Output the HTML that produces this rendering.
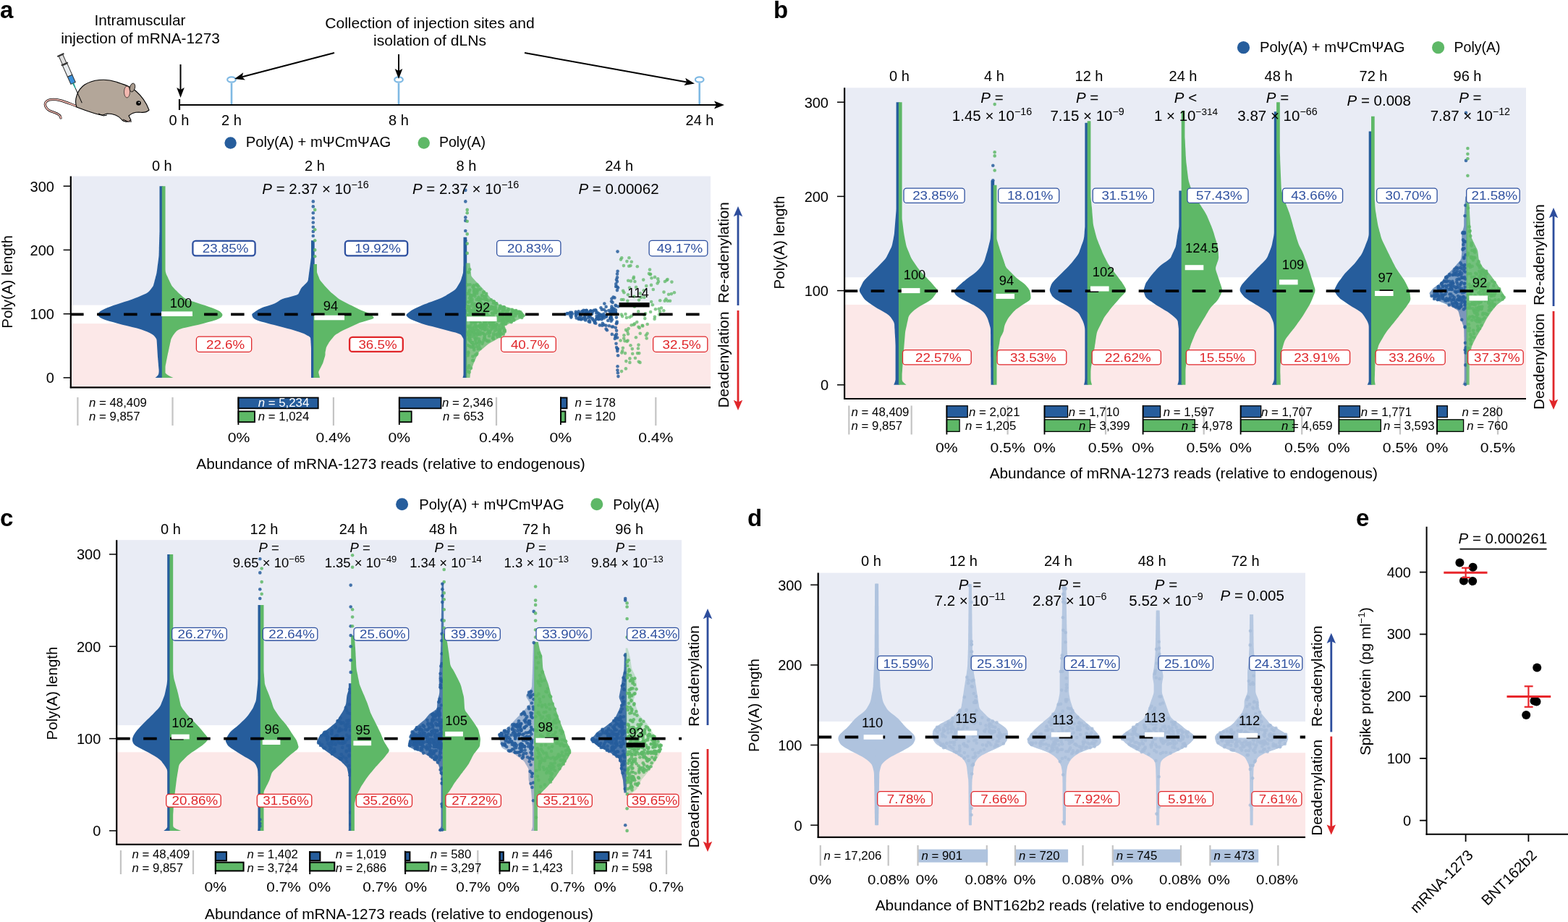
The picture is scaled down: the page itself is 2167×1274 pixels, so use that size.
<!DOCTYPE html>
<html><head><meta charset="utf-8"><title>Figure</title>
<style>html,body{margin:0;padding:0;background:#fff;}svg{display:block;}text{font-family:'Liberation Sans', Arial, Helvetica, sans-serif;}</style>
</head><body>
<svg width="2167" height="1274" viewBox="0 0 2167 1274">
<rect width="2167" height="1274" fill="#fff"/>
<text x="0" y="25" font-size="33" font-weight="bold">a</text>
<text x="193.5" y="35.2" font-size="20.8" text-anchor="middle" fill="#000" >Intramuscular</text>
<text x="194" y="60.3" font-size="20.8" text-anchor="middle" fill="#000" >injection of mRNA-1273</text>
<text x="594" y="38.9" font-size="21.1" text-anchor="middle" fill="#000" >Collection of injection sites and</text>
<text x="594" y="63.3" font-size="21.1" text-anchor="middle" fill="#000" >isolation of dLNs</text>
<line x1="248" y1="145" x2="990" y2="145" stroke="#000" stroke-width="2.2" />
<path d="M1001,145 L987,150.5 L990,145 L987,139.5 Z" fill="#000"/>
<line x1="248" y1="137" x2="248" y2="152" stroke="#000" stroke-width="2.2" />
<line x1="249.5" y1="89" x2="249.5" y2="124" stroke="#000" stroke-width="2" />
<path d="M249.5,135 L244.2,121 L249.5,124 L254.8,121 Z" fill="#000"/>
<line x1="320" y1="115" x2="320" y2="144" stroke="#7fb9e3" stroke-width="2.6" />
<ellipse cx="320" cy="110" rx="5.8" ry="3.6" fill="#fff" stroke="#7fb9e3" stroke-width="2.2"/>
<line x1="551" y1="115" x2="551" y2="144" stroke="#7fb9e3" stroke-width="2.6" />
<ellipse cx="551" cy="110" rx="5.8" ry="3.6" fill="#fff" stroke="#7fb9e3" stroke-width="2.2"/>
<line x1="966.7" y1="115" x2="966.7" y2="144" stroke="#7fb9e3" stroke-width="2.6" />
<ellipse cx="966.7" cy="110" rx="5.8" ry="3.6" fill="#fff" stroke="#7fb9e3" stroke-width="2.2"/>
<line x1="462" y1="73" x2="334.6" y2="106.2" stroke="#000" stroke-width="2" />
<path d="M324,109 L336.2,100.3 L334.6,106.2 L338.9,110.6 Z" fill="#000"/>
<line x1="551" y1="75" x2="551" y2="98" stroke="#000" stroke-width="2" />
<path d="M551,109 L545.7,95 L551,98 L556.3,95 Z" fill="#000"/>
<line x1="725" y1="73" x2="949.2" y2="113.4" stroke="#000" stroke-width="2" />
<path d="M960,115.4 L945.3,118.1 L949.2,113.4 L947.2,107.7 Z" fill="#000"/>
<text x="247.5" y="172.5" font-size="20" text-anchor="middle" fill="#000" >0 h</text>
<text x="320" y="172.5" font-size="20" text-anchor="middle" fill="#000" >2 h</text>
<text x="551" y="172.5" font-size="20" text-anchor="middle" fill="#000" >8 h</text>
<text x="967" y="172.5" font-size="20" text-anchor="middle" fill="#000" >24 h</text>
<circle cx="318.6" cy="197.5" r="8.2" fill="#265d9c"/>
<text x="339.7" y="203" font-size="20.2" text-anchor="start" fill="#000"  textLength="200.5" lengthAdjust="spacingAndGlyphs">Poly(A) + m&#936;Cm&#936;AG</text>
<circle cx="585.8" cy="197.5" r="8.2" fill="#5eb867"/>
<text x="607" y="203" font-size="19.6" text-anchor="start" fill="#000"  textLength="64" lengthAdjust="spacingAndGlyphs">Poly(A)</text>
<path d="M107,147 C95,143 80,135 68,138 C58,141 62,152 74,155 C80,157 84,160 84,163" fill="none" stroke="#000" stroke-width="3.2" stroke-linecap="round"/>
<path d="M107,147 C95,143 80,135 68,138 C58,141 62,152 74,155 C80,157 84,160 84,163" fill="none" stroke="#f2b8b0" stroke-width="1.8" stroke-linecap="round"/>
<path d="M106,148 C102,138 107,124 117,117 C128,110 146,108 160,113 C172,117 182,120 188,126 C196,133 203,144 206,152 C203,155 198,156 192,155 C186,155 181,157 178,160 L181,166 C177,169 171,169 168,165 C163,159 156,157 148,157 L142,159 C134,159 122,154 106,148 Z" fill="#b3a699" stroke="#000" stroke-width="1.1"/>
<ellipse cx="183" cy="121" rx="3.5" ry="6" fill="#a89a8d" stroke="#000" stroke-width="0.8" transform="rotate(15 183 121)"/>
<ellipse cx="175.5" cy="127" rx="4" ry="8" fill="#f2b8b0" stroke="#000" stroke-width="0.6"/>
<circle cx="191.5" cy="142.5" r="3.3" fill="#000"/><circle cx="192.3" cy="141.7" r="0.9" fill="#fff"/>
<path d="M170,165 L177,168 L182,168" fill="#f2b8b0" stroke="#000" stroke-width="1"/>
<path d="M136,157 L143,160 L148,159" fill="none" stroke="#000" stroke-width="1"/>
<g transform="translate(84,76.5) rotate(-24)"><rect x="-3" y="0" width="6" height="13" fill="#ddd" stroke="#333" stroke-width="1"/><rect x="-5" y="-1.5" width="10" height="2" fill="#333"/><rect x="-5" y="12" width="10" height="2" fill="#333"/><rect x="-3.5" y="14" width="7" height="17" fill="#e8ecef" stroke="#333" stroke-width="1"/><rect x="-3.5" y="31" width="7" height="11" fill="#3a8fd8" stroke="#333" stroke-width="1"/><path d="M-1.2,42 L1.2,42 L0.6,50 L-0.6,50 Z" fill="#1a9a8a"/><line x1="0" y1="50" x2="0" y2="72" stroke="#000" stroke-width="0.9"/></g>
<rect x="97.8" y="243.5" width="884.2" height="178.1" fill="#e9ecf5" stroke="none" stroke-width="0" />
<rect x="97.8" y="447.1" width="884.2" height="88.2" fill="#fce8e8" stroke="none" stroke-width="0" />
<path d="M225.2,521.9 L214.5,521.9 L216.7,520.2 L218.3,518.6 L219.1,516.9 L219.4,515.2 L219.6,513.6 L219.6,511.9 L219.5,510.2 L219.3,508.6 L219.2,506.9 L219,505.3 L218.9,503.6 L218.8,501.9 L218.6,500.3 L218.5,498.6 L218.3,496.9 L218.2,495.3 L218,493.6 L217.9,491.9 L217.8,490.3 L217.7,488.6 L217.6,486.9 L217.5,485.3 L217.4,483.6 L217.3,481.9 L217.2,480.3 L217.1,478.6 L217,477 L216.9,475.3 L216.8,473.6 L216.7,472 L216.6,470.3 L216.2,468.6 L215.3,467 L214,465.3 L212.5,463.6 L210.4,462 L207.4,460.3 L203.7,458.6 L199.7,457 L195,455.3 L189.3,453.6 L182.7,452 L175.9,450.3 L169.2,448.7 L162.8,447 L156.8,445.3 L150.9,443.7 L145.3,442 L141.1,440.3 L138.3,438.7 L136.5,437 L135.6,435.3 L135.6,433.7 L136.7,432 L138.3,430.3 L140.8,428.7 L144.2,427 L148.1,425.3 L152.2,423.7 L156.7,422 L161.7,420.4 L166.9,418.7 L172.1,417 L177.3,415.4 L182.2,413.7 L186.6,412 L190.7,410.4 L194.6,408.7 L198.6,407 L202.1,405.4 L204.7,403.7 L206.5,402 L207.8,400.4 L209.1,398.7 L210.4,397 L211.5,395.4 L212.2,393.7 L212.6,392.1 L213.1,390.4 L213.5,388.7 L213.9,387.1 L214.4,385.4 L214.8,383.7 L215.2,382.1 L215.7,380.4 L216.1,378.7 L216.5,377.1 L216.7,375.4 L217,373.7 L217.2,372.1 L217.4,370.4 L217.6,368.7 L217.8,367.1 L218,365.4 L218.3,363.8 L218.5,362.1 L218.7,360.4 L218.9,358.8 L219.1,357.1 L219.3,355.4 L219.5,353.8 L219.6,352.1 L219.6,350.4 L219.7,348.8 L219.7,347.1 L219.8,345.4 L219.8,343.8 L219.8,342.1 L219.9,340.4 L219.9,338.8 L220,337.1 L220,335.5 L220.1,333.8 L220.1,332.1 L220.2,330.5 L220.2,328.8 L220.3,327.1 L220.3,325.5 L220.4,323.8 L220.4,322.1 L220.5,320.5 L220.5,318.8 L220.5,317.1 L220.5,315.5 L220.5,313.8 L220.5,312.1 L220.5,310.5 L220.5,308.8 L220.5,307.2 L220.5,305.5 L220.5,303.8 L220.5,302.2 L220.5,300.5 L220.5,298.8 L220.5,297.2 L220.5,295.5 L220.5,293.8 L220.5,292.2 L220.5,290.5 L220.5,288.8 L220.5,287.2 L220.5,285.5 L220.5,283.8 L220.5,282.2 L220.5,280.5 L220.5,278.9 L220.5,277.2 L220.5,275.5 L220.5,273.9 L220.5,272.2 L220.5,270.5 L220.5,268.9 L220.5,267.2 L220.5,265.5 L220.5,263.9 L220.5,262.2 L220.5,260.5 L220.5,258.9 L220.5,257.2 L225.2,257.2 Z" fill="#265d9c" />
<path d="M223.8,521.9 L239.5,521.9 L235.5,520.2 L232.3,518.6 L230.1,516.9 L228.5,515.2 L228.5,513.6 L228.5,511.9 L228.5,510.2 L228.5,508.6 L228.5,506.9 L228.7,505.3 L229,503.6 L229.4,501.9 L229.7,500.3 L230,498.6 L230.3,496.9 L230.7,495.3 L231,493.6 L231.3,491.9 L231.7,490.3 L232,488.6 L232.4,486.9 L232.8,485.3 L233.1,483.6 L233.5,481.9 L233.8,480.3 L234.2,478.6 L234.6,477 L234.9,475.3 L235.3,473.6 L235.7,472 L236,470.3 L236.5,468.6 L237.2,467 L238.2,465.3 L239.2,463.6 L240.3,462 L241.6,460.3 L243.1,458.6 L244.6,457 L247.5,455.3 L252.5,453.6 L259.5,452 L267,450.3 L274.3,448.7 L281,447 L287.2,445.3 L293.1,443.7 L298.7,442 L302.7,440.3 L305.4,438.7 L306.9,437 L307.5,435.3 L307.1,433.7 L305.7,432 L303.8,430.3 L301,428.7 L297.1,427 L292.7,425.3 L288.2,423.7 L283.4,422 L278.3,420.4 L273.1,418.7 L267.9,417 L262.7,415.4 L258.4,413.7 L255.2,412 L253.1,410.4 L251.2,408.7 L249.3,407 L247.5,405.4 L245.7,403.7 L244.1,402 L242.4,400.4 L240.8,398.7 L239.2,397 L237.9,395.4 L236.8,393.7 L236,392.1 L235.2,390.4 L234.4,388.7 L233.6,387.1 L232.8,385.4 L232.1,383.7 L231.3,382.1 L230.5,380.4 L229.7,378.7 L229.2,377.1 L228.8,375.4 L228.6,373.7 L228.5,372.1 L228.5,370.4 L228.5,368.7 L228.5,367.1 L228.5,365.4 L228.5,363.8 L228.5,362.1 L228.5,360.4 L228.5,358.8 L228.5,357.1 L228.5,355.4 L228.5,353.8 L228.5,352.1 L228.5,350.4 L228.5,348.8 L228.5,347.1 L228.5,345.4 L228.5,343.8 L228.5,342.1 L228.5,340.4 L228.5,338.8 L228.5,337.1 L228.5,335.5 L228.5,333.8 L228.5,332.1 L228.5,330.5 L228.5,328.8 L228.5,327.1 L228.5,325.5 L228.5,323.8 L228.5,322.1 L228.5,320.5 L228.5,318.8 L228.5,317.1 L228.5,315.5 L228.5,313.8 L228.5,312.1 L228.5,310.5 L228.5,308.8 L228.5,307.2 L228.5,305.5 L228.5,303.8 L228.5,302.2 L228.5,300.5 L228.5,298.8 L228.5,297.2 L228.5,295.5 L228.5,293.8 L228.5,292.2 L228.5,290.5 L228.5,288.8 L228.5,287.2 L228.5,285.5 L228.5,283.8 L228.5,282.2 L228.5,280.5 L228.5,278.9 L228.5,277.2 L228.5,275.5 L228.5,273.9 L228.5,272.2 L228.5,270.5 L228.5,268.9 L228.5,267.2 L228.5,265.5 L228.5,263.9 L228.5,262.2 L228.5,260.5 L228.5,258.9 L228.5,257.2 L223.8,257.2 Z" fill="#5eb867" />
<path d="M434.7,521.9 L430,521.9 L430,520.7 L430,519.5 L430,518.3 L430,517.1 L430,515.9 L430,514.7 L430,513.5 L430,512.4 L430,511.2 L430,510 L430,508.8 L430,507.6 L430,506.4 L430,505.2 L430,504 L430,502.8 L430,501.6 L430,500.4 L430,499.2 L430,498 L430,496.8 L430,495.7 L430,494.5 L430,493.3 L430,492.1 L430,490.9 L430,489.7 L430,488.5 L430,487.3 L430,486.1 L430,484.9 L430,483.7 L430,482.5 L430,481.3 L429.9,480.1 L429.9,479 L429.8,477.8 L429.7,476.6 L429.7,475.4 L429.6,474.2 L429.5,473 L429.5,471.8 L429.4,470.6 L429.3,469.4 L429.2,468.2 L429.1,467 L428.2,465.8 L426.7,464.6 L424.5,463.4 L422.4,462.2 L420,461.1 L417.1,459.9 L413.7,458.7 L409.7,457.5 L405.8,456.3 L401.8,455.1 L397.5,453.9 L392.9,452.7 L388.2,451.5 L383.5,450.3 L378.9,449.1 L374.3,447.9 L369.9,446.7 L365.5,445.5 L361.2,444.4 L357.2,443.2 L354.1,442 L351.8,440.8 L350.3,439.6 L349.4,438.4 L348.9,437.2 L348.4,436 L348.2,434.8 L348.7,433.6 L350,432.4 L351.8,431.2 L353.5,430 L355.4,428.8 L357.4,427.6 L359.5,426.5 L362,425.3 L365.2,424.1 L368.9,422.9 L372.9,421.7 L376.7,420.5 L379.8,419.3 L382.1,418.1 L383.8,416.9 L385.6,415.7 L387.4,414.5 L390,413.3 L393.6,412.1 L398.1,410.9 L402.5,409.8 L406.9,408.6 L410.3,407.4 L412.3,406.2 L413,405 L413.5,403.8 L414.1,402.6 L414.6,401.4 L415.2,400.2 L415.8,399 L416.7,397.8 L417.7,396.6 L418.9,395.4 L420.1,394.2 L421.3,393.1 L422.4,391.9 L423.6,390.7 L424.7,389.5 L425.4,388.3 L425.8,387.1 L426,385.9 L426.1,384.7 L426.3,383.5 L426.5,382.3 L426.6,381.1 L426.8,379.9 L426.9,378.7 L427.1,377.5 L427.2,376.3 L427.4,375.2 L427.6,374 L427.7,372.8 L427.9,371.6 L428,370.4 L428.2,369.2 L428.4,368 L428.5,366.8 L428.7,365.6 L428.8,364.4 L429,363.2 L429.2,362 L429.3,360.8 L429.5,359.6 L429.6,358.5 L429.8,357.3 L430,356.1 L430,354.9 L430,353.7 L430,352.5 L430,351.3 L430,350.1 L430,348.9 L430,347.7 L430,346.5 L430,345.3 L430,344.1 L430,342.9 L430,341.7 L430,340.6 L430,339.4 L430,338.2 L430,337 L430,335.8 L430,334.6 L430,333.4 L430,332.2 L434.7,332.2 Z" fill="#265d9c" />
<path d="M433.3,521.9 L442,521.9 L441.8,520.9 L441.5,519.9 L441.3,518.9 L441,517.9 L440.8,517 L440.5,516 L440.3,515 L440.3,514 L440.5,513 L441,512 L441.5,511 L442,510 L442.6,509.1 L443.1,508.1 L443.6,507.1 L444.1,506.1 L444.6,505.1 L445.1,504.1 L445.6,503.1 L446.1,502.1 L446.4,501.2 L446.7,500.2 L447,499.2 L447.3,498.2 L447.6,497.2 L447.9,496.2 L448.2,495.2 L448.5,494.2 L448.8,493.3 L449.1,492.3 L449.3,491.3 L449.5,490.3 L449.5,489.3 L449.5,488.3 L449.5,487.3 L449.6,486.3 L449.8,485.4 L450,484.4 L450.2,483.4 L450.4,482.4 L450.6,481.4 L450.8,480.4 L451.2,479.4 L451.7,478.4 L452.2,477.5 L452.8,476.5 L453.4,475.5 L454,474.5 L454.5,473.5 L455.2,472.5 L455.9,471.5 L456.7,470.5 L457.5,469.6 L458.3,468.6 L459.2,467.6 L460,466.6 L460.8,465.6 L461.6,464.6 L462.6,463.6 L463.8,462.6 L465.2,461.6 L466.8,460.7 L468.3,459.7 L469.8,458.7 L471.6,457.7 L473.5,456.7 L475.6,455.7 L477.8,454.7 L480,453.7 L482.2,452.8 L484.4,451.8 L486.6,450.8 L488.7,449.8 L490.9,448.8 L493.1,447.8 L495.2,446.8 L497.7,445.8 L500.6,444.9 L503.8,443.9 L507.2,442.9 L510.5,441.9 L513.9,440.9 L516,439.9 L516.7,438.9 L516,437.9 L515.3,437 L514.5,436 L513.7,435 L512.3,434 L510.3,433 L507.7,432 L505,431 L502.4,430 L499.9,429.1 L497.5,428.1 L495.4,427.1 L493.5,426.1 L491.5,425.1 L489.5,424.1 L487.6,423.1 L485.6,422.1 L483.7,421.2 L481.7,420.2 L479.8,419.2 L477.9,418.2 L476,417.2 L474.1,416.2 L472.2,415.2 L470.4,414.2 L468.7,413.2 L467.3,412.3 L466.1,411.3 L465,410.3 L463.8,409.3 L462.6,408.3 L461.4,407.3 L460.2,406.3 L459,405.3 L457.9,404.4 L456.9,403.4 L455.9,402.4 L455,401.4 L454,400.4 L453.1,399.4 L452.1,398.4 L451.2,397.4 L450.2,396.5 L449.3,395.5 L448.4,394.5 L447.6,393.5 L446.8,392.5 L445.9,391.5 L445.1,390.5 L444.2,389.5 L443.4,388.6 L442.6,387.6 L442,386.6 L441.5,385.6 L441.1,384.6 L440.8,383.6 L440.4,382.6 L440,381.6 L439.6,380.7 L439.3,379.7 L438.9,378.7 L438.5,377.7 L438.2,376.7 L438,375.7 L438,374.7 L438,373.7 L438,372.8 L438,371.8 L438,370.8 L438,369.8 L438,368.8 L438,367.8 L438,366.8 L438,365.8 L438,364.9 L433.3,364.9 Z" fill="#5eb867" />
<g fill="#265d9c" fill-opacity="0.85"><circle cx="432.8" cy="278.4" r="2.3"/><circle cx="432.8" cy="285.4" r="2.3"/><circle cx="432.8" cy="294.3" r="2.3"/><circle cx="432.8" cy="301.3" r="2.3"/><circle cx="432.8" cy="307.5" r="2.3"/><circle cx="432.8" cy="313.7" r="2.3"/><circle cx="432.8" cy="319.9" r="2.3"/><circle cx="432.8" cy="326" r="2.3"/></g>
<g fill="#5eb867" fill-opacity="0.85"><circle cx="435.2" cy="289.9" r="2.3"/><circle cx="435.2" cy="317.2" r="2.3"/><circle cx="435.2" cy="332.2" r="2.3"/><circle cx="435.2" cy="345.4" r="2.3"/><circle cx="435.2" cy="354.3" r="2.3"/></g>
<path d="M645.2,521.9 L639.5,521.9 L639.8,520.7 L640.2,519.5 L640.4,518.2 L640.5,517 L640.5,515.8 L640.5,514.6 L640.5,513.4 L640.5,512.1 L640.5,510.9 L640.5,509.7 L640.5,508.5 L640.5,507.3 L640.5,506 L640.5,504.8 L640.5,503.6 L640.5,502.4 L640.5,501.1 L640.5,499.9 L640.5,498.7 L640.5,497.5 L640.5,496.3 L640.5,495 L640.5,493.8 L640.5,492.6 L640.5,491.4 L640.5,490.2 L640.5,488.9 L640.5,487.7 L640.5,486.5 L640.5,485.3 L640.5,484.1 L640.5,482.8 L640.5,481.6 L640.5,480.4 L640.5,479.2 L640.5,478 L640.5,476.7 L640.5,475.5 L640.5,474.3 L640.5,473.1 L640.5,471.8 L640.5,470.6 L640.5,469.4 L640.4,468.2 L639.8,467 L639.1,465.7 L638.3,464.5 L637.6,463.3 L636.2,462.1 L633.6,460.9 L629.6,459.6 L625,458.4 L620.4,457.2 L615.8,456 L611.1,454.8 L606.5,453.5 L601.8,452.3 L597.2,451.1 L592.5,449.9 L588,448.7 L583.9,447.4 L580.4,446.2 L577.2,445 L574,443.8 L570.8,442.5 L567.9,441.3 L565.7,440.1 L564.2,438.9 L563,437.7 L561.8,436.4 L561.4,435.2 L562.1,434 L563.6,432.8 L565.2,431.6 L566.8,430.3 L568.4,429.1 L570.2,427.9 L572.5,426.7 L575.1,425.5 L577.9,424.2 L580.7,423 L583.4,421.8 L586.4,420.6 L589.5,419.4 L592.8,418.1 L596.1,416.9 L599.4,415.7 L602.8,414.5 L606.1,413.2 L609.2,412 L611.9,410.8 L614.2,409.6 L616.2,408.4 L618.2,407.1 L620.1,405.9 L622.1,404.7 L624.1,403.5 L626.1,402.3 L627.9,401 L629.4,399.8 L630.4,398.6 L631.2,397.4 L631.9,396.2 L632.7,394.9 L633.4,393.7 L634.2,392.5 L634.9,391.3 L635.7,390.1 L636.3,388.8 L636.8,387.6 L637.2,386.4 L637.6,385.2 L637.9,384 L638.3,382.7 L638.7,381.5 L639.1,380.3 L639.4,379.1 L639.8,377.8 L640,376.6 L640.1,375.4 L640.1,374.2 L640.2,373 L640.2,371.7 L640.3,370.5 L640.3,369.3 L640.4,368.1 L640.5,366.9 L640.5,365.6 L640.5,364.4 L640.5,363.2 L640.5,362 L640.5,360.8 L640.5,359.5 L640.5,358.3 L640.5,357.1 L640.5,355.9 L640.5,354.7 L640.5,353.4 L640.5,352.2 L640.5,351 L640.5,349.8 L640.5,348.5 L640.5,347.3 L640.5,346.1 L640.5,344.9 L640.5,343.7 L640.5,342.4 L640.5,341.2 L640.5,340 L640.5,338.8 L640.5,337.6 L640.5,336.3 L640.5,335.1 L640.5,333.9 L640.5,332.7 L640.5,331.5 L640.5,330.2 L640.5,329 L640.5,327.8 L645.2,327.8 Z" fill="#265d9c" />
<path d="M643.8,521.9 L649.5,521.9 L649.6,520.9 L649.7,519.9 L649.8,518.9 L649.9,517.9 L649.9,516.9 L650,515.9 L650.1,514.9 L650.3,513.9 L650.6,512.9 L651,511.9 L651.3,510.9 L651.7,509.9 L652.1,508.9 L652.5,507.9 L652.8,507 L653.2,506 L653.6,505 L653.9,504 L654.3,503 L654.7,502 L655.2,501 L655.6,500 L656,499 L656.5,498 L656.9,497 L657.4,496 L657.8,495 L658.2,494 L658.7,493 L659.1,492 L659.6,491 L660,490 L660.4,489 L660.9,488 L661.5,487 L662.3,486 L663.4,485 L664.6,484 L665.8,483 L667,482 L668.2,481 L669.3,480 L670.5,479 L671.7,478 L672.9,477.1 L674.1,476.1 L675.5,475.1 L677.1,474.1 L678.9,473.1 L680.7,472.1 L682.5,471.1 L684.3,470.1 L686.1,469.1 L687.9,468.1 L689.7,467.1 L691.3,466.1 L692.7,465.1 L694.1,464.1 L695.4,463.1 L696.7,462.1 L698,461.1 L699.3,460.1 L700,459.1 L700.1,458.1 L699.8,457.1 L699.5,456.1 L699.2,455.1 L698.8,454.1 L698.5,453.1 L698.2,452.1 L697.9,451.1 L698.3,450.1 L699.5,449.1 L701.7,448.2 L703.9,447.2 L706.2,446.2 L708.5,445.2 L710.7,444.2 L713,443.2 L715.2,442.2 L717.4,441.2 L719.6,440.2 L721.7,439.2 L723.7,438.2 L725.6,437.2 L726.4,436.2 L726,435.2 L724.7,434.2 L723.4,433.2 L722.1,432.2 L720.8,431.2 L719.4,430.2 L717.2,429.2 L714.4,428.2 L711.1,427.2 L707.8,426.2 L704.5,425.2 L701.2,424.2 L697.8,423.2 L694.5,422.2 L691.3,421.2 L688.8,420.2 L687.1,419.2 L685.9,418.3 L684.7,417.3 L683.5,416.3 L682.3,415.3 L681.1,414.3 L679.9,413.3 L678.7,412.3 L677.6,411.3 L676.7,410.3 L675.9,409.3 L675.1,408.3 L674.3,407.3 L673.5,406.3 L672.7,405.3 L671.9,404.3 L671.1,403.3 L670.3,402.3 L669.4,401.3 L668.6,400.3 L667.7,399.3 L666.8,398.3 L665.8,397.3 L664.9,396.3 L664,395.3 L663,394.3 L662.1,393.3 L661.1,392.3 L660.2,391.3 L659.3,390.3 L658.3,389.4 L657.4,388.4 L656.5,387.4 L655.6,386.4 L654.7,385.4 L653.8,384.4 L652.9,383.4 L652.1,382.4 L651.5,381.4 L651.2,380.4 L651.1,379.4 L651,378.4 L650.9,377.4 L650.8,376.4 L650.7,375.4 L650.6,374.4 L650.5,373.4 L650.4,372.4 L650.3,371.4 L650.2,370.4 L650.1,369.4 L650,368.4 L649.9,367.4 L649.8,366.4 L649.7,365.4 L649.6,364.4 L649.5,363.4 L643.8,363.4 Z" fill="#5eb867" fill-opacity="0.75"/>
<g fill="#5eb867" fill-opacity="0.85"><circle cx="674.7" cy="457.2" r="2.3"/><circle cx="681.4" cy="446.4" r="2.3"/><circle cx="650.9" cy="433.7" r="2.3"/><circle cx="654" cy="498.1" r="2.3"/><circle cx="658.2" cy="455.6" r="2.3"/><circle cx="647.8" cy="376.5" r="2.3"/><circle cx="667.9" cy="421.8" r="2.3"/><circle cx="657.4" cy="433.3" r="2.3"/><circle cx="712.5" cy="433.3" r="2.3"/><circle cx="703" cy="438.1" r="2.3"/><circle cx="650.7" cy="431.7" r="2.3"/><circle cx="684.2" cy="427.4" r="2.3"/><circle cx="647.5" cy="452" r="2.3"/><circle cx="664.4" cy="418.2" r="2.3"/><circle cx="708.5" cy="429.4" r="2.3"/><circle cx="712.3" cy="429.8" r="2.3"/><circle cx="695.8" cy="444.9" r="2.3"/><circle cx="710.1" cy="442.1" r="2.3"/><circle cx="649.5" cy="416.7" r="2.3"/><circle cx="655.6" cy="465.9" r="2.3"/><circle cx="654.9" cy="399.2" r="2.3"/><circle cx="669.2" cy="433.7" r="2.3"/><circle cx="675" cy="438.9" r="2.3"/><circle cx="678.1" cy="448" r="2.3"/><circle cx="718.1" cy="435.7" r="2.3"/><circle cx="714.8" cy="431.4" r="2.3"/><circle cx="686" cy="419.4" r="2.3"/><circle cx="658.1" cy="431.7" r="2.3"/><circle cx="684.5" cy="419" r="2.3"/><circle cx="664.3" cy="412.7" r="2.3"/><circle cx="661.1" cy="429.8" r="2.3"/><circle cx="673.2" cy="422.2" r="2.3"/><circle cx="649.2" cy="453.2" r="2.3"/><circle cx="686.4" cy="419.8" r="2.3"/><circle cx="673.9" cy="471.5" r="2.3"/><circle cx="655.6" cy="444.1" r="2.3"/><circle cx="685.5" cy="452.4" r="2.3"/><circle cx="647.6" cy="417.5" r="2.3"/><circle cx="649.4" cy="434.5" r="2.3"/><circle cx="669.5" cy="429.4" r="2.3"/><circle cx="681.9" cy="416.3" r="2.3"/><circle cx="721.2" cy="438.9" r="2.3"/><circle cx="649.8" cy="451.2" r="2.3"/><circle cx="648.4" cy="434.9" r="2.3"/><circle cx="667.2" cy="460.3" r="2.3"/><circle cx="658.1" cy="434.5" r="2.3"/><circle cx="663.6" cy="481.8" r="2.3"/><circle cx="694.7" cy="450.8" r="2.3"/><circle cx="658.7" cy="413.9" r="2.3"/><circle cx="682.5" cy="441.3" r="2.3"/><circle cx="691.3" cy="432.9" r="2.3"/><circle cx="695.2" cy="436.9" r="2.3"/><circle cx="659.1" cy="405.5" r="2.3"/><circle cx="694" cy="442.9" r="2.3"/><circle cx="661.8" cy="457.2" r="2.3"/><circle cx="654.4" cy="394.4" r="2.3"/><circle cx="646.8" cy="437.3" r="2.3"/><circle cx="683.6" cy="443.7" r="2.3"/><circle cx="653.3" cy="492.5" r="2.3"/><circle cx="650.5" cy="433.7" r="2.3"/><circle cx="681.9" cy="433.7" r="2.3"/><circle cx="672" cy="431.4" r="2.3"/><circle cx="699.5" cy="430.2" r="2.3"/><circle cx="646.6" cy="491.3" r="2.3"/><circle cx="717.9" cy="431.7" r="2.3"/><circle cx="669.9" cy="456" r="2.3"/><circle cx="671.3" cy="435.3" r="2.3"/><circle cx="664" cy="446.8" r="2.3"/><circle cx="680.9" cy="446.4" r="2.3"/><circle cx="665.2" cy="452" r="2.3"/><circle cx="647.6" cy="426.6" r="2.3"/><circle cx="704.9" cy="436.1" r="2.3"/><circle cx="657.3" cy="451.2" r="2.3"/><circle cx="659.1" cy="424.6" r="2.3"/><circle cx="668.2" cy="461.1" r="2.3"/><circle cx="653.3" cy="430.6" r="2.3"/><circle cx="662.8" cy="450.4" r="2.3"/><circle cx="666.2" cy="421.8" r="2.3"/><circle cx="652.7" cy="419.4" r="2.3"/><circle cx="680.6" cy="448.8" r="2.3"/><circle cx="662.2" cy="415.9" r="2.3"/><circle cx="652.3" cy="458" r="2.3"/><circle cx="660.6" cy="438.1" r="2.3"/><circle cx="691.4" cy="424.2" r="2.3"/><circle cx="660" cy="461.5" r="2.3"/><circle cx="680.7" cy="424.2" r="2.3"/><circle cx="664.6" cy="424.2" r="2.3"/><circle cx="658.6" cy="466.7" r="2.3"/><circle cx="661.3" cy="425" r="2.3"/><circle cx="668.5" cy="448.4" r="2.3"/><circle cx="672.5" cy="443.7" r="2.3"/><circle cx="650.5" cy="409.9" r="2.3"/><circle cx="650.9" cy="508.8" r="2.3"/><circle cx="682.6" cy="416.7" r="2.3"/><circle cx="710.3" cy="442.5" r="2.3"/><circle cx="652.2" cy="408.7" r="2.3"/><circle cx="702.4" cy="428.2" r="2.3"/><circle cx="684.9" cy="432.1" r="2.3"/><circle cx="663.5" cy="452.8" r="2.3"/><circle cx="649.5" cy="458" r="2.3"/><circle cx="668.7" cy="435.3" r="2.3"/><circle cx="648.3" cy="423.8" r="2.3"/><circle cx="668.7" cy="413.1" r="2.3"/><circle cx="671.8" cy="409.1" r="2.3"/><circle cx="665.1" cy="413.5" r="2.3"/><circle cx="653.1" cy="498.1" r="2.3"/><circle cx="660.8" cy="462.3" r="2.3"/><circle cx="685.4" cy="432.1" r="2.3"/><circle cx="707" cy="443.7" r="2.3"/><circle cx="672.6" cy="434.5" r="2.3"/><circle cx="691.2" cy="456" r="2.3"/><circle cx="702.4" cy="440.5" r="2.3"/><circle cx="656.8" cy="448" r="2.3"/><circle cx="709.5" cy="437.7" r="2.3"/><circle cx="685.2" cy="462.3" r="2.3"/><circle cx="669.5" cy="409.5" r="2.3"/><circle cx="646.3" cy="423" r="2.3"/><circle cx="712.6" cy="433.7" r="2.3"/><circle cx="652.2" cy="479.4" r="2.3"/><circle cx="673.4" cy="454.8" r="2.3"/><circle cx="677.1" cy="443.3" r="2.3"/><circle cx="646" cy="426.2" r="2.3"/><circle cx="649" cy="478.2" r="2.3"/><circle cx="648.8" cy="467.1" r="2.3"/><circle cx="660.8" cy="395.6" r="2.3"/><circle cx="663.1" cy="471.9" r="2.3"/><circle cx="661.9" cy="450.8" r="2.3"/><circle cx="681.6" cy="448" r="2.3"/><circle cx="674.7" cy="435.7" r="2.3"/><circle cx="662.9" cy="460.7" r="2.3"/><circle cx="669.7" cy="467.1" r="2.3"/><circle cx="673.3" cy="429.8" r="2.3"/><circle cx="651.6" cy="473.1" r="2.3"/><circle cx="681.4" cy="446.4" r="2.3"/><circle cx="668.5" cy="425.8" r="2.3"/><circle cx="680.5" cy="424.6" r="2.3"/><circle cx="670.8" cy="442.9" r="2.3"/><circle cx="697.8" cy="439.7" r="2.3"/><circle cx="691.7" cy="443.3" r="2.3"/><circle cx="663.1" cy="441.3" r="2.3"/><circle cx="700" cy="437.7" r="2.3"/><circle cx="658.3" cy="474.6" r="2.3"/><circle cx="703.9" cy="443.3" r="2.3"/><circle cx="656" cy="406.7" r="2.3"/><circle cx="672.6" cy="413.9" r="2.3"/><circle cx="670.2" cy="455.2" r="2.3"/><circle cx="680.8" cy="467.1" r="2.3"/><circle cx="712.6" cy="432.1" r="2.3"/><circle cx="684.8" cy="425.4" r="2.3"/><circle cx="685.4" cy="429" r="2.3"/><circle cx="668.6" cy="469.5" r="2.3"/><circle cx="646.7" cy="508.4" r="2.3"/><circle cx="648.6" cy="426.6" r="2.3"/><circle cx="649.4" cy="471.1" r="2.3"/><circle cx="652.5" cy="416.3" r="2.3"/><circle cx="656.8" cy="490.5" r="2.3"/><circle cx="681.5" cy="467.5" r="2.3"/><circle cx="708.4" cy="431.7" r="2.3"/><circle cx="659.7" cy="402.8" r="2.3"/><circle cx="647.9" cy="425" r="2.3"/><circle cx="678.4" cy="427" r="2.3"/><circle cx="653.6" cy="429.8" r="2.3"/><circle cx="707.7" cy="427.8" r="2.3"/><circle cx="654.5" cy="476.6" r="2.3"/><circle cx="712.2" cy="436.5" r="2.3"/><circle cx="655.4" cy="456.8" r="2.3"/><circle cx="678.3" cy="456" r="2.3"/><circle cx="671.9" cy="427.8" r="2.3"/><circle cx="668.8" cy="446.8" r="2.3"/><circle cx="668.9" cy="448" r="2.3"/><circle cx="662.7" cy="472.3" r="2.3"/><circle cx="653.4" cy="396.4" r="2.3"/><circle cx="656.7" cy="428.2" r="2.3"/><circle cx="701.6" cy="431" r="2.3"/><circle cx="684.5" cy="431.7" r="2.3"/><circle cx="692.8" cy="440.1" r="2.3"/><circle cx="650.9" cy="413.9" r="2.3"/><circle cx="673.2" cy="470.7" r="2.3"/><circle cx="661.5" cy="410.7" r="2.3"/><circle cx="695.2" cy="442.1" r="2.3"/><circle cx="659.6" cy="461.1" r="2.3"/><circle cx="676.5" cy="460.3" r="2.3"/><circle cx="657.7" cy="450.8" r="2.3"/><circle cx="716.1" cy="431" r="2.3"/><circle cx="682.2" cy="452.4" r="2.3"/><circle cx="701.4" cy="443.7" r="2.3"/><circle cx="667.2" cy="435.7" r="2.3"/><circle cx="647.1" cy="458.8" r="2.3"/><circle cx="673.5" cy="440.5" r="2.3"/><circle cx="663.8" cy="462.3" r="2.3"/><circle cx="685.2" cy="450.4" r="2.3"/><circle cx="691.4" cy="465.1" r="2.3"/><circle cx="689.1" cy="440.5" r="2.3"/><circle cx="705.4" cy="440.9" r="2.3"/><circle cx="673.9" cy="423" r="2.3"/><circle cx="698.5" cy="440.1" r="2.3"/><circle cx="662.1" cy="419.4" r="2.3"/><circle cx="713.2" cy="429" r="2.3"/><circle cx="662.3" cy="440.9" r="2.3"/><circle cx="683.9" cy="457.2" r="2.3"/><circle cx="717.5" cy="431.7" r="2.3"/><circle cx="655.8" cy="419.8" r="2.3"/><circle cx="659.3" cy="460.7" r="2.3"/><circle cx="682" cy="461.1" r="2.3"/><circle cx="681.9" cy="419" r="2.3"/><circle cx="691.3" cy="455.6" r="2.3"/><circle cx="667.5" cy="450.8" r="2.3"/><circle cx="651.9" cy="429" r="2.3"/><circle cx="675.7" cy="471.1" r="2.3"/><circle cx="664.3" cy="452.8" r="2.3"/><circle cx="699.9" cy="435.7" r="2.3"/><circle cx="648.1" cy="505.2" r="2.3"/><circle cx="678.8" cy="442.5" r="2.3"/><circle cx="677.2" cy="459.2" r="2.3"/><circle cx="654.9" cy="402" r="2.3"/><circle cx="655.3" cy="437.3" r="2.3"/><circle cx="680.5" cy="454" r="2.3"/><circle cx="682" cy="468.3" r="2.3"/><circle cx="648.9" cy="411.9" r="2.3"/><circle cx="655.6" cy="405.5" r="2.3"/><circle cx="693" cy="426.6" r="2.3"/><circle cx="680.7" cy="452.4" r="2.3"/><circle cx="706.9" cy="432.5" r="2.3"/><circle cx="685.3" cy="454.8" r="2.3"/><circle cx="660.6" cy="400.4" r="2.3"/><circle cx="654.7" cy="437.7" r="2.3"/><circle cx="671.9" cy="439.7" r="2.3"/><circle cx="694.8" cy="429.8" r="2.3"/><circle cx="660.5" cy="436.5" r="2.3"/><circle cx="694" cy="432.9" r="2.3"/><circle cx="690.5" cy="461.9" r="2.3"/><circle cx="655.2" cy="432.5" r="2.3"/><circle cx="649.8" cy="407.5" r="2.3"/><circle cx="683" cy="449.6" r="2.3"/><circle cx="689.7" cy="434.9" r="2.3"/><circle cx="680.8" cy="432.9" r="2.3"/><circle cx="654.9" cy="451.2" r="2.3"/><circle cx="666.4" cy="475" r="2.3"/><circle cx="681.8" cy="427.8" r="2.3"/><circle cx="670.6" cy="428.6" r="2.3"/><circle cx="665.9" cy="454.8" r="2.3"/><circle cx="647.5" cy="417.5" r="2.3"/><circle cx="664.3" cy="439.3" r="2.3"/><circle cx="668.4" cy="427" r="2.3"/><circle cx="667" cy="449.2" r="2.3"/><circle cx="706.6" cy="437.3" r="2.3"/><circle cx="693.3" cy="447.6" r="2.3"/><circle cx="656.9" cy="468.3" r="2.3"/><circle cx="650.1" cy="469.9" r="2.3"/><circle cx="690.2" cy="426.2" r="2.3"/><circle cx="655.5" cy="461.5" r="2.3"/><circle cx="694.2" cy="443.7" r="2.3"/><circle cx="684.5" cy="423.4" r="2.3"/><circle cx="657.5" cy="435.3" r="2.3"/><circle cx="658" cy="444.9" r="2.3"/><circle cx="689.7" cy="438.1" r="2.3"/><circle cx="659.1" cy="459.9" r="2.3"/><circle cx="647.7" cy="426.2" r="2.3"/><circle cx="695.4" cy="424.6" r="2.3"/><circle cx="655.3" cy="403.6" r="2.3"/><circle cx="692.2" cy="436.9" r="2.3"/><circle cx="720.9" cy="433.3" r="2.3"/><circle cx="667.9" cy="431" r="2.3"/><circle cx="665.3" cy="419" r="2.3"/><circle cx="703.2" cy="434.9" r="2.3"/><circle cx="648.5" cy="514.4" r="2.3"/><circle cx="682.9" cy="432.1" r="2.3"/><circle cx="681.4" cy="438.1" r="2.3"/><circle cx="673.3" cy="460.7" r="2.3"/><circle cx="655.2" cy="483.4" r="2.3"/><circle cx="679.8" cy="432.9" r="2.3"/><circle cx="722.7" cy="436.5" r="2.3"/><circle cx="650.6" cy="414.7" r="2.3"/><circle cx="682.2" cy="425.4" r="2.3"/><circle cx="654.3" cy="479.4" r="2.3"/><circle cx="650" cy="457.6" r="2.3"/><circle cx="718.3" cy="437.7" r="2.3"/><circle cx="690.3" cy="450" r="2.3"/><circle cx="655.7" cy="430.6" r="2.3"/><circle cx="670.2" cy="419.4" r="2.3"/><circle cx="666.4" cy="408.7" r="2.3"/><circle cx="669.5" cy="428.6" r="2.3"/><circle cx="696.4" cy="424.2" r="2.3"/><circle cx="663.4" cy="419" r="2.3"/><circle cx="677.3" cy="427.4" r="2.3"/><circle cx="647.6" cy="468.7" r="2.3"/><circle cx="652.2" cy="473.4" r="2.3"/><circle cx="669.8" cy="463.5" r="2.3"/><circle cx="685.2" cy="430.6" r="2.3"/><circle cx="688.7" cy="443.3" r="2.3"/><circle cx="669.7" cy="451.6" r="2.3"/><circle cx="671.9" cy="427.4" r="2.3"/><circle cx="691.5" cy="461.5" r="2.3"/><circle cx="672" cy="429.4" r="2.3"/><circle cx="677" cy="446.4" r="2.3"/><circle cx="663.7" cy="435.3" r="2.3"/><circle cx="646.7" cy="513.2" r="2.3"/><circle cx="654.4" cy="425.8" r="2.3"/><circle cx="659.6" cy="441.3" r="2.3"/><circle cx="655" cy="459.5" r="2.3"/><circle cx="656.5" cy="444.5" r="2.3"/><circle cx="647.4" cy="488.1" r="2.3"/><circle cx="669.9" cy="462.7" r="2.3"/><circle cx="646.5" cy="477" r="2.3"/><circle cx="673.9" cy="442.1" r="2.3"/><circle cx="649.6" cy="430.2" r="2.3"/><circle cx="671" cy="444.5" r="2.3"/><circle cx="659.3" cy="488.5" r="2.3"/><circle cx="650.9" cy="458.8" r="2.3"/><circle cx="657.8" cy="440.5" r="2.3"/><circle cx="672.8" cy="434.1" r="2.3"/><circle cx="648.1" cy="467.1" r="2.3"/><circle cx="665.2" cy="429" r="2.3"/><circle cx="673" cy="425.4" r="2.3"/><circle cx="654.2" cy="407.5" r="2.3"/><circle cx="659.9" cy="456" r="2.3"/><circle cx="679.2" cy="423.8" r="2.3"/><circle cx="651" cy="448.4" r="2.3"/><circle cx="717.8" cy="431.4" r="2.3"/><circle cx="646.2" cy="435.3" r="2.3"/><circle cx="647.2" cy="486.6" r="2.3"/><circle cx="647.7" cy="462.7" r="2.3"/><circle cx="662.1" cy="478.2" r="2.3"/><circle cx="652.6" cy="413.5" r="2.3"/><circle cx="654.4" cy="396" r="2.3"/><circle cx="696.9" cy="424.6" r="2.3"/><circle cx="646.8" cy="405.9" r="2.3"/><circle cx="677" cy="451.6" r="2.3"/><circle cx="648.1" cy="404.3" r="2.3"/><circle cx="689.7" cy="452.8" r="2.3"/><circle cx="661.8" cy="468.3" r="2.3"/><circle cx="681.5" cy="449.2" r="2.3"/><circle cx="650.8" cy="408.3" r="2.3"/><circle cx="696.4" cy="428.6" r="2.3"/><circle cx="671.5" cy="421.8" r="2.3"/><circle cx="656.5" cy="409.5" r="2.3"/><circle cx="660.8" cy="443.7" r="2.3"/><circle cx="675.1" cy="426.2" r="2.3"/><circle cx="654.7" cy="454.4" r="2.3"/><circle cx="689" cy="429.4" r="2.3"/><circle cx="673.8" cy="429.8" r="2.3"/><circle cx="657.1" cy="440.1" r="2.3"/><circle cx="647.5" cy="429.8" r="2.3"/><circle cx="700" cy="440.9" r="2.3"/><circle cx="653.1" cy="431.4" r="2.3"/><circle cx="690.6" cy="457.2" r="2.3"/><circle cx="713.4" cy="433.3" r="2.3"/><circle cx="663" cy="417.5" r="2.3"/><circle cx="670.7" cy="413.9" r="2.3"/><circle cx="665.3" cy="449.2" r="2.3"/><circle cx="657.9" cy="474.2" r="2.3"/><circle cx="648.3" cy="402" r="2.3"/><circle cx="654.7" cy="436.1" r="2.3"/><circle cx="667.2" cy="472.7" r="2.3"/><circle cx="648.5" cy="456.8" r="2.3"/><circle cx="676.2" cy="464.3" r="2.3"/><circle cx="646.8" cy="435.7" r="2.3"/><circle cx="697.3" cy="457.6" r="2.3"/><circle cx="675.9" cy="458.4" r="2.3"/><circle cx="696.7" cy="443.7" r="2.3"/><circle cx="708.1" cy="434.9" r="2.3"/><circle cx="660.5" cy="437.7" r="2.3"/><circle cx="649.8" cy="461.9" r="2.3"/><circle cx="651.4" cy="422.6" r="2.3"/><circle cx="658.6" cy="490.1" r="2.3"/><circle cx="692.6" cy="460.3" r="2.3"/><circle cx="661.8" cy="471.9" r="2.3"/><circle cx="690.2" cy="458.4" r="2.3"/><circle cx="696.2" cy="434.5" r="2.3"/><circle cx="702.4" cy="427.4" r="2.3"/><circle cx="678.6" cy="448.4" r="2.3"/><circle cx="653.5" cy="442.1" r="2.3"/><circle cx="673.4" cy="421.8" r="2.3"/><circle cx="656.5" cy="423.4" r="2.3"/><circle cx="682" cy="437.7" r="2.3"/><circle cx="651.3" cy="429" r="2.3"/><circle cx="672.2" cy="448.4" r="2.3"/><circle cx="662.1" cy="474.6" r="2.3"/><circle cx="675" cy="428.6" r="2.3"/><circle cx="692.1" cy="432.9" r="2.3"/><circle cx="664.6" cy="459.2" r="2.3"/><circle cx="647.2" cy="376.1" r="2.3"/><circle cx="651.5" cy="442.9" r="2.3"/><circle cx="654.7" cy="458.8" r="2.3"/><circle cx="666.2" cy="407.9" r="2.3"/><circle cx="683" cy="417.1" r="2.3"/><circle cx="718.9" cy="434.5" r="2.3"/><circle cx="678.5" cy="437.7" r="2.3"/><circle cx="668.3" cy="403.9" r="2.3"/><circle cx="657.7" cy="403.6" r="2.3"/><circle cx="671.2" cy="426.6" r="2.3"/><circle cx="649.2" cy="372.2" r="2.3"/><circle cx="694.1" cy="452.8" r="2.3"/><circle cx="650.7" cy="461.5" r="2.3"/><circle cx="666.8" cy="429.4" r="2.3"/><circle cx="694.6" cy="438.5" r="2.3"/><circle cx="660.8" cy="482.2" r="2.3"/><circle cx="668.4" cy="454" r="2.3"/><circle cx="686.1" cy="448.4" r="2.3"/><circle cx="665.3" cy="428.2" r="2.3"/><circle cx="657.4" cy="469.5" r="2.3"/><circle cx="650.9" cy="444.1" r="2.3"/><circle cx="681.7" cy="464.3" r="2.3"/><circle cx="717.3" cy="430.6" r="2.3"/><circle cx="659.5" cy="393.6" r="2.3"/><circle cx="655.4" cy="446.4" r="2.3"/><circle cx="669.5" cy="451.2" r="2.3"/><circle cx="687.7" cy="438.1" r="2.3"/><circle cx="694.4" cy="447.2" r="2.3"/><circle cx="669.8" cy="453.2" r="2.3"/><circle cx="674.7" cy="415.5" r="2.3"/><circle cx="658.4" cy="452.4" r="2.3"/><circle cx="646.4" cy="424.2" r="2.3"/><circle cx="669.4" cy="466.3" r="2.3"/><circle cx="658.8" cy="437.7" r="2.3"/><circle cx="650.6" cy="479.4" r="2.3"/><circle cx="674.8" cy="426.6" r="2.3"/><circle cx="658.1" cy="393.6" r="2.3"/><circle cx="646.4" cy="393.6" r="2.3"/><circle cx="646.6" cy="461.1" r="2.3"/><circle cx="668.5" cy="442.9" r="2.3"/><circle cx="658.9" cy="479" r="2.3"/><circle cx="657.2" cy="470.7" r="2.3"/><circle cx="688.2" cy="456.4" r="2.3"/><circle cx="662.8" cy="443.7" r="2.3"/><circle cx="655.1" cy="481" r="2.3"/><circle cx="698.1" cy="433.7" r="2.3"/><circle cx="670.9" cy="411.5" r="2.3"/><circle cx="653" cy="456.4" r="2.3"/><circle cx="697.1" cy="427.4" r="2.3"/><circle cx="708.6" cy="438.9" r="2.3"/><circle cx="668.1" cy="436.9" r="2.3"/><circle cx="646.7" cy="462.7" r="2.3"/><circle cx="714.3" cy="432.9" r="2.3"/><circle cx="661" cy="412.7" r="2.3"/><circle cx="715.8" cy="432.1" r="2.3"/><circle cx="677.8" cy="423.8" r="2.3"/><circle cx="679.6" cy="443.7" r="2.3"/><circle cx="654.9" cy="462.7" r="2.3"/><circle cx="719.5" cy="431.4" r="2.3"/><circle cx="678" cy="437.3" r="2.3"/><circle cx="671" cy="448" r="2.3"/><circle cx="671" cy="424.6" r="2.3"/><circle cx="649.3" cy="400.8" r="2.3"/><circle cx="672.5" cy="450.8" r="2.3"/><circle cx="700.5" cy="444.1" r="2.3"/><circle cx="691.5" cy="422.6" r="2.3"/><circle cx="648.3" cy="434.5" r="2.3"/><circle cx="690" cy="436.1" r="2.3"/><circle cx="666.3" cy="440.1" r="2.3"/><circle cx="712.1" cy="430.2" r="2.3"/><circle cx="671.2" cy="469.9" r="2.3"/><circle cx="676.1" cy="446.4" r="2.3"/><circle cx="678.8" cy="414.3" r="2.3"/><circle cx="660.8" cy="432.9" r="2.3"/><circle cx="651.2" cy="409.9" r="2.3"/><circle cx="696" cy="445.6" r="2.3"/><circle cx="659.7" cy="450.8" r="2.3"/><circle cx="669" cy="403.6" r="2.3"/><circle cx="665.9" cy="450.8" r="2.3"/><circle cx="652.7" cy="453.6" r="2.3"/><circle cx="697.5" cy="456" r="2.3"/><circle cx="653.3" cy="473.1" r="2.3"/><circle cx="650.1" cy="459.9" r="2.3"/><circle cx="703.1" cy="438.1" r="2.3"/><circle cx="674.3" cy="421.4" r="2.3"/><circle cx="646.2" cy="423.4" r="2.3"/><circle cx="695.7" cy="453.6" r="2.3"/><circle cx="653.5" cy="475" r="2.3"/><circle cx="665.4" cy="440.1" r="2.3"/><circle cx="649.6" cy="437.3" r="2.3"/><circle cx="696.7" cy="457.2" r="2.3"/><circle cx="687.4" cy="465.1" r="2.3"/><circle cx="695.7" cy="461.9" r="2.3"/><circle cx="694.2" cy="431.7" r="2.3"/><circle cx="648.4" cy="465.1" r="2.3"/><circle cx="657.3" cy="427.4" r="2.3"/><circle cx="688" cy="461.1" r="2.3"/><circle cx="647.7" cy="417.1" r="2.3"/><circle cx="657.6" cy="400.4" r="2.3"/><circle cx="652.4" cy="445.6" r="2.3"/><circle cx="706.6" cy="445.3" r="2.3"/><circle cx="652.7" cy="453.6" r="2.3"/><circle cx="651.7" cy="465.1" r="2.3"/><circle cx="697.2" cy="447.6" r="2.3"/><circle cx="651.9" cy="473.4" r="2.3"/><circle cx="672.2" cy="405.9" r="2.3"/><circle cx="649.6" cy="393.2" r="2.3"/><circle cx="699.2" cy="447.6" r="2.3"/><circle cx="697.2" cy="440.1" r="2.3"/><circle cx="647" cy="450.8" r="2.3"/><circle cx="686.5" cy="448.4" r="2.3"/><circle cx="679.8" cy="425.8" r="2.3"/><circle cx="683.8" cy="441.3" r="2.3"/><circle cx="682.6" cy="442.1" r="2.3"/><circle cx="655.2" cy="421.8" r="2.3"/><circle cx="719.9" cy="435.3" r="2.3"/><circle cx="653.3" cy="420.2" r="2.3"/><circle cx="663.7" cy="399.6" r="2.3"/><circle cx="658.9" cy="462.7" r="2.3"/></g>
<g fill="#265d9c" fill-opacity="0.85"><circle cx="643.3" cy="262.9" r="2.3"/><circle cx="643.3" cy="278.4" r="2.3"/><circle cx="643.3" cy="300.4" r="2.3"/><circle cx="643.3" cy="304.9" r="2.3"/><circle cx="643.3" cy="319" r="2.3"/><circle cx="643.3" cy="332.2" r="2.3"/></g>
<g fill="#5eb867" fill-opacity="0.85"><circle cx="645.7" cy="289.9" r="2.3"/><circle cx="645.7" cy="294.3" r="2.3"/><circle cx="645.7" cy="305.7" r="2.3"/><circle cx="645.7" cy="323.4" r="2.3"/><circle cx="645.7" cy="336.6" r="2.3"/><circle cx="645.7" cy="349.9" r="2.3"/></g>
<g fill="#265d9c" fill-opacity="0.85"><circle cx="798" cy="433.4" r="2.3"/><circle cx="806.4" cy="428.7" r="2.3"/><circle cx="799.7" cy="430.4" r="2.3"/><circle cx="850.9" cy="465.7" r="2.3"/><circle cx="845" cy="416.6" r="2.3"/><circle cx="851.1" cy="422.6" r="2.3"/><circle cx="836.6" cy="436.4" r="2.3"/><circle cx="811" cy="434.7" r="2.3"/><circle cx="853.7" cy="482.1" r="2.3"/><circle cx="803.6" cy="441.2" r="2.3"/><circle cx="845.5" cy="429.5" r="2.3"/><circle cx="847.2" cy="428.7" r="2.3"/><circle cx="844.6" cy="433.4" r="2.3"/><circle cx="853.4" cy="511.5" r="2.3"/><circle cx="844.6" cy="443.8" r="2.3"/><circle cx="852" cy="386.4" r="2.3"/><circle cx="799.5" cy="440.7" r="2.3"/><circle cx="803.1" cy="434.7" r="2.3"/><circle cx="813.6" cy="444.2" r="2.3"/><circle cx="790" cy="431.7" r="2.3"/><circle cx="845.4" cy="423.5" r="2.3"/><circle cx="843.6" cy="439" r="2.3"/><circle cx="851.9" cy="447.2" r="2.3"/><circle cx="818.8" cy="440.3" r="2.3"/><circle cx="853.5" cy="506.3" r="2.3"/><circle cx="834.9" cy="439.4" r="2.3"/><circle cx="831.8" cy="427.8" r="2.3"/><circle cx="825.1" cy="439.9" r="2.3"/><circle cx="850.6" cy="431.2" r="2.3"/><circle cx="854.1" cy="397.6" r="2.3"/><circle cx="804.2" cy="430.4" r="2.3"/><circle cx="851.5" cy="474.8" r="2.3"/><circle cx="816.2" cy="438.6" r="2.3"/><circle cx="854.1" cy="491.2" r="2.3"/><circle cx="815.2" cy="445" r="2.3"/><circle cx="821.6" cy="444.2" r="2.3"/><circle cx="835.3" cy="419.6" r="2.3"/><circle cx="832.2" cy="439.4" r="2.3"/><circle cx="796.5" cy="435.1" r="2.3"/><circle cx="832.2" cy="449.8" r="2.3"/><circle cx="810.6" cy="428.7" r="2.3"/><circle cx="845.8" cy="461.9" r="2.3"/><circle cx="845.6" cy="451.5" r="2.3"/><circle cx="784.7" cy="433.4" r="2.3"/><circle cx="796.7" cy="439.4" r="2.3"/><circle cx="830.7" cy="434.7" r="2.3"/><circle cx="843.5" cy="439.9" r="2.3"/><circle cx="850.8" cy="452.8" r="2.3"/><circle cx="788" cy="431.7" r="2.3"/><circle cx="852.4" cy="446.3" r="2.3"/><circle cx="853" cy="378.6" r="2.3"/><circle cx="838" cy="437.7" r="2.3"/><circle cx="790.9" cy="433.8" r="2.3"/><circle cx="824.5" cy="436.9" r="2.3"/><circle cx="838.9" cy="456.3" r="2.3"/><circle cx="850.2" cy="463.6" r="2.3"/><circle cx="848.7" cy="426.9" r="2.3"/><circle cx="795.8" cy="430.8" r="2.3"/><circle cx="796.1" cy="433" r="2.3"/><circle cx="841.9" cy="450.2" r="2.3"/><circle cx="823.3" cy="446.8" r="2.3"/><circle cx="828.4" cy="440.7" r="2.3"/><circle cx="853.5" cy="347.6" r="2.3"/><circle cx="852.8" cy="396.3" r="2.3"/><circle cx="801.4" cy="436" r="2.3"/><circle cx="833.1" cy="436" r="2.3"/><circle cx="844.2" cy="437.7" r="2.3"/><circle cx="789.3" cy="438.6" r="2.3"/><circle cx="849.4" cy="411.4" r="2.3"/><circle cx="829.4" cy="435.6" r="2.3"/><circle cx="847.3" cy="451.5" r="2.3"/><circle cx="808.5" cy="429.1" r="2.3"/><circle cx="804" cy="439" r="2.3"/><circle cx="816.2" cy="429.5" r="2.3"/><circle cx="800.1" cy="432.5" r="2.3"/><circle cx="807.9" cy="438.6" r="2.3"/><circle cx="827.4" cy="441.2" r="2.3"/><circle cx="816.4" cy="429.5" r="2.3"/><circle cx="800.4" cy="440.7" r="2.3"/><circle cx="812.8" cy="432.5" r="2.3"/><circle cx="853.2" cy="485.1" r="2.3"/><circle cx="819.5" cy="442" r="2.3"/><circle cx="795.9" cy="436.4" r="2.3"/><circle cx="797.3" cy="432.5" r="2.3"/><circle cx="813" cy="439" r="2.3"/><circle cx="805.2" cy="430.4" r="2.3"/><circle cx="800.3" cy="439" r="2.3"/><circle cx="830.5" cy="425.2" r="2.3"/><circle cx="851.2" cy="395.9" r="2.3"/><circle cx="814.8" cy="435.1" r="2.3"/><circle cx="821.8" cy="445.9" r="2.3"/><circle cx="846.6" cy="417.9" r="2.3"/><circle cx="806.4" cy="431.7" r="2.3"/><circle cx="843.6" cy="430.8" r="2.3"/><circle cx="823.6" cy="429.1" r="2.3"/><circle cx="824.2" cy="432.5" r="2.3"/><circle cx="795.5" cy="433.4" r="2.3"/><circle cx="801.1" cy="433" r="2.3"/><circle cx="853.1" cy="466.6" r="2.3"/><circle cx="808.4" cy="436.9" r="2.3"/><circle cx="822.3" cy="443.3" r="2.3"/><circle cx="851.1" cy="433" r="2.3"/><circle cx="838.1" cy="436.4" r="2.3"/><circle cx="852.1" cy="456.7" r="2.3"/><circle cx="843.2" cy="439.9" r="2.3"/><circle cx="852.7" cy="444.6" r="2.3"/><circle cx="827" cy="436.4" r="2.3"/><circle cx="809.5" cy="433.4" r="2.3"/><circle cx="809.1" cy="442.5" r="2.3"/><circle cx="853.9" cy="515.3" r="2.3"/><circle cx="831.6" cy="441.2" r="2.3"/><circle cx="828.9" cy="449.4" r="2.3"/><circle cx="851.9" cy="438.6" r="2.3"/><circle cx="847" cy="433.4" r="2.3"/><circle cx="828.6" cy="434.7" r="2.3"/><circle cx="781.1" cy="434.3" r="2.3"/><circle cx="834.7" cy="427.8" r="2.3"/><circle cx="823" cy="428.2" r="2.3"/><circle cx="844.9" cy="438.6" r="2.3"/><circle cx="811" cy="433.8" r="2.3"/><circle cx="845.4" cy="412.7" r="2.3"/><circle cx="827.6" cy="433.4" r="2.3"/><circle cx="854.2" cy="423.5" r="2.3"/><circle cx="837.6" cy="449.8" r="2.3"/><circle cx="843.6" cy="433.4" r="2.3"/><circle cx="788.5" cy="433" r="2.3"/><circle cx="825.9" cy="438.6" r="2.3"/><circle cx="840.2" cy="442.9" r="2.3"/><circle cx="852.9" cy="401.1" r="2.3"/><circle cx="847.6" cy="410.6" r="2.3"/><circle cx="834.3" cy="433.8" r="2.3"/><circle cx="852.9" cy="389" r="2.3"/><circle cx="832.4" cy="437.7" r="2.3"/><circle cx="853" cy="383.4" r="2.3"/><circle cx="827.1" cy="440.7" r="2.3"/><circle cx="834.7" cy="448.9" r="2.3"/><circle cx="833.6" cy="436.9" r="2.3"/><circle cx="810.6" cy="429.1" r="2.3"/><circle cx="853" cy="482.1" r="2.3"/><circle cx="802.6" cy="441.2" r="2.3"/><circle cx="841.3" cy="429.1" r="2.3"/><circle cx="845.9" cy="441.6" r="2.3"/><circle cx="853.6" cy="374.8" r="2.3"/><circle cx="818.3" cy="433.4" r="2.3"/><circle cx="809.7" cy="433" r="2.3"/><circle cx="847.2" cy="430.4" r="2.3"/><circle cx="837.1" cy="430" r="2.3"/><circle cx="829.2" cy="435.1" r="2.3"/><circle cx="824" cy="440.7" r="2.3"/><circle cx="828.4" cy="436.4" r="2.3"/><circle cx="819.3" cy="430.4" r="2.3"/><circle cx="852" cy="461.9" r="2.3"/><circle cx="789.6" cy="436.9" r="2.3"/><circle cx="837.6" cy="423.9" r="2.3"/><circle cx="852.1" cy="480" r="2.3"/><circle cx="814.2" cy="437.3" r="2.3"/><circle cx="813.8" cy="431.2" r="2.3"/><circle cx="788.2" cy="436" r="2.3"/><circle cx="827.9" cy="438.1" r="2.3"/><circle cx="846.7" cy="426.1" r="2.3"/><circle cx="806.9" cy="440.7" r="2.3"/><circle cx="837.6" cy="454.5" r="2.3"/><circle cx="825.5" cy="431.7" r="2.3"/><circle cx="809.8" cy="440.7" r="2.3"/><circle cx="850.6" cy="421.8" r="2.3"/><circle cx="814.4" cy="436" r="2.3"/><circle cx="829.9" cy="435.6" r="2.3"/><circle cx="832.8" cy="446.8" r="2.3"/><circle cx="850.9" cy="428.2" r="2.3"/><circle cx="814.7" cy="442.9" r="2.3"/><circle cx="820.6" cy="428.7" r="2.3"/><circle cx="849.8" cy="467.9" r="2.3"/><circle cx="851.3" cy="392.4" r="2.3"/><circle cx="851" cy="431.7" r="2.3"/><circle cx="844.9" cy="426.9" r="2.3"/><circle cx="784" cy="433" r="2.3"/><circle cx="845.6" cy="431.2" r="2.3"/><circle cx="801.9" cy="440.7" r="2.3"/></g>
<g fill="#5eb867" fill-opacity="0.75"><circle cx="865.9" cy="438.9" r="2.3"/><circle cx="862.4" cy="404.2" r="2.3"/><circle cx="883" cy="414.6" r="2.3"/><circle cx="874.2" cy="488.8" r="2.3"/><circle cx="870.4" cy="495.4" r="2.3"/><circle cx="860.2" cy="485.1" r="2.3"/><circle cx="910.6" cy="426.7" r="2.3"/><circle cx="866.5" cy="471.7" r="2.3"/><circle cx="927.9" cy="406.1" r="2.3"/><circle cx="885.9" cy="410.9" r="2.3"/><circle cx="858" cy="358.6" r="2.3"/><circle cx="875.4" cy="384.8" r="2.3"/><circle cx="862.2" cy="467.5" r="2.3"/><circle cx="904.6" cy="440.7" r="2.3"/><circle cx="884.7" cy="460.8" r="2.3"/><circle cx="884.9" cy="405.4" r="2.3"/><circle cx="861.5" cy="414" r="2.3"/><circle cx="864" cy="488.1" r="2.3"/><circle cx="889.8" cy="401.2" r="2.3"/><circle cx="891.3" cy="440.1" r="2.3"/><circle cx="876.9" cy="423.7" r="2.3"/><circle cx="908.6" cy="391.5" r="2.3"/><circle cx="887.7" cy="449.8" r="2.3"/><circle cx="918.7" cy="415.8" r="2.3"/><circle cx="879.1" cy="396.9" r="2.3"/><circle cx="859.2" cy="356.2" r="2.3"/><circle cx="905.9" cy="427.3" r="2.3"/><circle cx="878.9" cy="466.3" r="2.3"/><circle cx="877.9" cy="494.8" r="2.3"/><circle cx="900" cy="393.9" r="2.3"/><circle cx="875.9" cy="382.9" r="2.3"/><circle cx="902.8" cy="400" r="2.3"/><circle cx="890.3" cy="410.9" r="2.3"/><circle cx="921.5" cy="387.2" r="2.3"/><circle cx="901.9" cy="421.3" r="2.3"/><circle cx="881" cy="488.1" r="2.3"/><circle cx="931.9" cy="404.2" r="2.3"/><circle cx="877.4" cy="389" r="2.3"/><circle cx="899.1" cy="431" r="2.3"/><circle cx="870.4" cy="500.9" r="2.3"/><circle cx="862.4" cy="463.2" r="2.3"/><circle cx="883.3" cy="488.1" r="2.3"/><circle cx="867.6" cy="470.5" r="2.3"/><circle cx="912" cy="430.4" r="2.3"/><circle cx="873.8" cy="482.1" r="2.3"/><circle cx="920.4" cy="413.3" r="2.3"/><circle cx="918.9" cy="389" r="2.3"/><circle cx="880.3" cy="445" r="2.3"/><circle cx="911.1" cy="434.6" r="2.3"/><circle cx="861.9" cy="367.1" r="2.3"/><circle cx="868" cy="461.4" r="2.3"/><circle cx="882.4" cy="451.7" r="2.3"/><circle cx="876.3" cy="409.7" r="2.3"/><circle cx="864.9" cy="509.4" r="2.3"/><circle cx="892" cy="433.4" r="2.3"/><circle cx="880.8" cy="368.3" r="2.3"/><circle cx="900.1" cy="417" r="2.3"/><circle cx="861.1" cy="401.8" r="2.3"/><circle cx="898.6" cy="379.3" r="2.3"/><circle cx="905" cy="382.9" r="2.3"/><circle cx="882.2" cy="430.4" r="2.3"/><circle cx="882.5" cy="476.6" r="2.3"/><circle cx="859.3" cy="487.5" r="2.3"/><circle cx="865.1" cy="455.9" r="2.3"/><circle cx="860.1" cy="437.1" r="2.3"/><circle cx="859" cy="513.1" r="2.3"/><circle cx="871.5" cy="477.2" r="2.3"/><circle cx="882.7" cy="499.7" r="2.3"/><circle cx="868" cy="407.3" r="2.3"/><circle cx="875.8" cy="448.6" r="2.3"/><circle cx="864.5" cy="434" r="2.3"/><circle cx="922.5" cy="386" r="2.3"/><circle cx="889.5" cy="421.9" r="2.3"/><circle cx="860.9" cy="480.8" r="2.3"/><circle cx="873" cy="436.5" r="2.3"/><circle cx="868.2" cy="387.8" r="2.3"/><circle cx="884.5" cy="500.9" r="2.3"/><circle cx="867.3" cy="415.8" r="2.3"/><circle cx="858.9" cy="414" r="2.3"/><circle cx="926" cy="415.8" r="2.3"/><circle cx="900.5" cy="384.2" r="2.3"/><circle cx="877.1" cy="447.4" r="2.3"/><circle cx="892.8" cy="463.2" r="2.3"/><circle cx="912.2" cy="415.2" r="2.3"/><circle cx="870.3" cy="438.3" r="2.3"/><circle cx="928.4" cy="389.6" r="2.3"/><circle cx="909.2" cy="385.4" r="2.3"/><circle cx="910" cy="389" r="2.3"/><circle cx="883.8" cy="452.9" r="2.3"/><circle cx="858.8" cy="434.6" r="2.3"/><circle cx="865.3" cy="499.1" r="2.3"/><circle cx="894.7" cy="448" r="2.3"/><circle cx="871.5" cy="367.1" r="2.3"/><circle cx="898" cy="372.6" r="2.3"/><circle cx="869.2" cy="367.7" r="2.3"/><circle cx="868.6" cy="454.1" r="2.3"/><circle cx="867.1" cy="457.7" r="2.3"/><circle cx="924.1" cy="406.7" r="2.3"/><circle cx="889.2" cy="386.6" r="2.3"/><circle cx="917.5" cy="403.6" r="2.3"/><circle cx="881.9" cy="481.5" r="2.3"/><circle cx="896.9" cy="378.1" r="2.3"/><circle cx="893.2" cy="395.1" r="2.3"/><circle cx="894.6" cy="460.8" r="2.3"/><circle cx="904.9" cy="437.7" r="2.3"/><circle cx="866.4" cy="361.1" r="2.3"/><circle cx="917.3" cy="429.2" r="2.3"/><circle cx="870.1" cy="397.5" r="2.3"/><circle cx="863.4" cy="471.1" r="2.3"/><circle cx="899.1" cy="378.7" r="2.3"/><circle cx="893.7" cy="467.5" r="2.3"/><circle cx="869.4" cy="356.2" r="2.3"/><circle cx="890.4" cy="435.2" r="2.3"/><circle cx="857.6" cy="470.5" r="2.3"/><circle cx="872.8" cy="361.7" r="2.3"/><circle cx="922.8" cy="415.8" r="2.3"/><circle cx="914" cy="425.5" r="2.3"/><circle cx="871.9" cy="388.4" r="2.3"/><circle cx="872.7" cy="449.2" r="2.3"/><circle cx="888.2" cy="450.4" r="2.3"/></g>
<g fill="#265d9c" fill-opacity="0.85"><circle cx="854.4" cy="520.1" r="2.3"/></g>
<line x1="97.1" y1="434.3" x2="983" y2="434.3" stroke="#000" stroke-width="3.8" stroke-dasharray="18.5 18.5"/>
<rect x="223" y="430.4" width="43" height="6.6" fill="#fff" stroke="none" stroke-width="0" />
<rect x="434.4" y="435.7" width="41.6" height="6.6" fill="#fff" stroke="none" stroke-width="0" />
<rect x="645" y="437.4" width="41.5" height="6.6" fill="#fff" stroke="none" stroke-width="0" />
<rect x="855.6" y="418.1" width="42" height="6.4" fill="#000" stroke="none" stroke-width="0" />
<text x="250" y="424.5" font-size="18.4" text-anchor="middle" fill="#000" >100</text>
<text x="457" y="429" font-size="18.4" text-anchor="middle" fill="#000" >94</text>
<text x="667" y="431" font-size="18.4" text-anchor="middle" fill="#000" >92</text>
<text x="882" y="411" font-size="18.4" text-anchor="middle" fill="#000" >114</text>
<line x1="97.8" y1="243.5" x2="97.8" y2="536.3" stroke="#000" stroke-width="2.2" />
<line x1="96.8" y1="535.3" x2="982" y2="535.3" stroke="#000" stroke-width="2.2" />
<line x1="87.6" y1="521.9" x2="97.8" y2="521.9" stroke="#000" stroke-width="1.5" />
<text x="74.9" y="529.2" font-size="20" text-anchor="end" fill="#000" >0</text>
<line x1="87.6" y1="433.7" x2="97.8" y2="433.7" stroke="#000" stroke-width="1.5" />
<text x="74.9" y="441" font-size="20" text-anchor="end" fill="#000" >100</text>
<line x1="87.6" y1="345.4" x2="97.8" y2="345.4" stroke="#000" stroke-width="1.5" />
<text x="74.9" y="352.7" font-size="20" text-anchor="end" fill="#000" >200</text>
<line x1="87.6" y1="257.2" x2="97.8" y2="257.2" stroke="#000" stroke-width="1.5" />
<text x="74.9" y="264.5" font-size="20" text-anchor="end" fill="#000" >300</text>
<text x="0" y="0" font-size="20.5" text-anchor="middle" fill="#000" transform="translate(17,389.4) rotate(-90)">Poly(A) length</text>
<text x="223.8" y="236" font-size="20" text-anchor="middle" fill="#000" >0 h</text>
<text x="435" y="236" font-size="20" text-anchor="middle" fill="#000" >2 h</text>
<text x="644.5" y="236" font-size="20" text-anchor="middle" fill="#000" >8 h</text>
<text x="855.7" y="236" font-size="20" text-anchor="middle" fill="#000" >24 h</text>
<text x="436" y="267.5" font-size="20.5" text-anchor="middle"><tspan font-style="italic">P</tspan> = 2.37 &#215; 10<tspan dy="-8" font-size="14.3">&#8722;16</tspan></text>
<text x="643.6" y="267.5" font-size="20.5" text-anchor="middle"><tspan font-style="italic">P</tspan> = 2.37 &#215; 10<tspan dy="-8" font-size="14.3">&#8722;16</tspan></text>
<text x="855" y="267.5" font-size="20.5" text-anchor="middle"><tspan font-style="italic">P</tspan> = 0.00062</text>
<rect x="266.4" y="332.9" width="86.2" height="20.4" fill="#fff" stroke="#2f51a0" stroke-width="2.3" rx="4"/>
<text x="311.6" y="349.3" font-size="17.2" text-anchor="middle" fill="#2f51a0"  textLength="63.6" lengthAdjust="spacingAndGlyphs">23.85%</text>
<rect x="476.9" y="332.9" width="86.3" height="20.4" fill="#fff" stroke="#2f51a0" stroke-width="2.3" rx="4"/>
<text x="522.1" y="349.3" font-size="17.2" text-anchor="middle" fill="#2f51a0"  textLength="63.6" lengthAdjust="spacingAndGlyphs">19.92%</text>
<rect x="686.6" y="332.4" width="88.3" height="21.4" fill="#fff" stroke="#2f51a0" stroke-width="1.3" rx="4"/>
<text x="732.8" y="349.3" font-size="17.2" text-anchor="middle" fill="#2f51a0"  textLength="63.6" lengthAdjust="spacingAndGlyphs">20.83%</text>
<rect x="897.1" y="332.4" width="80.7" height="21.4" fill="#fff" stroke="#2f51a0" stroke-width="1.3" rx="4"/>
<text x="939.5" y="349.3" font-size="17.2" text-anchor="middle" fill="#2f51a0"  textLength="63.6" lengthAdjust="spacingAndGlyphs">49.17%</text>
<rect x="271.4" y="465.2" width="76.3" height="21.1" fill="#fff" stroke="#e0262a" stroke-width="1.3" rx="4"/>
<text x="311.6" y="481.9" font-size="17.2" text-anchor="middle" fill="#e0262a"  textLength="53.2" lengthAdjust="spacingAndGlyphs">22.6%</text>
<rect x="483.1" y="465.8" width="73.7" height="20.1" fill="#fff" stroke="#e0262a" stroke-width="2.3" rx="4"/>
<text x="522" y="481.9" font-size="17.2" text-anchor="middle" fill="#e0262a"  textLength="53.2" lengthAdjust="spacingAndGlyphs">36.5%</text>
<rect x="692.6" y="465.2" width="75.7" height="21.1" fill="#fff" stroke="#e0262a" stroke-width="1.3" rx="4"/>
<text x="732.5" y="481.9" font-size="17.2" text-anchor="middle" fill="#e0262a"  textLength="53.2" lengthAdjust="spacingAndGlyphs">40.7%</text>
<rect x="902.6" y="465.2" width="75.2" height="21.1" fill="#fff" stroke="#e0262a" stroke-width="1.3" rx="4"/>
<text x="942.2" y="481.9" font-size="17.2" text-anchor="middle" fill="#e0262a"  textLength="53.2" lengthAdjust="spacingAndGlyphs">32.5%</text>
<text font-size="20.8" text-anchor="middle" transform="translate(1007,349) rotate(-90)">Re-adenylation</text>
<text font-size="20.8" text-anchor="middle" transform="translate(1007,497) rotate(-90)">Deadenylation</text>
<line x1="1020" y1="295" x2="1020" y2="422" stroke="#2d4d9c" stroke-width="2.8" />
<path d="M1020,285 L1013.8,299.2 L1020,296.3 L1026.2,299.2 Z" fill="#2d4d9c"/>
<line x1="1020" y1="429" x2="1020" y2="557" stroke="#e0262a" stroke-width="2.8" />
<path d="M1020,567 L1013.8,552.8 L1020,555.7 L1026.2,552.8 Z" fill="#e0262a"/>
<line x1="107.4" y1="549" x2="107.4" y2="588" stroke="#c4c4c4" stroke-width="2.2" />
<line x1="238.5" y1="549" x2="238.5" y2="588" stroke="#c4c4c4" stroke-width="2.2" />
<line x1="460.9" y1="549" x2="460.9" y2="588" stroke="#c4c4c4" stroke-width="2.2" />
<line x1="686" y1="549" x2="686" y2="588" stroke="#c4c4c4" stroke-width="2.2" />
<line x1="906.3" y1="549" x2="906.3" y2="588" stroke="#c4c4c4" stroke-width="2.2" />
<text x="123" y="562" font-size="16.8" fill="#000" text-anchor="start"><tspan font-style="italic">n</tspan> = 48,409</text>
<text x="123" y="581.4" font-size="16.8" fill="#000" text-anchor="start"><tspan font-style="italic">n</tspan> = 9,857</text>
<rect x="329.4" y="549.5" width="110.3" height="14.8" fill="#265d9c" stroke="#000" stroke-width="1.8" />
<rect x="329.4" y="568.4" width="22.6" height="14.8" fill="#5eb867" stroke="#000" stroke-width="1.8" />
<line x1="329.4" y1="548.6" x2="329.4" y2="587" stroke="#000" stroke-width="1.8" />
<text x="356.8" y="562" font-size="16.8" fill="#fff" text-anchor="start"><tspan font-style="italic">n</tspan> = 5,234</text>
<text x="356.8" y="581.4" font-size="16.8" fill="#000" text-anchor="start"><tspan font-style="italic">n</tspan> = 1,024</text>
<rect x="551.8" y="549.5" width="57.7" height="14.8" fill="#265d9c" stroke="#000" stroke-width="1.8" />
<rect x="551.8" y="568.4" width="16.9" height="14.8" fill="#5eb867" stroke="#000" stroke-width="1.8" />
<line x1="551.8" y1="548.6" x2="551.8" y2="587" stroke="#000" stroke-width="1.8" />
<text x="611" y="562" font-size="16.8" fill="#000" text-anchor="start"><tspan font-style="italic">n</tspan> = 2,346</text>
<text x="612" y="581.4" font-size="16.8" fill="#000" text-anchor="start"><tspan font-style="italic">n</tspan> = 653</text>
<rect x="774.9" y="549.5" width="8.6" height="14.8" fill="#265d9c" stroke="#000" stroke-width="1.8" />
<rect x="774.9" y="568.4" width="6.5" height="14.8" fill="#5eb867" stroke="#000" stroke-width="1.8" />
<line x1="774.9" y1="548.6" x2="774.9" y2="587" stroke="#000" stroke-width="1.8" />
<text x="794.4" y="562" font-size="16.8" fill="#000" text-anchor="start"><tspan font-style="italic">n</tspan> = 178</text>
<text x="794.4" y="581.4" font-size="16.8" fill="#000" text-anchor="start"><tspan font-style="italic">n</tspan> = 120</text>
<text x="330" y="610.7" font-size="19" text-anchor="middle" fill="#000"  textLength="30.6" lengthAdjust="spacingAndGlyphs">0%</text>
<text x="460.5" y="610.7" font-size="19" text-anchor="middle" fill="#000"  textLength="48.2" lengthAdjust="spacingAndGlyphs">0.4%</text>
<text x="551.8" y="610.7" font-size="19" text-anchor="middle" fill="#000"  textLength="30.6" lengthAdjust="spacingAndGlyphs">0%</text>
<text x="686" y="610.7" font-size="19" text-anchor="middle" fill="#000"  textLength="48.2" lengthAdjust="spacingAndGlyphs">0.4%</text>
<text x="774.9" y="610.7" font-size="19" text-anchor="middle" fill="#000"  textLength="30.6" lengthAdjust="spacingAndGlyphs">0%</text>
<text x="906.3" y="610.7" font-size="19" text-anchor="middle" fill="#000"  textLength="48.2" lengthAdjust="spacingAndGlyphs">0.4%</text>
<text x="540" y="647.6" font-size="20.8" text-anchor="middle" fill="#000"  textLength="537.5" lengthAdjust="spacingAndGlyphs">Abundance of mRNA-1273 reads (relative to endogenous)</text>
<rect x="1167.1" y="121.3" width="941.9" height="261.9" fill="#e9ecf5" stroke="none" stroke-width="0" />
<rect x="1167.1" y="421" width="941.9" height="130" fill="#fce8e8" stroke="none" stroke-width="0" />
<path d="M1243.3,531.8 L1235.2,531.8 L1236.3,529.3 L1237.1,526.9 L1237.6,524.4 L1237.6,522 L1237.6,519.5 L1237.6,517.1 L1237.6,514.6 L1237.6,512.1 L1237.6,509.7 L1237.6,507.2 L1237.6,504.8 L1237.6,502.3 L1237.6,499.9 L1237.6,497.4 L1237.6,495 L1237.6,492.5 L1237.6,490 L1237.6,487.6 L1237.6,485.1 L1237.6,482.7 L1237.6,480.2 L1237.6,477.8 L1237.5,475.3 L1237.4,472.8 L1237.3,470.4 L1237.2,467.9 L1237,465.5 L1236.9,463 L1236.7,460.6 L1236.6,458.1 L1236.5,455.6 L1236.3,453.2 L1236.2,450.7 L1236.1,448.3 L1235.5,445.8 L1234.4,443.4 L1232.8,440.9 L1231.1,438.4 L1228.8,436 L1225.5,433.5 L1221.3,431.1 L1217,428.6 L1212.7,426.2 L1208.8,423.7 L1205,421.3 L1201.4,418.8 L1198,416.3 L1195.3,413.9 L1193.3,411.4 L1191.7,409 L1190.1,406.5 L1188.5,404.1 L1187.8,401.6 L1188.1,399.1 L1189.3,396.7 L1190.5,394.2 L1191.7,391.8 L1193,389.3 L1194.8,386.9 L1197.1,384.4 L1199.7,381.9 L1202.2,379.5 L1204.7,377 L1207.2,374.6 L1209.7,372.1 L1212.1,369.7 L1214.5,367.2 L1216.9,364.8 L1219.3,362.3 L1221.7,359.8 L1223.7,357.4 L1225.3,354.9 L1226.5,352.5 L1227.8,350 L1229,347.6 L1230.2,345.1 L1231.5,342.6 L1232.4,340.2 L1233.1,337.7 L1233.6,335.3 L1234.1,332.8 L1234.6,330.4 L1235,327.9 L1235.5,325.4 L1235.9,323 L1236.1,320.5 L1236.3,318.1 L1236.5,315.6 L1236.7,313.2 L1236.9,310.7 L1237.1,308.2 L1237.3,305.8 L1237.5,303.3 L1237.7,300.9 L1237.9,298.4 L1238.1,296 L1238.3,293.5 L1238.5,291.1 L1238.6,288.6 L1238.6,286.1 L1238.6,283.7 L1238.6,281.2 L1238.6,278.8 L1238.6,276.3 L1238.6,273.9 L1238.6,271.4 L1238.6,268.9 L1238.6,266.5 L1238.6,264 L1238.6,261.6 L1238.6,259.1 L1238.6,256.7 L1238.6,254.2 L1238.6,251.7 L1238.6,249.3 L1238.6,246.8 L1238.6,244.4 L1238.6,241.9 L1238.6,239.5 L1238.6,237 L1238.6,234.6 L1238.6,232.1 L1238.6,229.6 L1238.6,227.2 L1238.6,224.7 L1238.6,222.3 L1238.6,219.8 L1238.6,217.4 L1238.6,214.9 L1238.6,212.4 L1238.6,210 L1238.6,207.5 L1238.6,205.1 L1238.6,202.6 L1238.6,200.2 L1238.6,197.7 L1238.6,195.2 L1238.6,192.8 L1238.6,190.3 L1238.6,187.9 L1238.6,185.4 L1238.6,183 L1238.6,180.5 L1238.6,178 L1238.6,175.6 L1238.6,173.1 L1238.6,170.7 L1238.6,168.2 L1238.6,165.8 L1238.6,163.3 L1238.6,160.9 L1238.6,158.4 L1238.6,155.9 L1238.6,153.5 L1238.6,151 L1238.6,148.6 L1238.6,146.1 L1238.6,143.7 L1238.6,141.2 L1243.3,141.2 Z" fill="#265d9c" />
<path d="M1241.9,531.8 L1252.6,531.8 L1249.5,529.3 L1247.3,526.9 L1246.6,524.4 L1246.6,522 L1246.6,519.5 L1246.6,517.1 L1246.8,514.6 L1247,512.1 L1247.1,509.7 L1247.3,507.2 L1247.5,504.8 L1247.6,502.3 L1247.8,499.9 L1248,497.4 L1248.2,495 L1248.3,492.5 L1248.5,490 L1248.7,487.6 L1248.9,485.1 L1249.1,482.7 L1249.3,480.2 L1249.5,477.8 L1249.7,475.3 L1249.9,472.8 L1250.1,470.4 L1250.3,467.9 L1250.5,465.5 L1250.7,463 L1250.9,460.6 L1251.2,458.1 L1251.7,455.6 L1252.2,453.2 L1252.8,450.7 L1253.3,448.3 L1253.8,445.8 L1254.4,443.4 L1254.9,440.9 L1255.4,438.4 L1256.5,436 L1258.4,433.5 L1260.9,431.1 L1263.6,428.6 L1266.7,426.2 L1270.4,423.7 L1274.7,421.3 L1279.3,418.8 L1283.5,416.3 L1286.8,413.9 L1289.2,411.4 L1291.1,409 L1292.9,406.5 L1294.8,404.1 L1295.3,401.6 L1294.5,399.1 L1292.3,396.7 L1290.2,394.2 L1288.1,391.8 L1285.9,389.3 L1283.6,386.9 L1281.3,384.4 L1278.9,381.9 L1276.4,379.5 L1274,377 L1271.8,374.6 L1269.9,372.1 L1268.1,369.7 L1266.4,367.2 L1264.7,364.8 L1263,362.3 L1261.3,359.8 L1259.9,357.4 L1258.6,354.9 L1257.6,352.5 L1256.6,350 L1255.6,347.6 L1254.5,345.1 L1253.5,342.6 L1252.7,340.2 L1252.1,337.7 L1251.6,335.3 L1251.1,332.8 L1250.6,330.4 L1250.2,327.9 L1249.7,325.4 L1249.3,323 L1248.9,320.5 L1248.6,318.1 L1248.3,315.6 L1248,313.2 L1247.7,310.7 L1247.4,308.2 L1247.1,305.8 L1246.7,303.3 L1246.6,300.9 L1246.6,298.4 L1246.6,296 L1246.6,293.5 L1246.6,291.1 L1246.6,288.6 L1246.6,286.1 L1246.6,283.7 L1246.6,281.2 L1246.6,278.8 L1246.6,276.3 L1246.6,273.9 L1246.6,271.4 L1246.6,268.9 L1246.6,266.5 L1246.6,264 L1246.6,261.6 L1246.6,259.1 L1246.6,256.7 L1246.6,254.2 L1246.6,251.7 L1246.6,249.3 L1246.6,246.8 L1246.6,244.4 L1246.6,241.9 L1246.6,239.5 L1246.6,237 L1246.6,234.6 L1246.6,232.1 L1246.6,229.6 L1246.6,227.2 L1246.6,224.7 L1246.6,222.3 L1246.6,219.8 L1246.6,217.4 L1246.6,214.9 L1246.6,212.4 L1246.6,210 L1246.6,207.5 L1246.6,205.1 L1246.6,202.6 L1246.6,200.2 L1246.6,197.7 L1246.6,195.2 L1246.6,192.8 L1246.6,190.3 L1246.6,187.9 L1246.6,185.4 L1246.6,183 L1246.6,180.5 L1246.6,178 L1246.6,175.6 L1246.6,173.1 L1246.6,170.7 L1246.6,168.2 L1246.6,165.8 L1246.6,163.3 L1246.6,160.9 L1246.6,158.4 L1246.6,155.9 L1246.6,153.5 L1246.6,151 L1246.6,148.6 L1246.6,146.1 L1246.6,143.7 L1246.6,141.2 L1241.9,141.2 Z" fill="#5eb867" />
<path d="M1374.2,531.8 L1369.5,531.8 L1369.5,530 L1369.5,528.2 L1369.5,526.5 L1369.5,524.7 L1369.4,522.9 L1369.4,521.1 L1369.4,519.4 L1369.4,517.6 L1369.4,515.8 L1369.4,514 L1369.4,512.3 L1369.4,510.5 L1369.4,508.7 L1369.3,506.9 L1369.3,505.1 L1369.3,503.4 L1369.3,501.6 L1369.3,499.8 L1369.3,498 L1369.3,496.3 L1369.3,494.5 L1369.2,492.7 L1369.2,490.9 L1369.2,489.2 L1369.2,487.4 L1369.2,485.6 L1369.2,483.8 L1369.2,482 L1369.2,480.3 L1369.2,478.5 L1369.1,476.7 L1369.1,474.9 L1369.1,473.2 L1369.1,471.4 L1369.1,469.6 L1369.1,467.8 L1369.1,466.1 L1369.1,464.3 L1369.1,462.5 L1369,460.7 L1369,458.9 L1369,457.2 L1369,455.4 L1368.8,453.6 L1368.4,451.8 L1367.9,450.1 L1367.4,448.3 L1366.9,446.5 L1366.3,444.7 L1365.8,443 L1365.2,441.2 L1364.5,439.4 L1363.5,437.6 L1362.5,435.8 L1361.4,434.1 L1360,432.3 L1358.3,430.5 L1356.2,428.7 L1354,427 L1351.6,425.2 L1348.8,423.4 L1345.6,421.6 L1342.1,419.9 L1338.6,418.1 L1335,416.3 L1331.4,414.5 L1328,412.7 L1325.2,411 L1322.8,409.2 L1320.8,407.4 L1319.5,405.6 L1318.9,403.9 L1319.1,402.1 L1320,400.3 L1321.4,398.5 L1323.1,396.8 L1324.9,395 L1326.8,393.2 L1328.8,391.4 L1330.9,389.6 L1333.1,387.9 L1335.3,386.1 L1337.6,384.3 L1340,382.5 L1342.5,380.8 L1345,379 L1347.2,377.2 L1349.3,375.4 L1351.1,373.7 L1352.8,371.9 L1354.5,370.1 L1355.9,368.3 L1357.1,366.5 L1358.2,364.8 L1359.2,363 L1360.1,361.2 L1360.8,359.4 L1361.3,357.7 L1361.8,355.9 L1362.4,354.1 L1362.9,352.3 L1363.4,350.6 L1364,348.8 L1364.5,347 L1365,345.2 L1365.4,343.4 L1365.9,341.7 L1366.3,339.9 L1366.8,338.1 L1367.2,336.3 L1367.7,334.6 L1368.1,332.8 L1368.5,331 L1368.8,329.2 L1368.9,327.5 L1369,325.7 L1369.1,323.9 L1369.2,322.1 L1369.3,320.3 L1369.4,318.6 L1369.5,316.8 L1369.5,315 L1369.5,313.2 L1369.5,311.5 L1369.5,309.7 L1369.5,307.9 L1369.5,306.1 L1369.5,304.4 L1369.5,302.6 L1369.5,300.8 L1369.5,299 L1369.5,297.2 L1369.5,295.5 L1369.5,293.7 L1369.5,291.9 L1369.5,290.1 L1369.5,288.4 L1369.5,286.6 L1369.5,284.8 L1369.5,283 L1369.5,281.3 L1369.5,279.5 L1369.5,277.7 L1369.5,275.9 L1369.5,274.1 L1369.5,272.4 L1369.5,270.6 L1369.5,268.8 L1369.5,267 L1369.5,265.3 L1369.5,263.5 L1369.5,261.7 L1369.5,259.9 L1369.5,258.2 L1369.5,256.4 L1369.5,254.6 L1369.5,252.8 L1369.5,251 L1369.5,249.3 L1374.2,249.3 Z" fill="#265d9c" />
<path d="M1372.8,531.8 L1377.5,531.8 L1377.5,530.1 L1377.5,528.3 L1377.5,526.6 L1377.5,524.9 L1377.5,523.1 L1377.5,521.4 L1377.5,519.6 L1377.5,517.9 L1377.5,516.2 L1377.5,514.4 L1377.5,512.7 L1377.5,511 L1377.5,509.2 L1377.5,507.5 L1377.5,505.8 L1377.5,504 L1377.5,502.3 L1377.5,500.6 L1377.5,498.8 L1377.5,497.1 L1377.5,495.3 L1377.5,493.6 L1377.7,491.9 L1378,490.1 L1378.4,488.4 L1378.7,486.7 L1379.1,484.9 L1379.4,483.2 L1379.8,481.5 L1380.1,479.7 L1380.5,478 L1380.8,476.2 L1381.2,474.5 L1381.4,472.8 L1381.7,471 L1381.9,469.3 L1382.3,467.6 L1383,465.8 L1383.9,464.1 L1384.8,462.4 L1385.7,460.6 L1386.4,458.9 L1387,457.2 L1387.3,455.4 L1387.6,453.7 L1387.9,451.9 L1388.3,450.2 L1388.9,448.5 L1389.6,446.7 L1390.5,445 L1391.4,443.3 L1392.3,441.5 L1393.4,439.8 L1394.6,438.1 L1396.1,436.3 L1397.5,434.6 L1399,432.8 L1400.5,431.1 L1402.1,429.4 L1404.1,427.6 L1406.4,425.9 L1408.9,424.2 L1411.3,422.4 L1413.9,420.7 L1416.7,419 L1419.5,417.2 L1422.2,415.5 L1423.8,413.8 L1424.5,412 L1424.5,410.3 L1424.4,408.5 L1424.2,406.8 L1423.9,405.1 L1423.6,403.3 L1423.1,401.6 L1422.2,399.9 L1421,398.1 L1419.6,396.4 L1418.2,394.7 L1416.5,392.9 L1414.5,391.2 L1412.1,389.4 L1409.6,387.7 L1407.3,386 L1405.1,384.2 L1403.2,382.5 L1401.5,380.8 L1399.7,379 L1398,377.3 L1396.3,375.6 L1394.6,373.8 L1392.9,372.1 L1391.3,370.4 L1390.1,368.6 L1389.3,366.9 L1388.8,365.1 L1388.2,363.4 L1387.7,361.7 L1387.1,359.9 L1386.5,358.2 L1385.9,356.5 L1385.3,354.7 L1384.7,353 L1384.1,351.3 L1383.5,349.5 L1382.9,347.8 L1382.3,346 L1381.7,344.3 L1381.2,342.6 L1380.7,340.8 L1380.1,339.1 L1379.6,337.4 L1379.1,335.6 L1378.6,333.9 L1378.1,332.2 L1377.6,330.4 L1377.5,328.7 L1377.5,327 L1377.5,325.2 L1377.5,323.5 L1377.5,321.7 L1377.5,320 L1377.5,318.3 L1377.5,316.5 L1377.5,314.8 L1377.5,313.1 L1377.5,311.3 L1377.5,309.6 L1377.5,307.9 L1377.5,306.1 L1377.5,304.4 L1377.5,302.6 L1377.5,300.9 L1377.5,299.2 L1377.5,297.4 L1377.5,295.7 L1377.5,294 L1377.5,292.2 L1377.5,290.5 L1377.5,288.8 L1377.5,287 L1377.5,285.3 L1377.5,283.6 L1377.5,281.8 L1377.5,280.1 L1377.5,278.3 L1377.5,276.6 L1377.5,274.9 L1377.5,273.1 L1377.5,271.4 L1377.5,269.7 L1377.5,267.9 L1377.5,266.2 L1377.5,264.5 L1377.5,262.7 L1377.5,261 L1377.5,259.2 L1377.5,257.5 L1377.5,255.8 L1372.8,255.8 Z" fill="#5eb867" />
<path d="M1504.1,531.8 L1498,531.8 L1498.6,529.5 L1499.1,527.2 L1499.3,525 L1499.4,522.7 L1499.4,520.4 L1499.4,518.1 L1499.4,515.9 L1499.4,513.6 L1499.4,511.3 L1499.4,509 L1499.4,506.8 L1499.4,504.5 L1499.4,502.2 L1499.4,499.9 L1499.4,497.7 L1499.4,495.4 L1499.4,493.1 L1499.4,490.8 L1499.4,488.5 L1499.4,486.3 L1499.4,484 L1499.4,481.7 L1499.4,479.4 L1499.4,477.2 L1499.4,474.9 L1499.4,472.6 L1499.4,470.3 L1499.4,468.1 L1499.4,465.8 L1499.4,463.5 L1499.4,461.2 L1499.4,459 L1499.4,456.7 L1499.3,454.4 L1499,452.1 L1498.5,449.8 L1497.9,447.6 L1497.1,445.3 L1496.2,443 L1495,440.7 L1493.9,438.5 L1492.7,436.2 L1491.5,433.9 L1489.3,431.6 L1486.3,429.4 L1482.5,427.1 L1478.7,424.8 L1474.9,422.5 L1471,420.3 L1466.9,418 L1462.9,415.7 L1459,413.4 L1456,411.1 L1454,408.9 L1452.8,406.6 L1451.6,404.3 L1450.9,402 L1450.8,399.8 L1451.4,397.5 L1452.1,395.2 L1453,392.9 L1454.3,390.7 L1456.2,388.4 L1458.5,386.1 L1460.8,383.8 L1463.1,381.6 L1465.4,379.3 L1467.7,377 L1469.9,374.7 L1472.2,372.4 L1474.5,370.2 L1476.7,367.9 L1478.9,365.6 L1481,363.3 L1482.8,361.1 L1484.5,358.8 L1486.3,356.5 L1488,354.2 L1489.6,352 L1490.9,349.7 L1491.8,347.4 L1492.6,345.1 L1493.4,342.9 L1494.2,340.6 L1495,338.3 L1495.9,336 L1496.7,333.7 L1497.4,331.5 L1497.9,329.2 L1498.3,326.9 L1498.5,324.6 L1498.7,322.4 L1498.8,320.1 L1499,317.8 L1499.2,315.5 L1499.4,313.3 L1499.4,311 L1499.4,308.7 L1499.4,306.4 L1499.4,304.2 L1499.4,301.9 L1499.4,299.6 L1499.4,297.3 L1499.4,295 L1499.4,292.8 L1499.4,290.5 L1499.4,288.2 L1499.4,285.9 L1499.4,283.7 L1499.4,281.4 L1499.4,279.1 L1499.4,276.8 L1499.4,274.6 L1499.4,272.3 L1499.4,270 L1499.4,267.7 L1499.4,265.5 L1499.4,263.2 L1499.4,260.9 L1499.4,258.6 L1499.4,256.3 L1499.4,254.1 L1499.4,251.8 L1499.4,249.5 L1499.4,247.2 L1499.4,245 L1499.4,242.7 L1499.4,240.4 L1499.4,238.1 L1499.4,235.9 L1499.4,233.6 L1499.4,231.3 L1499.4,229 L1499.4,226.8 L1499.4,224.5 L1499.4,222.2 L1499.4,219.9 L1499.4,217.6 L1499.4,215.4 L1499.4,213.1 L1499.4,210.8 L1499.4,208.5 L1499.4,206.3 L1499.4,204 L1499.4,201.7 L1499.4,199.4 L1499.4,197.2 L1499.4,194.9 L1499.4,192.6 L1499.4,190.3 L1499.4,188.1 L1499.4,185.8 L1499.4,183.5 L1499.4,181.2 L1499.4,178.9 L1499.4,176.7 L1499.4,174.4 L1499.4,172.1 L1499.4,169.8 L1504.1,169.8 Z" fill="#265d9c" />
<path d="M1502.7,531.8 L1509.1,531.8 L1508.4,529.5 L1507.8,527.2 L1507.5,524.9 L1507.4,522.6 L1507.4,520.3 L1507.4,518 L1507.4,515.8 L1507.4,513.5 L1507.5,511.2 L1507.7,508.9 L1508,506.6 L1508.5,504.3 L1508.9,502 L1509.4,499.7 L1509.9,497.4 L1510.3,495.1 L1510.7,492.8 L1511.1,490.5 L1511.5,488.2 L1511.8,485.9 L1512.2,483.7 L1512.5,481.4 L1512.9,479.1 L1513.2,476.8 L1513.6,474.5 L1513.9,472.2 L1514.2,469.9 L1514.6,467.6 L1514.9,465.3 L1515.3,463 L1515.7,460.7 L1516.3,458.4 L1517.3,456.1 L1518.4,453.8 L1519.5,451.6 L1520.7,449.3 L1521.8,447 L1522.9,444.7 L1524.1,442.4 L1525.2,440.1 L1526.6,437.8 L1528.2,435.5 L1529.9,433.2 L1531.7,430.9 L1533.4,428.6 L1535.2,426.3 L1537,424 L1539,421.7 L1541,419.5 L1543,417.2 L1545,414.9 L1547,412.6 L1549.1,410.3 L1551.3,408 L1553.5,405.7 L1555.4,403.4 L1556.2,401.1 L1555.8,398.8 L1554.5,396.5 L1553.2,394.2 L1551.7,391.9 L1550.2,389.6 L1548.5,387.4 L1546.7,385.1 L1545,382.8 L1543.3,380.5 L1541.5,378.2 L1539.8,375.9 L1538.1,373.6 L1536.4,371.3 L1534.7,369 L1533,366.7 L1531.4,364.4 L1530.1,362.1 L1528.9,359.8 L1527.8,357.5 L1526.6,355.3 L1525.5,353 L1524.4,350.7 L1523.4,348.4 L1522.5,346.1 L1521.5,343.8 L1520.6,341.5 L1519.7,339.2 L1518.7,336.9 L1517.8,334.6 L1516.9,332.3 L1516,330 L1515.3,327.7 L1514.7,325.4 L1514.1,323.2 L1513.5,320.9 L1512.9,318.6 L1512.3,316.3 L1511.7,314 L1511.2,311.7 L1510.8,309.4 L1510.5,307.1 L1510.4,304.8 L1510.2,302.5 L1510,300.2 L1509.8,297.9 L1509.6,295.6 L1509.4,293.3 L1509.3,291.1 L1509.1,288.8 L1508.9,286.5 L1508.6,284.2 L1508.4,281.9 L1508.2,279.6 L1507.9,277.3 L1507.7,275 L1507.5,272.7 L1507.4,270.4 L1507.4,268.1 L1507.4,265.8 L1507.4,263.5 L1507.4,261.2 L1507.4,259 L1507.4,256.7 L1507.4,254.4 L1507.4,252.1 L1507.4,249.8 L1507.4,247.5 L1507.4,245.2 L1507.4,242.9 L1507.4,240.6 L1507.4,238.3 L1507.4,236 L1507.4,233.7 L1507.4,231.4 L1507.4,229.1 L1507.4,226.9 L1507.4,224.6 L1507.4,222.3 L1507.4,220 L1507.4,217.7 L1507.4,215.4 L1507.4,213.1 L1507.4,210.8 L1507.4,208.5 L1507.4,206.2 L1507.4,203.9 L1507.4,201.6 L1507.4,199.3 L1507.4,197 L1507.4,194.8 L1507.4,192.5 L1507.4,190.2 L1507.4,187.9 L1507.4,185.6 L1507.4,183.3 L1507.4,181 L1507.4,178.7 L1507.4,176.4 L1507.4,174.1 L1507.4,171.8 L1507.4,169.5 L1507.4,167.2 L1502.7,167.2 Z" fill="#5eb867" />
<path d="M1634.1,531.8 L1627.4,531.8 L1627.9,530.1 L1628.4,528.4 L1628.7,526.7 L1628.9,525.1 L1628.9,523.4 L1628.9,521.7 L1628.9,520 L1628.9,518.3 L1628.9,516.6 L1628.9,514.9 L1628.9,513.2 L1628.9,511.6 L1628.9,509.9 L1628.9,508.2 L1628.9,506.5 L1628.9,504.8 L1628.9,503.1 L1628.9,501.4 L1628.9,499.7 L1628.9,498.1 L1628.9,496.4 L1628.9,494.7 L1628.9,493 L1628.9,491.3 L1628.9,489.6 L1628.9,487.9 L1628.9,486.3 L1628.9,484.6 L1628.9,482.9 L1628.9,481.2 L1628.9,479.5 L1628.9,477.8 L1628.9,476.1 L1628.9,474.4 L1628.9,472.8 L1628.9,471.1 L1628.9,469.4 L1628.9,467.7 L1628.9,466 L1628.9,464.3 L1628.9,462.6 L1628.9,461 L1628.9,459.3 L1628.9,457.6 L1628.9,455.9 L1628.9,454.2 L1628.7,452.5 L1628.5,450.8 L1628.3,449.1 L1628.1,447.5 L1627.9,445.8 L1627.7,444.1 L1627,442.4 L1625.7,440.7 L1623.9,439 L1621.9,437.3 L1619.8,435.6 L1617.8,434 L1615.6,432.3 L1613.1,430.6 L1610.3,428.9 L1607.5,427.2 L1604.7,425.5 L1601.8,423.8 L1599.1,422.2 L1596.5,420.5 L1594,418.8 L1591.6,417.1 L1589.1,415.4 L1586.6,413.7 L1584.6,412 L1583.2,410.3 L1582.5,408.7 L1581.9,407 L1581.3,405.3 L1580.8,403.6 L1580.5,401.9 L1580.6,400.2 L1581.1,398.5 L1581.6,396.9 L1582.1,395.2 L1582.7,393.5 L1583.3,391.8 L1584.2,390.1 L1585.4,388.4 L1586.6,386.7 L1587.7,385 L1588.9,383.4 L1590.2,381.7 L1591.6,380 L1593.1,378.3 L1594.5,376.6 L1596,374.9 L1597.5,373.2 L1599,371.5 L1600.5,369.9 L1602.3,368.2 L1604.3,366.5 L1606.6,364.8 L1609.1,363.1 L1611.5,361.4 L1613.9,359.7 L1616,358.1 L1617.6,356.4 L1618.6,354.7 L1619.3,353 L1620.1,351.3 L1620.9,349.6 L1621.6,347.9 L1622.4,346.2 L1623.1,344.6 L1623.9,342.9 L1624.6,341.2 L1625,339.5 L1625.4,337.8 L1625.6,336.1 L1625.8,334.4 L1626.1,332.7 L1626.3,331.1 L1626.6,329.4 L1626.8,327.7 L1627,326 L1627.3,324.3 L1627.6,322.6 L1627.9,320.9 L1628.2,319.3 L1628.6,317.6 L1628.9,315.9 L1629.2,314.2 L1629.4,312.5 L1629.4,310.8 L1629.4,309.1 L1629.4,307.4 L1629.4,305.8 L1629.4,304.1 L1629.4,302.4 L1629.4,300.7 L1629.4,299 L1629.4,297.3 L1629.4,295.6 L1629.4,294 L1629.4,292.3 L1629.4,290.6 L1629.4,288.9 L1629.4,287.2 L1629.4,285.5 L1629.4,283.8 L1629.4,282.1 L1629.4,280.5 L1629.4,278.8 L1629.4,277.1 L1629.4,275.4 L1629.4,273.7 L1629.4,272 L1629.4,270.3 L1629.4,268.6 L1629.4,267 L1629.4,265.3 L1629.4,263.6 L1634.1,263.6 Z" fill="#265d9c" />
<path d="M1632.7,531.8 L1638.4,531.8 L1638.4,529.4 L1638.4,527 L1638.4,524.7 L1638.4,522.3 L1638.4,519.9 L1638.4,517.5 L1638.4,515.1 L1638.4,512.7 L1638.5,510.4 L1638.7,508 L1639,505.6 L1639.3,503.2 L1639.7,500.8 L1640,498.4 L1640.3,496.1 L1640.7,493.7 L1641.3,491.3 L1642,488.9 L1642.7,486.5 L1643.4,484.1 L1644.1,481.8 L1644.8,479.4 L1645.6,477 L1646.4,474.6 L1647.4,472.2 L1648.3,469.8 L1649.3,467.5 L1650.3,465.1 L1651.2,462.7 L1652.3,460.3 L1653.5,457.9 L1654.8,455.5 L1656.2,453.2 L1657.6,450.8 L1659,448.4 L1660.4,446 L1661.8,443.6 L1663.2,441.2 L1664.6,438.9 L1666.1,436.5 L1667.5,434.1 L1668.9,431.7 L1670.3,429.3 L1671.8,427 L1673.6,424.6 L1675.7,422.2 L1678.1,419.8 L1680.5,417.4 L1682.5,415 L1684.1,412.7 L1685.4,410.3 L1686.6,407.9 L1687.8,405.5 L1688.8,403.1 L1689.1,400.7 L1688.7,398.4 L1687.9,396 L1687.1,393.6 L1686.3,391.2 L1685.5,388.8 L1684.7,386.4 L1683.9,384.1 L1683.1,381.7 L1682.3,379.3 L1681.5,376.9 L1680.7,374.5 L1680.1,372.1 L1680.1,369.8 L1680.7,367.4 L1681.6,365 L1682.4,362.6 L1683.3,360.2 L1683.9,357.8 L1684.2,355.5 L1684,353.1 L1683.9,350.7 L1683.7,348.3 L1683.5,345.9 L1683.3,343.6 L1682.9,341.2 L1682.5,338.8 L1681.8,336.4 L1681.1,334 L1680.3,331.6 L1679.6,329.3 L1678.9,326.9 L1678.2,324.5 L1677.5,322.1 L1676.7,319.7 L1675.9,317.3 L1675,315 L1674.1,312.6 L1673.1,310.2 L1672.1,307.8 L1671.1,305.4 L1670.1,303 L1669.1,300.7 L1668.1,298.3 L1666.9,295.9 L1665.5,293.5 L1664,291.1 L1662.5,288.7 L1661,286.4 L1659.5,284 L1657.8,281.6 L1656.1,279.2 L1654.4,276.8 L1652.6,274.4 L1650.8,272.1 L1649.4,269.7 L1648.2,267.3 L1647.4,264.9 L1646.7,262.5 L1645.9,260.1 L1645.1,257.8 L1644.4,255.4 L1643.6,253 L1642.9,250.6 L1642.4,248.2 L1642,245.9 L1641.7,243.5 L1641.4,241.1 L1641.1,238.7 L1640.8,236.3 L1640.5,233.9 L1640.3,231.6 L1640,229.2 L1639.7,226.8 L1639.4,224.4 L1639.2,222 L1639,219.6 L1638.9,217.3 L1638.7,214.9 L1638.6,212.5 L1638.5,210.1 L1638.4,207.7 L1638.3,205.3 L1638.1,203 L1638,200.6 L1637.9,198.2 L1637.8,195.8 L1637.7,193.4 L1637.5,191 L1637.4,188.7 L1637.4,186.3 L1637.4,183.9 L1637.4,181.5 L1637.4,179.1 L1637.4,176.7 L1637.4,174.4 L1637.4,172 L1637.4,169.6 L1637.4,167.2 L1637.4,164.8 L1637.4,162.4 L1637.4,160.1 L1637.4,157.7 L1637.4,155.3 L1637.4,152.9 L1632.7,152.9 Z" fill="#5eb867" />
<path d="M1765.5,531.8 L1757.8,531.8 L1759.2,529.4 L1760.2,527.1 L1760.7,524.7 L1760.8,522.3 L1760.8,519.9 L1760.8,517.6 L1760.8,515.2 L1760.8,512.8 L1760.8,510.4 L1760.8,508.1 L1760.8,505.7 L1760.8,503.3 L1760.8,500.9 L1760.8,498.6 L1760.8,496.2 L1760.8,493.8 L1760.8,491.4 L1760.8,489.1 L1760.8,486.7 L1760.8,484.3 L1760.8,481.9 L1760.8,479.6 L1760.8,477.2 L1760.8,474.8 L1760.8,472.4 L1760.8,470.1 L1760.8,467.7 L1760.8,465.3 L1760.8,462.9 L1760.8,460.6 L1760.8,458.2 L1760.8,455.8 L1760.7,453.4 L1760.6,451.1 L1760.4,448.7 L1760,446.3 L1759.3,443.9 L1758.3,441.6 L1757.3,439.2 L1756.2,436.8 L1755.1,434.4 L1753.1,432.1 L1750.2,429.7 L1746.3,427.3 L1742.4,424.9 L1738.4,422.6 L1734.5,420.2 L1730.6,417.8 L1726.7,415.4 L1723.1,413.1 L1720.1,410.7 L1717.9,408.3 L1716.1,405.9 L1714.4,403.6 L1713.6,401.2 L1713.7,398.8 L1714.5,396.4 L1715.8,394.1 L1717.5,391.7 L1719.7,389.3 L1721.8,386.9 L1724,384.6 L1726.2,382.2 L1728.5,379.8 L1730.8,377.4 L1733.1,375.1 L1735.4,372.7 L1737.7,370.3 L1740.1,367.9 L1742.5,365.6 L1744.9,363.2 L1747.3,360.8 L1749.4,358.4 L1751.1,356.1 L1752.2,353.7 L1753.1,351.3 L1754.1,348.9 L1755,346.6 L1755.9,344.2 L1756.8,341.8 L1757.5,339.4 L1758.1,337.1 L1758.5,334.7 L1759,332.3 L1759.5,329.9 L1760,327.6 L1760.4,325.2 L1760.7,322.8 L1760.8,320.5 L1760.8,318.1 L1760.8,315.7 L1760.8,313.3 L1760.8,311 L1760.8,308.6 L1760.8,306.2 L1760.8,303.8 L1760.8,301.5 L1760.8,299.1 L1760.8,296.7 L1760.8,294.3 L1760.8,292 L1760.8,289.6 L1760.8,287.2 L1760.8,284.8 L1760.8,282.5 L1760.8,280.1 L1760.8,277.7 L1760.8,275.3 L1760.8,273 L1760.8,270.6 L1760.8,268.2 L1760.8,265.8 L1760.8,263.5 L1760.8,261.1 L1760.8,258.7 L1760.8,256.3 L1760.8,254 L1760.8,251.6 L1760.8,249.2 L1760.8,246.8 L1760.8,244.5 L1760.8,242.1 L1760.8,239.7 L1760.8,237.3 L1760.8,235 L1760.8,232.6 L1760.8,230.2 L1760.8,227.8 L1760.8,225.5 L1760.8,223.1 L1760.8,220.7 L1760.8,218.3 L1760.8,216 L1760.8,213.6 L1760.8,211.2 L1760.8,208.8 L1760.8,206.5 L1760.8,204.1 L1760.8,201.7 L1760.8,199.3 L1760.8,197 L1760.8,194.6 L1760.8,192.2 L1760.8,189.8 L1760.8,187.5 L1760.8,185.1 L1760.8,182.7 L1760.8,180.3 L1760.8,178 L1760.8,175.6 L1760.8,173.2 L1760.8,170.8 L1760.8,168.5 L1760.8,166.1 L1760.8,163.7 L1760.8,161.3 L1760.8,159 L1760.8,156.6 L1760.8,154.2 L1765.5,154.2 Z" fill="#265d9c" />
<path d="M1764.1,531.8 L1769.8,531.8 L1769.7,529.3 L1769.7,526.9 L1769.6,524.4 L1769.5,522 L1769.5,519.5 L1769.4,517.1 L1769.3,514.6 L1769.3,512.1 L1769.3,509.7 L1769.4,507.2 L1769.5,504.8 L1769.7,502.3 L1769.9,499.9 L1770,497.4 L1770.2,495 L1770.4,492.5 L1770.5,490 L1770.8,487.6 L1771.2,485.1 L1771.9,482.7 L1772.6,480.2 L1773.3,477.8 L1774,475.3 L1774.8,472.8 L1775.7,470.4 L1777.1,467.9 L1778.9,465.5 L1780.9,463 L1782.8,460.6 L1784.8,458.1 L1786.8,455.6 L1788.7,453.2 L1790.5,450.7 L1792.3,448.3 L1794,445.8 L1795.7,443.4 L1797.5,440.9 L1799.2,438.4 L1800.9,436 L1802.4,433.5 L1803.9,431.1 L1805.4,428.6 L1806.8,426.2 L1808.3,423.7 L1809.8,421.3 L1811.1,418.8 L1812.2,416.3 L1813.2,413.9 L1814.2,411.4 L1815.2,409 L1816.2,406.5 L1817.1,404.1 L1817.5,401.6 L1817.3,399.1 L1816.6,396.7 L1815.8,394.2 L1815,391.8 L1814.3,389.3 L1813.5,386.9 L1812.7,384.4 L1811.9,381.9 L1811.2,379.5 L1810.4,377 L1809.6,374.6 L1808.8,372.1 L1808,369.7 L1807.2,367.2 L1806.4,364.8 L1805.6,362.3 L1804.7,359.8 L1803.7,357.4 L1802.8,354.9 L1801.9,352.5 L1800.8,350 L1799.7,347.6 L1798.5,345.1 L1797.2,342.6 L1796,340.2 L1794.9,337.7 L1794,335.3 L1793.2,332.8 L1792.4,330.4 L1791.7,327.9 L1791,325.4 L1790.2,323 L1789.5,320.5 L1788.7,318.1 L1788,315.6 L1787.3,313.2 L1786.7,310.7 L1786,308.2 L1785.3,305.8 L1784.6,303.3 L1783.9,300.9 L1783.2,298.4 L1782.4,296 L1781.6,293.5 L1780.6,291.1 L1779.7,288.6 L1778.7,286.1 L1777.8,283.7 L1777,281.2 L1776.1,278.8 L1775.3,276.3 L1774.5,273.9 L1773.7,271.4 L1772.9,268.9 L1772,266.5 L1771.3,264 L1770.9,261.6 L1770.7,259.1 L1770.6,256.7 L1770.5,254.2 L1770.4,251.7 L1770.3,249.3 L1770.2,246.8 L1770.1,244.4 L1770,241.9 L1769.9,239.5 L1769.8,237 L1769.7,234.6 L1769.6,232.1 L1769.5,229.6 L1769.4,227.2 L1769.3,224.7 L1769.2,222.3 L1769.1,219.8 L1769.1,217.4 L1769,214.9 L1768.9,212.4 L1768.8,210 L1768.8,207.5 L1768.8,205.1 L1768.8,202.6 L1768.8,200.2 L1768.8,197.7 L1768.8,195.2 L1768.8,192.8 L1768.8,190.3 L1768.8,187.9 L1768.8,185.4 L1768.8,183 L1768.8,180.5 L1768.8,178 L1768.8,175.6 L1768.8,173.1 L1768.8,170.7 L1768.8,168.2 L1768.8,165.8 L1768.8,163.3 L1768.8,160.9 L1768.8,158.4 L1768.8,155.9 L1768.8,153.5 L1768.8,151 L1768.8,148.6 L1768.8,146.1 L1768.8,143.7 L1768.8,141.2 L1764.1,141.2 Z" fill="#5eb867" />
<path d="M1896.4,531.8 L1889.7,531.8 L1890.8,529.6 L1891.6,527.4 L1891.7,525.2 L1891.7,523 L1891.7,520.8 L1891.7,518.6 L1891.7,516.4 L1891.7,514.2 L1891.7,512 L1891.7,509.8 L1891.7,507.6 L1891.7,505.4 L1891.7,503.2 L1891.7,501 L1891.7,498.8 L1891.7,496.6 L1891.7,494.4 L1891.7,492.2 L1891.7,489.9 L1891.7,487.7 L1891.7,485.5 L1891.7,483.3 L1891.7,481.1 L1891.7,478.9 L1891.7,476.7 L1891.7,474.5 L1891.7,472.3 L1891.7,470.1 L1891.7,467.9 L1891.7,465.7 L1891.7,463.5 L1891.7,461.3 L1891.7,459.1 L1891.7,456.9 L1891.7,454.7 L1891.7,452.5 L1891.6,450.3 L1891.2,448.1 L1890.5,445.9 L1889.5,443.7 L1888.2,441.5 L1886.8,439.3 L1885.4,437.1 L1884,434.9 L1882.2,432.7 L1879.5,430.5 L1876.1,428.3 L1872.4,426.1 L1868.8,423.9 L1865.3,421.7 L1861.9,419.5 L1858.7,417.3 L1855.4,415.1 L1852.4,412.9 L1850,410.6 L1848.1,408.4 L1846.6,406.2 L1845.1,404 L1844.3,401.8 L1844.5,399.6 L1845.5,397.4 L1846.6,395.2 L1847.8,393 L1849.1,390.8 L1850.6,388.6 L1852.3,386.4 L1853.9,384.2 L1855.5,382 L1857.2,379.8 L1859,377.6 L1861,375.4 L1863.2,373.2 L1865.4,371 L1867.6,368.8 L1869.8,366.6 L1871.8,364.4 L1873.6,362.2 L1875.3,360 L1877,357.8 L1878.6,355.6 L1880.3,353.4 L1881.7,351.2 L1882.9,349 L1883.9,346.8 L1884.8,344.6 L1885.7,342.4 L1886.6,340.2 L1887.4,338 L1888.3,335.8 L1889.2,333.6 L1890.1,331.3 L1890.7,329.1 L1891.2,326.9 L1891.6,324.7 L1891.7,322.5 L1891.7,320.3 L1891.7,318.1 L1891.7,315.9 L1891.7,313.7 L1891.7,311.5 L1891.7,309.3 L1891.7,307.1 L1891.7,304.9 L1891.7,302.7 L1891.7,300.5 L1891.7,298.3 L1891.7,296.1 L1891.7,293.9 L1891.7,291.7 L1891.7,289.5 L1891.7,287.3 L1891.7,285.1 L1891.7,282.9 L1891.7,280.7 L1891.7,278.5 L1891.7,276.3 L1891.7,274.1 L1891.7,271.9 L1891.7,269.7 L1891.7,267.5 L1891.7,265.3 L1891.7,263.1 L1891.7,260.9 L1891.7,258.7 L1891.7,256.5 L1891.7,254.3 L1891.7,252.1 L1891.7,249.8 L1891.7,247.6 L1891.7,245.4 L1891.7,243.2 L1891.7,241 L1891.7,238.8 L1891.7,236.6 L1891.7,234.4 L1891.7,232.2 L1891.7,230 L1891.7,227.8 L1891.7,225.6 L1891.7,223.4 L1891.7,221.2 L1891.7,219 L1891.7,216.8 L1891.7,214.6 L1891.7,212.4 L1891.7,210.2 L1891.7,208 L1891.7,205.8 L1891.7,203.6 L1891.7,201.4 L1891.7,199.2 L1891.7,197 L1891.7,194.8 L1891.7,192.6 L1891.7,190.4 L1891.7,188.2 L1891.7,186 L1891.7,183.8 L1891.7,181.6 L1896.4,181.6 Z" fill="#265d9c" />
<path d="M1895,531.8 L1900.7,531.8 L1900.3,529.5 L1899.9,527.1 L1899.8,524.8 L1899.8,522.5 L1899.9,520.1 L1900,517.8 L1900,515.5 L1900.1,513.1 L1900.2,510.8 L1900.2,508.5 L1900.3,506.1 L1900.4,503.8 L1900.4,501.5 L1900.5,499.1 L1900.6,496.8 L1900.7,494.5 L1901,492.1 L1901.6,489.8 L1902.3,487.5 L1902.9,485.1 L1903.6,482.8 L1904.3,480.5 L1905,478.1 L1905.9,475.8 L1907.1,473.5 L1908.5,471.1 L1909.9,468.8 L1911.2,466.5 L1912.6,464.1 L1914,461.8 L1915.5,459.5 L1917.2,457.1 L1919,454.8 L1920.9,452.5 L1922.8,450.1 L1924.7,447.8 L1926.6,445.5 L1928.5,443.1 L1930.3,440.8 L1932.2,438.4 L1934,436.1 L1935.8,433.8 L1937.7,431.4 L1939.5,429.1 L1941.3,426.8 L1943.1,424.4 L1944.7,422.1 L1946.3,419.8 L1947.9,417.4 L1949,415.1 L1949.4,412.8 L1949.1,410.4 L1948.8,408.1 L1948.5,405.8 L1948.2,403.4 L1947.5,401.1 L1946.6,398.8 L1945.5,396.4 L1944.3,394.1 L1943.2,391.8 L1942,389.4 L1940.6,387.1 L1939.1,384.8 L1937.5,382.4 L1935.8,380.1 L1934.2,377.8 L1932.6,375.4 L1931,373.1 L1929.5,370.8 L1928.2,368.4 L1927,366.1 L1925.8,363.8 L1924.6,361.4 L1923.5,359.1 L1922.3,356.8 L1921.1,354.4 L1920,352.1 L1918.8,349.8 L1917.7,347.4 L1916.5,345.1 L1915.4,342.8 L1914.3,340.4 L1913.1,338.1 L1912,335.8 L1910.9,333.4 L1909.8,331.1 L1909,328.8 L1908.3,326.4 L1907.7,324.1 L1907.1,321.8 L1906.4,319.4 L1905.8,317.1 L1905.2,314.8 L1904.6,312.4 L1904.1,310.1 L1903.7,307.8 L1903.3,305.4 L1902.9,303.1 L1902.5,300.8 L1902.1,298.4 L1901.8,296.1 L1901.4,293.8 L1901,291.4 L1900.7,289.1 L1900.5,286.8 L1900.3,284.4 L1900.2,282.1 L1900,279.8 L1899.9,277.4 L1899.7,275.1 L1899.7,272.8 L1899.7,270.4 L1899.7,268.1 L1899.7,265.7 L1899.7,263.4 L1899.7,261.1 L1899.7,258.7 L1899.7,256.4 L1899.7,254.1 L1899.7,251.7 L1899.7,249.4 L1899.7,247.1 L1899.7,244.7 L1899.7,242.4 L1899.7,240.1 L1899.7,237.7 L1899.7,235.4 L1899.7,233.1 L1899.7,230.7 L1899.7,228.4 L1899.7,226.1 L1899.7,223.7 L1899.7,221.4 L1899.7,219.1 L1899.7,216.7 L1899.7,214.4 L1899.7,212.1 L1899.7,209.7 L1899.7,207.4 L1899.7,205.1 L1899.7,202.7 L1899.7,200.4 L1899.7,198.1 L1899.7,195.7 L1899.7,193.4 L1899.7,191.1 L1899.7,188.7 L1899.7,186.4 L1899.7,184.1 L1899.7,181.7 L1899.7,179.4 L1899.7,177.1 L1899.7,174.7 L1899.7,172.4 L1899.7,170.1 L1899.7,167.7 L1899.7,165.4 L1899.7,163.1 L1899.7,160.7 L1895,160.7 Z" fill="#5eb867" />
<path d="M2027.9,531.8 L2021.2,531.8 L2022,530.2 L2022.8,528.5 L2023.3,526.9 L2023.7,525.2 L2023.7,523.6 L2023.7,522 L2023.7,520.3 L2023.7,518.7 L2023.7,517.1 L2023.7,515.4 L2023.7,513.8 L2023.7,512.1 L2023.7,510.5 L2023.7,508.9 L2023.7,507.2 L2023.7,505.6 L2023.7,504 L2023.7,502.3 L2023.7,500.7 L2023.7,499 L2023.7,497.4 L2023.7,495.8 L2023.7,494.1 L2023.7,492.5 L2023.7,490.9 L2023.7,489.2 L2023.7,487.6 L2023.7,485.9 L2023.7,484.3 L2023.7,482.7 L2023.7,481 L2023.7,479.4 L2023.7,477.8 L2023.7,476.1 L2023.6,474.5 L2023.6,472.8 L2023.6,471.2 L2023.5,469.6 L2023.5,467.9 L2023.5,466.3 L2023.4,464.7 L2023.4,463 L2023.4,461.4 L2023.3,459.7 L2023.3,458.1 L2023.3,456.5 L2023.2,454.8 L2023.1,453.2 L2022.7,451.6 L2022.2,449.9 L2021.5,448.3 L2020.9,446.6 L2020.3,445 L2019.6,443.4 L2019,441.7 L2018.4,440.1 L2017.8,438.4 L2017.2,436.8 L2016.8,435.2 L2016.4,433.5 L2016,431.9 L2015.4,430.3 L2014,428.6 L2011.6,427 L2008.6,425.3 L2005.7,423.7 L2002.5,422.1 L1998.9,420.4 L1995,418.8 L1990.9,417.2 L1986.7,415.5 L1983.2,413.9 L1980.6,412.2 L1978.9,410.6 L1977.5,409 L1976.1,407.3 L1975.5,405.7 L1975.9,404.1 L1977.3,402.4 L1978.6,400.8 L1980,399.1 L1981.7,397.5 L1983.8,395.9 L1986.1,394.2 L1988.4,392.6 L1990.5,391 L1992.2,389.3 L1993.4,387.7 L1994.4,386 L1995.3,384.4 L1996.4,382.8 L1997.8,381.1 L1999.4,379.5 L2001.2,377.9 L2003,376.2 L2004.8,374.6 L2006.4,372.9 L2007.8,371.3 L2009.3,369.7 L2010.8,368 L2012.3,366.4 L2013.7,364.8 L2015.2,363.1 L2016.7,361.5 L2018,359.8 L2018.9,358.2 L2019.4,356.6 L2019.6,354.9 L2019.8,353.3 L2020,351.6 L2020.1,350 L2020.2,348.4 L2020.2,346.7 L2020.2,345.1 L2020.2,343.5 L2020.2,341.8 L2020.2,340.2 L2020.2,338.5 L2020.2,336.9 L2020.2,335.3 L2020.2,333.6 L2020.2,332 L2020.2,330.4 L2020.2,328.7 L2020.2,327.1 L2020.2,325.4 L2020.2,323.8 L2020.4,322.2 L2020.7,320.5 L2021.3,318.9 L2021.8,317.3 L2022.4,315.6 L2022.8,314 L2023.1,312.3 L2023.2,310.7 L2023.2,309.1 L2023.2,307.4 L2023.2,305.8 L2023.2,304.2 L2023.3,302.5 L2023.4,300.9 L2023.5,299.2 L2023.6,297.6 L2023.7,296 L2023.8,294.3 L2023.9,292.7 L2024,291.1 L2024.1,289.4 L2024.2,287.8 L2024.3,286.1 L2024.4,284.5 L2024.5,282.9 L2024.6,281.2 L2024.7,279.6 L2024.8,278 L2024.9,276.3 L2025,274.7 L2025.1,273 L2025.2,271.4 L2027.9,271.4 Z" fill="#265d9c" fill-opacity="0.6"/>
<g fill="#265d9c" fill-opacity="0.85"><circle cx="1998.8" cy="403.2" r="2.3"/><circle cx="2020.1" cy="366" r="2.3"/><circle cx="1998.4" cy="401.3" r="2.3"/><circle cx="2005.6" cy="415" r="2.3"/><circle cx="1993.7" cy="395.4" r="2.3"/><circle cx="2019.1" cy="422.2" r="2.3"/><circle cx="2008.9" cy="422.8" r="2.3"/><circle cx="2024.4" cy="391.5" r="2.3"/><circle cx="2021.7" cy="321" r="2.3"/><circle cx="2002" cy="394.1" r="2.3"/><circle cx="2025.3" cy="416.9" r="2.3"/><circle cx="2023.1" cy="400.6" r="2.3"/><circle cx="2016.3" cy="415" r="2.3"/><circle cx="2024.8" cy="451.5" r="2.3"/><circle cx="1984.7" cy="403.9" r="2.3"/><circle cx="1996.3" cy="400.6" r="2.3"/><circle cx="1994.9" cy="401.3" r="2.3"/><circle cx="2012.4" cy="403.2" r="2.3"/><circle cx="2025.3" cy="283.8" r="2.3"/><circle cx="2007.6" cy="379.7" r="2.3"/><circle cx="2015" cy="409.1" r="2.3"/><circle cx="2022.6" cy="410.4" r="2.3"/><circle cx="2013.5" cy="386.3" r="2.3"/><circle cx="2016.2" cy="379.1" r="2.3"/><circle cx="2021.8" cy="343.8" r="2.3"/><circle cx="2025.1" cy="531.1" r="2.3"/><circle cx="2018.4" cy="369.9" r="2.3"/><circle cx="2024" cy="322.3" r="2.3"/><circle cx="2016.4" cy="426.1" r="2.3"/><circle cx="2017.6" cy="385.6" r="2.3"/><circle cx="2019.3" cy="423.5" r="2.3"/><circle cx="2022.3" cy="338" r="2.3"/><circle cx="2018.9" cy="419.5" r="2.3"/><circle cx="2024.4" cy="421.5" r="2.3"/><circle cx="2020.6" cy="383.7" r="2.3"/><circle cx="2005.9" cy="398.7" r="2.3"/><circle cx="1996.9" cy="415" r="2.3"/><circle cx="2006.7" cy="418.9" r="2.3"/><circle cx="2014.7" cy="420.2" r="2.3"/><circle cx="2014.3" cy="413.7" r="2.3"/><circle cx="2022" cy="331.4" r="2.3"/><circle cx="1984.4" cy="409.8" r="2.3"/><circle cx="2009" cy="413.7" r="2.3"/><circle cx="2010.2" cy="378.4" r="2.3"/><circle cx="2002.7" cy="421.5" r="2.3"/><circle cx="2014.8" cy="413.7" r="2.3"/><circle cx="2015.9" cy="385.6" r="2.3"/><circle cx="2022.4" cy="409.8" r="2.3"/><circle cx="2013.7" cy="422.8" r="2.3"/><circle cx="1999.1" cy="412.4" r="2.3"/><circle cx="2003.4" cy="406.5" r="2.3"/><circle cx="2023.5" cy="343.2" r="2.3"/><circle cx="1987.8" cy="398" r="2.3"/><circle cx="2019.7" cy="415" r="2.3"/><circle cx="2012.9" cy="369.9" r="2.3"/><circle cx="2017.3" cy="411.7" r="2.3"/><circle cx="1995.9" cy="388.2" r="2.3"/><circle cx="1986.7" cy="414.3" r="2.3"/><circle cx="2013.7" cy="374.5" r="2.3"/><circle cx="2020.7" cy="404.5" r="2.3"/><circle cx="2020.2" cy="441.7" r="2.3"/><circle cx="1994.5" cy="412.4" r="2.3"/><circle cx="1988.7" cy="411.7" r="2.3"/><circle cx="2013.2" cy="397.4" r="2.3"/><circle cx="1998.5" cy="415.6" r="2.3"/><circle cx="2022.9" cy="427.4" r="2.3"/><circle cx="1987.9" cy="398.7" r="2.3"/><circle cx="2014.2" cy="396.1" r="2.3"/><circle cx="2022.9" cy="368" r="2.3"/><circle cx="2025.5" cy="487.4" r="2.3"/><circle cx="2022.9" cy="403.9" r="2.3"/><circle cx="2011.9" cy="415.6" r="2.3"/><circle cx="2020" cy="398.7" r="2.3"/><circle cx="1982.2" cy="407.1" r="2.3"/><circle cx="2022.8" cy="322.3" r="2.3"/><circle cx="2004.9" cy="392.1" r="2.3"/><circle cx="2024.7" cy="417.6" r="2.3"/><circle cx="2024.7" cy="483.5" r="2.3"/><circle cx="1992.2" cy="391.5" r="2.3"/><circle cx="2025" cy="473.7" r="2.3"/><circle cx="1990.9" cy="402.6" r="2.3"/><circle cx="1978.5" cy="409.1" r="2.3"/><circle cx="2017" cy="425.4" r="2.3"/><circle cx="1996.9" cy="388.9" r="2.3"/><circle cx="2003.2" cy="388.9" r="2.3"/><circle cx="1998.8" cy="384.3" r="2.3"/><circle cx="1992.6" cy="407.8" r="2.3"/><circle cx="2010.5" cy="371.9" r="2.3"/><circle cx="1986.4" cy="405.2" r="2.3"/><circle cx="2012.7" cy="377.1" r="2.3"/><circle cx="2010" cy="396.1" r="2.3"/><circle cx="1999.1" cy="398" r="2.3"/><circle cx="2014.7" cy="424.8" r="2.3"/><circle cx="2024.6" cy="298.2" r="2.3"/><circle cx="2013.2" cy="389.5" r="2.3"/><circle cx="2007.2" cy="388.9" r="2.3"/><circle cx="1984.9" cy="403.9" r="2.3"/><circle cx="2011.9" cy="424.1" r="2.3"/><circle cx="2024.7" cy="452.2" r="2.3"/><circle cx="2014.8" cy="402.6" r="2.3"/><circle cx="2008.4" cy="391.5" r="2.3"/><circle cx="1987.7" cy="396.1" r="2.3"/><circle cx="2025.3" cy="411.7" r="2.3"/><circle cx="1994.1" cy="409.8" r="2.3"/><circle cx="2018.8" cy="414.3" r="2.3"/><circle cx="2015" cy="370.6" r="2.3"/><circle cx="1982.3" cy="403.9" r="2.3"/><circle cx="1993.9" cy="408.5" r="2.3"/><circle cx="2008.1" cy="414.3" r="2.3"/><circle cx="1999.5" cy="383" r="2.3"/><circle cx="2017.9" cy="375.2" r="2.3"/><circle cx="2011.9" cy="398" r="2.3"/><circle cx="2010.3" cy="418.2" r="2.3"/><circle cx="2003.4" cy="380.4" r="2.3"/><circle cx="1993.5" cy="390.8" r="2.3"/><circle cx="2018" cy="410.4" r="2.3"/><circle cx="2012.4" cy="403.9" r="2.3"/><circle cx="2008.2" cy="413.7" r="2.3"/><circle cx="2005.4" cy="396.1" r="2.3"/><circle cx="1986.1" cy="409.1" r="2.3"/><circle cx="2023.9" cy="321" r="2.3"/><circle cx="2025.3" cy="425.4" r="2.3"/><circle cx="2024.9" cy="375.8" r="2.3"/><circle cx="2006.4" cy="390.8" r="2.3"/><circle cx="1988.4" cy="409.1" r="2.3"/><circle cx="2025.7" cy="480.2" r="2.3"/><circle cx="2024.6" cy="403.2" r="2.3"/><circle cx="2019.4" cy="381" r="2.3"/><circle cx="2024.3" cy="417.6" r="2.3"/><circle cx="2007.8" cy="395.4" r="2.3"/><circle cx="1999.3" cy="395.4" r="2.3"/><circle cx="1998.2" cy="383" r="2.3"/><circle cx="2018.7" cy="392.1" r="2.3"/><circle cx="2017.3" cy="402.6" r="2.3"/><circle cx="2025.3" cy="504.4" r="2.3"/><circle cx="2019.9" cy="390.2" r="2.3"/><circle cx="2010" cy="411.1" r="2.3"/><circle cx="2007.6" cy="391.5" r="2.3"/><circle cx="1994.5" cy="396.1" r="2.3"/><circle cx="1986.3" cy="405.8" r="2.3"/><circle cx="2024.4" cy="370.6" r="2.3"/><circle cx="2018.6" cy="363.4" r="2.3"/><circle cx="2012.4" cy="418.9" r="2.3"/><circle cx="1988.2" cy="396.1" r="2.3"/><circle cx="1997.6" cy="406.5" r="2.3"/><circle cx="2009.3" cy="375.2" r="2.3"/><circle cx="2023.3" cy="356.9" r="2.3"/><circle cx="2017.9" cy="394.1" r="2.3"/><circle cx="1999.2" cy="389.5" r="2.3"/><circle cx="1997.4" cy="394.7" r="2.3"/><circle cx="1987.4" cy="413.7" r="2.3"/><circle cx="2021.3" cy="322.3" r="2.3"/><circle cx="1989.8" cy="400" r="2.3"/><circle cx="1982.8" cy="409.1" r="2.3"/><circle cx="2017.4" cy="378.4" r="2.3"/><circle cx="2017.7" cy="424.1" r="2.3"/><circle cx="1991.2" cy="399.3" r="2.3"/><circle cx="2024.5" cy="401.9" r="2.3"/><circle cx="2024" cy="383" r="2.3"/><circle cx="2020.8" cy="383.7" r="2.3"/><circle cx="1988.1" cy="408.5" r="2.3"/><circle cx="2020.9" cy="417.6" r="2.3"/><circle cx="1992.4" cy="400.6" r="2.3"/><circle cx="2008.1" cy="379.7" r="2.3"/><circle cx="2023.2" cy="355.6" r="2.3"/><circle cx="2025.4" cy="352.3" r="2.3"/><circle cx="2002.8" cy="413" r="2.3"/><circle cx="1991.7" cy="409.8" r="2.3"/><circle cx="2005.1" cy="394.7" r="2.3"/><circle cx="2011.4" cy="379.7" r="2.3"/><circle cx="2007.8" cy="409.1" r="2.3"/><circle cx="2003.3" cy="379.1" r="2.3"/><circle cx="1989.5" cy="413.7" r="2.3"/><circle cx="2023.4" cy="334.1" r="2.3"/><circle cx="2017" cy="398" r="2.3"/><circle cx="2002.9" cy="400" r="2.3"/><circle cx="2024.6" cy="396.7" r="2.3"/><circle cx="2023.4" cy="333.4" r="2.3"/><circle cx="1985.9" cy="405.8" r="2.3"/><circle cx="2004" cy="398.7" r="2.3"/><circle cx="2023.5" cy="392.1" r="2.3"/><circle cx="2007" cy="400" r="2.3"/><circle cx="2021.5" cy="345.1" r="2.3"/><circle cx="2004.2" cy="411.1" r="2.3"/><circle cx="2013" cy="418.9" r="2.3"/><circle cx="2000.3" cy="382.3" r="2.3"/><circle cx="2010.7" cy="402.6" r="2.3"/><circle cx="2001.4" cy="415" r="2.3"/><circle cx="2024.2" cy="366" r="2.3"/><circle cx="2025.1" cy="385.6" r="2.3"/><circle cx="2016.5" cy="414.3" r="2.3"/><circle cx="2014.3" cy="392.1" r="2.3"/><circle cx="1995.5" cy="407.1" r="2.3"/><circle cx="2007.7" cy="420.9" r="2.3"/><circle cx="2011.5" cy="419.5" r="2.3"/><circle cx="2016.9" cy="411.7" r="2.3"/><circle cx="2005.9" cy="400" r="2.3"/><circle cx="2005.3" cy="406.5" r="2.3"/><circle cx="2018.5" cy="400.6" r="2.3"/><circle cx="1999.8" cy="414.3" r="2.3"/><circle cx="2004.9" cy="394.7" r="2.3"/><circle cx="2011" cy="378.4" r="2.3"/><circle cx="2020.3" cy="377.8" r="2.3"/><circle cx="2000.1" cy="388.2" r="2.3"/><circle cx="2020.4" cy="371.3" r="2.3"/><circle cx="1982.2" cy="409.1" r="2.3"/><circle cx="1982.1" cy="413" r="2.3"/><circle cx="2023.2" cy="373.9" r="2.3"/><circle cx="1993.5" cy="412.4" r="2.3"/><circle cx="2021.4" cy="411.7" r="2.3"/><circle cx="2014.7" cy="380.4" r="2.3"/><circle cx="2022.1" cy="384.3" r="2.3"/><circle cx="1991.7" cy="405.2" r="2.3"/><circle cx="2025.6" cy="484.2" r="2.3"/><circle cx="1992.3" cy="392.8" r="2.3"/><circle cx="2025.3" cy="334.1" r="2.3"/><circle cx="1990.4" cy="401.3" r="2.3"/><circle cx="1993.8" cy="401.3" r="2.3"/><circle cx="2023" cy="415" r="2.3"/><circle cx="2024.9" cy="420.9" r="2.3"/></g>
<path d="M2026.5,531.8 L2030.7,531.8 L2030.7,530.2 L2030.7,528.6 L2030.7,527 L2030.7,525.3 L2030.7,523.7 L2030.7,522.1 L2030.7,520.5 L2030.7,518.9 L2030.7,517.3 L2030.7,515.7 L2030.7,514.1 L2030.7,512.4 L2030.7,510.8 L2030.7,509.2 L2030.7,507.6 L2030.7,506 L2030.7,504.4 L2030.7,502.8 L2030.7,501.1 L2030.7,499.5 L2030.7,497.9 L2030.7,496.3 L2030.7,494.7 L2030.8,493.1 L2031,491.5 L2031.4,489.9 L2031.8,488.2 L2032.1,486.6 L2032.5,485 L2032.9,483.4 L2033.3,481.8 L2033.6,480.2 L2034.1,478.6 L2034.7,477 L2035.4,475.3 L2036.2,473.7 L2037,472.1 L2037.8,470.5 L2038.6,468.9 L2039.4,467.3 L2040.3,465.7 L2041.2,464 L2042.2,462.4 L2043.2,460.8 L2044.2,459.2 L2045.1,457.6 L2046.1,456 L2047.1,454.4 L2048.1,452.8 L2049,451.1 L2049.8,449.5 L2050.7,447.9 L2051.5,446.3 L2052.3,444.7 L2053.2,443.1 L2054,441.5 L2055,439.8 L2056,438.2 L2057.1,436.6 L2058.1,435 L2059.2,433.4 L2060.3,431.8 L2061.5,430.2 L2062.8,428.6 L2064.1,426.9 L2065.4,425.3 L2066.7,423.7 L2068.2,422.1 L2069.9,420.5 L2071.9,418.9 L2074.1,417.3 L2076.3,415.7 L2078.5,414 L2079.9,412.4 L2080.2,410.8 L2079.5,409.2 L2078.5,407.6 L2077.6,406 L2076.6,404.4 L2075.6,402.7 L2074.6,401.1 L2073.6,399.5 L2072.6,397.9 L2071.5,396.3 L2070.4,394.7 L2069.3,393.1 L2068.3,391.5 L2067.1,389.8 L2066,388.2 L2064.8,386.6 L2063.6,385 L2062.4,383.4 L2061.2,381.8 L2060,380.2 L2058.7,378.5 L2057.3,376.9 L2055.8,375.3 L2054.1,373.7 L2052.4,372.1 L2050.8,370.5 L2049.2,368.9 L2048,367.3 L2047.1,365.6 L2046.3,364 L2045.5,362.4 L2044.7,360.8 L2044.1,359.2 L2043.6,357.6 L2043.4,356 L2043.2,354.4 L2043,352.7 L2042.8,351.1 L2042.6,349.5 L2042.4,347.9 L2042.1,346.3 L2041.5,344.7 L2040.7,343.1 L2039.9,341.4 L2039.1,339.8 L2038.3,338.2 L2037.5,336.6 L2036.8,335 L2036,333.4 L2035.3,331.8 L2034.5,330.2 L2033.8,328.5 L2033.3,326.9 L2033.1,325.3 L2033,323.7 L2032.9,322.1 L2032.8,320.5 L2032.7,318.9 L2032.6,317.2 L2032.4,315.6 L2032.3,314 L2032.2,312.4 L2032.1,310.8 L2032,309.2 L2031.9,307.6 L2031.8,306 L2031.7,304.3 L2031.6,302.7 L2031.5,301.1 L2031.4,299.5 L2031.3,297.9 L2031.2,296.3 L2031.1,294.7 L2031.1,293.1 L2031,291.4 L2030.9,289.8 L2030.8,288.2 L2030.7,286.6 L2030.7,285 L2030.6,283.4 L2030.5,281.8 L2030.4,280.1 L2030.4,278.5 L2030.3,276.9 L2030.2,275.3 L2026.5,275.3 Z" fill="#5eb867" fill-opacity="0.85"/>
<g fill="#5eb867" fill-opacity="0.85"><circle cx="2061.4" cy="409" r="2.3"/><circle cx="2034.5" cy="395.5" r="2.3"/><circle cx="2029.7" cy="485.5" r="2.3"/><circle cx="2059.5" cy="422.5" r="2.3"/><circle cx="2052.8" cy="393.6" r="2.3"/><circle cx="2059.5" cy="403.9" r="2.3"/><circle cx="2040.5" cy="437.3" r="2.3"/><circle cx="2054.7" cy="434.7" r="2.3"/><circle cx="2042.9" cy="454.7" r="2.3"/><circle cx="2042.1" cy="450.8" r="2.3"/><circle cx="2046.6" cy="417.4" r="2.3"/><circle cx="2029.1" cy="378.2" r="2.3"/><circle cx="2044.9" cy="454" r="2.3"/><circle cx="2033" cy="406.4" r="2.3"/><circle cx="2031.6" cy="319" r="2.3"/><circle cx="2038.7" cy="442.4" r="2.3"/><circle cx="2036.8" cy="438.6" r="2.3"/><circle cx="2035.8" cy="399.4" r="2.3"/><circle cx="2030.6" cy="392.9" r="2.3"/><circle cx="2052.8" cy="433.4" r="2.3"/><circle cx="2049.4" cy="413.5" r="2.3"/><circle cx="2050" cy="400.7" r="2.3"/><circle cx="2030.1" cy="414.2" r="2.3"/><circle cx="2065.4" cy="390.4" r="2.3"/><circle cx="2033.6" cy="335.7" r="2.3"/><circle cx="2045.4" cy="416.1" r="2.3"/><circle cx="2055.7" cy="393.6" r="2.3"/><circle cx="2034.2" cy="442.4" r="2.3"/><circle cx="2052.6" cy="415.4" r="2.3"/><circle cx="2044.5" cy="382" r="2.3"/><circle cx="2037.2" cy="466.2" r="2.3"/><circle cx="2055.2" cy="411.6" r="2.3"/><circle cx="2043.1" cy="427.7" r="2.3"/><circle cx="2066.3" cy="414.2" r="2.3"/><circle cx="2041.2" cy="444.4" r="2.3"/><circle cx="2049.5" cy="432.8" r="2.3"/><circle cx="2032.1" cy="462.4" r="2.3"/><circle cx="2057.4" cy="416.7" r="2.3"/><circle cx="2036.1" cy="456.6" r="2.3"/><circle cx="2037.9" cy="428.9" r="2.3"/><circle cx="2076.4" cy="409" r="2.3"/><circle cx="2075.9" cy="408.4" r="2.3"/><circle cx="2055.6" cy="434.1" r="2.3"/><circle cx="2037.5" cy="415.4" r="2.3"/><circle cx="2062" cy="388.4" r="2.3"/><circle cx="2028.9" cy="501.6" r="2.3"/><circle cx="2040.6" cy="386.5" r="2.3"/><circle cx="2028.9" cy="425.7" r="2.3"/><circle cx="2036.9" cy="461.1" r="2.3"/><circle cx="2032.2" cy="326.1" r="2.3"/><circle cx="2029.7" cy="407.1" r="2.3"/><circle cx="2062.2" cy="418.7" r="2.3"/><circle cx="2047.7" cy="379.4" r="2.3"/><circle cx="2046.8" cy="427" r="2.3"/><circle cx="2059.9" cy="409" r="2.3"/><circle cx="2063.7" cy="423.8" r="2.3"/><circle cx="2031.8" cy="369.2" r="2.3"/><circle cx="2062.9" cy="421.2" r="2.3"/><circle cx="2065.1" cy="421.9" r="2.3"/><circle cx="2062.2" cy="406.4" r="2.3"/><circle cx="2037" cy="392.3" r="2.3"/><circle cx="2038.6" cy="421.2" r="2.3"/><circle cx="2056.8" cy="394.2" r="2.3"/><circle cx="2051.5" cy="439.2" r="2.3"/><circle cx="2040.9" cy="412.2" r="2.3"/><circle cx="2078.6" cy="410.9" r="2.3"/><circle cx="2057.6" cy="403.2" r="2.3"/><circle cx="2043.5" cy="361.4" r="2.3"/><circle cx="2043.5" cy="387.2" r="2.3"/><circle cx="2069.3" cy="401.3" r="2.3"/><circle cx="2048.2" cy="384.6" r="2.3"/><circle cx="2045.3" cy="416.7" r="2.3"/><circle cx="2049.7" cy="389.7" r="2.3"/><circle cx="2032.8" cy="475.2" r="2.3"/><circle cx="2043" cy="366.6" r="2.3"/><circle cx="2045.6" cy="367.9" r="2.3"/><circle cx="2066.1" cy="405.2" r="2.3"/><circle cx="2033.3" cy="414.8" r="2.3"/><circle cx="2043" cy="416.1" r="2.3"/><circle cx="2038.2" cy="356.3" r="2.3"/><circle cx="2057.9" cy="404.5" r="2.3"/><circle cx="2041.9" cy="440.5" r="2.3"/><circle cx="2044.3" cy="392.9" r="2.3"/><circle cx="2043.3" cy="425.1" r="2.3"/><circle cx="2057.9" cy="418.7" r="2.3"/><circle cx="2031" cy="437.9" r="2.3"/><circle cx="2057.7" cy="419.3" r="2.3"/><circle cx="2052.4" cy="387.8" r="2.3"/><circle cx="2033.7" cy="356.3" r="2.3"/><circle cx="2033.8" cy="465.6" r="2.3"/><circle cx="2037.7" cy="410.9" r="2.3"/><circle cx="2042.7" cy="395.5" r="2.3"/><circle cx="2040.2" cy="425.7" r="2.3"/><circle cx="2028.7" cy="352.4" r="2.3"/><circle cx="2041.7" cy="415.4" r="2.3"/><circle cx="2042.6" cy="429.6" r="2.3"/><circle cx="2059.8" cy="427.7" r="2.3"/><circle cx="2062.6" cy="407.1" r="2.3"/><circle cx="2042" cy="434.7" r="2.3"/><circle cx="2066.1" cy="400" r="2.3"/><circle cx="2045.4" cy="424.4" r="2.3"/><circle cx="2051.2" cy="376.2" r="2.3"/><circle cx="2047.2" cy="427" r="2.3"/><circle cx="2042.7" cy="387.2" r="2.3"/><circle cx="2055.8" cy="394.9" r="2.3"/><circle cx="2033.5" cy="338.3" r="2.3"/><circle cx="2043" cy="394.9" r="2.3"/><circle cx="2040.8" cy="390.4" r="2.3"/><circle cx="2046.2" cy="407.1" r="2.3"/><circle cx="2034.3" cy="419.3" r="2.3"/><circle cx="2047.4" cy="427" r="2.3"/><circle cx="2030.3" cy="424.4" r="2.3"/><circle cx="2037.8" cy="382.7" r="2.3"/><circle cx="2036.9" cy="355.7" r="2.3"/><circle cx="2071.2" cy="414.2" r="2.3"/><circle cx="2034.6" cy="367.9" r="2.3"/><circle cx="2044.6" cy="440.5" r="2.3"/><circle cx="2046.2" cy="378.2" r="2.3"/><circle cx="2042.7" cy="385.2" r="2.3"/><circle cx="2040.2" cy="399.4" r="2.3"/><circle cx="2047.8" cy="412.9" r="2.3"/><circle cx="2048.1" cy="414.2" r="2.3"/><circle cx="2034.1" cy="382.7" r="2.3"/><circle cx="2036.8" cy="429.6" r="2.3"/><circle cx="2033.5" cy="339.6" r="2.3"/><circle cx="2042.2" cy="456.6" r="2.3"/><circle cx="2048.2" cy="373" r="2.3"/><circle cx="2062.5" cy="416.1" r="2.3"/><circle cx="2034.2" cy="419.9" r="2.3"/><circle cx="2049.6" cy="374.3" r="2.3"/><circle cx="2057.6" cy="428.9" r="2.3"/><circle cx="2031.4" cy="468.8" r="2.3"/><circle cx="2029.3" cy="481" r="2.3"/><circle cx="2049.2" cy="434.7" r="2.3"/><circle cx="2036.2" cy="420.6" r="2.3"/><circle cx="2038.1" cy="432.2" r="2.3"/><circle cx="2044.3" cy="374.9" r="2.3"/><circle cx="2044.3" cy="444.4" r="2.3"/><circle cx="2049.9" cy="405.2" r="2.3"/><circle cx="2059.8" cy="405.8" r="2.3"/><circle cx="2045.2" cy="383.3" r="2.3"/><circle cx="2048.8" cy="398.1" r="2.3"/><circle cx="2045.4" cy="398.1" r="2.3"/><circle cx="2055" cy="412.2" r="2.3"/><circle cx="2039.4" cy="391.7" r="2.3"/><circle cx="2035.8" cy="359.5" r="2.3"/><circle cx="2047.4" cy="376.2" r="2.3"/><circle cx="2037.4" cy="347.3" r="2.3"/><circle cx="2049.4" cy="411.6" r="2.3"/><circle cx="2062.1" cy="400" r="2.3"/><circle cx="2032.3" cy="378.2" r="2.3"/><circle cx="2030.6" cy="453.4" r="2.3"/><circle cx="2029.8" cy="448.2" r="2.3"/><circle cx="2028.9" cy="493.9" r="2.3"/><circle cx="2045" cy="442.4" r="2.3"/><circle cx="2071.1" cy="399.4" r="2.3"/><circle cx="2037.8" cy="345.4" r="2.3"/><circle cx="2028.9" cy="349.9" r="2.3"/><circle cx="2060.6" cy="427" r="2.3"/><circle cx="2038.9" cy="409" r="2.3"/><circle cx="2043.9" cy="387.8" r="2.3"/><circle cx="2043.5" cy="404.5" r="2.3"/><circle cx="2031.7" cy="425.7" r="2.3"/><circle cx="2070.9" cy="400" r="2.3"/><circle cx="2031" cy="319.7" r="2.3"/><circle cx="2033.6" cy="356.3" r="2.3"/><circle cx="2065.6" cy="420.6" r="2.3"/><circle cx="2058.6" cy="400.7" r="2.3"/><circle cx="2029.4" cy="482.3" r="2.3"/><circle cx="2064.8" cy="408.4" r="2.3"/><circle cx="2051.6" cy="380.1" r="2.3"/><circle cx="2045.5" cy="417.4" r="2.3"/><circle cx="2054.2" cy="374.9" r="2.3"/><circle cx="2038.2" cy="408.4" r="2.3"/><circle cx="2052" cy="398.7" r="2.3"/><circle cx="2039.4" cy="415.4" r="2.3"/><circle cx="2058.5" cy="414.2" r="2.3"/><circle cx="2042.3" cy="439.9" r="2.3"/><circle cx="2038.3" cy="348.6" r="2.3"/><circle cx="2043.9" cy="424.4" r="2.3"/><circle cx="2045.5" cy="444.4" r="2.3"/><circle cx="2036" cy="398.1" r="2.3"/><circle cx="2056.7" cy="404.5" r="2.3"/><circle cx="2046" cy="402.6" r="2.3"/><circle cx="2043.4" cy="419.3" r="2.3"/><circle cx="2029" cy="287.5" r="2.3"/><circle cx="2051" cy="407.1" r="2.3"/><circle cx="2040.5" cy="433.4" r="2.3"/><circle cx="2039" cy="429.6" r="2.3"/><circle cx="2045" cy="415.4" r="2.3"/><circle cx="2032.7" cy="355" r="2.3"/><circle cx="2057.2" cy="418" r="2.3"/><circle cx="2054.2" cy="413.5" r="2.3"/><circle cx="2031.7" cy="397.4" r="2.3"/><circle cx="2032.8" cy="395.5" r="2.3"/><circle cx="2058.2" cy="424.4" r="2.3"/><circle cx="2030.5" cy="313.2" r="2.3"/><circle cx="2041.6" cy="433.4" r="2.3"/><circle cx="2061.1" cy="421.9" r="2.3"/><circle cx="2035.5" cy="426.4" r="2.3"/><circle cx="2056.1" cy="398.1" r="2.3"/><circle cx="2050.2" cy="401.3" r="2.3"/><circle cx="2034.4" cy="346" r="2.3"/><circle cx="2034" cy="355" r="2.3"/><circle cx="2046.7" cy="409.7" r="2.3"/><circle cx="2057.8" cy="391.7" r="2.3"/><circle cx="2047.3" cy="425.7" r="2.3"/><circle cx="2047.7" cy="390.4" r="2.3"/><circle cx="2054.4" cy="396.2" r="2.3"/><circle cx="2042.4" cy="391.7" r="2.3"/><circle cx="2029.6" cy="419.9" r="2.3"/><circle cx="2044.8" cy="369.8" r="2.3"/><circle cx="2076.6" cy="413.5" r="2.3"/><circle cx="2031.3" cy="366.6" r="2.3"/><circle cx="2041" cy="378.8" r="2.3"/><circle cx="2039.4" cy="419.3" r="2.3"/><circle cx="2031.2" cy="412.2" r="2.3"/><circle cx="2030.4" cy="457.2" r="2.3"/><circle cx="2035.2" cy="419.3" r="2.3"/><circle cx="2049.1" cy="441.2" r="2.3"/><circle cx="2052.1" cy="414.8" r="2.3"/><circle cx="2070.4" cy="400.7" r="2.3"/><circle cx="2034.8" cy="437.3" r="2.3"/><circle cx="2052.8" cy="375.6" r="2.3"/><circle cx="2036" cy="356.9" r="2.3"/><circle cx="2037.5" cy="415.4" r="2.3"/><circle cx="2041.7" cy="364.7" r="2.3"/><circle cx="2065.6" cy="403.9" r="2.3"/><circle cx="2048.4" cy="423.8" r="2.3"/><circle cx="2030.5" cy="365.3" r="2.3"/><circle cx="2036.7" cy="399.4" r="2.3"/><circle cx="2053.3" cy="378.8" r="2.3"/><circle cx="2047.2" cy="397.4" r="2.3"/><circle cx="2032.6" cy="470.7" r="2.3"/><circle cx="2047.1" cy="416.1" r="2.3"/><circle cx="2047.3" cy="449.5" r="2.3"/><circle cx="2055.5" cy="405.8" r="2.3"/><circle cx="2054.6" cy="378.2" r="2.3"/><circle cx="2054" cy="403.9" r="2.3"/><circle cx="2039.2" cy="377.5" r="2.3"/><circle cx="2029" cy="367.2" r="2.3"/><circle cx="2046.1" cy="383.9" r="2.3"/><circle cx="2072.2" cy="399.4" r="2.3"/><circle cx="2042.4" cy="427.7" r="2.3"/><circle cx="2053.1" cy="383.3" r="2.3"/><circle cx="2065.8" cy="405.8" r="2.3"/><circle cx="2064.3" cy="394.9" r="2.3"/><circle cx="2044" cy="396.8" r="2.3"/><circle cx="2031.8" cy="421.2" r="2.3"/><circle cx="2029.6" cy="440.5" r="2.3"/></g>
<g fill="#265d9c" fill-opacity="0.85"><circle cx="2026" cy="155.9" r="2.3"/><circle cx="2026" cy="221.9" r="2.3"/></g>
<g fill="#5eb867" fill-opacity="0.85"><circle cx="2028.4" cy="205" r="2.3"/><circle cx="2028.4" cy="212.8" r="2.3"/><circle cx="2028.4" cy="219.3" r="2.3"/><circle cx="2028.4" cy="242.8" r="2.3"/></g>
<g fill="#265d9c" fill-opacity="0.85"><circle cx="1372.3" cy="228.8" r="2.3"/><circle cx="1372.3" cy="249.3" r="2.3"/></g>
<g fill="#5eb867" fill-opacity="0.85"><circle cx="1374.7" cy="144.1" r="2.3"/><circle cx="1374.7" cy="210.2" r="2.3"/><circle cx="1374.7" cy="215.4" r="2.3"/><circle cx="1374.7" cy="235.5" r="2.3"/></g>
<line x1="1166.7" y1="402.1" x2="2109" y2="402.1" stroke="#000" stroke-width="3.8" stroke-dasharray="18.5 18.5"/>
<rect x="1245.8" y="398.1" width="25.6" height="7" fill="#fff" stroke="none" stroke-width="0" />
<text x="1264" y="385.6" font-size="18.4" text-anchor="middle" fill="#000" >100</text>
<rect x="1376.4" y="405.9" width="25.6" height="7" fill="#fff" stroke="none" stroke-width="0" />
<text x="1391" y="394" font-size="18.4" text-anchor="middle" fill="#000" >94</text>
<rect x="1507" y="395.5" width="25.6" height="7" fill="#fff" stroke="none" stroke-width="0" />
<text x="1525" y="381.5" font-size="18.4" text-anchor="middle" fill="#000" >102</text>
<rect x="1637.7" y="366.2" width="25.6" height="7" fill="#fff" stroke="none" stroke-width="0" />
<text x="1661" y="348.9" font-size="18.4" text-anchor="middle" fill="#000" >124.5</text>
<rect x="1768" y="386.4" width="25.6" height="7" fill="#fff" stroke="none" stroke-width="0" />
<text x="1787" y="371.5" font-size="18.4" text-anchor="middle" fill="#000" >109</text>
<rect x="1900" y="402" width="25.6" height="7" fill="#fff" stroke="none" stroke-width="0" />
<text x="1914.7" y="390" font-size="18.4" text-anchor="middle" fill="#000" >97</text>
<rect x="2030.4" y="408.5" width="25.6" height="7" fill="#fff" stroke="none" stroke-width="0" />
<text x="2045" y="396.6" font-size="18.4" text-anchor="middle" fill="#000" >92</text>
<line x1="1167.1" y1="121.3" x2="1167.1" y2="552" stroke="#000" stroke-width="2.2" />
<line x1="1166.1" y1="551" x2="2109" y2="551" stroke="#000" stroke-width="2.2" />
<line x1="1157" y1="531.8" x2="1167.1" y2="531.8" stroke="#000" stroke-width="1.5" />
<text x="1145" y="539.1" font-size="20" text-anchor="end" fill="#000" >0</text>
<line x1="1157" y1="401.6" x2="1167.1" y2="401.6" stroke="#000" stroke-width="1.5" />
<text x="1145" y="408.9" font-size="20" text-anchor="end" fill="#000" >100</text>
<line x1="1157" y1="271.4" x2="1167.1" y2="271.4" stroke="#000" stroke-width="1.5" />
<text x="1145" y="278.7" font-size="20" text-anchor="end" fill="#000" >200</text>
<line x1="1157" y1="141.2" x2="1167.1" y2="141.2" stroke="#000" stroke-width="1.5" />
<text x="1145" y="148.5" font-size="20" text-anchor="end" fill="#000" >300</text>
<text x="0" y="0" font-size="20.5" text-anchor="middle" fill="#000" transform="translate(1083.5,335) rotate(-90)">Poly(A) length</text>
<text x="1243" y="111.8" font-size="20" text-anchor="middle" fill="#000" >0 h</text>
<text x="1374" y="111.8" font-size="20" text-anchor="middle" fill="#000" >4 h</text>
<text x="1505" y="111.8" font-size="20" text-anchor="middle" fill="#000" >12 h</text>
<text x="1635" y="111.8" font-size="20" text-anchor="middle" fill="#000" >24 h</text>
<text x="1767" y="111.8" font-size="20" text-anchor="middle" fill="#000" >48 h</text>
<text x="1898" y="111.8" font-size="20" text-anchor="middle" fill="#000" >72 h</text>
<text x="2028" y="111.8" font-size="20" text-anchor="middle" fill="#000" >96 h</text>
<text x="1371" y="142" font-size="20.5" text-anchor="middle"><tspan font-style="italic">P</tspan> =</text>
<text x="1371" y="167.4" font-size="20.5" text-anchor="middle">1.45 &#215; 10<tspan dy="-8" font-size="14.3">&#8722;16</tspan></text>
<text x="1502.6" y="142" font-size="20.5" text-anchor="middle"><tspan font-style="italic">P</tspan> =</text>
<text x="1502.6" y="167.4" font-size="20.5" text-anchor="middle">7.15 &#215; 10<tspan dy="-8" font-size="14.3">&#8722;9</tspan></text>
<text x="1638.5" y="142" font-size="20.5" text-anchor="middle"><tspan font-style="italic">P</tspan> &lt;</text>
<text x="1639" y="167.4" font-size="20.5" text-anchor="middle">1 &#215; 10<tspan dy="-8" font-size="13.6">&#8722;314</tspan></text>
<text x="1765.5" y="142" font-size="20.5" text-anchor="middle"><tspan font-style="italic">P</tspan> =</text>
<text x="1765.5" y="167.4" font-size="20.5" text-anchor="middle">3.87 &#215; 10<tspan dy="-8" font-size="14.3">&#8722;66</tspan></text>
<text x="1905.7" y="146" font-size="20.5" text-anchor="middle"><tspan font-style="italic">P</tspan> = 0.008</text>
<text x="2031.9" y="142" font-size="20.5" text-anchor="middle"><tspan font-style="italic">P</tspan> =</text>
<text x="2031.9" y="167.4" font-size="20.5" text-anchor="middle">7.87 &#215; 10<tspan dy="-8" font-size="14.3">&#8722;12</tspan></text>
<rect x="1249" y="260.1" width="84.1" height="20.3" fill="#fff" stroke="#2f51a0" stroke-width="1.3" rx="4"/>
<text x="1293" y="276.4" font-size="17.2" text-anchor="middle" fill="#2f51a0"  textLength="63.6" lengthAdjust="spacingAndGlyphs">23.85%</text>
<rect x="1379.7" y="260.1" width="84" height="20.3" fill="#fff" stroke="#2f51a0" stroke-width="1.3" rx="4"/>
<text x="1423.7" y="276.4" font-size="17.2" text-anchor="middle" fill="#2f51a0"  textLength="63.6" lengthAdjust="spacingAndGlyphs">18.01%</text>
<rect x="1510.2" y="260.1" width="84.2" height="20.3" fill="#fff" stroke="#2f51a0" stroke-width="1.3" rx="4"/>
<text x="1554.2" y="276.4" font-size="17.2" text-anchor="middle" fill="#2f51a0"  textLength="63.6" lengthAdjust="spacingAndGlyphs">31.51%</text>
<rect x="1640.9" y="260.1" width="84.1" height="20.3" fill="#fff" stroke="#2f51a0" stroke-width="1.3" rx="4"/>
<text x="1684.9" y="276.4" font-size="17.2" text-anchor="middle" fill="#2f51a0"  textLength="63.6" lengthAdjust="spacingAndGlyphs">57.43%</text>
<rect x="1772.5" y="260.1" width="83.1" height="20.3" fill="#fff" stroke="#2f51a0" stroke-width="1.3" rx="4"/>
<text x="1816" y="276.4" font-size="17.2" text-anchor="middle" fill="#2f51a0"  textLength="63.6" lengthAdjust="spacingAndGlyphs">43.66%</text>
<rect x="1902.6" y="260.1" width="83.5" height="20.3" fill="#fff" stroke="#2f51a0" stroke-width="1.3" rx="4"/>
<text x="1946.3" y="276.4" font-size="17.2" text-anchor="middle" fill="#2f51a0"  textLength="63.6" lengthAdjust="spacingAndGlyphs">30.70%</text>
<rect x="2026.7" y="260.1" width="73.5" height="20.3" fill="#fff" stroke="#2f51a0" stroke-width="1.3" rx="4"/>
<text x="2065.4" y="276.4" font-size="17.2" text-anchor="middle" fill="#2f51a0"  textLength="63.6" lengthAdjust="spacingAndGlyphs">21.58%</text>
<rect x="1247.5" y="483.6" width="94.7" height="20.3" fill="#fff" stroke="#e0262a" stroke-width="1.3" rx="4"/>
<text x="1296.8" y="499.9" font-size="17.2" text-anchor="middle" fill="#e0262a"  textLength="63.6" lengthAdjust="spacingAndGlyphs">22.57%</text>
<rect x="1378.1" y="483.6" width="95.7" height="20.3" fill="#fff" stroke="#e0262a" stroke-width="1.3" rx="4"/>
<text x="1427.9" y="499.9" font-size="17.2" text-anchor="middle" fill="#e0262a"  textLength="63.6" lengthAdjust="spacingAndGlyphs">33.53%</text>
<rect x="1509.2" y="483.6" width="95.2" height="20.3" fill="#fff" stroke="#e0262a" stroke-width="1.3" rx="4"/>
<text x="1558.8" y="499.9" font-size="17.2" text-anchor="middle" fill="#e0262a"  textLength="63.6" lengthAdjust="spacingAndGlyphs">22.62%</text>
<rect x="1639.4" y="483.6" width="95.6" height="20.3" fill="#fff" stroke="#e0262a" stroke-width="1.3" rx="4"/>
<text x="1689.2" y="499.9" font-size="17.2" text-anchor="middle" fill="#e0262a"  textLength="63.6" lengthAdjust="spacingAndGlyphs">15.55%</text>
<rect x="1770.5" y="483.6" width="95.1" height="20.3" fill="#fff" stroke="#e0262a" stroke-width="1.3" rx="4"/>
<text x="1820" y="499.9" font-size="17.2" text-anchor="middle" fill="#e0262a"  textLength="63.6" lengthAdjust="spacingAndGlyphs">23.91%</text>
<rect x="1901.1" y="483.6" width="96.1" height="20.3" fill="#fff" stroke="#e0262a" stroke-width="1.3" rx="4"/>
<text x="1951.1" y="499.9" font-size="17.2" text-anchor="middle" fill="#e0262a"  textLength="63.6" lengthAdjust="spacingAndGlyphs">33.26%</text>
<rect x="2028.7" y="483.6" width="76.5" height="20.3" fill="#fff" stroke="#e0262a" stroke-width="1.3" rx="4"/>
<text x="2068.9" y="499.9" font-size="17.2" text-anchor="middle" fill="#e0262a"  textLength="63.6" lengthAdjust="spacingAndGlyphs">37.37%</text>
<text font-size="20.8" text-anchor="middle" transform="translate(2134,352) rotate(-90)">Re-adenylation</text>
<text font-size="20.8" text-anchor="middle" transform="translate(2134,499.6) rotate(-90)">Deadenylation</text>
<line x1="2147" y1="297" x2="2147" y2="423" stroke="#2d4d9c" stroke-width="2.8" />
<path d="M2147,287 L2140.8,301.2 L2147,298.3 L2153.2,301.2 Z" fill="#2d4d9c"/>
<line x1="2147" y1="430" x2="2147" y2="556" stroke="#e0262a" stroke-width="2.8" />
<path d="M2147,566 L2140.8,551.8 L2147,554.7 L2153.2,551.8 Z" fill="#e0262a"/>
<circle cx="1718.5" cy="65.7" r="8.6" fill="#265d9c"/>
<text x="1741" y="72.4" font-size="20.2" text-anchor="start" fill="#000"  textLength="200.5" lengthAdjust="spacingAndGlyphs">Poly(A) + m&#936;Cm&#936;AG</text>
<circle cx="1987.6" cy="65.7" r="8.6" fill="#5eb867"/>
<text x="2009.6" y="72.4" font-size="19.6" text-anchor="start" fill="#000"  textLength="64" lengthAdjust="spacingAndGlyphs">Poly(A)</text>
<text x="1069" y="25" font-size="33" font-weight="bold">b</text>
<line x1="1173.3" y1="560.5" x2="1173.3" y2="600.4" stroke="#c4c4c4" stroke-width="2.2" />
<line x1="1259.7" y1="560.5" x2="1259.7" y2="600.4" stroke="#c4c4c4" stroke-width="2.2" />
<line x1="1392.6" y1="560.5" x2="1392.6" y2="600.4" stroke="#c4c4c4" stroke-width="2.2" />
<line x1="1528" y1="560.5" x2="1528" y2="600.4" stroke="#c4c4c4" stroke-width="2.2" />
<line x1="1663.7" y1="560.5" x2="1663.7" y2="600.4" stroke="#c4c4c4" stroke-width="2.2" />
<line x1="1799.2" y1="560.5" x2="1799.2" y2="600.4" stroke="#c4c4c4" stroke-width="2.2" />
<line x1="1935" y1="560.5" x2="1935" y2="600.4" stroke="#c4c4c4" stroke-width="2.2" />
<line x1="2070" y1="560.5" x2="2070" y2="600.4" stroke="#c4c4c4" stroke-width="2.2" />
<text x="1176.6" y="574.5" font-size="16.8" fill="#000" text-anchor="start"><tspan font-style="italic">n</tspan> = 48,409</text>
<text x="1176.6" y="594.2" font-size="16.8" fill="#000" text-anchor="start"><tspan font-style="italic">n</tspan> = 9,857</text>
<rect x="1308.4" y="560.8" width="28.8" height="15.8" fill="#265d9c" stroke="#000" stroke-width="1.3" />
<rect x="1308.4" y="579.8" width="17.7" height="16.5" fill="#5eb867" stroke="#000" stroke-width="1.3" />
<line x1="1308.4" y1="560" x2="1308.4" y2="600.4" stroke="#000" stroke-width="1.8" />
<text x="1339" y="574.5" font-size="16.8" fill="#000" text-anchor="start"><tspan font-style="italic">n</tspan> = 2,021</text>
<text x="1333.9" y="594.2" font-size="16.8" fill="#000" text-anchor="start"><tspan font-style="italic">n</tspan> = 1,205</text>
<rect x="1443.5" y="560.8" width="32.1" height="15.8" fill="#265d9c" stroke="#000" stroke-width="1.3" />
<rect x="1443.5" y="579.8" width="63.1" height="16.5" fill="#5eb867" stroke="#000" stroke-width="1.3" />
<line x1="1443.5" y1="560" x2="1443.5" y2="600.4" stroke="#000" stroke-width="1.8" />
<text x="1476.7" y="574.5" font-size="16.8" fill="#000" text-anchor="start"><tspan font-style="italic">n</tspan> = 1,710</text>
<text x="1491.1" y="594.2" font-size="16.8" fill="#000" text-anchor="start"><tspan font-style="italic">n</tspan> = 3,399</text>
<rect x="1579.6" y="560.8" width="24" height="15.8" fill="#265d9c" stroke="#000" stroke-width="1.3" />
<rect x="1579.6" y="579.8" width="71.7" height="16.5" fill="#5eb867" stroke="#000" stroke-width="1.3" />
<line x1="1579.6" y1="560" x2="1579.6" y2="600.4" stroke="#000" stroke-width="1.8" />
<text x="1607.7" y="574.5" font-size="16.8" fill="#000" text-anchor="start"><tspan font-style="italic">n</tspan> = 1,597</text>
<text x="1632.8" y="594.2" font-size="16.8" fill="#000" text-anchor="start"><tspan font-style="italic">n</tspan> = 4,978</text>
<rect x="1714.6" y="560.8" width="28.1" height="15.8" fill="#265d9c" stroke="#000" stroke-width="1.3" />
<rect x="1714.6" y="579.8" width="73.9" height="16.5" fill="#5eb867" stroke="#000" stroke-width="1.3" />
<line x1="1714.6" y1="560" x2="1714.6" y2="600.4" stroke="#000" stroke-width="1.8" />
<text x="1743" y="574.5" font-size="16.8" fill="#000" text-anchor="start"><tspan font-style="italic">n</tspan> = 1,707</text>
<text x="1771" y="594.2" font-size="16.8" fill="#000" text-anchor="start"><tspan font-style="italic">n</tspan> = 4,659</text>
<rect x="1850.4" y="560.8" width="29" height="15.8" fill="#265d9c" stroke="#000" stroke-width="1.3" />
<rect x="1850.4" y="579.8" width="57.9" height="16.5" fill="#5eb867" stroke="#000" stroke-width="1.3" />
<line x1="1850.4" y1="560" x2="1850.4" y2="600.4" stroke="#000" stroke-width="1.8" />
<text x="1880.7" y="574.5" font-size="16.8" fill="#000" text-anchor="start"><tspan font-style="italic">n</tspan> = 1,771</text>
<text x="1912.1" y="594.2" font-size="16.8" fill="#000" text-anchor="start"><tspan font-style="italic">n</tspan> = 3,593</text>
<rect x="1986" y="560.8" width="14.3" height="15.8" fill="#265d9c" stroke="#000" stroke-width="1.3" />
<rect x="1986" y="579.8" width="36.6" height="16.5" fill="#5eb867" stroke="#000" stroke-width="1.3" />
<line x1="1986" y1="560" x2="1986" y2="600.4" stroke="#000" stroke-width="1.8" />
<text x="2020.4" y="574.5" font-size="16.8" fill="#000" text-anchor="start"><tspan font-style="italic">n</tspan> = 280</text>
<text x="2027.3" y="594.2" font-size="16.8" fill="#000" text-anchor="start"><tspan font-style="italic">n</tspan> = 760</text>
<text x="1308.4" y="624.5" font-size="19" text-anchor="middle" fill="#000"  textLength="30.6" lengthAdjust="spacingAndGlyphs">0%</text>
<text x="1443.5" y="624.5" font-size="19" text-anchor="middle" fill="#000"  textLength="30.6" lengthAdjust="spacingAndGlyphs">0%</text>
<text x="1579.6" y="624.5" font-size="19" text-anchor="middle" fill="#000"  textLength="30.6" lengthAdjust="spacingAndGlyphs">0%</text>
<text x="1714.6" y="624.5" font-size="19" text-anchor="middle" fill="#000"  textLength="30.6" lengthAdjust="spacingAndGlyphs">0%</text>
<text x="1850.4" y="624.5" font-size="19" text-anchor="middle" fill="#000"  textLength="30.6" lengthAdjust="spacingAndGlyphs">0%</text>
<text x="1986" y="624.5" font-size="19" text-anchor="middle" fill="#000"  textLength="30.6" lengthAdjust="spacingAndGlyphs">0%</text>
<text x="1392.6" y="624.5" font-size="19" text-anchor="middle" fill="#000"  textLength="48.3" lengthAdjust="spacingAndGlyphs">0.5%</text>
<text x="1528" y="624.5" font-size="19" text-anchor="middle" fill="#000"  textLength="48.3" lengthAdjust="spacingAndGlyphs">0.5%</text>
<text x="1663.7" y="624.5" font-size="19" text-anchor="middle" fill="#000"  textLength="48.3" lengthAdjust="spacingAndGlyphs">0.5%</text>
<text x="1799.2" y="624.5" font-size="19" text-anchor="middle" fill="#000"  textLength="48.3" lengthAdjust="spacingAndGlyphs">0.5%</text>
<text x="1935" y="624.5" font-size="19" text-anchor="middle" fill="#000"  textLength="48.3" lengthAdjust="spacingAndGlyphs">0.5%</text>
<text x="2070" y="624.5" font-size="19" text-anchor="middle" fill="#000"  textLength="48.3" lengthAdjust="spacingAndGlyphs">0.5%</text>
<text x="1635.8" y="661" font-size="20.8" text-anchor="middle" fill="#000"  textLength="536.2" lengthAdjust="spacingAndGlyphs">Abundance of mRNA-1273 reads (relative to endogenous)</text>
<rect x="161.2" y="746.2" width="780.8" height="255.9" fill="#e9ecf5" stroke="none" stroke-width="0" />
<rect x="161.2" y="1039.3" width="780.8" height="127.5" fill="#fce8e8" stroke="none" stroke-width="0" />
<path d="M235.9,1147.9 L226.2,1147.9 L229.5,1145.5 L231.2,1143.1 L231.2,1140.7 L231.2,1138.3 L231.2,1135.9 L231.2,1133.5 L231.2,1131.1 L231.2,1128.7 L231.2,1126.3 L231.2,1123.9 L231.2,1121.5 L231.2,1119.1 L231.2,1116.7 L231.2,1114.3 L231.2,1111.9 L231.2,1109.5 L231.2,1107.1 L231.2,1104.7 L231.2,1102.3 L231.2,1099.9 L231.2,1097.4 L231.2,1095 L231.2,1092.6 L231.2,1090.2 L231.2,1087.8 L231.2,1085.4 L231.2,1083 L231.2,1080.6 L231.2,1078.2 L231.2,1075.8 L231.2,1073.4 L231.2,1071 L231.2,1068.6 L231.2,1066.2 L230.9,1063.8 L229.8,1061.4 L228.3,1059 L226.6,1056.6 L224.8,1054.2 L223.1,1051.8 L220.6,1049.4 L217.4,1047 L213.4,1044.6 L209.4,1042.2 L205.1,1039.8 L200.6,1037.4 L195.8,1035 L191,1032.6 L187.1,1030.2 L184.6,1027.8 L183.5,1025.4 L182.9,1023 L183,1020.6 L183.7,1018.2 L184.8,1015.8 L186.2,1013.4 L187.9,1011 L189.9,1008.6 L192,1006.2 L194.2,1003.8 L196.5,1001.4 L198.9,998.9 L201.4,996.5 L203.9,994.1 L206.4,991.7 L208.8,989.3 L211.2,986.9 L213.5,984.5 L215.9,982.1 L218.2,979.7 L220.2,977.3 L221.7,974.9 L222.8,972.5 L223.7,970.1 L224.7,967.7 L225.6,965.3 L226.5,962.9 L227.4,960.5 L228,958.1 L228.5,955.7 L229,953.3 L229.5,950.9 L230,948.5 L230.5,946.1 L230.8,943.7 L231,941.3 L231.2,938.9 L231.2,936.5 L231.2,934.1 L231.2,931.7 L231.2,929.3 L231.2,926.9 L231.2,924.5 L231.2,922.1 L231.2,919.7 L231.2,917.3 L231.2,914.9 L231.2,912.5 L231.2,910.1 L231.2,907.7 L231.2,905.3 L231.2,902.8 L231.2,900.4 L231.2,898 L231.2,895.6 L231.2,893.2 L231.2,890.8 L231.2,888.4 L231.2,886 L231.2,883.6 L231.2,881.2 L231.2,878.8 L231.2,876.4 L231.2,874 L231.2,871.6 L231.2,869.2 L231.2,866.8 L231.2,864.4 L231.2,862 L231.2,859.6 L231.2,857.2 L231.2,854.8 L231.2,852.4 L231.2,850 L231.2,847.6 L231.2,845.2 L231.2,842.8 L231.2,840.4 L231.2,838 L231.2,835.6 L231.2,833.2 L231.2,830.8 L231.2,828.4 L231.2,826 L231.2,823.6 L231.2,821.2 L231.2,818.8 L231.2,816.4 L231.2,814 L231.2,811.6 L231.2,809.2 L231.2,806.8 L231.2,804.3 L231.2,801.9 L231.2,799.5 L231.2,797.1 L231.2,794.7 L231.2,792.3 L231.2,789.9 L231.2,787.5 L231.2,785.1 L231.2,782.7 L231.2,780.3 L231.2,777.9 L231.2,775.5 L231.2,773.1 L231.2,770.7 L231.2,768.3 L231.2,765.9 L235.9,765.9 Z" fill="#265d9c" />
<path d="M234.5,1147.9 L250.2,1147.9 L243.7,1145.5 L239.8,1143.1 L239.2,1140.7 L239.2,1138.3 L239.2,1135.9 L239.2,1133.5 L239.2,1131.1 L239.2,1128.7 L239.2,1126.3 L239.3,1123.9 L239.5,1121.5 L239.6,1119.1 L239.7,1116.7 L239.9,1114.3 L240,1111.9 L240.2,1109.5 L240.4,1107.1 L240.7,1104.7 L241,1102.3 L241.3,1099.9 L241.5,1097.4 L241.8,1095 L242.1,1092.6 L242.4,1090.2 L242.7,1087.8 L243,1085.4 L243.3,1083 L243.6,1080.6 L243.9,1078.2 L244.2,1075.8 L244.6,1073.4 L245,1071 L245.4,1068.6 L245.8,1066.2 L246.2,1063.8 L246.6,1061.4 L247,1059 L247.8,1056.6 L249.3,1054.2 L251.5,1051.8 L253.9,1049.4 L256.3,1047 L258.8,1044.6 L261.7,1042.2 L264.9,1039.8 L268.6,1037.4 L272.2,1035 L275.8,1032.6 L279.2,1030.2 L282.1,1027.8 L284.6,1025.4 L286.6,1023 L287.2,1020.6 L286.4,1018.2 L284.5,1015.8 L282.5,1013.4 L280.5,1011 L278.5,1008.6 L276.5,1006.2 L274.4,1003.8 L272.2,1001.4 L269.8,998.9 L267.3,996.5 L264.9,994.1 L262.5,991.7 L260.3,989.3 L258.3,986.9 L256.4,984.5 L254.5,982.1 L252.6,979.7 L251.1,977.3 L249.9,974.9 L249.3,972.5 L248.7,970.1 L248.2,967.7 L247.7,965.3 L247.1,962.9 L246.6,960.5 L246,958.1 L245.4,955.7 L244.8,953.3 L244.1,950.9 L243.4,948.5 L242.7,946.1 L242.1,943.7 L241.4,941.3 L240.7,938.9 L240.2,936.5 L239.9,934.1 L239.6,931.7 L239.4,929.3 L239.2,926.9 L239.2,924.5 L239.2,922.1 L239.2,919.7 L239.2,917.3 L239.2,914.9 L239.2,912.5 L239.2,910.1 L239.2,907.7 L239.2,905.3 L239.2,902.8 L239.2,900.4 L239.2,898 L239.2,895.6 L239.2,893.2 L239.2,890.8 L239.2,888.4 L239.2,886 L239.2,883.6 L239.2,881.2 L239.2,878.8 L239.2,876.4 L239.2,874 L239.2,871.6 L239.2,869.2 L239.2,866.8 L239.2,864.4 L239.2,862 L239.2,859.6 L239.2,857.2 L239.2,854.8 L239.2,852.4 L239.2,850 L239.2,847.6 L239.2,845.2 L239.2,842.8 L239.2,840.4 L239.2,838 L239.2,835.6 L239.2,833.2 L239.2,830.8 L239.2,828.4 L239.2,826 L239.2,823.6 L239.2,821.2 L239.2,818.8 L239.2,816.4 L239.2,814 L239.2,811.6 L239.2,809.2 L239.2,806.8 L239.2,804.3 L239.2,801.9 L239.2,799.5 L239.2,797.1 L239.2,794.7 L239.2,792.3 L239.2,789.9 L239.2,787.5 L239.2,785.1 L239.2,782.7 L239.2,780.3 L239.2,777.9 L239.2,775.5 L239.2,773.1 L239.2,770.7 L239.2,768.3 L239.2,765.9 L234.5,765.9 Z" fill="#5eb867" />
<path d="M361.2,1147.9 L356.1,1147.9 L356.4,1145.9 L356.5,1144 L356.5,1142 L356.5,1140.1 L356.5,1138.1 L356.5,1136.1 L356.5,1134.2 L356.5,1132.2 L356.5,1130.2 L356.5,1128.3 L356.5,1126.3 L356.5,1124.4 L356.5,1122.4 L356.5,1120.4 L356.5,1118.5 L356.5,1116.5 L356.5,1114.5 L356.5,1112.6 L356.5,1110.6 L356.5,1108.7 L356.5,1106.7 L356.5,1104.7 L356.5,1102.8 L356.5,1100.8 L356.5,1098.8 L356.5,1096.9 L356.5,1094.9 L356.5,1093 L356.5,1091 L356.5,1089 L356.5,1087.1 L356.5,1085.1 L356.5,1083.2 L356.5,1081.2 L356.5,1079.2 L356.5,1077.3 L356.5,1075.3 L356.5,1073.3 L356.4,1071.4 L356.4,1069.4 L356.3,1067.5 L356.2,1065.5 L356,1063.5 L355.5,1061.6 L354.7,1059.6 L353.8,1057.6 L352.8,1055.7 L351.1,1053.7 L348.6,1051.8 L345.4,1049.8 L342.1,1047.8 L338.7,1045.9 L335.5,1043.9 L332.2,1042 L329,1040 L325.9,1038 L322.8,1036.1 L319.6,1034.1 L317,1032.1 L315,1030.2 L313.8,1028.2 L312.8,1026.3 L311.9,1024.3 L311.8,1022.3 L312.5,1020.4 L313.7,1018.4 L314.8,1016.4 L316,1014.5 L317.4,1012.5 L319.2,1010.6 L321.4,1008.6 L323.8,1006.6 L326.2,1004.7 L328.5,1002.7 L330.8,1000.7 L332.9,998.8 L334.9,996.8 L336.9,994.9 L338.9,992.9 L340.7,990.9 L342.4,989 L343.9,987 L345.2,985.1 L346.6,983.1 L347.9,981.1 L349.1,979.2 L350.1,977.2 L350.9,975.2 L351.7,973.3 L352.5,971.3 L353.3,969.4 L353.8,967.4 L354.1,965.4 L354.3,963.5 L354.5,961.5 L354.7,959.5 L354.9,957.6 L355.1,955.6 L355.3,953.7 L355.5,951.7 L355.7,949.7 L355.9,947.8 L356.1,945.8 L356.2,943.9 L356.3,941.9 L356.4,939.9 L356.5,938 L356.5,936 L356.5,934 L356.5,932.1 L356.5,930.1 L356.5,928.2 L356.5,926.2 L356.5,924.2 L356.5,922.3 L356.5,920.3 L356.5,918.3 L356.5,916.4 L356.5,914.4 L356.5,912.5 L356.5,910.5 L356.5,908.5 L356.5,906.6 L356.5,904.6 L356.5,902.6 L356.5,900.7 L356.5,898.7 L356.5,896.8 L356.5,894.8 L356.5,892.8 L356.5,890.9 L356.5,888.9 L356.5,887 L356.5,885 L356.5,883 L356.5,881.1 L356.5,879.1 L356.5,877.1 L356.5,875.2 L356.5,873.2 L356.5,871.3 L356.5,869.3 L356.5,867.3 L356.5,865.4 L356.5,863.4 L356.5,861.4 L356.5,859.5 L356.5,857.5 L356.5,855.6 L356.5,853.6 L356.5,851.6 L356.5,849.7 L356.5,847.7 L356.5,845.8 L356.5,843.8 L356.5,841.8 L356.5,839.9 L356.5,837.9 L356.5,835.9 L361.2,835.9 Z" fill="#265d9c" />
<path d="M359.8,1147.9 L364.5,1147.9 L364.5,1145.9 L364.5,1144 L364.5,1142 L364.5,1140.1 L364.5,1138.1 L364.5,1136.1 L364.5,1134.2 L364.5,1132.2 L364.5,1130.2 L364.5,1128.3 L364.5,1126.3 L364.5,1124.4 L364.5,1122.4 L364.5,1120.4 L364.5,1118.5 L364.5,1116.5 L364.5,1114.5 L364.5,1112.6 L364.5,1110.6 L364.5,1108.7 L364.5,1106.7 L364.5,1104.7 L364.5,1102.8 L364.5,1100.8 L364.5,1098.8 L364.5,1096.9 L364.5,1094.9 L365,1093 L365.9,1091 L366.9,1089 L367.9,1087.1 L368.9,1085.1 L369.9,1083.2 L370.8,1081.2 L371.8,1079.2 L372.6,1077.3 L373.3,1075.3 L373.9,1073.3 L374.5,1071.4 L375.1,1069.4 L376,1067.5 L377.5,1065.5 L379.5,1063.5 L381.7,1061.6 L383.8,1059.6 L386,1057.6 L388.1,1055.7 L390.1,1053.7 L392,1051.8 L394,1049.8 L395.9,1047.8 L398,1045.9 L400.2,1043.9 L402.6,1042 L405.2,1040 L407.7,1038 L410.3,1036.1 L411.9,1034.1 L412.6,1032.1 L412.1,1030.2 L411.6,1028.2 L411,1026.3 L410.3,1024.3 L409.4,1022.3 L408.3,1020.4 L406.9,1018.4 L405.5,1016.4 L404.2,1014.5 L402.8,1012.5 L401.6,1010.6 L400.3,1008.6 L399.1,1006.6 L397.8,1004.7 L396.4,1002.7 L394.9,1000.7 L393.2,998.8 L391.6,996.8 L389.9,994.9 L388.2,992.9 L386.6,990.9 L385.1,989 L383.7,987 L382.4,985.1 L381,983.1 L379.7,981.1 L378.6,979.2 L377.7,977.2 L377,975.2 L376.4,973.3 L375.8,971.3 L375.2,969.4 L374.6,967.4 L373.8,965.4 L373,963.5 L372.3,961.5 L371.5,959.5 L370.7,957.6 L369.9,955.6 L369.1,953.7 L368.3,951.7 L367.6,949.7 L366.8,947.8 L366.2,945.8 L365.8,943.9 L365.7,941.9 L365.5,939.9 L365.4,938 L365.2,936 L365,934 L364.9,932.1 L364.7,930.1 L364.6,928.2 L364.5,926.2 L364.5,924.2 L364.5,922.3 L364.5,920.3 L364.5,918.3 L364.5,916.4 L364.5,914.4 L364.5,912.5 L364.5,910.5 L364.5,908.5 L364.5,906.6 L364.5,904.6 L364.5,902.6 L364.5,900.7 L364.5,898.7 L364.5,896.8 L364.5,894.8 L364.5,892.8 L364.5,890.9 L364.5,888.9 L364.5,887 L364.5,885 L364.5,883 L364.5,881.1 L364.5,879.1 L364.5,877.1 L364.5,875.2 L364.5,873.2 L364.5,871.3 L364.5,869.3 L364.5,867.3 L364.5,865.4 L364.5,863.4 L364.5,861.4 L364.5,859.5 L364.5,857.5 L364.5,855.6 L364.5,853.6 L364.5,851.6 L364.5,849.7 L364.5,847.7 L364.5,845.8 L364.5,843.8 L364.5,841.8 L364.5,839.9 L364.5,837.9 L364.5,835.9 L359.8,835.9 Z" fill="#5eb867" />
<g fill="#265d9c" fill-opacity="0.85"><circle cx="359.3" cy="1141.5" r="2.3"/><circle cx="359.3" cy="1137.7" r="2.3"/><circle cx="359.3" cy="1132.6" r="2.3"/><circle cx="359.3" cy="772.3" r="2.3"/><circle cx="359.3" cy="791.4" r="2.3"/><circle cx="359.3" cy="814.3" r="2.3"/><circle cx="359.3" cy="827" r="2.3"/></g>
<g fill="#5eb867" fill-opacity="0.85"><circle cx="361.7" cy="785.5" r="2.3"/><circle cx="361.7" cy="804.1" r="2.3"/><circle cx="361.7" cy="820.7" r="2.3"/></g>
<path d="M486.6,1147.9 L481.5,1147.9 L481.9,1146.6 L481.9,1145.3 L481.9,1144.1 L481.9,1142.8 L481.9,1141.5 L481.9,1140.2 L481.9,1138.9 L481.9,1137.6 L481.9,1136.4 L481.9,1135.1 L481.9,1133.8 L481.9,1132.5 L481.9,1131.2 L481.9,1130 L481.9,1128.7 L481.9,1127.4 L481.9,1126.1 L481.9,1124.8 L481.9,1123.6 L481.9,1122.3 L481.9,1121 L481.9,1119.7 L481.9,1118.4 L481.9,1117.1 L481.9,1115.9 L481.9,1114.6 L481.9,1113.3 L481.9,1112 L481.9,1110.7 L481.9,1109.5 L481.9,1108.2 L481.9,1106.9 L481.9,1105.6 L481.9,1104.3 L481.9,1103.1 L481.9,1101.8 L481.9,1100.5 L481.9,1099.2 L481.9,1097.9 L481.9,1096.6 L481.9,1095.4 L481.9,1094.1 L481.9,1092.8 L481.9,1091.5 L481.9,1090.2 L481.9,1089 L481.9,1087.7 L481.9,1086.4 L481.9,1085.1 L481.9,1083.8 L481.9,1082.6 L481.9,1081.3 L481.9,1080 L481.9,1078.7 L481.9,1077.4 L481.9,1076.1 L481.9,1074.9 L481.9,1073.6 L481.9,1072.3 L481.8,1071 L481.6,1069.7 L481.4,1068.5 L481.1,1067.2 L480.7,1065.9 L480.4,1064.6 L480.1,1063.3 L479.8,1062.1 L479.3,1060.8 L478.5,1059.5 L477.3,1058.2 L476.1,1056.9 L474.8,1055.6 L473.5,1054.4 L472.2,1053.1 L470.8,1051.8 L469.1,1050.5 L467.3,1049.2 L465.4,1048 L463.4,1046.7 L461.5,1045.4 L459.6,1044.1 L457.7,1042.8 L455.9,1041.6 L454.1,1040.3 L452.3,1039 L450.6,1037.7 L448.8,1036.4 L447,1035.1 L445.5,1033.9 L444.1,1032.6 L443,1031.3 L441.9,1030 L440.8,1028.7 L439.6,1027.5 L438.6,1026.2 L438.1,1024.9 L438.2,1023.6 L438.8,1022.3 L439.5,1021.1 L440.1,1019.8 L440.8,1018.5 L441.5,1017.2 L442.5,1015.9 L443.9,1014.6 L445.5,1013.4 L447.1,1012.1 L448.7,1010.8 L450.3,1009.5 L451.9,1008.2 L453.5,1007 L455.1,1005.7 L456.7,1004.4 L458.3,1003.1 L459.9,1001.8 L461.5,1000.5 L463,999.3 L464.2,998 L465.1,996.7 L465.9,995.4 L466.7,994.1 L467.5,992.9 L468.3,991.6 L469.1,990.3 L469.9,989 L470.7,987.7 L471.5,986.5 L472.3,985.2 L473.2,983.9 L474,982.6 L474.7,981.3 L475.3,980 L475.8,978.8 L476.3,977.5 L476.7,976.2 L477.2,974.9 L477.7,973.6 L478.1,972.4 L478.3,971.1 L478.5,969.8 L478.6,968.5 L478.7,967.2 L478.8,966 L479,964.7 L479.1,963.4 L479.3,962.1 L479.5,960.8 L479.8,959.5 L480.2,958.3 L480.6,957 L481,955.7 L481.4,954.4 L481.7,953.1 L481.9,951.9 L481.9,950.6 L481.9,949.3 L481.9,948 L481.9,946.7 L481.9,945.5 L481.9,944.2 L486.6,944.2 Z" fill="#265d9c" fill-opacity="0.95"/>
<g fill="#265d9c" fill-opacity="0.85"><circle cx="462.6" cy="1038.6" r="2.3"/><circle cx="464.4" cy="1016.7" r="2.3"/><circle cx="456" cy="1035.6" r="2.3"/><circle cx="469.4" cy="1006.5" r="2.3"/><circle cx="474" cy="1022.3" r="2.3"/><circle cx="484.3" cy="1139.2" r="2.3"/><circle cx="481.5" cy="1018.7" r="2.3"/><circle cx="477.4" cy="1007.5" r="2.3"/><circle cx="482.9" cy="1034.5" r="2.3"/><circle cx="483.3" cy="952.3" r="2.3"/><circle cx="471.5" cy="999.8" r="2.3"/><circle cx="482.4" cy="1058" r="2.3"/><circle cx="479.3" cy="1022.3" r="2.3"/><circle cx="480.4" cy="985" r="2.3"/><circle cx="459.1" cy="1039.1" r="2.3"/><circle cx="459" cy="1041.7" r="2.3"/><circle cx="459.3" cy="1024.3" r="2.3"/><circle cx="463.8" cy="1028.9" r="2.3"/><circle cx="483.3" cy="1037.1" r="2.3"/><circle cx="479.3" cy="1000.8" r="2.3"/><circle cx="477.8" cy="1008.5" r="2.3"/><circle cx="477.8" cy="977.9" r="2.3"/><circle cx="458.6" cy="1010" r="2.3"/><circle cx="453.2" cy="1018.7" r="2.3"/><circle cx="471.7" cy="1042.2" r="2.3"/><circle cx="479" cy="1004.9" r="2.3"/><circle cx="470.6" cy="992.2" r="2.3"/><circle cx="468.1" cy="1026.4" r="2.3"/><circle cx="466.9" cy="1024.3" r="2.3"/><circle cx="483.4" cy="956.9" r="2.3"/><circle cx="484.2" cy="1065.7" r="2.3"/><circle cx="448.3" cy="1012.1" r="2.3"/><circle cx="462.4" cy="1022.8" r="2.3"/><circle cx="451.8" cy="1020.3" r="2.3"/><circle cx="462.2" cy="1035.1" r="2.3"/><circle cx="457.3" cy="1020.3" r="2.3"/><circle cx="478.9" cy="1037.6" r="2.3"/><circle cx="445" cy="1028.9" r="2.3"/><circle cx="459" cy="1028.9" r="2.3"/><circle cx="480.3" cy="1030.5" r="2.3"/><circle cx="470.8" cy="1048.8" r="2.3"/><circle cx="472.5" cy="1008.5" r="2.3"/><circle cx="458.1" cy="1014.1" r="2.3"/><circle cx="467.1" cy="996.3" r="2.3"/><circle cx="440.1" cy="1026.4" r="2.3"/><circle cx="479.2" cy="981.4" r="2.3"/><circle cx="474.7" cy="998.8" r="2.3"/><circle cx="473.6" cy="1027.4" r="2.3"/><circle cx="481.2" cy="999.3" r="2.3"/><circle cx="470.3" cy="1048.3" r="2.3"/><circle cx="468.7" cy="1009" r="2.3"/><circle cx="483.1" cy="1003.9" r="2.3"/><circle cx="473.2" cy="1033" r="2.3"/><circle cx="476.8" cy="1025.9" r="2.3"/><circle cx="478.3" cy="1047.8" r="2.3"/><circle cx="466.6" cy="996.3" r="2.3"/><circle cx="468" cy="1010.5" r="2.3"/><circle cx="447.5" cy="1033.5" r="2.3"/><circle cx="452.3" cy="1021.3" r="2.3"/><circle cx="483.8" cy="1063.7" r="2.3"/><circle cx="463.6" cy="1003.9" r="2.3"/><circle cx="472.5" cy="998.8" r="2.3"/><circle cx="457.9" cy="1025.4" r="2.3"/><circle cx="477" cy="1002.4" r="2.3"/><circle cx="472.4" cy="1020.8" r="2.3"/><circle cx="484.2" cy="1009" r="2.3"/><circle cx="447.3" cy="1014.1" r="2.3"/><circle cx="483.5" cy="1071.3" r="2.3"/><circle cx="449.2" cy="1016.2" r="2.3"/><circle cx="473.5" cy="1018.7" r="2.3"/><circle cx="441.5" cy="1026.4" r="2.3"/><circle cx="482.2" cy="995.2" r="2.3"/><circle cx="482.4" cy="1044.8" r="2.3"/><circle cx="483.4" cy="1067.7" r="2.3"/><circle cx="459.4" cy="1040.7" r="2.3"/><circle cx="479.3" cy="1015.7" r="2.3"/><circle cx="470.3" cy="1020.8" r="2.3"/><circle cx="474.6" cy="1022.8" r="2.3"/><circle cx="478.7" cy="1038.6" r="2.3"/><circle cx="453.3" cy="1027.4" r="2.3"/><circle cx="482.5" cy="1020.3" r="2.3"/><circle cx="452.1" cy="1012.6" r="2.3"/><circle cx="458.7" cy="1009" r="2.3"/><circle cx="484.2" cy="1122.9" r="2.3"/><circle cx="471.6" cy="1048.8" r="2.3"/><circle cx="461.4" cy="1038.1" r="2.3"/><circle cx="457.6" cy="1033.5" r="2.3"/><circle cx="482.8" cy="1030.5" r="2.3"/><circle cx="470.8" cy="1026.9" r="2.3"/><circle cx="479.2" cy="995.7" r="2.3"/><circle cx="459.9" cy="1022.3" r="2.3"/><circle cx="483.4" cy="986" r="2.3"/><circle cx="462.8" cy="1018.2" r="2.3"/><circle cx="449.8" cy="1011.6" r="2.3"/><circle cx="455.6" cy="1030.5" r="2.3"/><circle cx="459.7" cy="1021.3" r="2.3"/><circle cx="470.7" cy="1048.8" r="2.3"/><circle cx="482.5" cy="973.3" r="2.3"/><circle cx="443" cy="1030" r="2.3"/><circle cx="482.6" cy="1043.2" r="2.3"/><circle cx="468.9" cy="1047.3" r="2.3"/><circle cx="469.6" cy="1009.5" r="2.3"/><circle cx="483.7" cy="1017.2" r="2.3"/><circle cx="466.2" cy="1016.2" r="2.3"/><circle cx="467.2" cy="1021.8" r="2.3"/><circle cx="474.4" cy="1026.4" r="2.3"/><circle cx="479.3" cy="1052.4" r="2.3"/><circle cx="457.3" cy="1033.5" r="2.3"/><circle cx="464.1" cy="1005.4" r="2.3"/><circle cx="473.7" cy="1024.3" r="2.3"/><circle cx="463.1" cy="1027.4" r="2.3"/><circle cx="444.2" cy="1016.7" r="2.3"/><circle cx="474.2" cy="1045.8" r="2.3"/><circle cx="452.3" cy="1022.8" r="2.3"/><circle cx="469.8" cy="997.3" r="2.3"/><circle cx="452.7" cy="1016.7" r="2.3"/><circle cx="449.9" cy="1015.1" r="2.3"/><circle cx="458.7" cy="1013.1" r="2.3"/><circle cx="449.1" cy="1033.5" r="2.3"/><circle cx="457.2" cy="1026.9" r="2.3"/></g>
<path d="M485.2,1147.9 L489.9,1147.9 L489.9,1146.2 L489.9,1144.5 L489.9,1142.8 L489.9,1141.1 L489.9,1139.4 L489.9,1137.7 L489.9,1136 L489.9,1134.3 L489.9,1132.6 L489.9,1130.9 L489.9,1129.2 L489.9,1127.5 L489.9,1125.8 L489.9,1124.1 L489.9,1122.4 L489.9,1120.7 L489.9,1119 L489.9,1117.3 L489.9,1115.6 L489.9,1113.9 L489.9,1112.2 L489.9,1110.5 L490.2,1108.9 L490.7,1107.2 L491.1,1105.5 L491.5,1103.8 L491.9,1102.1 L492.4,1100.4 L493.1,1098.7 L493.9,1097 L494.8,1095.3 L495.6,1093.6 L496.5,1091.9 L497.3,1090.2 L498.2,1088.5 L499.1,1086.8 L500.2,1085.1 L501.3,1083.4 L502.4,1081.7 L503.5,1080 L504.7,1078.3 L505.8,1076.6 L506.9,1074.9 L508.2,1073.2 L509.5,1071.5 L510.9,1069.8 L512.3,1068.1 L513.7,1066.4 L515.1,1064.7 L516.5,1063 L518,1061.3 L519.4,1059.6 L521,1057.9 L522.5,1056.2 L524.1,1054.5 L525.6,1052.8 L527.2,1051.1 L528.7,1049.4 L530.2,1047.7 L531.7,1046 L533,1044.3 L534.3,1042.6 L535.6,1040.9 L537,1039.2 L537.7,1037.5 L537.6,1035.8 L536.7,1034.2 L535.6,1032.5 L534.5,1030.8 L533.5,1029.1 L532.4,1027.4 L531.4,1025.7 L530.5,1024 L529.8,1022.3 L529.1,1020.6 L528.4,1018.9 L527.7,1017.2 L527,1015.5 L526.3,1013.8 L525.5,1012.1 L524.7,1010.4 L523.9,1008.7 L523,1007 L522.2,1005.3 L521.4,1003.6 L520.5,1001.9 L519.7,1000.2 L518.8,998.5 L518,996.8 L517.1,995.1 L516.3,993.4 L515.4,991.7 L514.5,990 L513.7,988.3 L512.9,986.6 L512.1,984.9 L511.5,983.2 L511,981.5 L510.4,979.8 L509.8,978.1 L509.3,976.4 L508.7,974.7 L508.1,973 L507.5,971.3 L506.8,969.6 L506.1,967.9 L505.4,966.2 L504.7,964.5 L504,962.8 L503.3,961.1 L502.6,959.5 L501.8,957.8 L501.1,956.1 L500.4,954.4 L499.7,952.7 L499,951 L498.3,949.3 L497.6,947.6 L497,945.9 L496.5,944.2 L496.2,942.5 L495.9,940.8 L495.5,939.1 L495.2,937.4 L494.8,935.7 L494.5,934 L494.2,932.3 L493.8,930.6 L493.5,928.9 L493.1,927.2 L492.8,925.5 L492.6,923.8 L492.4,922.1 L492.3,920.4 L492.2,918.7 L492.1,917 L492.1,915.3 L492,913.6 L491.9,911.9 L491.8,910.2 L491.7,908.5 L491.6,906.8 L491.5,905.1 L491.5,903.4 L491.4,901.7 L491.3,900 L491.2,898.3 L491.1,896.6 L491,894.9 L490.8,893.2 L490.7,891.5 L490.6,889.8 L490.5,888.1 L490.4,886.4 L490.3,884.8 L490.2,883.1 L490.1,881.4 L490,879.7 L489.9,878 L485.2,878 Z" fill="#5eb867" />
<g fill="#265d9c" fill-opacity="0.85"><circle cx="484.7" cy="808.6" r="2.3"/><circle cx="484.7" cy="838.5" r="2.3"/><circle cx="484.7" cy="865.2" r="2.3"/><circle cx="484.7" cy="878" r="2.3"/><circle cx="484.7" cy="893.2" r="2.3"/><circle cx="484.7" cy="912.3" r="2.3"/><circle cx="484.7" cy="928.9" r="2.3"/></g>
<g fill="#5eb867" fill-opacity="0.85"><circle cx="487.1" cy="767.2" r="2.3"/><circle cx="487.1" cy="783.7" r="2.3"/><circle cx="487.1" cy="842.3" r="2.3"/><circle cx="487.1" cy="852.5" r="2.3"/><circle cx="487.1" cy="865.2" r="2.3"/></g>
<path d="M613.2,1147.9 L605.5,1147.9 L607.6,1145.7 L608.9,1143.6 L609.5,1141.4 L609.5,1139.3 L609.5,1137.1 L609.5,1135 L609.5,1132.8 L609.5,1130.7 L609.5,1128.5 L609.5,1126.4 L609.5,1124.2 L609.5,1122 L609.5,1119.9 L609.5,1117.7 L609.5,1115.6 L609.5,1113.4 L609.5,1111.3 L609.5,1109.1 L609.5,1107 L609.5,1104.8 L609.5,1102.7 L609.5,1100.5 L609.5,1098.4 L609.5,1096.2 L609.5,1094 L609.5,1091.9 L609.5,1089.7 L609.5,1087.6 L609.5,1085.4 L609.5,1083.3 L609.5,1081.1 L609.5,1079 L609.5,1076.8 L609.5,1074.7 L609.4,1072.5 L609.2,1070.3 L608.7,1068.2 L608.2,1066 L607.7,1063.9 L607.3,1061.7 L606.8,1059.6 L606.1,1057.4 L604.9,1055.3 L603.2,1053.1 L601,1051 L598.7,1048.8 L595.7,1046.7 L592,1044.5 L587.7,1042.3 L583.3,1040.2 L578.6,1038 L573.6,1035.9 L568.3,1033.7 L565,1031.6 L563.7,1029.4 L564.3,1027.3 L565,1025.1 L565.6,1023 L566.2,1020.8 L566.6,1018.6 L566.9,1016.5 L567.2,1014.3 L568,1012.2 L569.4,1010 L571.5,1007.9 L573.6,1005.7 L575.9,1003.6 L578.4,1001.4 L581,999.3 L583.7,997.1 L586.2,995 L588.3,992.8 L590.1,990.6 L591.8,988.5 L593.7,986.3 L596.9,984.2 L600.3,982 L603,979.9 L603.9,977.7 L604.1,975.6 L604.2,973.4 L604.4,971.3 L604.7,969.1 L605.1,966.9 L605.6,964.8 L606.1,962.6 L606.7,960.5 L607.1,958.3 L607.3,956.2 L607.3,954 L607.2,951.9 L607.1,949.7 L607,947.6 L606.9,945.4 L606.8,943.3 L606.7,941.1 L606.6,938.9 L606.6,936.8 L606.7,934.6 L606.9,932.5 L607.1,930.3 L607.3,928.2 L607.4,926 L607.6,923.9 L607.8,921.7 L607.9,919.6 L608.1,917.4 L608.3,915.2 L608.4,913.1 L608.5,910.9 L608.6,908.8 L608.7,906.6 L608.7,904.5 L608.8,902.3 L608.9,900.2 L609,898 L609,895.9 L609.1,893.7 L609.2,891.6 L609.2,889.4 L609.3,887.2 L609.4,885.1 L609.4,882.9 L609.5,880.8 L609.5,878.6 L609.6,876.5 L609.6,874.3 L609.6,872.2 L609.6,870 L609.7,867.9 L609.7,865.7 L609.7,863.5 L609.8,861.4 L609.8,859.2 L609.8,857.1 L609.8,854.9 L609.9,852.8 L609.9,850.6 L609.9,848.5 L610,846.3 L610,844.2 L610,842 L610,839.8 L610.1,837.7 L610.1,835.5 L610.1,833.4 L610.2,831.2 L610.2,829.1 L610.2,826.9 L610.2,824.8 L610.3,822.6 L610.3,820.5 L610.3,818.3 L610.4,816.2 L610.4,814 L610.4,811.8 L610.4,809.7 L610.5,807.5 L610.5,805.4 L613.2,805.4 Z" fill="#265d9c" fill-opacity="0.8"/>
<g fill="#265d9c" fill-opacity="0.85"><circle cx="610.6" cy="941.9" r="2.3"/><circle cx="608.6" cy="1063.8" r="2.3"/><circle cx="606.1" cy="1033.7" r="2.3"/><circle cx="596.8" cy="1010.5" r="2.3"/><circle cx="606.7" cy="989.1" r="2.3"/><circle cx="610" cy="940.2" r="2.3"/><circle cx="571.2" cy="1013.1" r="2.3"/><circle cx="575.3" cy="1008" r="2.3"/><circle cx="609.3" cy="1007.1" r="2.3"/><circle cx="599.2" cy="990.8" r="2.3"/><circle cx="602.4" cy="1027.7" r="2.3"/><circle cx="597.2" cy="995.1" r="2.3"/><circle cx="606.8" cy="969.3" r="2.3"/><circle cx="609.1" cy="937.6" r="2.3"/><circle cx="587.4" cy="1008" r="2.3"/><circle cx="566.4" cy="1030.3" r="2.3"/><circle cx="575.2" cy="1027.7" r="2.3"/><circle cx="609" cy="947" r="2.3"/><circle cx="581.7" cy="1036.3" r="2.3"/><circle cx="603.6" cy="1009.7" r="2.3"/><circle cx="603.6" cy="1046.6" r="2.3"/><circle cx="604.9" cy="1053.5" r="2.3"/><circle cx="588.6" cy="1018.3" r="2.3"/><circle cx="581.7" cy="1022.6" r="2.3"/><circle cx="606.9" cy="983.9" r="2.3"/><circle cx="584.9" cy="1024.3" r="2.3"/><circle cx="583.7" cy="1027.7" r="2.3"/><circle cx="592.4" cy="1015.7" r="2.3"/><circle cx="590.2" cy="1008.8" r="2.3"/><circle cx="585.2" cy="1040.6" r="2.3"/><circle cx="591.6" cy="1025.1" r="2.3"/><circle cx="569.6" cy="1023.4" r="2.3"/><circle cx="609.6" cy="950.5" r="2.3"/><circle cx="606.8" cy="1023.4" r="2.3"/><circle cx="608" cy="988.2" r="2.3"/><circle cx="596" cy="1015.7" r="2.3"/><circle cx="594.8" cy="1026.9" r="2.3"/><circle cx="609.5" cy="1032.9" r="2.3"/><circle cx="576.6" cy="1016.6" r="2.3"/><circle cx="602.8" cy="1010.5" r="2.3"/><circle cx="609.1" cy="1008" r="2.3"/><circle cx="574.3" cy="1022.6" r="2.3"/><circle cx="606.8" cy="982.2" r="2.3"/><circle cx="599.2" cy="995.1" r="2.3"/><circle cx="585.8" cy="1016.6" r="2.3"/><circle cx="610.7" cy="856.9" r="2.3"/><circle cx="579.3" cy="1020" r="2.3"/><circle cx="596.5" cy="1010.5" r="2.3"/><circle cx="584.4" cy="1002" r="2.3"/><circle cx="571" cy="1012.3" r="2.3"/><circle cx="610.8" cy="1081.8" r="2.3"/><circle cx="596.8" cy="1011.4" r="2.3"/><circle cx="582" cy="1033.7" r="2.3"/><circle cx="599.2" cy="1021.7" r="2.3"/><circle cx="600.5" cy="1049.2" r="2.3"/><circle cx="605.8" cy="1025.1" r="2.3"/><circle cx="599.4" cy="1032" r="2.3"/><circle cx="607.2" cy="992.5" r="2.3"/><circle cx="606.6" cy="1029.4" r="2.3"/><circle cx="602" cy="1020" r="2.3"/><circle cx="577.7" cy="1026" r="2.3"/><circle cx="605.8" cy="979.6" r="2.3"/><circle cx="607.3" cy="1050" r="2.3"/><circle cx="610.3" cy="995.1" r="2.3"/><circle cx="589.5" cy="1032.9" r="2.3"/><circle cx="577.4" cy="1024.3" r="2.3"/><circle cx="593.9" cy="1006.3" r="2.3"/><circle cx="600.3" cy="1030.3" r="2.3"/><circle cx="608.1" cy="1029.4" r="2.3"/><circle cx="604.7" cy="1009.7" r="2.3"/><circle cx="598.9" cy="989.1" r="2.3"/><circle cx="602.4" cy="1044.9" r="2.3"/><circle cx="609.3" cy="1013.1" r="2.3"/><circle cx="609.8" cy="1019.1" r="2.3"/><circle cx="611" cy="1002.8" r="2.3"/><circle cx="569.6" cy="1011.4" r="2.3"/><circle cx="605.5" cy="995.1" r="2.3"/><circle cx="605.1" cy="1016.6" r="2.3"/><circle cx="571.8" cy="1026" r="2.3"/><circle cx="610.9" cy="998.5" r="2.3"/><circle cx="582.3" cy="1024.3" r="2.3"/><circle cx="577.4" cy="1033.7" r="2.3"/><circle cx="601.1" cy="988.2" r="2.3"/><circle cx="572.7" cy="1025.1" r="2.3"/><circle cx="602.9" cy="1017.4" r="2.3"/><circle cx="603.7" cy="1029.4" r="2.3"/><circle cx="597.8" cy="996.8" r="2.3"/><circle cx="579.4" cy="1008" r="2.3"/><circle cx="610.7" cy="917" r="2.3"/><circle cx="572.2" cy="1022.6" r="2.3"/><circle cx="597.8" cy="1003.7" r="2.3"/><circle cx="603.2" cy="1009.7" r="2.3"/><circle cx="609.1" cy="1034.6" r="2.3"/><circle cx="600.5" cy="1024.3" r="2.3"/><circle cx="569" cy="1017.4" r="2.3"/><circle cx="590.1" cy="1035.4" r="2.3"/><circle cx="597.8" cy="993.4" r="2.3"/><circle cx="577.8" cy="1016.6" r="2.3"/><circle cx="609.7" cy="1068.1" r="2.3"/><circle cx="579.8" cy="1008" r="2.3"/><circle cx="608.4" cy="997.7" r="2.3"/><circle cx="607.4" cy="1043.2" r="2.3"/><circle cx="570.2" cy="1018.3" r="2.3"/><circle cx="604.5" cy="985.7" r="2.3"/><circle cx="579.6" cy="1012.3" r="2.3"/><circle cx="566.7" cy="1026.9" r="2.3"/><circle cx="607.6" cy="965.9" r="2.3"/><circle cx="597.1" cy="987.4" r="2.3"/><circle cx="597.8" cy="1010.5" r="2.3"/><circle cx="600.1" cy="1028.6" r="2.3"/><circle cx="595" cy="1044.9" r="2.3"/><circle cx="610" cy="1027.7" r="2.3"/><circle cx="606.4" cy="1026.9" r="2.3"/><circle cx="596.5" cy="1020.9" r="2.3"/><circle cx="591.1" cy="1033.7" r="2.3"/><circle cx="595.4" cy="1022.6" r="2.3"/><circle cx="602.1" cy="999.4" r="2.3"/><circle cx="573.2" cy="1015.7" r="2.3"/><circle cx="609.8" cy="940.2" r="2.3"/><circle cx="600.7" cy="1049.2" r="2.3"/><circle cx="601.7" cy="1017.4" r="2.3"/><circle cx="603.1" cy="1037.2" r="2.3"/><circle cx="604.7" cy="1027.7" r="2.3"/><circle cx="597.1" cy="1046.6" r="2.3"/><circle cx="607.9" cy="998.5" r="2.3"/><circle cx="576.1" cy="1019.1" r="2.3"/><circle cx="608.1" cy="1018.3" r="2.3"/><circle cx="593.8" cy="1026" r="2.3"/><circle cx="603.2" cy="983.9" r="2.3"/><circle cx="583.5" cy="1020" r="2.3"/><circle cx="601.4" cy="1046.6" r="2.3"/><circle cx="591.5" cy="999.4" r="2.3"/><circle cx="598.2" cy="1025.1" r="2.3"/><circle cx="611.1" cy="1114.4" r="2.3"/><circle cx="594" cy="1035.4" r="2.3"/><circle cx="604.1" cy="1002" r="2.3"/><circle cx="583.3" cy="1020" r="2.3"/><circle cx="610.3" cy="1011.4" r="2.3"/><circle cx="605.6" cy="982.2" r="2.3"/><circle cx="600.1" cy="1027.7" r="2.3"/><circle cx="574.9" cy="1008" r="2.3"/><circle cx="593" cy="1026" r="2.3"/><circle cx="603.6" cy="1015.7" r="2.3"/><circle cx="570.3" cy="1022.6" r="2.3"/><circle cx="575.6" cy="1015.7" r="2.3"/><circle cx="570.7" cy="1029.4" r="2.3"/><circle cx="603.8" cy="1002" r="2.3"/><circle cx="581.6" cy="1016.6" r="2.3"/><circle cx="585.2" cy="1014.8" r="2.3"/><circle cx="585.2" cy="1031.2" r="2.3"/><circle cx="575" cy="1025.1" r="2.3"/><circle cx="567.1" cy="1024.3" r="2.3"/><circle cx="601.3" cy="1014" r="2.3"/><circle cx="605.4" cy="1022.6" r="2.3"/><circle cx="609.5" cy="1005.4" r="2.3"/><circle cx="597.9" cy="1013.1" r="2.3"/><circle cx="607" cy="1002" r="2.3"/><circle cx="582.8" cy="1008.8" r="2.3"/><circle cx="605" cy="1031.2" r="2.3"/><circle cx="581.9" cy="1024.3" r="2.3"/><circle cx="610.7" cy="1029.4" r="2.3"/><circle cx="575.5" cy="1020.9" r="2.3"/><circle cx="573.6" cy="1034.6" r="2.3"/><circle cx="604.1" cy="1017.4" r="2.3"/><circle cx="600.2" cy="1038.9" r="2.3"/><circle cx="603.4" cy="1019.1" r="2.3"/><circle cx="598.1" cy="1040.6" r="2.3"/><circle cx="590.3" cy="1030.3" r="2.3"/><circle cx="580.4" cy="1020.9" r="2.3"/><circle cx="601.3" cy="1014" r="2.3"/><circle cx="575" cy="1033.7" r="2.3"/><circle cx="609.4" cy="1046.6" r="2.3"/><circle cx="592.4" cy="1042.3" r="2.3"/><circle cx="571.2" cy="1015.7" r="2.3"/><circle cx="597" cy="1011.4" r="2.3"/><circle cx="578.7" cy="1021.7" r="2.3"/><circle cx="573.6" cy="1031.2" r="2.3"/><circle cx="609.2" cy="1022.6" r="2.3"/><circle cx="585.6" cy="1026" r="2.3"/><circle cx="577" cy="1035.4" r="2.3"/><circle cx="607.9" cy="978.8" r="2.3"/><circle cx="599.5" cy="986.5" r="2.3"/><circle cx="604.3" cy="1016.6" r="2.3"/><circle cx="608.3" cy="949.6" r="2.3"/><circle cx="594.2" cy="1020.9" r="2.3"/><circle cx="597.1" cy="1042.3" r="2.3"/><circle cx="602.2" cy="994.2" r="2.3"/><circle cx="582.8" cy="1028.6" r="2.3"/><circle cx="605.8" cy="1001.1" r="2.3"/><circle cx="581.4" cy="1028.6" r="2.3"/><circle cx="602.2" cy="1049.2" r="2.3"/><circle cx="573" cy="1026.9" r="2.3"/><circle cx="603.8" cy="1020.9" r="2.3"/><circle cx="611" cy="1076.6" r="2.3"/><circle cx="575.9" cy="1029.4" r="2.3"/><circle cx="591.3" cy="1001.1" r="2.3"/><circle cx="580.6" cy="1027.7" r="2.3"/><circle cx="597.8" cy="1005.4" r="2.3"/><circle cx="599.7" cy="1041.5" r="2.3"/><circle cx="602.5" cy="1032" r="2.3"/><circle cx="607.8" cy="1023.4" r="2.3"/><circle cx="606.2" cy="987.4" r="2.3"/><circle cx="598.2" cy="987.4" r="2.3"/><circle cx="610.5" cy="1111" r="2.3"/><circle cx="595.7" cy="999.4" r="2.3"/><circle cx="601.8" cy="989.9" r="2.3"/><circle cx="610.7" cy="1061.2" r="2.3"/><circle cx="571.6" cy="1027.7" r="2.3"/><circle cx="607.9" cy="997.7" r="2.3"/><circle cx="606" cy="1026" r="2.3"/><circle cx="594.7" cy="1031.2" r="2.3"/><circle cx="604.5" cy="1022.6" r="2.3"/><circle cx="601.3" cy="1009.7" r="2.3"/><circle cx="602" cy="989.1" r="2.3"/><circle cx="577.3" cy="1021.7" r="2.3"/><circle cx="599.4" cy="1026" r="2.3"/><circle cx="601.3" cy="1037.2" r="2.3"/><circle cx="576.8" cy="1031.2" r="2.3"/><circle cx="579.1" cy="1025.1" r="2.3"/><circle cx="607.9" cy="1029.4" r="2.3"/><circle cx="593.1" cy="1027.7" r="2.3"/><circle cx="607.9" cy="985.7" r="2.3"/><circle cx="604" cy="1032" r="2.3"/><circle cx="566.2" cy="1030.3" r="2.3"/><circle cx="609.7" cy="974.5" r="2.3"/><circle cx="604.2" cy="1046.6" r="2.3"/><circle cx="606.3" cy="1014" r="2.3"/><circle cx="576.9" cy="1022.6" r="2.3"/><circle cx="608.4" cy="1147" r="2.3"/><circle cx="580.6" cy="1008" r="2.3"/><circle cx="590.9" cy="1019.1" r="2.3"/><circle cx="605.2" cy="1017.4" r="2.3"/><circle cx="600.7" cy="1017.4" r="2.3"/><circle cx="609.1" cy="1026.9" r="2.3"/><circle cx="608.9" cy="1034.6" r="2.3"/><circle cx="600.9" cy="1015.7" r="2.3"/><circle cx="589.4" cy="1015.7" r="2.3"/><circle cx="605.2" cy="1031.2" r="2.3"/><circle cx="582.1" cy="1013.1" r="2.3"/><circle cx="591.4" cy="1008" r="2.3"/><circle cx="610.1" cy="1014" r="2.3"/><circle cx="574.3" cy="1027.7" r="2.3"/><circle cx="606.4" cy="1024.3" r="2.3"/><circle cx="574" cy="1022.6" r="2.3"/><circle cx="608" cy="1039.7" r="2.3"/><circle cx="573.1" cy="1018.3" r="2.3"/><circle cx="600" cy="1023.4" r="2.3"/><circle cx="608" cy="1002.8" r="2.3"/><circle cx="583.4" cy="1028.6" r="2.3"/><circle cx="590.5" cy="995.1" r="2.3"/><circle cx="598.9" cy="1026.9" r="2.3"/><circle cx="605.6" cy="1025.1" r="2.3"/><circle cx="575.4" cy="1029.4" r="2.3"/><circle cx="610.7" cy="903.2" r="2.3"/><circle cx="594.4" cy="1042.3" r="2.3"/><circle cx="608.6" cy="930.7" r="2.3"/><circle cx="578" cy="1022.6" r="2.3"/><circle cx="585.4" cy="1003.7" r="2.3"/><circle cx="567.6" cy="1018.3" r="2.3"/><circle cx="603.5" cy="1002" r="2.3"/><circle cx="607.2" cy="1021.7" r="2.3"/><circle cx="574.4" cy="1024.3" r="2.3"/><circle cx="588.2" cy="1019.1" r="2.3"/><circle cx="608.3" cy="1002" r="2.3"/><circle cx="589.3" cy="1025.1" r="2.3"/><circle cx="581.3" cy="1018.3" r="2.3"/><circle cx="606.5" cy="970.2" r="2.3"/><circle cx="581.6" cy="1015.7" r="2.3"/><circle cx="568.4" cy="1016.6" r="2.3"/><circle cx="585.7" cy="1013.1" r="2.3"/><circle cx="592.4" cy="1023.4" r="2.3"/><circle cx="598.6" cy="1002.8" r="2.3"/><circle cx="598.9" cy="986.5" r="2.3"/><circle cx="608.8" cy="946.2" r="2.3"/><circle cx="595.3" cy="1014.8" r="2.3"/><circle cx="610.7" cy="1082.7" r="2.3"/><circle cx="586.2" cy="1003.7" r="2.3"/><circle cx="609.9" cy="1003.7" r="2.3"/><circle cx="600" cy="1008.8" r="2.3"/><circle cx="572.3" cy="1023.4" r="2.3"/><circle cx="590.4" cy="1022.6" r="2.3"/><circle cx="608.6" cy="1046.6" r="2.3"/><circle cx="601.3" cy="1032" r="2.3"/><circle cx="609.1" cy="1017.4" r="2.3"/><circle cx="608.9" cy="1040.6" r="2.3"/><circle cx="575.9" cy="1005.4" r="2.3"/><circle cx="592.9" cy="1004.5" r="2.3"/><circle cx="583.2" cy="1036.3" r="2.3"/><circle cx="608.6" cy="1037.2" r="2.3"/><circle cx="573.6" cy="1017.4" r="2.3"/><circle cx="571.4" cy="1027.7" r="2.3"/><circle cx="566.9" cy="1026.9" r="2.3"/><circle cx="580.5" cy="1004.5" r="2.3"/><circle cx="610.4" cy="885.2" r="2.3"/><circle cx="588.3" cy="1032.9" r="2.3"/><circle cx="579.9" cy="1015.7" r="2.3"/><circle cx="584.2" cy="1031.2" r="2.3"/><circle cx="602.6" cy="1028.6" r="2.3"/><circle cx="575.8" cy="1020.9" r="2.3"/><circle cx="595.8" cy="1015.7" r="2.3"/><circle cx="594.4" cy="1031.2" r="2.3"/><circle cx="599" cy="1023.4" r="2.3"/><circle cx="600.7" cy="1027.7" r="2.3"/><circle cx="580" cy="1028.6" r="2.3"/><circle cx="584.7" cy="1011.4" r="2.3"/><circle cx="606.7" cy="980.5" r="2.3"/><circle cx="597.6" cy="1037.2" r="2.3"/><circle cx="578.8" cy="1016.6" r="2.3"/><circle cx="607.1" cy="1016.6" r="2.3"/><circle cx="582.5" cy="1019.1" r="2.3"/><circle cx="597.1" cy="1001.1" r="2.3"/><circle cx="609.6" cy="1032" r="2.3"/><circle cx="578.4" cy="1018.3" r="2.3"/><circle cx="594.7" cy="1038" r="2.3"/><circle cx="587.1" cy="1013.1" r="2.3"/><circle cx="606.8" cy="1031.2" r="2.3"/><circle cx="610.7" cy="1068.9" r="2.3"/><circle cx="603.5" cy="988.2" r="2.3"/><circle cx="610.6" cy="875.8" r="2.3"/><circle cx="592.2" cy="1014" r="2.3"/><circle cx="574.9" cy="1014.8" r="2.3"/><circle cx="604" cy="1026" r="2.3"/><circle cx="600.1" cy="987.4" r="2.3"/><circle cx="593.1" cy="1024.3" r="2.3"/><circle cx="594.4" cy="1038.9" r="2.3"/><circle cx="595.4" cy="1001.1" r="2.3"/><circle cx="582.5" cy="1008" r="2.3"/><circle cx="581.9" cy="1026.9" r="2.3"/><circle cx="609.4" cy="920.4" r="2.3"/><circle cx="583.3" cy="1033.7" r="2.3"/></g>
<path d="M611.8,1147.9 L616.5,1147.9 L616.5,1146.2 L616.5,1144.5 L616.5,1142.8 L616.5,1141 L616.5,1139.3 L616.5,1137.6 L616.5,1135.9 L616.5,1134.2 L616.5,1132.5 L616.5,1130.8 L616.5,1129 L616.5,1127.3 L616.5,1125.6 L616.5,1123.9 L616.5,1122.2 L616.5,1120.5 L616.5,1118.8 L616.5,1117.1 L616.5,1115.3 L616.5,1113.6 L616.5,1111.9 L616.5,1110.2 L616.5,1108.5 L616.5,1106.8 L616.5,1105.1 L616.5,1103.3 L616.5,1101.6 L616.5,1099.9 L617.1,1098.2 L618.5,1096.5 L619.9,1094.8 L621.2,1093.1 L622.4,1091.3 L623.4,1089.6 L624.5,1087.9 L625.5,1086.2 L626.5,1084.5 L627.6,1082.8 L628.8,1081.1 L630,1079.4 L631.3,1077.6 L632.6,1075.9 L633.9,1074.2 L635.2,1072.5 L636.4,1070.8 L637.7,1069.1 L639,1067.4 L640.3,1065.6 L641.6,1063.9 L642.9,1062.2 L644.2,1060.5 L645.5,1058.8 L646.7,1057.1 L647.8,1055.4 L648.8,1053.6 L649.6,1051.9 L650.5,1050.2 L651.4,1048.5 L652.2,1046.8 L653.1,1045.1 L654,1043.4 L655.1,1041.6 L656.4,1039.9 L657.8,1038.2 L659.1,1036.5 L660.5,1034.8 L661.8,1033.1 L662.7,1031.4 L663.2,1029.7 L663.4,1027.9 L663.5,1026.2 L663.7,1024.5 L663.9,1022.8 L663.9,1021.1 L663.7,1019.4 L663.4,1017.7 L663,1015.9 L662.5,1014.2 L662.1,1012.5 L661.7,1010.8 L661.3,1009.1 L660.6,1007.4 L659.7,1005.7 L658.5,1003.9 L657.4,1002.2 L656.2,1000.5 L655.1,998.8 L653.9,997.1 L652.8,995.4 L651.6,993.7 L650.3,991.9 L649,990.2 L647.7,988.5 L646.5,986.8 L645.2,985.1 L643.9,983.4 L642.9,981.7 L642.3,980 L642,978.2 L641.9,976.5 L641.8,974.8 L641.7,973.1 L641.6,971.4 L641.5,969.7 L641.4,968 L641.3,966.2 L641.1,964.5 L640.9,962.8 L640.5,961.1 L640.1,959.4 L639.6,957.7 L639.2,956 L638.8,954.2 L638.3,952.5 L637.9,950.8 L637.5,949.1 L637,947.4 L636.4,945.7 L635.7,944 L634.8,942.3 L634,940.5 L633.1,938.8 L632.3,937.1 L631.4,935.4 L630.6,933.7 L629.7,932 L628.8,930.3 L627.9,928.5 L626.9,926.8 L625.9,925.1 L624.8,923.4 L623.7,921.7 L622.9,920 L622.3,918.3 L622,916.5 L621.8,914.8 L621.6,913.1 L621.4,911.4 L621.2,909.7 L620.9,908 L620.7,906.3 L620.5,904.5 L620.3,902.8 L620,901.1 L619.8,899.4 L619.5,897.7 L619.3,896 L619,894.3 L618.8,892.6 L618.5,890.8 L618.3,889.1 L618,887.4 L617.7,885.7 L617.5,884 L617.2,882.3 L616.9,880.6 L616.5,878.8 L616.5,877.1 L616.5,875.4 L611.8,875.4 Z" fill="#5eb867" />
<g fill="#5eb867" fill-opacity="0.85"><circle cx="613.7" cy="787" r="2.3"/><circle cx="613.7" cy="804.1" r="2.3"/><circle cx="613.7" cy="819.4" r="2.3"/><circle cx="613.7" cy="828.3" r="2.3"/><circle cx="613.7" cy="842.3" r="2.3"/><circle cx="613.7" cy="857.6" r="2.3"/><circle cx="613.7" cy="867.8" r="2.3"/></g>
<g fill="#265d9c" fill-opacity="0.85"><circle cx="611.3" cy="806.7" r="2.3"/><circle cx="611.3" cy="814.3" r="2.3"/><circle cx="611.3" cy="823.2" r="2.3"/><circle cx="611.3" cy="832.1" r="2.3"/><circle cx="611.3" cy="1146.6" r="2.3"/></g>
<path d="M739.6,1147.9 L733.9,1147.9 L734.8,1146.3 L735.4,1144.6 L735.8,1143 L735.9,1141.4 L735.9,1139.7 L735.9,1138.1 L735.9,1136.5 L735.9,1134.8 L735.9,1133.2 L735.9,1131.6 L735.9,1129.9 L735.9,1128.3 L735.9,1126.7 L735.9,1125 L735.9,1123.4 L735.9,1121.8 L735.9,1120.1 L735.9,1118.5 L735.9,1116.9 L735.9,1115.2 L735.8,1113.6 L735.6,1112 L735.5,1110.3 L735.4,1108.7 L735.2,1107.1 L735.1,1105.4 L735,1103.8 L734.8,1102.2 L734.7,1100.5 L734.6,1098.9 L734.4,1097.3 L734.3,1095.6 L734.1,1094 L734,1092.4 L733.8,1090.7 L733.4,1089.1 L733,1087.5 L732.6,1085.8 L732.1,1084.2 L731.7,1082.6 L731.3,1080.9 L730.9,1079.3 L730.6,1077.7 L730.5,1076 L730.5,1074.4 L730.5,1072.8 L730.5,1071.1 L730.5,1069.5 L730.5,1067.9 L730.5,1066.2 L730.5,1064.6 L730.3,1062.9 L729.8,1061.3 L728.9,1059.7 L727.9,1058 L726.9,1056.4 L725.9,1054.8 L725,1053.1 L723.6,1051.5 L721.8,1049.9 L719.5,1048.2 L717.2,1046.6 L715,1045 L712.7,1043.3 L710.3,1041.7 L707.4,1040.1 L704,1038.4 L700.2,1036.8 L696.6,1035.2 L694.1,1033.5 L692.8,1031.9 L692.5,1030.3 L692.1,1028.6 L691.8,1027 L691.4,1025.4 L691.1,1023.7 L690.7,1022.1 L690.4,1020.5 L690,1018.8 L689.6,1017.2 L689.3,1015.6 L689.9,1013.9 L691.4,1012.3 L693.7,1010.7 L695.9,1009 L698.2,1007.4 L700.5,1005.8 L702.7,1004.1 L704.6,1002.5 L706.2,1000.9 L707.6,999.2 L709,997.6 L710.5,996 L712,994.3 L713.5,992.7 L715.1,991.1 L716.8,989.4 L718.4,987.8 L720,986.2 L721.6,984.5 L723.2,982.9 L724.7,981.3 L726.2,979.6 L727.7,978 L729.2,976.4 L730.7,974.7 L731.8,973.1 L732,971.5 L731.4,969.8 L730.4,968.2 L729.4,966.6 L728.4,964.9 L727.4,963.3 L727,961.7 L727.4,960 L728.6,958.4 L729.9,956.8 L731.2,955.1 L732.5,953.5 L733.8,951.9 L734.6,950.2 L735,948.6 L735.1,947 L735.1,945.3 L735.2,943.7 L735.3,942.1 L735.3,940.4 L735.4,938.8 L735.5,937.2 L735.6,935.5 L735.6,933.9 L735.7,932.3 L735.8,930.6 L735.8,929 L735.9,927.4 L735.9,925.7 L736,924.1 L736,922.5 L736.1,920.8 L736.1,919.2 L736.2,917.6 L736.2,915.9 L736.2,914.3 L736.3,912.7 L736.3,911 L736.4,909.4 L736.4,907.8 L736.4,906.1 L736.5,904.5 L736.5,902.8 L736.6,901.2 L736.6,899.6 L736.7,897.9 L736.7,896.3 L736.7,894.7 L736.8,893 L736.8,891.4 L736.9,889.8 L736.9,888.1 L739.6,888.1 Z" fill="#265d9c" fill-opacity="0.4"/>
<g fill="#265d9c" fill-opacity="0.85"><circle cx="722.1" cy="985.8" r="2.3"/><circle cx="735.7" cy="991.7" r="2.3"/><circle cx="717.4" cy="1015.1" r="2.3"/><circle cx="731.4" cy="1018.3" r="2.3"/><circle cx="720.4" cy="1035.9" r="2.3"/><circle cx="718.1" cy="1034" r="2.3"/><circle cx="737.1" cy="1081.5" r="2.3"/><circle cx="720.7" cy="1008.6" r="2.3"/><circle cx="703.3" cy="1019" r="2.3"/><circle cx="734.9" cy="1026.8" r="2.3"/><circle cx="718.2" cy="1003.4" r="2.3"/><circle cx="709.8" cy="1011.8" r="2.3"/><circle cx="734" cy="962.4" r="2.3"/><circle cx="724.4" cy="1005.3" r="2.3"/><circle cx="706.3" cy="1015.7" r="2.3"/><circle cx="733.7" cy="1028.8" r="2.3"/><circle cx="704.4" cy="1021" r="2.3"/><circle cx="716.3" cy="1015.1" r="2.3"/><circle cx="729.2" cy="1012.5" r="2.3"/><circle cx="725.6" cy="1036.6" r="2.3"/><circle cx="731.6" cy="1000.8" r="2.3"/><circle cx="735.1" cy="1043.1" r="2.3"/><circle cx="735.8" cy="1069.1" r="2.3"/><circle cx="698.7" cy="1015.7" r="2.3"/><circle cx="721" cy="1028.1" r="2.3"/><circle cx="724.1" cy="1030.7" r="2.3"/><circle cx="719" cy="1004" r="2.3"/><circle cx="732.8" cy="1032" r="2.3"/><circle cx="714.3" cy="1003.4" r="2.3"/><circle cx="730.6" cy="999.5" r="2.3"/><circle cx="694.3" cy="1017" r="2.3"/><circle cx="692.6" cy="1015.1" r="2.3"/><circle cx="704.4" cy="1037.9" r="2.3"/><circle cx="733.6" cy="1056.8" r="2.3"/><circle cx="733.6" cy="1082.8" r="2.3"/><circle cx="696.8" cy="1009.9" r="2.3"/><circle cx="708.2" cy="1001.4" r="2.3"/><circle cx="691.2" cy="1017.7" r="2.3"/><circle cx="724.9" cy="1006" r="2.3"/><circle cx="733.9" cy="960.4" r="2.3"/><circle cx="734.6" cy="1035.9" r="2.3"/><circle cx="728.4" cy="1021" r="2.3"/><circle cx="723.9" cy="983.8" r="2.3"/><circle cx="733.2" cy="1034.6" r="2.3"/><circle cx="729.6" cy="1018.3" r="2.3"/><circle cx="699.4" cy="1017.7" r="2.3"/><circle cx="719.1" cy="1032" r="2.3"/><circle cx="728.3" cy="990.4" r="2.3"/><circle cx="697.6" cy="1027.5" r="2.3"/><circle cx="710.4" cy="1000.8" r="2.3"/><circle cx="720.3" cy="1009.9" r="2.3"/><circle cx="702.8" cy="1009.9" r="2.3"/><circle cx="726.7" cy="1012.5" r="2.3"/><circle cx="719.4" cy="1030.1" r="2.3"/><circle cx="718.3" cy="1004.7" r="2.3"/><circle cx="698.7" cy="1017" r="2.3"/><circle cx="722.8" cy="1043.7" r="2.3"/><circle cx="712.6" cy="1028.1" r="2.3"/><circle cx="730.4" cy="998.8" r="2.3"/><circle cx="736.9" cy="976.7" r="2.3"/><circle cx="712" cy="1016.4" r="2.3"/><circle cx="713.2" cy="1033.3" r="2.3"/><circle cx="716.8" cy="1021" r="2.3"/><circle cx="737.4" cy="1008.6" r="2.3"/><circle cx="702.1" cy="1025.5" r="2.3"/><circle cx="712" cy="1039.8" r="2.3"/><circle cx="710.3" cy="1035.3" r="2.3"/><circle cx="721.6" cy="1037.2" r="2.3"/><circle cx="733.8" cy="1023.6" r="2.3"/><circle cx="717.9" cy="1009.2" r="2.3"/><circle cx="715" cy="1009.9" r="2.3"/><circle cx="712.8" cy="1017" r="2.3"/><circle cx="697.8" cy="1030.1" r="2.3"/><circle cx="721.8" cy="1047.6" r="2.3"/><circle cx="724.7" cy="995.6" r="2.3"/><circle cx="714.9" cy="1004" r="2.3"/><circle cx="723.7" cy="1014.4" r="2.3"/><circle cx="722" cy="1028.8" r="2.3"/><circle cx="695" cy="1029.4" r="2.3"/><circle cx="720.2" cy="1027.5" r="2.3"/><circle cx="700.3" cy="1023.6" r="2.3"/><circle cx="712" cy="1021" r="2.3"/><circle cx="725.3" cy="1032" r="2.3"/><circle cx="733.4" cy="1047" r="2.3"/><circle cx="700.2" cy="1032" r="2.3"/><circle cx="732.4" cy="1019.7" r="2.3"/><circle cx="732" cy="1021.6" r="2.3"/><circle cx="716.7" cy="1016.4" r="2.3"/><circle cx="730.7" cy="996.2" r="2.3"/><circle cx="730.9" cy="996.9" r="2.3"/><circle cx="734.1" cy="955.2" r="2.3"/><circle cx="732.6" cy="1065.9" r="2.3"/><circle cx="721.6" cy="1031.4" r="2.3"/><circle cx="711.6" cy="1039.2" r="2.3"/><circle cx="722.9" cy="1046.3" r="2.3"/><circle cx="706.8" cy="1024.9" r="2.3"/><circle cx="734.1" cy="1030.1" r="2.3"/><circle cx="725.6" cy="987.8" r="2.3"/><circle cx="702.9" cy="1037.2" r="2.3"/><circle cx="734.1" cy="988.4" r="2.3"/><circle cx="735.4" cy="1088" r="2.3"/><circle cx="716" cy="1039.8" r="2.3"/><circle cx="704.8" cy="1021" r="2.3"/><circle cx="701.2" cy="1016.4" r="2.3"/><circle cx="719.6" cy="1000.1" r="2.3"/><circle cx="722" cy="1015.1" r="2.3"/><circle cx="734.9" cy="1040.5" r="2.3"/><circle cx="732.1" cy="996.2" r="2.3"/><circle cx="723" cy="1022.9" r="2.3"/><circle cx="712.4" cy="1013.8" r="2.3"/><circle cx="726" cy="996.2" r="2.3"/><circle cx="708.3" cy="1026.8" r="2.3"/><circle cx="703" cy="1006.6" r="2.3"/><circle cx="698.2" cy="1029.4" r="2.3"/><circle cx="731.1" cy="956.5" r="2.3"/><circle cx="727.2" cy="1041.1" r="2.3"/><circle cx="708.8" cy="1004.7" r="2.3"/><circle cx="735.1" cy="1068.5" r="2.3"/><circle cx="707.9" cy="1007.9" r="2.3"/><circle cx="727.7" cy="1017.7" r="2.3"/><circle cx="734.9" cy="1024.2" r="2.3"/><circle cx="718.5" cy="1028.8" r="2.3"/><circle cx="720" cy="1000.1" r="2.3"/><circle cx="726.3" cy="1023.6" r="2.3"/><circle cx="707.7" cy="1028.8" r="2.3"/><circle cx="729.6" cy="1022.3" r="2.3"/><circle cx="720.4" cy="1000.1" r="2.3"/><circle cx="732.7" cy="963.7" r="2.3"/><circle cx="717.4" cy="1013.8" r="2.3"/><circle cx="693.9" cy="1014.4" r="2.3"/><circle cx="733.2" cy="956.5" r="2.3"/><circle cx="734.7" cy="1022.9" r="2.3"/><circle cx="726.5" cy="998.2" r="2.3"/><circle cx="734.9" cy="1025.5" r="2.3"/><circle cx="735.1" cy="1073" r="2.3"/><circle cx="730.4" cy="960.4" r="2.3"/><circle cx="710.8" cy="1008.6" r="2.3"/><circle cx="730.1" cy="1031.4" r="2.3"/><circle cx="734.5" cy="1014.4" r="2.3"/><circle cx="713.1" cy="1015.1" r="2.3"/><circle cx="731.8" cy="1017.7" r="2.3"/><circle cx="731.7" cy="1052.2" r="2.3"/><circle cx="717.7" cy="1039.2" r="2.3"/><circle cx="710" cy="1029.4" r="2.3"/><circle cx="715.5" cy="1006" r="2.3"/><circle cx="728.3" cy="1017.7" r="2.3"/><circle cx="693.8" cy="1027.5" r="2.3"/><circle cx="725" cy="1031.4" r="2.3"/><circle cx="712.2" cy="1019.7" r="2.3"/><circle cx="728" cy="1002.7" r="2.3"/><circle cx="737.4" cy="966.3" r="2.3"/><circle cx="719.2" cy="1002.7" r="2.3"/><circle cx="734.3" cy="990.4" r="2.3"/><circle cx="697.9" cy="1009.9" r="2.3"/><circle cx="732.6" cy="1011.2" r="2.3"/><circle cx="720.5" cy="987.1" r="2.3"/><circle cx="718.2" cy="1043.7" r="2.3"/><circle cx="736.2" cy="1048.9" r="2.3"/><circle cx="714.4" cy="1002.7" r="2.3"/><circle cx="734.9" cy="971.5" r="2.3"/><circle cx="724.8" cy="1019" r="2.3"/><circle cx="690.6" cy="1015.7" r="2.3"/><circle cx="697.7" cy="1012.5" r="2.3"/><circle cx="708.1" cy="1035.3" r="2.3"/><circle cx="734.8" cy="1007.3" r="2.3"/><circle cx="732.3" cy="1000.1" r="2.3"/><circle cx="735" cy="1034.6" r="2.3"/><circle cx="731.2" cy="1011.8" r="2.3"/><circle cx="737.5" cy="959.8" r="2.3"/><circle cx="714.1" cy="1001.4" r="2.3"/><circle cx="710.5" cy="1016.4" r="2.3"/><circle cx="717.5" cy="1002.1" r="2.3"/><circle cx="714.1" cy="1039.8" r="2.3"/><circle cx="711.3" cy="1026.8" r="2.3"/><circle cx="695.4" cy="1019" r="2.3"/><circle cx="698.6" cy="1023.6" r="2.3"/><circle cx="732" cy="1048.3" r="2.3"/><circle cx="710.8" cy="1011.2" r="2.3"/><circle cx="731.6" cy="998.8" r="2.3"/><circle cx="712.5" cy="1002.1" r="2.3"/><circle cx="733.4" cy="1039.8" r="2.3"/><circle cx="691.4" cy="1015.7" r="2.3"/><circle cx="717.4" cy="1013.8" r="2.3"/><circle cx="699.8" cy="1019" r="2.3"/><circle cx="712.4" cy="1018.3" r="2.3"/><circle cx="693.3" cy="1015.1" r="2.3"/><circle cx="711.1" cy="1002.1" r="2.3"/><circle cx="711.2" cy="1031.4" r="2.3"/><circle cx="716.1" cy="1000.1" r="2.3"/><circle cx="730.5" cy="976.7" r="2.3"/><circle cx="723.8" cy="1041.1" r="2.3"/><circle cx="728.3" cy="1026.8" r="2.3"/><circle cx="691.9" cy="1019.7" r="2.3"/><circle cx="734.1" cy="1004.7" r="2.3"/><circle cx="721.4" cy="1032.7" r="2.3"/><circle cx="726.8" cy="993" r="2.3"/><circle cx="719.7" cy="1038.5" r="2.3"/><circle cx="735.8" cy="1032.7" r="2.3"/><circle cx="690.5" cy="1015.1" r="2.3"/><circle cx="712.7" cy="1004" r="2.3"/><circle cx="719.3" cy="1038.5" r="2.3"/><circle cx="702.3" cy="1013.1" r="2.3"/><circle cx="735.1" cy="1022.3" r="2.3"/><circle cx="733.4" cy="985.1" r="2.3"/><circle cx="719.8" cy="1007.3" r="2.3"/><circle cx="726.2" cy="1004" r="2.3"/><circle cx="729.1" cy="1046.3" r="2.3"/><circle cx="700.8" cy="1020.3" r="2.3"/><circle cx="707.3" cy="1024.2" r="2.3"/><circle cx="704.4" cy="1025.5" r="2.3"/><circle cx="706.3" cy="1037.2" r="2.3"/><circle cx="737.3" cy="979.9" r="2.3"/><circle cx="717" cy="996.2" r="2.3"/><circle cx="733.1" cy="1009.9" r="2.3"/><circle cx="708" cy="1007.3" r="2.3"/><circle cx="692.8" cy="1013.1" r="2.3"/><circle cx="731.1" cy="979.3" r="2.3"/><circle cx="735.2" cy="985.8" r="2.3"/><circle cx="714.1" cy="1030.1" r="2.3"/><circle cx="693" cy="1018.3" r="2.3"/><circle cx="708.7" cy="1013.1" r="2.3"/><circle cx="693" cy="1013.8" r="2.3"/><circle cx="704" cy="1024.9" r="2.3"/><circle cx="718.4" cy="1014.4" r="2.3"/><circle cx="730.6" cy="1027.5" r="2.3"/><circle cx="737" cy="1106.2" r="2.3"/><circle cx="733.9" cy="1030.1" r="2.3"/><circle cx="721.3" cy="1020.3" r="2.3"/><circle cx="724.9" cy="985.8" r="2.3"/><circle cx="700.5" cy="1011.2" r="2.3"/></g>
<path d="M738.2,1147.9 L742.9,1147.9 L742.9,1146.3 L742.9,1144.6 L742.9,1143 L742.9,1141.3 L742.9,1139.7 L742.9,1138 L742.9,1136.4 L742.9,1134.8 L742.9,1133.1 L742.9,1131.5 L742.9,1129.8 L742.9,1128.2 L742.9,1126.6 L742.9,1124.9 L742.9,1123.3 L742.9,1121.6 L742.9,1120 L742.9,1118.3 L742.9,1116.7 L742.9,1115.1 L742.9,1113.4 L742.9,1111.8 L742.9,1110.1 L742.9,1108.5 L742.9,1106.9 L742.9,1105.2 L742.9,1103.6 L742.9,1101.9 L743,1100.3 L744.2,1098.6 L746.1,1097 L748,1095.4 L749.8,1093.7 L751.5,1092.1 L753.1,1090.4 L754.8,1088.8 L756.3,1087.2 L757.8,1085.5 L759.2,1083.9 L760.6,1082.2 L761.9,1080.6 L763.3,1078.9 L764.7,1077.3 L766,1075.7 L767.3,1074 L768.5,1072.4 L769.7,1070.7 L770.8,1069.1 L771.9,1067.5 L772.9,1065.8 L774,1064.2 L775.1,1062.5 L776.2,1060.9 L777.3,1059.2 L778.4,1057.6 L779.5,1056 L780.6,1054.3 L781.7,1052.7 L782.8,1051 L783.9,1049.4 L785,1047.8 L785.9,1046.1 L786.8,1044.5 L787.6,1042.8 L788.4,1041.2 L789.1,1039.5 L789.3,1037.9 L789,1036.3 L788.1,1034.6 L787.3,1033 L786.5,1031.3 L785.7,1029.7 L784.8,1028.1 L784,1026.4 L783.4,1024.8 L782.8,1023.1 L782.4,1021.5 L782,1019.8 L781.6,1018.2 L781.2,1016.6 L780.8,1014.9 L780.3,1013.3 L779.8,1011.6 L779.2,1010 L778.5,1008.4 L777.8,1006.7 L777.2,1005.1 L776.5,1003.4 L775.8,1001.8 L775.1,1000.1 L774.5,998.5 L773.9,996.9 L773.3,995.2 L772.8,993.6 L772.2,991.9 L771.7,990.3 L771.1,988.7 L770.6,987 L770,985.4 L769.4,983.7 L768.8,982.1 L768.2,980.4 L767.6,978.8 L767,977.2 L766.4,975.5 L765.7,973.9 L765.1,972.2 L764.5,970.6 L763.9,969 L763.4,967.3 L763,965.7 L762.5,964 L762.1,962.4 L761.7,960.7 L761.3,959.1 L760.9,957.5 L760.5,955.8 L760.1,954.2 L759.7,952.5 L759.2,950.9 L758.8,949.3 L758.4,947.6 L757.9,946 L757.4,944.3 L756.8,942.7 L756.2,941 L755.5,939.4 L754.9,937.8 L754.4,936.1 L753.8,934.5 L753.2,932.8 L752.7,931.2 L752.1,929.6 L751.6,927.9 L751,926.3 L750.6,924.6 L750.3,923 L750.1,921.3 L750,919.7 L749.9,918.1 L749.8,916.4 L749.7,914.8 L749.6,913.1 L749.5,911.5 L749.4,909.9 L749.3,908.2 L749.1,906.6 L748.6,904.9 L748,903.3 L747.4,901.6 L746.8,900 L746.2,898.4 L745.8,896.7 L745.4,895.1 L745.1,893.4 L744.7,891.8 L744.4,890.2 L744,888.5 L743.7,886.9 L738.2,886.9 Z" fill="#5eb867" fill-opacity="0.9"/>
<g fill="#5eb867" fill-opacity="0.85"><circle cx="768.3" cy="998.7" r="2.3"/><circle cx="778.7" cy="1055.7" r="2.3"/><circle cx="766.7" cy="1054.3" r="2.3"/><circle cx="762.9" cy="1068.7" r="2.3"/><circle cx="765.6" cy="1059.6" r="2.3"/><circle cx="765.3" cy="996.8" r="2.3"/><circle cx="779.2" cy="1030.8" r="2.3"/><circle cx="741.2" cy="908.5" r="2.3"/><circle cx="780.1" cy="1022.9" r="2.3"/><circle cx="754.4" cy="994.2" r="2.3"/><circle cx="784.6" cy="1042.6" r="2.3"/><circle cx="762.3" cy="1070" r="2.3"/><circle cx="744.2" cy="974.5" r="2.3"/><circle cx="754.8" cy="1040.6" r="2.3"/><circle cx="755.3" cy="1020.3" r="2.3"/><circle cx="759.3" cy="960.8" r="2.3"/><circle cx="782.2" cy="1041.9" r="2.3"/><circle cx="742.9" cy="1072.7" r="2.3"/><circle cx="769.1" cy="1005.3" r="2.3"/><circle cx="766.8" cy="979.8" r="2.3"/><circle cx="746.4" cy="970" r="2.3"/><circle cx="769.5" cy="993.5" r="2.3"/><circle cx="755.2" cy="1068.1" r="2.3"/><circle cx="745.5" cy="1058.9" r="2.3"/><circle cx="769.1" cy="1026.9" r="2.3"/><circle cx="741.5" cy="922.9" r="2.3"/><circle cx="782.1" cy="1024.3" r="2.3"/><circle cx="756.4" cy="989.6" r="2.3"/><circle cx="767.6" cy="1048.5" r="2.3"/><circle cx="768.7" cy="1047.2" r="2.3"/><circle cx="754.7" cy="1007.2" r="2.3"/><circle cx="751.8" cy="984.3" r="2.3"/><circle cx="776.3" cy="1027.5" r="2.3"/><circle cx="748.4" cy="1047.8" r="2.3"/><circle cx="757.6" cy="1016.4" r="2.3"/><circle cx="745.7" cy="966" r="2.3"/><circle cx="743.1" cy="1036.7" r="2.3"/><circle cx="754.1" cy="1029.5" r="2.3"/><circle cx="774.4" cy="1030.1" r="2.3"/><circle cx="760.9" cy="1080.5" r="2.3"/><circle cx="767.3" cy="998.7" r="2.3"/><circle cx="763.9" cy="1020.3" r="2.3"/><circle cx="758.6" cy="1033.4" r="2.3"/><circle cx="752.9" cy="1051.1" r="2.3"/><circle cx="755.7" cy="1043.9" r="2.3"/><circle cx="755.8" cy="956.2" r="2.3"/><circle cx="740.9" cy="1008.6" r="2.3"/><circle cx="764.5" cy="1046.5" r="2.3"/><circle cx="754.7" cy="1001.4" r="2.3"/><circle cx="774.4" cy="1009.2" r="2.3"/><circle cx="757.3" cy="1046.5" r="2.3"/><circle cx="750.1" cy="990.9" r="2.3"/><circle cx="753.3" cy="996.8" r="2.3"/><circle cx="747.3" cy="1087.1" r="2.3"/><circle cx="761.3" cy="1073.3" r="2.3"/><circle cx="753.3" cy="973.9" r="2.3"/><circle cx="744.5" cy="958.8" r="2.3"/><circle cx="748.1" cy="1030.1" r="2.3"/><circle cx="759.7" cy="1077.2" r="2.3"/><circle cx="762.8" cy="1076.6" r="2.3"/><circle cx="768.6" cy="1018.4" r="2.3"/><circle cx="761.6" cy="1077.2" r="2.3"/><circle cx="743.3" cy="985" r="2.3"/><circle cx="745.7" cy="1055.7" r="2.3"/><circle cx="743.6" cy="1024.3" r="2.3"/><circle cx="754.3" cy="983.7" r="2.3"/><circle cx="748.8" cy="999.4" r="2.3"/><circle cx="756.9" cy="1006.6" r="2.3"/><circle cx="755.4" cy="1007.2" r="2.3"/><circle cx="747" cy="906.5" r="2.3"/><circle cx="749" cy="976.5" r="2.3"/><circle cx="746.3" cy="1054.3" r="2.3"/><circle cx="773.3" cy="1062.2" r="2.3"/><circle cx="779.6" cy="1045.2" r="2.3"/><circle cx="766.6" cy="1049.8" r="2.3"/><circle cx="753.7" cy="1047.8" r="2.3"/><circle cx="759.4" cy="992.9" r="2.3"/><circle cx="743.8" cy="941.2" r="2.3"/><circle cx="743.1" cy="1045.8" r="2.3"/><circle cx="780.6" cy="1051.7" r="2.3"/><circle cx="759.4" cy="1017.7" r="2.3"/><circle cx="776.8" cy="1039.3" r="2.3"/><circle cx="745.7" cy="1002" r="2.3"/><circle cx="744.3" cy="1077.9" r="2.3"/><circle cx="759.9" cy="979.8" r="2.3"/><circle cx="750.1" cy="1050.4" r="2.3"/><circle cx="771.9" cy="1042.6" r="2.3"/><circle cx="747.8" cy="992.9" r="2.3"/><circle cx="751.5" cy="1040.6" r="2.3"/><circle cx="748.6" cy="941.2" r="2.3"/><circle cx="744.2" cy="943.8" r="2.3"/><circle cx="761.7" cy="1009.2" r="2.3"/><circle cx="746.5" cy="947.1" r="2.3"/><circle cx="774.7" cy="1050.4" r="2.3"/><circle cx="747.3" cy="937.9" r="2.3"/><circle cx="744.4" cy="1040" r="2.3"/><circle cx="781.6" cy="1030.1" r="2.3"/><circle cx="762" cy="1038" r="2.3"/><circle cx="749.9" cy="1017.7" r="2.3"/><circle cx="756.9" cy="1065.5" r="2.3"/><circle cx="749.4" cy="928.1" r="2.3"/><circle cx="776.5" cy="1043.2" r="2.3"/><circle cx="755.3" cy="977.2" r="2.3"/><circle cx="749.8" cy="1038" r="2.3"/><circle cx="763.5" cy="1000.1" r="2.3"/><circle cx="746.1" cy="1051.7" r="2.3"/><circle cx="767.1" cy="1064.8" r="2.3"/><circle cx="751.1" cy="962.8" r="2.3"/><circle cx="767.7" cy="1011.8" r="2.3"/><circle cx="759.2" cy="1058.9" r="2.3"/><circle cx="779.1" cy="1030.1" r="2.3"/><circle cx="771.8" cy="1057.6" r="2.3"/><circle cx="761.7" cy="1060.9" r="2.3"/><circle cx="741.9" cy="961.5" r="2.3"/><circle cx="740.5" cy="1026.2" r="2.3"/><circle cx="760.6" cy="1023.6" r="2.3"/><circle cx="746.2" cy="933.3" r="2.3"/><circle cx="754.3" cy="955.6" r="2.3"/><circle cx="749" cy="974.5" r="2.3"/><circle cx="759.6" cy="1068.1" r="2.3"/><circle cx="760.6" cy="1064.8" r="2.3"/><circle cx="763.6" cy="1055.7" r="2.3"/><circle cx="769.4" cy="989.6" r="2.3"/><circle cx="747.3" cy="1053" r="2.3"/><circle cx="785.1" cy="1032.8" r="2.3"/><circle cx="761.1" cy="1047.8" r="2.3"/><circle cx="743.2" cy="1036" r="2.3"/><circle cx="752.8" cy="1020.3" r="2.3"/><circle cx="772.3" cy="1027.5" r="2.3"/><circle cx="749" cy="1004.6" r="2.3"/><circle cx="760.1" cy="1007.2" r="2.3"/><circle cx="740.4" cy="990.2" r="2.3"/><circle cx="770.7" cy="1045.2" r="2.3"/><circle cx="760.7" cy="1018.4" r="2.3"/><circle cx="765.8" cy="1021.6" r="2.3"/><circle cx="767" cy="994.8" r="2.3"/><circle cx="767.1" cy="987.6" r="2.3"/><circle cx="747.1" cy="1016.4" r="2.3"/><circle cx="781.9" cy="1037.3" r="2.3"/><circle cx="758.9" cy="988.9" r="2.3"/><circle cx="745.7" cy="1062.9" r="2.3"/><circle cx="755.7" cy="1006.6" r="2.3"/><circle cx="778.1" cy="1055" r="2.3"/><circle cx="779.6" cy="1049.8" r="2.3"/><circle cx="776.8" cy="1010.5" r="2.3"/><circle cx="746.3" cy="988.3" r="2.3"/><circle cx="776.6" cy="1050.4" r="2.3"/><circle cx="763.1" cy="1031.5" r="2.3"/><circle cx="759.2" cy="992.9" r="2.3"/><circle cx="757.4" cy="997.4" r="2.3"/><circle cx="772.7" cy="1045.8" r="2.3"/><circle cx="764.7" cy="1062.9" r="2.3"/><circle cx="744.3" cy="984.3" r="2.3"/><circle cx="740.9" cy="1129.6" r="2.3"/><circle cx="761.1" cy="1055" r="2.3"/><circle cx="746.6" cy="1043.9" r="2.3"/><circle cx="743.5" cy="1047.2" r="2.3"/><circle cx="759" cy="973.2" r="2.3"/><circle cx="744.6" cy="986.3" r="2.3"/><circle cx="744.9" cy="1041.3" r="2.3"/><circle cx="763.7" cy="972.6" r="2.3"/><circle cx="752.5" cy="939.9" r="2.3"/><circle cx="759.6" cy="1011.8" r="2.3"/><circle cx="741.3" cy="1064.8" r="2.3"/><circle cx="777.3" cy="1011.2" r="2.3"/><circle cx="743.9" cy="915.7" r="2.3"/><circle cx="776.8" cy="1022.3" r="2.3"/><circle cx="773.7" cy="1044.5" r="2.3"/><circle cx="757.2" cy="1013.1" r="2.3"/><circle cx="747.8" cy="1035.4" r="2.3"/><circle cx="750.8" cy="1060.2" r="2.3"/><circle cx="746.9" cy="907.8" r="2.3"/><circle cx="745.9" cy="1094.9" r="2.3"/><circle cx="760.5" cy="1060.9" r="2.3"/><circle cx="756.8" cy="951.6" r="2.3"/><circle cx="761.1" cy="962.8" r="2.3"/><circle cx="741.5" cy="1009.9" r="2.3"/><circle cx="769.6" cy="1047.8" r="2.3"/><circle cx="776.1" cy="1013.8" r="2.3"/><circle cx="773.7" cy="1057" r="2.3"/><circle cx="763.9" cy="1015.8" r="2.3"/><circle cx="752.1" cy="1063.5" r="2.3"/><circle cx="771.7" cy="1022.9" r="2.3"/><circle cx="762.9" cy="1003.3" r="2.3"/><circle cx="752" cy="998.7" r="2.3"/><circle cx="787" cy="1040" r="2.3"/><circle cx="760.3" cy="1004.6" r="2.3"/><circle cx="749.7" cy="929.4" r="2.3"/><circle cx="772.5" cy="997.4" r="2.3"/><circle cx="784.4" cy="1036" r="2.3"/><circle cx="757.2" cy="1015.8" r="2.3"/><circle cx="742.6" cy="1034.1" r="2.3"/><circle cx="760.7" cy="962.8" r="2.3"/><circle cx="785.7" cy="1036.7" r="2.3"/><circle cx="756" cy="1062.2" r="2.3"/><circle cx="744.4" cy="902.6" r="2.3"/><circle cx="763.3" cy="1058.9" r="2.3"/><circle cx="752.9" cy="1084.4" r="2.3"/><circle cx="765.8" cy="1015.1" r="2.3"/><circle cx="743.7" cy="1004" r="2.3"/></g>
<g fill="#265d9c" fill-opacity="0.85"><circle cx="737.7" cy="844.9" r="2.3"/><circle cx="737.7" cy="888.1" r="2.3"/></g>
<g fill="#5eb867" fill-opacity="0.85"><circle cx="740.1" cy="810.5" r="2.3"/><circle cx="740.1" cy="829.6" r="2.3"/><circle cx="740.1" cy="835.9" r="2.3"/><circle cx="740.1" cy="847.4" r="2.3"/><circle cx="740.1" cy="857.6" r="2.3"/><circle cx="740.1" cy="870.3" r="2.3"/><circle cx="740.1" cy="880.5" r="2.3"/></g>
<path d="M866.1,1095.4 L862.4,1095.4 L862.3,1094.2 L862.2,1093 L862.1,1091.8 L862,1090.6 L861.9,1089.4 L861.8,1088.1 L861.7,1086.9 L861.6,1085.7 L861.5,1084.5 L861.4,1083.3 L861.3,1082.1 L861.2,1080.9 L861.1,1079.6 L861,1078.4 L860.8,1077.2 L860.5,1076 L860.2,1074.8 L859.9,1073.6 L859.6,1072.3 L859.3,1071.1 L859,1069.9 L858.7,1068.7 L858.4,1067.5 L858.1,1066.3 L857.9,1065 L857.7,1063.8 L857.7,1062.6 L857.7,1061.4 L857.7,1060.2 L857.7,1059 L857.7,1057.8 L857.6,1056.5 L857.4,1055.3 L857,1054.1 L856.6,1052.9 L856.1,1051.7 L855.7,1050.5 L855.2,1049.2 L854.7,1048 L853.6,1046.8 L852.1,1045.6 L850.1,1044.4 L848.2,1043.2 L846.2,1042 L844.3,1040.7 L842.3,1039.5 L840.2,1038.3 L837.9,1037.1 L835.5,1035.9 L833,1034.7 L830.5,1033.4 L828.2,1032.2 L826.3,1031 L824.6,1029.8 L823.1,1028.6 L821.5,1027.4 L820,1026.1 L818.5,1024.9 L817.2,1023.7 L816.8,1022.5 L817.2,1021.3 L818.1,1020.1 L819.1,1018.9 L820.1,1017.6 L821.1,1016.4 L822.1,1015.2 L823,1014 L824.1,1012.8 L825.4,1011.6 L827.1,1010.3 L828.9,1009.1 L830.7,1007.9 L832.5,1006.7 L834.4,1005.5 L836.2,1004.3 L837.9,1003.1 L839.5,1001.8 L841,1000.6 L842.6,999.4 L844.1,998.2 L845.6,997 L847.1,995.8 L848.4,994.5 L849.3,993.3 L850,992.1 L850.6,990.9 L851.2,989.7 L851.8,988.5 L852.4,987.2 L853,986 L853.6,984.8 L854.2,983.6 L854.8,982.4 L855.3,981.2 L855.8,980 L856.3,978.7 L856.8,977.5 L857.3,976.3 L857.7,975.1 L858.2,973.9 L858.4,972.7 L858.4,971.4 L858,970.2 L857.5,969 L857.1,967.8 L856.6,966.6 L856.1,965.4 L855.8,964.2 L855.6,962.9 L855.7,961.7 L856,960.5 L856.2,959.3 L856.5,958.1 L856.7,956.9 L856.9,955.6 L857.2,954.4 L857.4,953.2 L857.6,952 L857.9,950.8 L858.1,949.6 L858.3,948.3 L858.6,947.1 L858.8,945.9 L859,944.7 L859.1,943.5 L859.3,942.3 L859.4,941.1 L859.6,939.8 L859.7,938.6 L859.9,937.4 L860.1,936.2 L860.4,935 L860.6,933.8 L860.9,932.5 L861.1,931.3 L861.4,930.1 L861.6,928.9 L861.9,927.7 L862.1,926.5 L862.3,925.3 L862.4,924 L862.4,922.8 L862.5,921.6 L862.5,920.4 L862.5,919.2 L862.6,918 L862.6,916.7 L862.6,915.5 L862.6,914.3 L862.7,913.1 L862.7,911.9 L862.7,910.7 L862.7,909.4 L862.8,908.2 L862.8,907 L862.8,905.8 L862.8,904.6 L862.9,903.4 L862.9,902.2 L866.1,902.2 Z" fill="#265d9c" fill-opacity="0.85"/>
<g fill="#265d9c" fill-opacity="0.85"><circle cx="821.3" cy="1023.7" r="2.3"/><circle cx="859.7" cy="999" r="2.3"/><circle cx="854.3" cy="995.2" r="2.3"/><circle cx="857.1" cy="1050.9" r="2.3"/><circle cx="851.8" cy="1028.6" r="2.3"/><circle cx="836.7" cy="1021.8" r="2.3"/><circle cx="845.7" cy="1036.3" r="2.3"/><circle cx="852.8" cy="1000.5" r="2.3"/><circle cx="847.1" cy="1004.4" r="2.3"/><circle cx="859.8" cy="1001.5" r="2.3"/><circle cx="842.7" cy="1024.2" r="2.3"/><circle cx="841.8" cy="1038.3" r="2.3"/><circle cx="860.1" cy="1013.6" r="2.3"/><circle cx="846.7" cy="1016" r="2.3"/><circle cx="858.3" cy="1032" r="2.3"/><circle cx="860.8" cy="1020.8" r="2.3"/><circle cx="842.4" cy="1016.5" r="2.3"/><circle cx="839.8" cy="1035.9" r="2.3"/><circle cx="862.8" cy="1051.8" r="2.3"/><circle cx="858.8" cy="1001.9" r="2.3"/><circle cx="838.1" cy="1021.8" r="2.3"/><circle cx="841.1" cy="1021.8" r="2.3"/><circle cx="842.8" cy="1018.9" r="2.3"/><circle cx="854.3" cy="1045.1" r="2.3"/><circle cx="862.1" cy="1027.6" r="2.3"/><circle cx="825.9" cy="1022.8" r="2.3"/><circle cx="845.9" cy="1013.6" r="2.3"/><circle cx="854.2" cy="1019.9" r="2.3"/><circle cx="850" cy="1014.1" r="2.3"/><circle cx="862.2" cy="1043.6" r="2.3"/><circle cx="849.5" cy="1039.2" r="2.3"/><circle cx="853.9" cy="992.7" r="2.3"/><circle cx="858.5" cy="1030.5" r="2.3"/><circle cx="861.2" cy="963.2" r="2.3"/><circle cx="845.4" cy="1033.4" r="2.3"/><circle cx="842.3" cy="1014.1" r="2.3"/><circle cx="850.2" cy="1020.8" r="2.3"/><circle cx="843.7" cy="1019.4" r="2.3"/><circle cx="847.3" cy="1011.1" r="2.3"/><circle cx="819.8" cy="1024.7" r="2.3"/><circle cx="845.4" cy="1037.3" r="2.3"/><circle cx="826.4" cy="1022.3" r="2.3"/><circle cx="844.2" cy="1009.7" r="2.3"/><circle cx="854.7" cy="1014.5" r="2.3"/><circle cx="860.7" cy="1068.3" r="2.3"/><circle cx="859.6" cy="1028.6" r="2.3"/><circle cx="849.6" cy="1002.4" r="2.3"/><circle cx="861.2" cy="1056.7" r="2.3"/><circle cx="835.8" cy="1033.4" r="2.3"/><circle cx="825.8" cy="1028.1" r="2.3"/><circle cx="860.8" cy="1014.5" r="2.3"/><circle cx="818.7" cy="1022.8" r="2.3"/><circle cx="858.5" cy="1010.2" r="2.3"/><circle cx="851.6" cy="1024.2" r="2.3"/><circle cx="851.4" cy="1039.2" r="2.3"/><circle cx="856.1" cy="1010.7" r="2.3"/><circle cx="827.5" cy="1017" r="2.3"/><circle cx="861.9" cy="990.3" r="2.3"/><circle cx="848.2" cy="1041.7" r="2.3"/><circle cx="856.8" cy="1025.7" r="2.3"/><circle cx="857.1" cy="1003.9" r="2.3"/><circle cx="840.3" cy="1009.2" r="2.3"/><circle cx="844.7" cy="1027.1" r="2.3"/><circle cx="830.3" cy="1027.1" r="2.3"/><circle cx="852.7" cy="1027.6" r="2.3"/><circle cx="859.1" cy="997.1" r="2.3"/><circle cx="840.1" cy="1021.8" r="2.3"/><circle cx="863.7" cy="1090.1" r="2.3"/><circle cx="832.5" cy="1007.8" r="2.3"/><circle cx="842.9" cy="1025.2" r="2.3"/><circle cx="858.2" cy="1045.1" r="2.3"/><circle cx="841.2" cy="1024.2" r="2.3"/><circle cx="850.7" cy="1026.7" r="2.3"/><circle cx="856.9" cy="984" r="2.3"/><circle cx="860.8" cy="1024.2" r="2.3"/><circle cx="863.1" cy="1046.5" r="2.3"/><circle cx="847.9" cy="1035.9" r="2.3"/><circle cx="858.4" cy="1018.4" r="2.3"/><circle cx="854.7" cy="993.7" r="2.3"/><circle cx="832.6" cy="1009.7" r="2.3"/><circle cx="825.1" cy="1026.2" r="2.3"/><circle cx="859.8" cy="947.7" r="2.3"/><circle cx="857.4" cy="1049.4" r="2.3"/><circle cx="863.6" cy="939.9" r="2.3"/><circle cx="850.6" cy="996.1" r="2.3"/><circle cx="860.2" cy="1056.7" r="2.3"/><circle cx="841" cy="1006.8" r="2.3"/><circle cx="852.5" cy="1045.1" r="2.3"/><circle cx="862.6" cy="1041.7" r="2.3"/><circle cx="860.5" cy="964.6" r="2.3"/><circle cx="850.4" cy="1032.5" r="2.3"/><circle cx="853.3" cy="1014.1" r="2.3"/><circle cx="858" cy="983.5" r="2.3"/><circle cx="846.9" cy="1023.3" r="2.3"/><circle cx="838.7" cy="1036.8" r="2.3"/><circle cx="824.3" cy="1026.7" r="2.3"/><circle cx="841" cy="1017.4" r="2.3"/><circle cx="846.7" cy="1032.5" r="2.3"/><circle cx="854.2" cy="1038.8" r="2.3"/><circle cx="826.5" cy="1014.5" r="2.3"/><circle cx="857.2" cy="1030.5" r="2.3"/><circle cx="860.3" cy="1004.9" r="2.3"/><circle cx="846.7" cy="1031.5" r="2.3"/><circle cx="818" cy="1021.8" r="2.3"/><circle cx="850.9" cy="1043.1" r="2.3"/><circle cx="857.7" cy="1020.8" r="2.3"/><circle cx="828.7" cy="1029.6" r="2.3"/><circle cx="849.4" cy="1032.5" r="2.3"/><circle cx="860.8" cy="1052.8" r="2.3"/><circle cx="837.7" cy="1010.2" r="2.3"/><circle cx="845.2" cy="1025.2" r="2.3"/><circle cx="843.7" cy="1001.5" r="2.3"/><circle cx="861.5" cy="1021.3" r="2.3"/><circle cx="862.2" cy="969.5" r="2.3"/><circle cx="861.9" cy="1020.4" r="2.3"/><circle cx="863.4" cy="1064" r="2.3"/><circle cx="852.8" cy="1017.4" r="2.3"/><circle cx="860.1" cy="1004.4" r="2.3"/><circle cx="863.2" cy="1012.6" r="2.3"/><circle cx="821.2" cy="1024.2" r="2.3"/><circle cx="851.5" cy="1028.6" r="2.3"/><circle cx="859.3" cy="1057.7" r="2.3"/><circle cx="852.9" cy="1019.4" r="2.3"/><circle cx="852.7" cy="1017" r="2.3"/><circle cx="858.6" cy="991.3" r="2.3"/><circle cx="860.8" cy="1043.1" r="2.3"/><circle cx="856.1" cy="1046" r="2.3"/><circle cx="853" cy="1038.3" r="2.3"/><circle cx="860.1" cy="1015.5" r="2.3"/><circle cx="839.3" cy="1013.1" r="2.3"/><circle cx="859.1" cy="974.8" r="2.3"/><circle cx="861.8" cy="945.8" r="2.3"/><circle cx="844.8" cy="1019.9" r="2.3"/><circle cx="847" cy="1035.4" r="2.3"/><circle cx="863.8" cy="905.5" r="2.3"/><circle cx="859" cy="998.1" r="2.3"/><circle cx="844.5" cy="1023.7" r="2.3"/><circle cx="862" cy="952" r="2.3"/><circle cx="859.5" cy="1006.8" r="2.3"/><circle cx="849.5" cy="1006.8" r="2.3"/><circle cx="864" cy="929.8" r="2.3"/><circle cx="828.5" cy="1028.6" r="2.3"/><circle cx="851.2" cy="1021.3" r="2.3"/><circle cx="857.5" cy="995.2" r="2.3"/><circle cx="856.6" cy="993.2" r="2.3"/><circle cx="862.8" cy="1044.6" r="2.3"/><circle cx="849.6" cy="995.6" r="2.3"/><circle cx="830.7" cy="1032.9" r="2.3"/><circle cx="852.6" cy="1000" r="2.3"/><circle cx="848.5" cy="1005.8" r="2.3"/><circle cx="862.4" cy="1055.7" r="2.3"/><circle cx="824.4" cy="1025.2" r="2.3"/><circle cx="835.3" cy="1027.6" r="2.3"/><circle cx="859.4" cy="1013.6" r="2.3"/><circle cx="839" cy="1020.8" r="2.3"/><circle cx="852.1" cy="1008.7" r="2.3"/><circle cx="861.5" cy="936.5" r="2.3"/><circle cx="859.3" cy="1062" r="2.3"/><circle cx="826" cy="1014.5" r="2.3"/><circle cx="834.5" cy="1030" r="2.3"/><circle cx="850.3" cy="1009.2" r="2.3"/><circle cx="837" cy="1024.7" r="2.3"/><circle cx="861.1" cy="945.8" r="2.3"/><circle cx="837" cy="1013.1" r="2.3"/><circle cx="851.8" cy="999.5" r="2.3"/><circle cx="862.7" cy="1009.7" r="2.3"/><circle cx="848.2" cy="996.1" r="2.3"/><circle cx="840.1" cy="1016" r="2.3"/><circle cx="861.5" cy="972.9" r="2.3"/><circle cx="857.3" cy="990.3" r="2.3"/><circle cx="825.4" cy="1016.5" r="2.3"/><circle cx="859.8" cy="979.7" r="2.3"/><circle cx="840.3" cy="1017.4" r="2.3"/><circle cx="847.3" cy="1020.4" r="2.3"/><circle cx="853" cy="1030" r="2.3"/><circle cx="828" cy="1030" r="2.3"/><circle cx="823" cy="1022.8" r="2.3"/><circle cx="819" cy="1020.4" r="2.3"/><circle cx="849.9" cy="1015.5" r="2.3"/><circle cx="851.6" cy="1021.8" r="2.3"/><circle cx="851.5" cy="1025.7" r="2.3"/><circle cx="848.1" cy="1027.6" r="2.3"/><circle cx="858.9" cy="1061.5" r="2.3"/><circle cx="855.5" cy="1002.9" r="2.3"/><circle cx="863" cy="1000" r="2.3"/><circle cx="840.1" cy="1014.5" r="2.3"/><circle cx="850.9" cy="992.7" r="2.3"/><circle cx="830.4" cy="1014.5" r="2.3"/><circle cx="860.7" cy="1010.2" r="2.3"/><circle cx="861.3" cy="1037.8" r="2.3"/><circle cx="849.2" cy="1007.3" r="2.3"/><circle cx="841.7" cy="1024.7" r="2.3"/><circle cx="861.4" cy="969.5" r="2.3"/><circle cx="856.2" cy="1000" r="2.3"/><circle cx="833.7" cy="1012.6" r="2.3"/><circle cx="832.6" cy="1032.5" r="2.3"/><circle cx="858.3" cy="1031.5" r="2.3"/><circle cx="862.7" cy="953" r="2.3"/><circle cx="820.4" cy="1021.8" r="2.3"/><circle cx="839.6" cy="1031" r="2.3"/></g>
<path d="M864.7,1099.8 L868.7,1099.8 L870.3,1098.5 L871.9,1097.2 L873.5,1095.9 L875.1,1094.6 L876.7,1093.3 L878.3,1092.1 L879.5,1090.8 L880.5,1089.5 L881.1,1088.2 L881.7,1086.9 L882.4,1085.6 L883,1084.3 L883.7,1083.1 L884.3,1081.8 L885,1080.5 L885.6,1079.2 L886.4,1077.9 L887.3,1076.6 L888.4,1075.3 L889.5,1074.1 L890.5,1072.8 L891.6,1071.5 L892.7,1070.2 L893.7,1068.9 L894.8,1067.6 L895.9,1066.4 L896.9,1065.1 L897.8,1063.8 L898.7,1062.5 L899.6,1061.2 L900.4,1059.9 L901.3,1058.6 L902.1,1057.4 L903,1056.1 L903.8,1054.8 L904.7,1053.5 L905.5,1052.2 L906.3,1050.9 L907.1,1049.6 L907.9,1048.4 L908.6,1047.1 L909.4,1045.8 L910.1,1044.5 L910.8,1043.2 L911.6,1041.9 L912.3,1040.6 L913.1,1039.4 L913.6,1038.1 L914,1036.8 L914.1,1035.5 L914.3,1034.2 L914.5,1032.9 L914.6,1031.6 L914.7,1030.4 L914.3,1029.1 L913.6,1027.8 L912.7,1026.5 L911.7,1025.2 L910.7,1023.9 L909.8,1022.7 L908.8,1021.4 L907.8,1020.1 L906.9,1018.8 L905.9,1017.5 L904.9,1016.2 L904,1014.9 L903,1013.7 L902.1,1012.4 L901.2,1011.1 L900.4,1009.8 L899.7,1008.5 L898.9,1007.2 L898.1,1005.9 L897.3,1004.7 L896.6,1003.4 L895.8,1002.1 L894.8,1000.8 L893.8,999.5 L892.6,998.2 L891.4,996.9 L890.3,995.7 L889.1,994.4 L887.9,993.1 L886.7,991.8 L885.6,990.5 L884.4,989.2 L883.4,987.9 L882.7,986.7 L882.2,985.4 L881.7,984.1 L881.3,982.8 L880.8,981.5 L880.4,980.2 L880,978.9 L879.5,977.7 L879.1,976.4 L878.6,975.1 L878.1,973.8 L877.5,972.5 L876.9,971.2 L876.4,970 L875.9,968.7 L875.8,967.4 L876,966.1 L876.5,964.8 L876.9,963.5 L877.4,962.2 L877.8,961 L878.3,959.7 L878.7,958.4 L879.2,957.1 L879.6,955.8 L880.1,954.5 L880.4,953.2 L880.6,952 L880.6,950.7 L880.4,949.4 L880.2,948.1 L880,946.8 L879.9,945.5 L879.7,944.2 L879.5,943 L879.3,941.7 L879.2,940.4 L879,939.1 L878.8,937.8 L878.6,936.5 L878.3,935.2 L877.9,934 L877.3,932.7 L876.7,931.4 L876.1,930.1 L875.4,928.8 L874.8,927.5 L874.2,926.3 L873.6,925 L873.2,923.7 L872.9,922.4 L872.7,921.1 L872.5,919.8 L872.3,918.5 L872.1,917.3 L872,916 L871.8,914.7 L871.6,913.4 L871.4,912.1 L871.2,910.8 L871,909.5 L870.8,908.3 L870.5,907 L870.1,905.7 L869.8,904.4 L869.5,903.1 L869.1,901.8 L868.8,900.5 L868.4,899.3 L868.1,898 L867.7,896.7 L867.4,895.4 L864.7,895.4 Z" fill="#5eb867" fill-opacity="0.3"/>
<g fill="#5eb867" fill-opacity="0.85"><circle cx="873.5" cy="1010.1" r="2.3"/><circle cx="888.7" cy="1054.2" r="2.3"/><circle cx="883" cy="1075.2" r="2.3"/><circle cx="868.1" cy="1008.1" r="2.3"/><circle cx="885.7" cy="1016.8" r="2.3"/><circle cx="905.6" cy="1020.9" r="2.3"/><circle cx="869.2" cy="925.1" r="2.3"/><circle cx="884.6" cy="995.8" r="2.3"/><circle cx="867.1" cy="936.4" r="2.3"/><circle cx="869.6" cy="953.3" r="2.3"/><circle cx="885.2" cy="1062.9" r="2.3"/><circle cx="889.4" cy="996.8" r="2.3"/><circle cx="903.6" cy="1040.9" r="2.3"/><circle cx="882.6" cy="1082.4" r="2.3"/><circle cx="889.2" cy="1046.5" r="2.3"/><circle cx="868.1" cy="1063.4" r="2.3"/><circle cx="873.5" cy="1091.6" r="2.3"/><circle cx="903.8" cy="1027" r="2.3"/><circle cx="875.8" cy="994.3" r="2.3"/><circle cx="871.2" cy="995.3" r="2.3"/><circle cx="870.4" cy="985.6" r="2.3"/><circle cx="871.8" cy="952.3" r="2.3"/><circle cx="890.8" cy="1036.3" r="2.3"/><circle cx="868.4" cy="1074.7" r="2.3"/><circle cx="899.7" cy="1028.1" r="2.3"/><circle cx="874.3" cy="1078.3" r="2.3"/><circle cx="901.8" cy="1040.4" r="2.3"/><circle cx="867.2" cy="920" r="2.3"/><circle cx="871.6" cy="1028.1" r="2.3"/><circle cx="895.2" cy="1005.5" r="2.3"/><circle cx="887.6" cy="1014.2" r="2.3"/><circle cx="868.5" cy="1079.3" r="2.3"/><circle cx="869.9" cy="1051.1" r="2.3"/><circle cx="896.6" cy="1062.4" r="2.3"/><circle cx="906.6" cy="1041.9" r="2.3"/><circle cx="891.4" cy="1008.1" r="2.3"/><circle cx="872.4" cy="968.6" r="2.3"/><circle cx="887.4" cy="1041.9" r="2.3"/><circle cx="868.3" cy="1038.8" r="2.3"/><circle cx="877.2" cy="1078.3" r="2.3"/><circle cx="912.6" cy="1029.6" r="2.3"/><circle cx="901.1" cy="1022.4" r="2.3"/><circle cx="894" cy="1032.7" r="2.3"/><circle cx="867.7" cy="1000.9" r="2.3"/><circle cx="872.9" cy="1086.5" r="2.3"/><circle cx="884.4" cy="1046.5" r="2.3"/><circle cx="870.5" cy="1073.6" r="2.3"/><circle cx="883.3" cy="1067.5" r="2.3"/><circle cx="867.1" cy="1081.3" r="2.3"/><circle cx="882.7" cy="1016.8" r="2.3"/><circle cx="880.9" cy="1084.9" r="2.3"/><circle cx="910.8" cy="1031.6" r="2.3"/><circle cx="888.6" cy="1019.9" r="2.3"/><circle cx="871.4" cy="1038.3" r="2.3"/><circle cx="871.8" cy="940" r="2.3"/><circle cx="872.9" cy="1045.5" r="2.3"/><circle cx="909.5" cy="1024.5" r="2.3"/><circle cx="904" cy="1037.8" r="2.3"/><circle cx="885.6" cy="1015.3" r="2.3"/><circle cx="895.8" cy="1019.4" r="2.3"/><circle cx="867.3" cy="957.9" r="2.3"/><circle cx="874.5" cy="1061.4" r="2.3"/><circle cx="873.2" cy="1072.6" r="2.3"/><circle cx="876.9" cy="1035.7" r="2.3"/><circle cx="867.1" cy="1031.1" r="2.3"/><circle cx="872.4" cy="967.6" r="2.3"/><circle cx="872.8" cy="1066.5" r="2.3"/><circle cx="871.3" cy="1008.6" r="2.3"/><circle cx="868.1" cy="1011.7" r="2.3"/><circle cx="895.3" cy="1022.4" r="2.3"/><circle cx="903.7" cy="1028.6" r="2.3"/><circle cx="879.6" cy="952.3" r="2.3"/><circle cx="876.5" cy="1076.2" r="2.3"/><circle cx="888.6" cy="1064.9" r="2.3"/><circle cx="872.9" cy="1054.2" r="2.3"/><circle cx="867.1" cy="1074.7" r="2.3"/><circle cx="874.5" cy="1049.1" r="2.3"/><circle cx="905.4" cy="1029.6" r="2.3"/><circle cx="878" cy="1012.7" r="2.3"/><circle cx="897.5" cy="1049.6" r="2.3"/><circle cx="892.9" cy="1048" r="2.3"/><circle cx="873.2" cy="937.4" r="2.3"/><circle cx="869.1" cy="1033.2" r="2.3"/><circle cx="904.5" cy="1049.1" r="2.3"/><circle cx="867.9" cy="1075.2" r="2.3"/><circle cx="880" cy="1024" r="2.3"/><circle cx="876.8" cy="1024" r="2.3"/><circle cx="876.2" cy="1052.6" r="2.3"/><circle cx="891.3" cy="1013.7" r="2.3"/><circle cx="878" cy="1083.4" r="2.3"/><circle cx="881.6" cy="1008.1" r="2.3"/><circle cx="867.1" cy="1068" r="2.3"/><circle cx="867.7" cy="932.3" r="2.3"/><circle cx="867" cy="1097.2" r="2.3"/><circle cx="876.5" cy="972.2" r="2.3"/><circle cx="896.8" cy="1008.6" r="2.3"/><circle cx="868.8" cy="1001.9" r="2.3"/><circle cx="895.7" cy="1039.8" r="2.3"/><circle cx="895.3" cy="1016.3" r="2.3"/><circle cx="871.1" cy="1015.8" r="2.3"/><circle cx="910.3" cy="1038.3" r="2.3"/><circle cx="874.5" cy="1020.4" r="2.3"/><circle cx="911" cy="1036.8" r="2.3"/><circle cx="870.8" cy="1049.1" r="2.3"/><circle cx="884.8" cy="1001.4" r="2.3"/><circle cx="887.7" cy="1040.4" r="2.3"/><circle cx="894.4" cy="1048.6" r="2.3"/><circle cx="889.8" cy="1045.5" r="2.3"/><circle cx="873.3" cy="961.5" r="2.3"/><circle cx="872.8" cy="1041.9" r="2.3"/><circle cx="869.1" cy="1031.1" r="2.3"/><circle cx="881.3" cy="1007.1" r="2.3"/><circle cx="880.7" cy="1034.7" r="2.3"/><circle cx="883" cy="1015.3" r="2.3"/><circle cx="876.4" cy="1035.2" r="2.3"/><circle cx="868.7" cy="1070.6" r="2.3"/><circle cx="895.1" cy="1051.6" r="2.3"/><circle cx="874.4" cy="1018.8" r="2.3"/><circle cx="871.3" cy="1081.8" r="2.3"/><circle cx="876" cy="1016.8" r="2.3"/><circle cx="872.3" cy="1033.7" r="2.3"/><circle cx="883.8" cy="1004.5" r="2.3"/><circle cx="912.7" cy="1035.2" r="2.3"/><circle cx="879.7" cy="1030.6" r="2.3"/><circle cx="902.6" cy="1016.8" r="2.3"/><circle cx="905.1" cy="1021.9" r="2.3"/><circle cx="880.4" cy="1027.6" r="2.3"/><circle cx="869.5" cy="1020.4" r="2.3"/><circle cx="870.1" cy="926.6" r="2.3"/><circle cx="871.9" cy="1081.3" r="2.3"/><circle cx="902.3" cy="1021.9" r="2.3"/><circle cx="870.1" cy="963.5" r="2.3"/><circle cx="873.3" cy="980.4" r="2.3"/><circle cx="905.6" cy="1026" r="2.3"/><circle cx="886.6" cy="1013.2" r="2.3"/><circle cx="871.4" cy="1087.5" r="2.3"/><circle cx="880.5" cy="1010.1" r="2.3"/><circle cx="880.4" cy="1083.4" r="2.3"/><circle cx="899.6" cy="1040.9" r="2.3"/><circle cx="882.9" cy="1041.9" r="2.3"/><circle cx="889.1" cy="1024.5" r="2.3"/><circle cx="872.8" cy="960.5" r="2.3"/><circle cx="891.4" cy="1041.4" r="2.3"/><circle cx="890.6" cy="1009.1" r="2.3"/><circle cx="873.8" cy="1088" r="2.3"/><circle cx="872.7" cy="979.9" r="2.3"/><circle cx="871.5" cy="1059.3" r="2.3"/><circle cx="904.5" cy="1028.6" r="2.3"/><circle cx="879.1" cy="1007.6" r="2.3"/><circle cx="873.1" cy="1075.7" r="2.3"/><circle cx="888.2" cy="1024.5" r="2.3"/><circle cx="876.2" cy="1038.3" r="2.3"/><circle cx="874.2" cy="1034.7" r="2.3"/><circle cx="872.8" cy="1020.9" r="2.3"/><circle cx="897.1" cy="1060.3" r="2.3"/><circle cx="872.1" cy="1084.9" r="2.3"/><circle cx="871.7" cy="1031.6" r="2.3"/><circle cx="906.2" cy="1040.9" r="2.3"/><circle cx="877.2" cy="1007.6" r="2.3"/><circle cx="879.4" cy="1038.8" r="2.3"/><circle cx="874.4" cy="997.3" r="2.3"/><circle cx="897.9" cy="1009.1" r="2.3"/><circle cx="892.6" cy="1047" r="2.3"/><circle cx="881.6" cy="1001.4" r="2.3"/><circle cx="869.9" cy="957.9" r="2.3"/><circle cx="883.4" cy="1033.2" r="2.3"/><circle cx="906.1" cy="1046.5" r="2.3"/><circle cx="874.5" cy="1074.2" r="2.3"/><circle cx="868.7" cy="927.7" r="2.3"/><circle cx="900.3" cy="1017.8" r="2.3"/><circle cx="874.9" cy="1051.6" r="2.3"/><circle cx="869.3" cy="1017.3" r="2.3"/><circle cx="904.7" cy="1023.5" r="2.3"/><circle cx="876.2" cy="973.8" r="2.3"/><circle cx="905" cy="1032.2" r="2.3"/><circle cx="875" cy="942.5" r="2.3"/><circle cx="896.8" cy="1049.6" r="2.3"/><circle cx="886.9" cy="1030.1" r="2.3"/><circle cx="894.3" cy="1058.8" r="2.3"/><circle cx="868.2" cy="1018.3" r="2.3"/><circle cx="868.2" cy="1054.7" r="2.3"/><circle cx="900" cy="1028.1" r="2.3"/><circle cx="875" cy="1042.4" r="2.3"/><circle cx="894.8" cy="1038.8" r="2.3"/><circle cx="868.3" cy="1077.2" r="2.3"/><circle cx="902.4" cy="1018.8" r="2.3"/><circle cx="870.2" cy="1026" r="2.3"/><circle cx="879.3" cy="1030.6" r="2.3"/><circle cx="878.9" cy="1028.1" r="2.3"/><circle cx="904.7" cy="1049.6" r="2.3"/><circle cx="886.6" cy="1040.9" r="2.3"/><circle cx="868.4" cy="912.3" r="2.3"/><circle cx="878.2" cy="1042.9" r="2.3"/><circle cx="894.5" cy="1059.3" r="2.3"/><circle cx="874.5" cy="951.2" r="2.3"/><circle cx="871.3" cy="1022.4" r="2.3"/><circle cx="875.1" cy="1073.1" r="2.3"/><circle cx="882.2" cy="1074.2" r="2.3"/><circle cx="897.1" cy="1014.2" r="2.3"/><circle cx="889.4" cy="1039.3" r="2.3"/><circle cx="875.7" cy="1074.7" r="2.3"/><circle cx="868.9" cy="971.7" r="2.3"/><circle cx="890.8" cy="1025.5" r="2.3"/><circle cx="878" cy="1051.6" r="2.3"/><circle cx="889.8" cy="1067" r="2.3"/><circle cx="880.4" cy="988.6" r="2.3"/><circle cx="867" cy="976.8" r="2.3"/><circle cx="874.9" cy="1067" r="2.3"/><circle cx="888.7" cy="1060.8" r="2.3"/><circle cx="881.3" cy="1024" r="2.3"/><circle cx="866.8" cy="914.9" r="2.3"/><circle cx="873.3" cy="1053.7" r="2.3"/><circle cx="872.7" cy="1076.2" r="2.3"/><circle cx="904.5" cy="1017.8" r="2.3"/><circle cx="877.1" cy="1028.1" r="2.3"/><circle cx="893.1" cy="1030.1" r="2.3"/><circle cx="890.1" cy="1056.7" r="2.3"/><circle cx="876.9" cy="986.6" r="2.3"/><circle cx="883" cy="1065.5" r="2.3"/><circle cx="874.9" cy="938.9" r="2.3"/><circle cx="878.2" cy="1041.9" r="2.3"/><circle cx="875.5" cy="1005" r="2.3"/><circle cx="877.3" cy="937.4" r="2.3"/><circle cx="873.2" cy="1025.5" r="2.3"/><circle cx="889.6" cy="1023.5" r="2.3"/><circle cx="867.5" cy="1090" r="2.3"/><circle cx="887.9" cy="1033.2" r="2.3"/><circle cx="890.5" cy="1062.9" r="2.3"/><circle cx="877.4" cy="1020.4" r="2.3"/><circle cx="884.4" cy="1006" r="2.3"/><circle cx="895.5" cy="1040.9" r="2.3"/><circle cx="868.3" cy="1063.4" r="2.3"/><circle cx="886.3" cy="1017.3" r="2.3"/><circle cx="886" cy="1040.9" r="2.3"/><circle cx="872.1" cy="1020.4" r="2.3"/><circle cx="872.7" cy="1020.9" r="2.3"/><circle cx="869.8" cy="957.9" r="2.3"/><circle cx="892.9" cy="1022.9" r="2.3"/><circle cx="870.4" cy="1069" r="2.3"/><circle cx="877.5" cy="958.4" r="2.3"/><circle cx="885.1" cy="994.3" r="2.3"/><circle cx="870.1" cy="961" r="2.3"/><circle cx="873.2" cy="1054.7" r="2.3"/><circle cx="872.8" cy="1042.4" r="2.3"/><circle cx="900" cy="1038.8" r="2.3"/><circle cx="870" cy="1030.6" r="2.3"/><circle cx="873" cy="995.8" r="2.3"/><circle cx="867.8" cy="980.9" r="2.3"/><circle cx="870.5" cy="1089" r="2.3"/><circle cx="904.6" cy="1020.9" r="2.3"/><circle cx="903.1" cy="1028.1" r="2.3"/><circle cx="872.6" cy="1078.3" r="2.3"/><circle cx="877.2" cy="1034.7" r="2.3"/><circle cx="867.7" cy="1076.7" r="2.3"/><circle cx="873.5" cy="1056.7" r="2.3"/><circle cx="867.7" cy="1042.4" r="2.3"/><circle cx="903" cy="1024.5" r="2.3"/><circle cx="877.4" cy="1017.3" r="2.3"/><circle cx="906" cy="1031.6" r="2.3"/><circle cx="891.1" cy="1045.5" r="2.3"/><circle cx="880.6" cy="1039.3" r="2.3"/><circle cx="905.2" cy="1037.8" r="2.3"/><circle cx="869.5" cy="1004.5" r="2.3"/><circle cx="896.4" cy="1016.3" r="2.3"/><circle cx="872.3" cy="1022.9" r="2.3"/><circle cx="871.1" cy="977.4" r="2.3"/><circle cx="896.5" cy="1032.7" r="2.3"/><circle cx="869.2" cy="1051.1" r="2.3"/><circle cx="874.3" cy="944.1" r="2.3"/><circle cx="867.5" cy="1066.5" r="2.3"/><circle cx="868.4" cy="1011.2" r="2.3"/><circle cx="871.2" cy="933.3" r="2.3"/><circle cx="889.2" cy="1012.7" r="2.3"/><circle cx="872.2" cy="951.2" r="2.3"/><circle cx="873.1" cy="982" r="2.3"/><circle cx="887.7" cy="1042.4" r="2.3"/><circle cx="878.2" cy="1048.6" r="2.3"/><circle cx="898.3" cy="1015.3" r="2.3"/><circle cx="883.5" cy="1062.4" r="2.3"/><circle cx="888.6" cy="1016.8" r="2.3"/><circle cx="891" cy="1011.2" r="2.3"/><circle cx="869.6" cy="1032.7" r="2.3"/><circle cx="873.6" cy="1005" r="2.3"/><circle cx="893.1" cy="1064.4" r="2.3"/><circle cx="872.7" cy="985" r="2.3"/><circle cx="883.1" cy="1032.2" r="2.3"/><circle cx="882.2" cy="1006" r="2.3"/><circle cx="876.3" cy="958.9" r="2.3"/><circle cx="894" cy="1051.1" r="2.3"/><circle cx="891.1" cy="1028.1" r="2.3"/><circle cx="868.4" cy="1061.4" r="2.3"/><circle cx="882.5" cy="1058.3" r="2.3"/><circle cx="908.5" cy="1029.1" r="2.3"/><circle cx="873.5" cy="1016.3" r="2.3"/><circle cx="911.3" cy="1038.3" r="2.3"/><circle cx="873.4" cy="1061.9" r="2.3"/><circle cx="908.1" cy="1038.3" r="2.3"/><circle cx="901.2" cy="1046.5" r="2.3"/><circle cx="868.3" cy="1018.3" r="2.3"/><circle cx="888.4" cy="1064.9" r="2.3"/><circle cx="877.1" cy="1027" r="2.3"/><circle cx="895.8" cy="1034.7" r="2.3"/><circle cx="900.6" cy="1054.2" r="2.3"/><circle cx="873.3" cy="1031.1" r="2.3"/><circle cx="869.5" cy="1051.1" r="2.3"/><circle cx="887.3" cy="1039.3" r="2.3"/><circle cx="902.4" cy="1032.7" r="2.3"/><circle cx="871.1" cy="1041.9" r="2.3"/><circle cx="913.8" cy="1030.1" r="2.3"/><circle cx="885.2" cy="1060.8" r="2.3"/><circle cx="912.2" cy="1031.6" r="2.3"/><circle cx="899.5" cy="1059.3" r="2.3"/><circle cx="867.3" cy="1042.4" r="2.3"/><circle cx="882.5" cy="1020.4" r="2.3"/><circle cx="879.3" cy="983" r="2.3"/><circle cx="892.8" cy="1004" r="2.3"/><circle cx="882.1" cy="1034.7" r="2.3"/><circle cx="905.7" cy="1038.3" r="2.3"/><circle cx="878.3" cy="1068.5" r="2.3"/><circle cx="897.3" cy="1039.3" r="2.3"/><circle cx="870.8" cy="941" r="2.3"/><circle cx="879.8" cy="1024" r="2.3"/><circle cx="877.1" cy="1010.1" r="2.3"/><circle cx="902.7" cy="1032.2" r="2.3"/><circle cx="879.6" cy="1055.2" r="2.3"/><circle cx="886.3" cy="1000.4" r="2.3"/><circle cx="877" cy="946.1" r="2.3"/><circle cx="895.7" cy="1033.7" r="2.3"/><circle cx="884.4" cy="1026" r="2.3"/><circle cx="901.9" cy="1018.8" r="2.3"/></g>
<g fill="#265d9c" fill-opacity="0.85"><circle cx="864.2" cy="827" r="2.3"/><circle cx="864.2" cy="829.6" r="2.3"/><circle cx="864.2" cy="1140.3" r="2.3"/></g>
<g fill="#5eb867" fill-opacity="0.85"><circle cx="866.6" cy="833.4" r="2.3"/><circle cx="866.6" cy="838.5" r="2.3"/><circle cx="866.6" cy="855" r="2.3"/><circle cx="866.6" cy="880.5" r="2.3"/><circle cx="866.6" cy="1117.3" r="2.3"/><circle cx="866.6" cy="1147.9" r="2.3"/></g>
<line x1="161.2" y1="1020.6" x2="942" y2="1020.6" stroke="#000" stroke-width="3.8" stroke-dasharray="18.5 18.5"/>
<rect x="237" y="1014.7" width="24.7" height="6.6" fill="#fff" stroke="none" stroke-width="0" />
<text x="252.5" y="1005.2" font-size="18.4" text-anchor="middle" fill="#000" >102</text>
<rect x="362.7" y="1022.4" width="24.7" height="6.6" fill="#fff" stroke="none" stroke-width="0" />
<text x="375.7" y="1013.8" font-size="18.4" text-anchor="middle" fill="#000" >96</text>
<rect x="488.4" y="1023.6" width="24.7" height="6.6" fill="#fff" stroke="none" stroke-width="0" />
<text x="501.4" y="1014.7" font-size="18.4" text-anchor="middle" fill="#000" >95</text>
<rect x="615.2" y="1010.9" width="24.7" height="6.6" fill="#fff" stroke="none" stroke-width="0" />
<text x="630.6" y="1001.9" font-size="18.4" text-anchor="middle" fill="#000" >105</text>
<rect x="740.4" y="1019.8" width="24.7" height="6.6" fill="#fff" stroke="none" stroke-width="0" />
<text x="753.8" y="1011.4" font-size="18.4" text-anchor="middle" fill="#000" >98</text>
<rect x="865.4" y="1026.3" width="25.8" height="6.4" fill="#000" stroke="none" stroke-width="0" />
<text x="879.4" y="1018.5" font-size="18.4" text-anchor="middle" fill="#000" >93</text>
<line x1="161.2" y1="746.2" x2="161.2" y2="1167.8" stroke="#000" stroke-width="2.2" />
<line x1="160.2" y1="1166.8" x2="942" y2="1166.8" stroke="#000" stroke-width="2.2" />
<line x1="151" y1="1147.9" x2="161.2" y2="1147.9" stroke="#000" stroke-width="1.5" />
<text x="139.3" y="1155.2" font-size="20" text-anchor="end" fill="#000" >0</text>
<line x1="151" y1="1020.6" x2="161.2" y2="1020.6" stroke="#000" stroke-width="1.5" />
<text x="139.3" y="1027.9" font-size="20" text-anchor="end" fill="#000" >100</text>
<line x1="151" y1="893.2" x2="161.2" y2="893.2" stroke="#000" stroke-width="1.5" />
<text x="139.3" y="900.5" font-size="20" text-anchor="end" fill="#000" >200</text>
<line x1="151" y1="765.9" x2="161.2" y2="765.9" stroke="#000" stroke-width="1.5" />
<text x="139.3" y="773.2" font-size="20" text-anchor="end" fill="#000" >300</text>
<text x="0" y="0" font-size="20.5" text-anchor="middle" fill="#000" transform="translate(78.8,958) rotate(-90)">Poly(A) length</text>
<text x="236" y="738" font-size="20" text-anchor="middle" fill="#000" >0 h</text>
<text x="365" y="738" font-size="20" text-anchor="middle" fill="#000" >12 h</text>
<text x="488.3" y="738" font-size="20" text-anchor="middle" fill="#000" >24 h</text>
<text x="612.4" y="738" font-size="20" text-anchor="middle" fill="#000" >48 h</text>
<text x="741.4" y="738" font-size="20" text-anchor="middle" fill="#000" >72 h</text>
<text x="869.6" y="738" font-size="20" text-anchor="middle" fill="#000" >96 h</text>
<text x="371.7" y="763" font-size="18.5" text-anchor="middle"><tspan font-style="italic">P</tspan> =</text>
<text x="371.5" y="784" font-size="18.5" text-anchor="middle">9.65 &#215; 10<tspan dy="-7" font-size="13">&#8722;65</tspan></text>
<text x="497.7" y="763" font-size="18.5" text-anchor="middle"><tspan font-style="italic">P</tspan> =</text>
<text x="498.5" y="784" font-size="18.5" text-anchor="middle">1.35 &#215; 10<tspan dy="-7" font-size="13">&#8722;49</tspan></text>
<text x="614.7" y="763" font-size="18.5" text-anchor="middle"><tspan font-style="italic">P</tspan> =</text>
<text x="616" y="784" font-size="18.5" text-anchor="middle">1.34 &#215; 10<tspan dy="-7" font-size="13">&#8722;14</tspan></text>
<text x="740.7" y="763" font-size="18.5" text-anchor="middle"><tspan font-style="italic">P</tspan> =</text>
<text x="741.3" y="784" font-size="18.5" text-anchor="middle">1.3 &#215; 10<tspan dy="-7" font-size="13">&#8722;13</tspan></text>
<text x="864.8" y="763" font-size="18.5" text-anchor="middle"><tspan font-style="italic">P</tspan> =</text>
<text x="866.9" y="784" font-size="18.5" text-anchor="middle">9.84 &#215; 10<tspan dy="-7" font-size="13">&#8722;13</tspan></text>
<rect x="237.7" y="867.4" width="75.6" height="17.6" fill="#fff" stroke="#2f51a0" stroke-width="1.3" rx="4"/>
<text x="277.4" y="882.4" font-size="17.2" text-anchor="middle" fill="#2f51a0"  textLength="63.6" lengthAdjust="spacingAndGlyphs">26.27%</text>
<rect x="363.3" y="867.4" width="75.5" height="17.6" fill="#fff" stroke="#2f51a0" stroke-width="1.3" rx="4"/>
<text x="403.1" y="882.4" font-size="17.2" text-anchor="middle" fill="#2f51a0"  textLength="63.6" lengthAdjust="spacingAndGlyphs">22.64%</text>
<rect x="489" y="867.4" width="75.7" height="17.6" fill="#fff" stroke="#2f51a0" stroke-width="1.3" rx="4"/>
<text x="528.9" y="882.4" font-size="17.2" text-anchor="middle" fill="#2f51a0"  textLength="63.6" lengthAdjust="spacingAndGlyphs">25.60%</text>
<rect x="614.4" y="867.4" width="76.9" height="17.6" fill="#fff" stroke="#2f51a0" stroke-width="1.3" rx="4"/>
<text x="654.9" y="882.4" font-size="17.2" text-anchor="middle" fill="#2f51a0"  textLength="63.6" lengthAdjust="spacingAndGlyphs">39.39%</text>
<rect x="741" y="867.4" width="76" height="17.6" fill="#fff" stroke="#2f51a0" stroke-width="1.3" rx="4"/>
<text x="781" y="882.4" font-size="17.2" text-anchor="middle" fill="#2f51a0"  textLength="63.6" lengthAdjust="spacingAndGlyphs">33.90%</text>
<rect x="866.6" y="867.4" width="71.3" height="17.6" fill="#fff" stroke="#2f51a0" stroke-width="1.3" rx="4"/>
<text x="904.3" y="882.4" font-size="17.2" text-anchor="middle" fill="#2f51a0"  textLength="63.6" lengthAdjust="spacingAndGlyphs">28.43%</text>
<rect x="229.7" y="1097.4" width="75.5" height="17.7" fill="#fff" stroke="#e0262a" stroke-width="1.3" rx="4"/>
<text x="269.4" y="1112.3" font-size="17.2" text-anchor="middle" fill="#e0262a"  textLength="63.6" lengthAdjust="spacingAndGlyphs">20.86%</text>
<rect x="355.3" y="1097.4" width="75.5" height="17.7" fill="#fff" stroke="#e0262a" stroke-width="1.3" rx="4"/>
<text x="395.1" y="1112.3" font-size="17.2" text-anchor="middle" fill="#e0262a"  textLength="63.6" lengthAdjust="spacingAndGlyphs">31.56%</text>
<rect x="492.3" y="1097.4" width="77.2" height="17.7" fill="#fff" stroke="#e0262a" stroke-width="1.3" rx="4"/>
<text x="533" y="1112.3" font-size="17.2" text-anchor="middle" fill="#e0262a"  textLength="63.6" lengthAdjust="spacingAndGlyphs">35.26%</text>
<rect x="615.9" y="1097.4" width="76.5" height="17.7" fill="#fff" stroke="#e0262a" stroke-width="1.3" rx="4"/>
<text x="656.1" y="1112.3" font-size="17.2" text-anchor="middle" fill="#e0262a"  textLength="63.6" lengthAdjust="spacingAndGlyphs">27.22%</text>
<rect x="742.4" y="1097.4" width="75.9" height="17.7" fill="#fff" stroke="#e0262a" stroke-width="1.3" rx="4"/>
<text x="782.4" y="1112.3" font-size="17.2" text-anchor="middle" fill="#e0262a"  textLength="63.6" lengthAdjust="spacingAndGlyphs">35.21%</text>
<rect x="867.1" y="1097.4" width="70.8" height="17.7" fill="#fff" stroke="#e0262a" stroke-width="1.3" rx="4"/>
<text x="904.5" y="1112.3" font-size="17.2" text-anchor="middle" fill="#e0262a"  textLength="63.6" lengthAdjust="spacingAndGlyphs">39.65%</text>
<text font-size="20.8" text-anchor="middle" transform="translate(966,934) rotate(-90)">Re-adenylation</text>
<text font-size="20.8" text-anchor="middle" transform="translate(966,1105) rotate(-90)">Deadenylation</text>
<line x1="978" y1="850" x2="978" y2="1002" stroke="#2d4d9c" stroke-width="2.8" />
<path d="M978,841 L971.8,855.2 L978,852.3 L984.2,855.2 Z" fill="#2d4d9c"/>
<line x1="978" y1="1035" x2="978" y2="1168" stroke="#e0262a" stroke-width="2.8" />
<path d="M978,1177 L971.8,1162.8 L978,1165.7 L984.2,1162.8 Z" fill="#e0262a"/>
<circle cx="555.6" cy="696.8" r="8.5" fill="#265d9c"/>
<text x="579.2" y="704" font-size="20.2" text-anchor="start" fill="#000"  textLength="200.5" lengthAdjust="spacingAndGlyphs">Poly(A) + m&#936;Cm&#936;AG</text>
<circle cx="824.8" cy="696.8" r="8.5" fill="#5eb867"/>
<text x="847.2" y="704" font-size="19.6" text-anchor="start" fill="#000"  textLength="64" lengthAdjust="spacingAndGlyphs">Poly(A)</text>
<text x="0" y="727" font-size="33" font-weight="bold">c</text>
<line x1="166.9" y1="1175" x2="166.9" y2="1208" stroke="#c4c4c4" stroke-width="2.2" />
<line x1="267" y1="1175" x2="267" y2="1208" stroke="#c4c4c4" stroke-width="2.2" />
<line x1="398.3" y1="1175" x2="398.3" y2="1208" stroke="#c4c4c4" stroke-width="2.2" />
<line x1="559.5" y1="1175" x2="559.5" y2="1208" stroke="#c4c4c4" stroke-width="2.2" />
<line x1="660.3" y1="1175" x2="660.3" y2="1208" stroke="#c4c4c4" stroke-width="2.2" />
<line x1="790.7" y1="1175" x2="790.7" y2="1208" stroke="#c4c4c4" stroke-width="2.2" />
<line x1="921" y1="1175" x2="921" y2="1208" stroke="#c4c4c4" stroke-width="2.2" />
<text x="182.5" y="1185.9" font-size="16.8" fill="#000" text-anchor="start"><tspan font-style="italic">n</tspan> = 48,409</text>
<text x="182.5" y="1204.9" font-size="16.8" fill="#000" text-anchor="start"><tspan font-style="italic">n</tspan> = 9,857</text>
<rect x="297.8" y="1177.3" width="15.2" height="11.9" fill="#265d9c" stroke="#000" stroke-width="2" />
<rect x="297.8" y="1191.6" width="38.8" height="11.8" fill="#5eb867" stroke="#000" stroke-width="2" />
<line x1="297.8" y1="1176" x2="297.8" y2="1208" stroke="#000" stroke-width="1.8" />
<text x="341.4" y="1185.9" font-size="16.8" fill="#000" text-anchor="start"><tspan font-style="italic">n</tspan> = 1,402</text>
<text x="341.4" y="1204.9" font-size="16.8" fill="#000" text-anchor="start"><tspan font-style="italic">n</tspan> = 3,724</text>
<rect x="428.2" y="1177.3" width="14.2" height="11.9" fill="#265d9c" stroke="#000" stroke-width="2" />
<rect x="428.2" y="1191.6" width="34.1" height="11.8" fill="#5eb867" stroke="#000" stroke-width="2" />
<line x1="428.2" y1="1176" x2="428.2" y2="1208" stroke="#000" stroke-width="1.8" />
<text x="463.7" y="1185.9" font-size="16.8" fill="#000" text-anchor="start"><tspan font-style="italic">n</tspan> = 1,019</text>
<text x="463.7" y="1204.9" font-size="16.8" fill="#000" text-anchor="start"><tspan font-style="italic">n</tspan> = 2,686</text>
<rect x="560.2" y="1177.3" width="6.2" height="11.9" fill="#265d9c" stroke="#000" stroke-width="2" />
<rect x="560.2" y="1191.6" width="32.3" height="11.8" fill="#5eb867" stroke="#000" stroke-width="2" />
<line x1="560.2" y1="1176" x2="560.2" y2="1208" stroke="#000" stroke-width="1.8" />
<text x="594.8" y="1185.9" font-size="16.8" fill="#000" text-anchor="start"><tspan font-style="italic">n</tspan> = 580</text>
<text x="594.8" y="1204.9" font-size="16.8" fill="#000" text-anchor="start"><tspan font-style="italic">n</tspan> = 3,297</text>
<rect x="690.6" y="1177.3" width="5.2" height="11.9" fill="#265d9c" stroke="#000" stroke-width="2" />
<rect x="690.6" y="1191.6" width="13.3" height="11.8" fill="#5eb867" stroke="#000" stroke-width="2" />
<line x1="690.6" y1="1176" x2="690.6" y2="1208" stroke="#000" stroke-width="1.8" />
<text x="707.2" y="1185.9" font-size="16.8" fill="#000" text-anchor="start"><tspan font-style="italic">n</tspan> = 446</text>
<text x="707.2" y="1204.9" font-size="16.8" fill="#000" text-anchor="start"><tspan font-style="italic">n</tspan> = 1,423</text>
<rect x="821.5" y="1177.3" width="19.9" height="11.9" fill="#265d9c" stroke="#000" stroke-width="2" />
<rect x="821.5" y="1191.6" width="16.5" height="11.8" fill="#5eb867" stroke="#000" stroke-width="2" />
<line x1="821.5" y1="1176" x2="821.5" y2="1208" stroke="#000" stroke-width="1.8" />
<text x="845.2" y="1185.9" font-size="16.8" fill="#000" text-anchor="start"><tspan font-style="italic">n</tspan> = 741</text>
<text x="845.2" y="1204.9" font-size="16.8" fill="#000" text-anchor="start"><tspan font-style="italic">n</tspan> = 598</text>
<text x="297.8" y="1231.9" font-size="19" text-anchor="middle" fill="#000"  textLength="30.6" lengthAdjust="spacingAndGlyphs">0%</text>
<text x="392" y="1231.9" font-size="19" text-anchor="middle" fill="#000"  textLength="47.3" lengthAdjust="spacingAndGlyphs">0.7%</text>
<text x="441.8" y="1231.9" font-size="19" text-anchor="middle" fill="#000"  textLength="30.6" lengthAdjust="spacingAndGlyphs">0%</text>
<text x="525" y="1231.9" font-size="19" text-anchor="middle" fill="#000"  textLength="47.3" lengthAdjust="spacingAndGlyphs">0.7%</text>
<text x="574.7" y="1231.9" font-size="19" text-anchor="middle" fill="#000"  textLength="30.6" lengthAdjust="spacingAndGlyphs">0%</text>
<text x="654" y="1231.9" font-size="19" text-anchor="middle" fill="#000"  textLength="47.3" lengthAdjust="spacingAndGlyphs">0.7%</text>
<text x="702.7" y="1231.9" font-size="19" text-anchor="middle" fill="#000"  textLength="30.6" lengthAdjust="spacingAndGlyphs">0%</text>
<text x="784.5" y="1231.9" font-size="19" text-anchor="middle" fill="#000"  textLength="47.3" lengthAdjust="spacingAndGlyphs">0.7%</text>
<text x="836.4" y="1231.9" font-size="19" text-anchor="middle" fill="#000"  textLength="30.6" lengthAdjust="spacingAndGlyphs">0%</text>
<text x="921" y="1231.9" font-size="19" text-anchor="middle" fill="#000"  textLength="47.3" lengthAdjust="spacingAndGlyphs">0.7%</text>
<text x="551.5" y="1269.8" font-size="20.8" text-anchor="middle" fill="#000"  textLength="537" lengthAdjust="spacingAndGlyphs">Abundance of mRNA-1273 reads (relative to endogenous)</text>
<rect x="1130.7" y="791.6" width="673.3" height="205.4" fill="#e9ecf5" stroke="none" stroke-width="0" />
<rect x="1130.7" y="1040.2" width="673.3" height="116.6" fill="#fce8e8" stroke="none" stroke-width="0" />
<path d="M1212.3,1140.2 L1209.1,1140.2 L1209.1,1138.1 L1209,1136 L1209,1133.9 L1209,1131.8 L1208.9,1129.7 L1208.9,1127.6 L1208.9,1125.5 L1208.8,1123.4 L1208.8,1121.3 L1208.8,1119.2 L1208.7,1117.1 L1208.7,1115 L1208.7,1112.9 L1208.7,1110.8 L1208.6,1108.7 L1208.6,1106.6 L1208.5,1104.5 L1208.5,1102.4 L1208.5,1100.3 L1208.4,1098.2 L1208.4,1096.1 L1208.4,1094 L1208.3,1091.9 L1208.3,1089.8 L1208.3,1087.7 L1208.2,1085.6 L1208.2,1083.5 L1208.1,1081.4 L1208.1,1079.3 L1208.1,1077.2 L1208,1075.1 L1208,1073 L1208,1070.9 L1207.9,1068.8 L1207.7,1066.8 L1207.3,1064.7 L1206.7,1062.6 L1206.2,1060.5 L1205.6,1058.4 L1204.6,1056.3 L1202.9,1054.2 L1200.6,1052.1 L1198.2,1050 L1195.3,1047.9 L1191.9,1045.8 L1187.9,1043.7 L1183.8,1041.6 L1179.7,1039.5 L1175.7,1037.4 L1171.9,1035.3 L1168.1,1033.2 L1164.8,1031.1 L1162.3,1029 L1160.7,1026.9 L1159.6,1024.8 L1158.7,1022.7 L1158.4,1020.6 L1158.6,1018.5 L1159.5,1016.4 L1161.1,1014.3 L1163.2,1012.2 L1165.5,1010.1 L1167.9,1008 L1170.2,1005.9 L1172.3,1003.8 L1174.2,1001.7 L1176,999.6 L1177.8,997.5 L1179.6,995.4 L1181.6,993.3 L1184,991.2 L1186.6,989.1 L1189.3,987 L1192,984.9 L1194.5,982.8 L1196.5,980.7 L1198.1,978.6 L1199.2,976.5 L1200.4,974.4 L1201.6,972.3 L1202.5,970.2 L1203.2,968.1 L1203.7,966 L1204.1,963.9 L1204.4,961.8 L1204.8,959.7 L1205.2,957.6 L1205.6,955.5 L1206,953.4 L1206.3,951.3 L1206.6,949.2 L1206.7,947.1 L1206.8,945 L1206.9,942.9 L1207,940.8 L1207.1,938.7 L1207.2,936.6 L1207.3,934.5 L1207.4,932.4 L1207.5,930.3 L1207.6,928.2 L1207.7,926.1 L1207.8,924 L1207.9,922 L1208,919.9 L1208.1,917.8 L1208.2,915.7 L1208.3,913.6 L1208.4,911.5 L1208.5,909.4 L1208.6,907.3 L1208.6,905.2 L1208.6,903.1 L1208.6,901 L1208.6,898.9 L1208.6,896.8 L1208.7,894.7 L1208.7,892.6 L1208.7,890.5 L1208.7,888.4 L1208.7,886.3 L1208.7,884.2 L1208.7,882.1 L1208.7,880 L1208.7,877.9 L1208.8,875.8 L1208.8,873.7 L1208.8,871.6 L1208.8,869.5 L1208.8,867.4 L1208.8,865.3 L1208.8,863.2 L1208.8,861.1 L1208.8,859 L1208.8,856.9 L1208.9,854.8 L1208.9,852.7 L1208.9,850.6 L1208.9,848.5 L1208.9,846.4 L1208.9,844.3 L1208.9,842.2 L1208.9,840.1 L1208.9,838 L1209,835.9 L1209,833.8 L1209,831.7 L1209,829.6 L1209,827.5 L1209,825.4 L1209,823.3 L1209,821.2 L1209,819.1 L1209,817 L1209.1,814.9 L1209.1,812.8 L1209.1,810.7 L1209.1,808.6 L1209.1,806.5 L1212.3,806.5 Z" fill="#afc3de" />
<path d="M1210.9,1140.2 L1214.1,1140.2 L1214.1,1138.1 L1214.2,1136 L1214.2,1133.9 L1214.2,1131.8 L1214.3,1129.7 L1214.3,1127.6 L1214.3,1125.5 L1214.4,1123.4 L1214.4,1121.3 L1214.4,1119.2 L1214.5,1117.1 L1214.5,1115 L1214.5,1112.9 L1214.5,1110.8 L1214.6,1108.7 L1214.6,1106.6 L1214.7,1104.5 L1214.7,1102.4 L1214.7,1100.3 L1214.8,1098.2 L1214.8,1096.1 L1214.8,1094 L1214.9,1091.9 L1214.9,1089.8 L1214.9,1087.7 L1215,1085.6 L1215,1083.5 L1215.1,1081.4 L1215.1,1079.3 L1215.1,1077.2 L1215.2,1075.1 L1215.2,1073 L1215.2,1070.9 L1215.3,1068.8 L1215.5,1066.8 L1215.9,1064.7 L1216.5,1062.6 L1217,1060.5 L1217.6,1058.4 L1218.6,1056.3 L1220.3,1054.2 L1222.6,1052.1 L1225,1050 L1227.9,1047.9 L1231.3,1045.8 L1235.3,1043.7 L1239.4,1041.6 L1243.5,1039.5 L1247.5,1037.4 L1251.3,1035.3 L1255.1,1033.2 L1258.4,1031.1 L1260.9,1029 L1262.5,1026.9 L1263.6,1024.8 L1264.5,1022.7 L1264.8,1020.6 L1264.6,1018.5 L1263.7,1016.4 L1262.1,1014.3 L1260,1012.2 L1257.7,1010.1 L1255.3,1008 L1253,1005.9 L1250.9,1003.8 L1249,1001.7 L1247.2,999.6 L1245.4,997.5 L1243.6,995.4 L1241.6,993.3 L1239.2,991.2 L1236.6,989.1 L1233.9,987 L1231.2,984.9 L1228.7,982.8 L1226.7,980.7 L1225.1,978.6 L1224,976.5 L1222.8,974.4 L1221.6,972.3 L1220.7,970.2 L1220,968.1 L1219.5,966 L1219.1,963.9 L1218.8,961.8 L1218.4,959.7 L1218,957.6 L1217.6,955.5 L1217.2,953.4 L1216.9,951.3 L1216.6,949.2 L1216.5,947.1 L1216.4,945 L1216.3,942.9 L1216.2,940.8 L1216.1,938.7 L1216,936.6 L1215.9,934.5 L1215.8,932.4 L1215.7,930.3 L1215.6,928.2 L1215.5,926.1 L1215.4,924 L1215.3,922 L1215.2,919.9 L1215.1,917.8 L1215,915.7 L1214.9,913.6 L1214.8,911.5 L1214.7,909.4 L1214.6,907.3 L1214.6,905.2 L1214.6,903.1 L1214.6,901 L1214.6,898.9 L1214.6,896.8 L1214.5,894.7 L1214.5,892.6 L1214.5,890.5 L1214.5,888.4 L1214.5,886.3 L1214.5,884.2 L1214.5,882.1 L1214.5,880 L1214.5,877.9 L1214.4,875.8 L1214.4,873.7 L1214.4,871.6 L1214.4,869.5 L1214.4,867.4 L1214.4,865.3 L1214.4,863.2 L1214.4,861.1 L1214.4,859 L1214.4,856.9 L1214.3,854.8 L1214.3,852.7 L1214.3,850.6 L1214.3,848.5 L1214.3,846.4 L1214.3,844.3 L1214.3,842.2 L1214.3,840.1 L1214.3,838 L1214.2,835.9 L1214.2,833.8 L1214.2,831.7 L1214.2,829.6 L1214.2,827.5 L1214.2,825.4 L1214.2,823.3 L1214.2,821.2 L1214.2,819.1 L1214.2,817 L1214.1,814.9 L1214.1,812.8 L1214.1,810.7 L1214.1,808.6 L1214.1,806.5 L1210.9,806.5 Z" fill="#afc3de" />
<path d="M1341.6,1140.2 L1338.9,1140.2 L1338.9,1138.1 L1338.9,1136 L1338.8,1133.9 L1338.8,1131.8 L1338.8,1129.7 L1338.8,1127.6 L1338.8,1125.5 L1338.8,1123.4 L1338.7,1121.3 L1338.7,1119.2 L1338.7,1117.2 L1338.7,1115.1 L1338.7,1113 L1338.7,1110.9 L1338.6,1108.8 L1338.6,1106.7 L1338.6,1104.6 L1338.6,1102.5 L1338.6,1100.4 L1338.6,1098.3 L1338.5,1096.2 L1338.5,1094.1 L1338.5,1092 L1338.5,1089.9 L1338.5,1087.8 L1338.5,1085.7 L1338.4,1083.6 L1338.4,1081.5 L1338.3,1079.4 L1338.2,1077.3 L1337.9,1075.3 L1337.6,1073.2 L1337.4,1071.1 L1337.1,1069 L1336.9,1066.9 L1336.6,1064.8 L1336.4,1062.7 L1336.2,1060.6 L1335.8,1058.5 L1335.3,1056.4 L1334.4,1054.3 L1333.3,1052.2 L1331.9,1050.1 L1330.3,1048 L1328,1045.9 L1324.9,1043.8 L1320.9,1041.7 L1316.5,1039.6 L1312,1037.5 L1307.5,1035.4 L1303.1,1033.4 L1298.7,1031.3 L1295.3,1029.2 L1292.8,1027.1 L1291.3,1025 L1290.1,1022.9 L1289.4,1020.8 L1289,1018.7 L1288.8,1016.6 L1288.7,1014.5 L1288.9,1012.4 L1289.1,1010.3 L1290.1,1008.2 L1291.8,1006.1 L1294.3,1004 L1297,1001.9 L1300.3,999.8 L1304.2,997.7 L1308.6,995.6 L1312.4,993.5 L1315.5,991.4 L1317.9,989.4 L1319.9,987.3 L1322,985.2 L1324.1,983.1 L1326.2,981 L1327.7,978.9 L1328.6,976.8 L1328.9,974.7 L1329.2,972.6 L1329.6,970.5 L1329.9,968.4 L1330.2,966.3 L1330.5,964.2 L1330.8,962.1 L1331.1,960 L1331.5,957.9 L1331.8,955.8 L1332.1,953.7 L1332.4,951.6 L1332.7,949.5 L1333,947.5 L1333.4,945.4 L1333.7,943.3 L1334,941.2 L1334.4,939.1 L1334.7,937 L1335.1,934.9 L1335.4,932.8 L1335.8,930.7 L1336,928.6 L1336.3,926.5 L1336.6,924.4 L1336.8,922.3 L1337,920.2 L1337.2,918.1 L1337.2,916 L1337.3,913.9 L1337.4,911.8 L1337.5,909.7 L1337.5,907.6 L1337.6,905.6 L1337.7,903.5 L1337.7,901.4 L1337.8,899.3 L1337.9,897.2 L1337.9,895.1 L1337.9,893 L1338,890.9 L1338,888.8 L1338,886.7 L1338,884.6 L1338.1,882.5 L1338.1,880.4 L1338.1,878.3 L1338.1,876.2 L1338.2,874.1 L1338.2,872 L1338.2,869.9 L1338.2,867.8 L1338.2,865.7 L1338.3,863.7 L1338.3,861.6 L1338.3,859.5 L1338.3,857.4 L1338.4,855.3 L1338.4,853.2 L1338.4,851.1 L1338.4,849 L1338.5,846.9 L1338.5,844.8 L1338.5,842.7 L1338.5,840.6 L1338.5,838.5 L1338.6,836.4 L1338.6,834.3 L1338.6,832.2 L1338.6,830.1 L1338.7,828 L1338.7,825.9 L1338.7,823.8 L1338.7,821.7 L1338.8,819.7 L1338.8,817.6 L1338.8,815.5 L1338.8,813.4 L1338.9,811.3 L1338.9,809.2 L1338.9,807.1 L1341.6,807.1 Z" fill="#b6c8e1" />
<path d="M1340.2,1140.2 L1342.9,1140.2 L1342.9,1138.1 L1342.9,1136 L1343,1133.9 L1343,1131.8 L1343,1129.7 L1343,1127.6 L1343,1125.5 L1343,1123.4 L1343.1,1121.3 L1343.1,1119.2 L1343.1,1117.2 L1343.1,1115.1 L1343.1,1113 L1343.1,1110.9 L1343.2,1108.8 L1343.2,1106.7 L1343.2,1104.6 L1343.2,1102.5 L1343.2,1100.4 L1343.2,1098.3 L1343.3,1096.2 L1343.3,1094.1 L1343.3,1092 L1343.3,1089.9 L1343.3,1087.8 L1343.3,1085.7 L1343.4,1083.6 L1343.4,1081.5 L1343.5,1079.4 L1343.6,1077.3 L1343.9,1075.3 L1344.2,1073.2 L1344.4,1071.1 L1344.7,1069 L1344.9,1066.9 L1345.2,1064.8 L1345.4,1062.7 L1345.6,1060.6 L1346,1058.5 L1346.5,1056.4 L1347.4,1054.3 L1348.5,1052.2 L1349.9,1050.1 L1351.5,1048 L1353.8,1045.9 L1356.9,1043.8 L1360.9,1041.7 L1365.3,1039.6 L1369.8,1037.5 L1374.3,1035.4 L1378.7,1033.4 L1383.1,1031.3 L1386.5,1029.2 L1389,1027.1 L1390.5,1025 L1391.7,1022.9 L1392.4,1020.8 L1392.8,1018.7 L1393,1016.6 L1393.1,1014.5 L1392.9,1012.4 L1392.7,1010.3 L1391.7,1008.2 L1390,1006.1 L1387.5,1004 L1384.8,1001.9 L1381.5,999.8 L1377.6,997.7 L1373.2,995.6 L1369.4,993.5 L1366.3,991.4 L1363.9,989.4 L1361.9,987.3 L1359.8,985.2 L1357.7,983.1 L1355.6,981 L1354.1,978.9 L1353.2,976.8 L1352.9,974.7 L1352.6,972.6 L1352.2,970.5 L1351.9,968.4 L1351.6,966.3 L1351.3,964.2 L1351,962.1 L1350.7,960 L1350.3,957.9 L1350,955.8 L1349.7,953.7 L1349.4,951.6 L1349.1,949.5 L1348.8,947.5 L1348.4,945.4 L1348.1,943.3 L1347.8,941.2 L1347.4,939.1 L1347.1,937 L1346.7,934.9 L1346.4,932.8 L1346,930.7 L1345.8,928.6 L1345.5,926.5 L1345.2,924.4 L1345,922.3 L1344.8,920.2 L1344.6,918.1 L1344.6,916 L1344.5,913.9 L1344.4,911.8 L1344.3,909.7 L1344.3,907.6 L1344.2,905.6 L1344.1,903.5 L1344.1,901.4 L1344,899.3 L1343.9,897.2 L1343.9,895.1 L1343.9,893 L1343.8,890.9 L1343.8,888.8 L1343.8,886.7 L1343.8,884.6 L1343.7,882.5 L1343.7,880.4 L1343.7,878.3 L1343.7,876.2 L1343.6,874.1 L1343.6,872 L1343.6,869.9 L1343.6,867.8 L1343.6,865.7 L1343.5,863.7 L1343.5,861.6 L1343.5,859.5 L1343.5,857.4 L1343.4,855.3 L1343.4,853.2 L1343.4,851.1 L1343.4,849 L1343.3,846.9 L1343.3,844.8 L1343.3,842.7 L1343.3,840.6 L1343.3,838.5 L1343.2,836.4 L1343.2,834.3 L1343.2,832.2 L1343.2,830.1 L1343.1,828 L1343.1,825.9 L1343.1,823.8 L1343.1,821.7 L1343,819.7 L1343,817.6 L1343,815.5 L1343,813.4 L1342.9,811.3 L1342.9,809.2 L1342.9,807.1 L1340.2,807.1 Z" fill="#b6c8e1" />
<g fill="#a8bdda" fill-opacity="0.8"><circle cx="1328.1" cy="1019.1" r="2.3"/><circle cx="1300.7" cy="1030" r="2.3"/><circle cx="1305.4" cy="1010" r="2.3"/><circle cx="1320.5" cy="1011.6" r="2.3"/><circle cx="1315.1" cy="1002.4" r="2.3"/><circle cx="1314.9" cy="999.1" r="2.3"/><circle cx="1328.4" cy="993.3" r="2.3"/><circle cx="1333.4" cy="1030.8" r="2.3"/><circle cx="1332.4" cy="1002.4" r="2.3"/><circle cx="1310" cy="1006.6" r="2.3"/><circle cx="1321.5" cy="1039.2" r="2.3"/><circle cx="1328.5" cy="1044.2" r="2.3"/><circle cx="1334.1" cy="993.3" r="2.3"/><circle cx="1308.5" cy="1002.4" r="2.3"/><circle cx="1314.5" cy="1032.5" r="2.3"/><circle cx="1305.5" cy="1032.5" r="2.3"/><circle cx="1295" cy="1004.9" r="2.3"/><circle cx="1332.8" cy="1040" r="2.3"/><circle cx="1309.7" cy="1008.3" r="2.3"/><circle cx="1300.6" cy="1029.2" r="2.3"/><circle cx="1332.3" cy="992.4" r="2.3"/><circle cx="1312.3" cy="1030.8" r="2.3"/><circle cx="1306.6" cy="1018.3" r="2.3"/><circle cx="1319.8" cy="1014.1" r="2.3"/><circle cx="1338.7" cy="1050.9" r="2.3"/><circle cx="1303.1" cy="1015.8" r="2.3"/><circle cx="1302.5" cy="1017.5" r="2.3"/><circle cx="1295.8" cy="1011.6" r="2.3"/><circle cx="1324.2" cy="1006.6" r="2.3"/><circle cx="1337" cy="1031.7" r="2.3"/><circle cx="1325.6" cy="1042.5" r="2.3"/><circle cx="1324.8" cy="988.3" r="2.3"/><circle cx="1317.2" cy="1034.2" r="2.3"/><circle cx="1306.4" cy="1032.5" r="2.3"/><circle cx="1303.9" cy="1006.6" r="2.3"/><circle cx="1319" cy="1008.3" r="2.3"/><circle cx="1316.5" cy="992.4" r="2.3"/><circle cx="1319.1" cy="1025.8" r="2.3"/><circle cx="1310.7" cy="1002.4" r="2.3"/><circle cx="1317.1" cy="1017.5" r="2.3"/><circle cx="1338.3" cy="939.8" r="2.3"/><circle cx="1308.3" cy="1027.5" r="2.3"/><circle cx="1296.5" cy="1024.2" r="2.3"/><circle cx="1294.1" cy="1021.6" r="2.3"/><circle cx="1295.7" cy="1019.1" r="2.3"/><circle cx="1310.1" cy="1000.8" r="2.3"/><circle cx="1332.1" cy="1027.5" r="2.3"/><circle cx="1337.5" cy="1045" r="2.3"/><circle cx="1336.5" cy="1005.8" r="2.3"/><circle cx="1313" cy="1025.8" r="2.3"/><circle cx="1326.1" cy="1030.8" r="2.3"/><circle cx="1308.4" cy="1026.7" r="2.3"/><circle cx="1304.1" cy="1033.3" r="2.3"/><circle cx="1304.3" cy="1009.1" r="2.3"/><circle cx="1314.8" cy="1011.6" r="2.3"/><circle cx="1336.3" cy="935.7" r="2.3"/><circle cx="1338.6" cy="995.8" r="2.3"/><circle cx="1293.1" cy="1009.1" r="2.3"/><circle cx="1314.7" cy="1007.5" r="2.3"/><circle cx="1331.1" cy="1006.6" r="2.3"/><circle cx="1306.3" cy="1002.4" r="2.3"/><circle cx="1325.9" cy="1037.5" r="2.3"/><circle cx="1322.2" cy="1009.1" r="2.3"/><circle cx="1297.6" cy="1004.9" r="2.3"/><circle cx="1335.8" cy="980.7" r="2.3"/><circle cx="1304.7" cy="1030.8" r="2.3"/><circle cx="1298.8" cy="1008.3" r="2.3"/><circle cx="1333.8" cy="989.1" r="2.3"/><circle cx="1324.5" cy="1010" r="2.3"/><circle cx="1316.2" cy="997.4" r="2.3"/><circle cx="1316.2" cy="1025.8" r="2.3"/><circle cx="1328" cy="1009.1" r="2.3"/><circle cx="1318.7" cy="1029.2" r="2.3"/><circle cx="1326.3" cy="1037.5" r="2.3"/><circle cx="1333" cy="963.2" r="2.3"/><circle cx="1322" cy="1040" r="2.3"/><circle cx="1308.8" cy="1003.3" r="2.3"/><circle cx="1332.9" cy="1047.5" r="2.3"/><circle cx="1303.5" cy="1028.3" r="2.3"/><circle cx="1321.5" cy="1021.6" r="2.3"/><circle cx="1301.5" cy="1029.2" r="2.3"/><circle cx="1299.3" cy="1026.7" r="2.3"/><circle cx="1332.1" cy="1013.3" r="2.3"/><circle cx="1314.3" cy="1006.6" r="2.3"/><circle cx="1332.4" cy="1047.5" r="2.3"/><circle cx="1338.4" cy="1024.2" r="2.3"/><circle cx="1311.3" cy="999.9" r="2.3"/><circle cx="1330.3" cy="1019.1" r="2.3"/><circle cx="1310.3" cy="1012.5" r="2.3"/><circle cx="1317.3" cy="1004.9" r="2.3"/><circle cx="1303.8" cy="1010.8" r="2.3"/><circle cx="1331.4" cy="1028.3" r="2.3"/><circle cx="1301.9" cy="1014.1" r="2.3"/><circle cx="1310.7" cy="997.4" r="2.3"/><circle cx="1303.9" cy="1016.6" r="2.3"/><circle cx="1326.4" cy="1034.2" r="2.3"/><circle cx="1318.8" cy="1038.3" r="2.3"/><circle cx="1339.2" cy="808.8" r="2.3"/><circle cx="1324.6" cy="1000.8" r="2.3"/><circle cx="1336.5" cy="998.3" r="2.3"/><circle cx="1322.2" cy="1020" r="2.3"/><circle cx="1335.8" cy="989.9" r="2.3"/><circle cx="1335.7" cy="1030" r="2.3"/><circle cx="1331.6" cy="993.3" r="2.3"/><circle cx="1335.5" cy="981.6" r="2.3"/><circle cx="1334.3" cy="994.1" r="2.3"/><circle cx="1326.9" cy="981.6" r="2.3"/><circle cx="1326.5" cy="987.4" r="2.3"/><circle cx="1326.1" cy="983.2" r="2.3"/><circle cx="1338.1" cy="944" r="2.3"/></g>
<g fill="#a8bdda" fill-opacity="0.8"><circle cx="1365.7" cy="1025.8" r="2.3"/><circle cx="1377.2" cy="1030" r="2.3"/><circle cx="1367.7" cy="1026.7" r="2.3"/><circle cx="1345.9" cy="970.7" r="2.3"/><circle cx="1345.4" cy="939.8" r="2.3"/><circle cx="1373.5" cy="1011.6" r="2.3"/><circle cx="1360.1" cy="1010" r="2.3"/><circle cx="1342.5" cy="832.1" r="2.3"/><circle cx="1343" cy="900.6" r="2.3"/><circle cx="1344.7" cy="1046.7" r="2.3"/><circle cx="1383" cy="1015" r="2.3"/><circle cx="1369.3" cy="1029.2" r="2.3"/><circle cx="1381.1" cy="1020" r="2.3"/><circle cx="1349.2" cy="970.7" r="2.3"/><circle cx="1376.4" cy="1028.3" r="2.3"/><circle cx="1384.1" cy="1016.6" r="2.3"/><circle cx="1387.6" cy="1015" r="2.3"/><circle cx="1342.8" cy="890.6" r="2.3"/><circle cx="1365.7" cy="994.9" r="2.3"/><circle cx="1350.9" cy="1009.1" r="2.3"/><circle cx="1342.6" cy="890.6" r="2.3"/><circle cx="1343.5" cy="1057.5" r="2.3"/><circle cx="1352.3" cy="1017.5" r="2.3"/><circle cx="1342.9" cy="948.2" r="2.3"/><circle cx="1349.4" cy="981.6" r="2.3"/><circle cx="1358" cy="1029.2" r="2.3"/><circle cx="1348.2" cy="1015.8" r="2.3"/><circle cx="1367.6" cy="999.9" r="2.3"/><circle cx="1343.1" cy="906.4" r="2.3"/><circle cx="1377.6" cy="998.3" r="2.3"/><circle cx="1347.9" cy="968.2" r="2.3"/><circle cx="1368.3" cy="1011.6" r="2.3"/><circle cx="1371.9" cy="996.6" r="2.3"/><circle cx="1366.2" cy="994.9" r="2.3"/><circle cx="1346.2" cy="1046.7" r="2.3"/><circle cx="1360" cy="1035.8" r="2.3"/><circle cx="1370" cy="1010" r="2.3"/><circle cx="1347.3" cy="990.8" r="2.3"/><circle cx="1367.1" cy="1002.4" r="2.3"/><circle cx="1386.8" cy="1027.5" r="2.3"/><circle cx="1352.2" cy="1040" r="2.3"/><circle cx="1371.8" cy="1011.6" r="2.3"/><circle cx="1342.9" cy="908.1" r="2.3"/><circle cx="1347.3" cy="985.7" r="2.3"/><circle cx="1349.6" cy="1014.1" r="2.3"/><circle cx="1362.7" cy="1007.5" r="2.3"/><circle cx="1346.5" cy="999.1" r="2.3"/><circle cx="1390.2" cy="1015" r="2.3"/><circle cx="1343.2" cy="1069.2" r="2.3"/><circle cx="1375.3" cy="1004.9" r="2.3"/><circle cx="1367.1" cy="1010.8" r="2.3"/><circle cx="1343.9" cy="949" r="2.3"/><circle cx="1372" cy="1004.1" r="2.3"/><circle cx="1362.5" cy="1002.4" r="2.3"/><circle cx="1345" cy="1055.9" r="2.3"/><circle cx="1379.8" cy="1024.2" r="2.3"/><circle cx="1342.7" cy="886.4" r="2.3"/><circle cx="1384.8" cy="1018.3" r="2.3"/><circle cx="1358.1" cy="1019.1" r="2.3"/><circle cx="1374.7" cy="1010.8" r="2.3"/><circle cx="1367.4" cy="1004.9" r="2.3"/><circle cx="1379.2" cy="1017.5" r="2.3"/><circle cx="1372.1" cy="1021.6" r="2.3"/><circle cx="1342.3" cy="1100.1" r="2.3"/><circle cx="1346.9" cy="989.9" r="2.3"/><circle cx="1344.9" cy="1017.5" r="2.3"/><circle cx="1355" cy="999.9" r="2.3"/><circle cx="1347.6" cy="1040.8" r="2.3"/><circle cx="1348.9" cy="969" r="2.3"/><circle cx="1342.8" cy="1116.8" r="2.3"/><circle cx="1355.2" cy="1037.5" r="2.3"/><circle cx="1381.2" cy="1012.5" r="2.3"/><circle cx="1374.5" cy="1031.7" r="2.3"/><circle cx="1377.7" cy="1024.2" r="2.3"/><circle cx="1347.6" cy="970.7" r="2.3"/><circle cx="1342.6" cy="1126" r="2.3"/><circle cx="1378.7" cy="1016.6" r="2.3"/><circle cx="1346.3" cy="999.1" r="2.3"/><circle cx="1374.2" cy="1010.8" r="2.3"/><circle cx="1347.9" cy="970.7" r="2.3"/><circle cx="1380" cy="1008.3" r="2.3"/><circle cx="1378.8" cy="1030" r="2.3"/><circle cx="1373.7" cy="1010" r="2.3"/><circle cx="1363.6" cy="1030.8" r="2.3"/><circle cx="1352.5" cy="1017.5" r="2.3"/><circle cx="1348.9" cy="962.4" r="2.3"/><circle cx="1346" cy="1015.8" r="2.3"/><circle cx="1342.4" cy="900.6" r="2.3"/><circle cx="1370.5" cy="1013.3" r="2.3"/><circle cx="1357.3" cy="991.6" r="2.3"/><circle cx="1367.6" cy="1009.1" r="2.3"/><circle cx="1343.5" cy="919.8" r="2.3"/><circle cx="1381.5" cy="1020" r="2.3"/><circle cx="1345.8" cy="958.2" r="2.3"/><circle cx="1344.3" cy="1035.8" r="2.3"/><circle cx="1343.2" cy="940.7" r="2.3"/><circle cx="1348.8" cy="997.4" r="2.3"/><circle cx="1349.7" cy="1026.7" r="2.3"/><circle cx="1345.2" cy="996.6" r="2.3"/><circle cx="1382.7" cy="1015" r="2.3"/><circle cx="1342.7" cy="1012.5" r="2.3"/><circle cx="1344.9" cy="1056.7" r="2.3"/><circle cx="1346.3" cy="1023.3" r="2.3"/><circle cx="1381.3" cy="1012.5" r="2.3"/><circle cx="1348.8" cy="1022.5" r="2.3"/><circle cx="1363.1" cy="1029.2" r="2.3"/><circle cx="1345.4" cy="999.1" r="2.3"/><circle cx="1369.7" cy="1000.8" r="2.3"/><circle cx="1361.2" cy="1010.8" r="2.3"/><circle cx="1348" cy="1045" r="2.3"/></g>
<path d="M1471.6,1140.2 L1468.9,1140.2 L1468.9,1138.1 L1468.9,1136 L1468.9,1134 L1468.8,1131.9 L1468.8,1129.8 L1468.8,1127.7 L1468.8,1125.6 L1468.8,1123.6 L1468.8,1121.5 L1468.7,1119.4 L1468.7,1117.3 L1468.7,1115.2 L1468.7,1113.1 L1468.7,1111.1 L1468.7,1109 L1468.6,1106.9 L1468.6,1104.8 L1468.6,1102.7 L1468.6,1100.7 L1468.6,1098.6 L1468.6,1096.5 L1468.6,1094.4 L1468.5,1092.3 L1468.5,1090.3 L1468.5,1088.2 L1468.5,1086.1 L1468.5,1084 L1468.5,1081.9 L1468.4,1079.8 L1468.4,1077.8 L1468.4,1075.7 L1468.3,1073.6 L1468.2,1071.5 L1468.1,1069.4 L1467.9,1067.4 L1467.7,1065.3 L1467.4,1063.2 L1467,1061.1 L1466.6,1059 L1465.9,1057 L1464.9,1054.9 L1463.8,1052.8 L1462.5,1050.7 L1460.8,1048.6 L1458.7,1046.5 L1456.4,1044.5 L1453.4,1042.4 L1449.7,1040.3 L1444.8,1038.2 L1439,1036.1 L1432.9,1034.1 L1427.7,1032 L1423.6,1029.9 L1421.3,1027.8 L1420.1,1025.7 L1420.1,1023.7 L1420.3,1021.6 L1421,1019.5 L1422.1,1017.4 L1423.5,1015.3 L1425.1,1013.2 L1426.9,1011.2 L1428.9,1009.1 L1431,1007 L1433.2,1004.9 L1435.6,1002.8 L1437.9,1000.8 L1440.4,998.7 L1442.8,996.6 L1445.3,994.5 L1447.7,992.4 L1450.1,990.4 L1452.3,988.3 L1454.3,986.2 L1456.2,984.1 L1457.7,982 L1458.6,980 L1459.3,977.9 L1460,975.8 L1460.7,973.7 L1461.4,971.6 L1462.1,969.5 L1462.6,967.5 L1463.1,965.4 L1463.5,963.3 L1463.9,961.2 L1464.3,959.1 L1464.5,957.1 L1464.6,955 L1464.6,952.9 L1464.6,950.8 L1464.6,948.7 L1464.6,946.7 L1464.6,944.6 L1464.6,942.5 L1464.6,940.4 L1464.6,938.3 L1464.6,936.2 L1464.6,934.2 L1464.7,932.1 L1464.7,930 L1464.9,927.9 L1465,925.8 L1465.1,923.8 L1465.2,921.7 L1465.4,919.6 L1465.5,917.5 L1465.7,915.4 L1465.9,913.4 L1466.1,911.3 L1466.3,909.2 L1466.5,907.1 L1466.6,905 L1466.8,902.9 L1466.9,900.9 L1467,898.8 L1467,896.7 L1467,894.6 L1467.1,892.5 L1467.1,890.5 L1467.1,888.4 L1467.2,886.3 L1467.2,884.2 L1467.2,882.1 L1467.3,880.1 L1467.3,878 L1467.3,875.9 L1467.4,873.8 L1467.4,871.7 L1467.4,869.7 L1467.5,867.6 L1467.5,865.5 L1467.5,863.4 L1467.6,861.3 L1467.6,859.2 L1467.6,857.2 L1467.7,855.1 L1467.7,853 L1467.7,850.9 L1467.8,848.8 L1467.8,846.8 L1467.8,844.7 L1467.9,842.6 L1467.9,840.5 L1467.9,838.4 L1468,836.4 L1468,834.3 L1468,832.2 L1468.1,830.1 L1468.1,828 L1468.1,825.9 L1468.2,823.9 L1468.2,821.8 L1468.2,819.7 L1468.3,817.6 L1468.3,815.5 L1468.3,813.5 L1468.4,811.4 L1468.4,809.3 L1471.6,809.3 Z" fill="#b6c8e1" />
<path d="M1470.2,1140.2 L1472.9,1140.2 L1472.9,1138.1 L1472.9,1136 L1472.9,1134 L1473,1131.9 L1473,1129.8 L1473,1127.7 L1473,1125.6 L1473,1123.6 L1473,1121.5 L1473.1,1119.4 L1473.1,1117.3 L1473.1,1115.2 L1473.1,1113.1 L1473.1,1111.1 L1473.1,1109 L1473.2,1106.9 L1473.2,1104.8 L1473.2,1102.7 L1473.2,1100.7 L1473.2,1098.6 L1473.2,1096.5 L1473.2,1094.4 L1473.3,1092.3 L1473.3,1090.3 L1473.3,1088.2 L1473.3,1086.1 L1473.3,1084 L1473.3,1081.9 L1473.4,1079.8 L1473.4,1077.8 L1473.4,1075.7 L1473.5,1073.6 L1473.6,1071.5 L1473.7,1069.4 L1473.9,1067.4 L1474.1,1065.3 L1474.4,1063.2 L1474.8,1061.1 L1475.2,1059 L1475.9,1057 L1476.9,1054.9 L1478,1052.8 L1479.3,1050.7 L1481,1048.6 L1483.1,1046.5 L1485.4,1044.5 L1488.4,1042.4 L1492.1,1040.3 L1497,1038.2 L1502.8,1036.1 L1508.9,1034.1 L1514.1,1032 L1518.2,1029.9 L1520.5,1027.8 L1521.7,1025.7 L1521.7,1023.7 L1521.5,1021.6 L1520.8,1019.5 L1519.7,1017.4 L1518.3,1015.3 L1516.7,1013.2 L1514.9,1011.2 L1512.9,1009.1 L1510.8,1007 L1508.6,1004.9 L1506.2,1002.8 L1503.9,1000.8 L1501.4,998.7 L1499,996.6 L1496.5,994.5 L1494.1,992.4 L1491.7,990.4 L1489.5,988.3 L1487.5,986.2 L1485.6,984.1 L1484.1,982 L1483.2,980 L1482.5,977.9 L1481.8,975.8 L1481.1,973.7 L1480.4,971.6 L1479.7,969.5 L1479.2,967.5 L1478.7,965.4 L1478.3,963.3 L1477.9,961.2 L1477.5,959.1 L1477.3,957.1 L1477.2,955 L1477.2,952.9 L1477.2,950.8 L1477.2,948.7 L1477.2,946.7 L1477.2,944.6 L1477.2,942.5 L1477.2,940.4 L1477.2,938.3 L1477.2,936.2 L1477.2,934.2 L1477.1,932.1 L1477.1,930 L1476.9,927.9 L1476.8,925.8 L1476.7,923.8 L1476.6,921.7 L1476.4,919.6 L1476.3,917.5 L1476.1,915.4 L1475.9,913.4 L1475.7,911.3 L1475.5,909.2 L1475.3,907.1 L1475.2,905 L1475,902.9 L1474.9,900.9 L1474.8,898.8 L1474.8,896.7 L1474.8,894.6 L1474.7,892.5 L1474.7,890.5 L1474.7,888.4 L1474.6,886.3 L1474.6,884.2 L1474.6,882.1 L1474.5,880.1 L1474.5,878 L1474.5,875.9 L1474.4,873.8 L1474.4,871.7 L1474.4,869.7 L1474.3,867.6 L1474.3,865.5 L1474.3,863.4 L1474.2,861.3 L1474.2,859.2 L1474.2,857.2 L1474.1,855.1 L1474.1,853 L1474.1,850.9 L1474,848.8 L1474,846.8 L1474,844.7 L1473.9,842.6 L1473.9,840.5 L1473.9,838.4 L1473.8,836.4 L1473.8,834.3 L1473.8,832.2 L1473.7,830.1 L1473.7,828 L1473.7,825.9 L1473.6,823.9 L1473.6,821.8 L1473.6,819.7 L1473.5,817.6 L1473.5,815.5 L1473.5,813.5 L1473.4,811.4 L1473.4,809.3 L1470.2,809.3 Z" fill="#b6c8e1" />
<g fill="#a8bdda" fill-opacity="0.8"><circle cx="1468.5" cy="1010" r="2.3"/><circle cx="1458.7" cy="1026.6" r="2.3"/><circle cx="1446.8" cy="1003.4" r="2.3"/><circle cx="1468.6" cy="982.6" r="2.3"/><circle cx="1468.1" cy="1019.9" r="2.3"/><circle cx="1445.5" cy="1028.2" r="2.3"/><circle cx="1467.9" cy="1048.1" r="2.3"/><circle cx="1447.9" cy="1009.2" r="2.3"/><circle cx="1441.5" cy="1028.2" r="2.3"/><circle cx="1469.4" cy="996.7" r="2.3"/><circle cx="1450.7" cy="997.6" r="2.3"/><circle cx="1462" cy="1023.3" r="2.3"/><circle cx="1468.3" cy="927.9" r="2.3"/><circle cx="1466.5" cy="1035.7" r="2.3"/><circle cx="1456.8" cy="992.6" r="2.3"/><circle cx="1449.9" cy="997.6" r="2.3"/><circle cx="1425.9" cy="1015" r="2.3"/><circle cx="1442.7" cy="1021.6" r="2.3"/><circle cx="1454.7" cy="995.1" r="2.3"/><circle cx="1459" cy="990.1" r="2.3"/><circle cx="1467.9" cy="1005.8" r="2.3"/><circle cx="1455.7" cy="1028.2" r="2.3"/><circle cx="1462.9" cy="1036.5" r="2.3"/><circle cx="1460.2" cy="1034.9" r="2.3"/><circle cx="1454.7" cy="1010" r="2.3"/><circle cx="1459.4" cy="1022.4" r="2.3"/><circle cx="1424.1" cy="1026.6" r="2.3"/><circle cx="1445.3" cy="1009.2" r="2.3"/><circle cx="1437.8" cy="1030.7" r="2.3"/><circle cx="1453.5" cy="1031.6" r="2.3"/><circle cx="1468.9" cy="853.3" r="2.3"/><circle cx="1439.2" cy="1014.1" r="2.3"/><circle cx="1452.4" cy="993.4" r="2.3"/><circle cx="1468" cy="1028.2" r="2.3"/><circle cx="1456.5" cy="1024.9" r="2.3"/><circle cx="1425.7" cy="1029.1" r="2.3"/><circle cx="1464.9" cy="986.8" r="2.3"/><circle cx="1454.1" cy="1008.3" r="2.3"/><circle cx="1466" cy="972.7" r="2.3"/><circle cx="1457.6" cy="1026.6" r="2.3"/><circle cx="1458" cy="1013.3" r="2.3"/><circle cx="1430.9" cy="1012.5" r="2.3"/><circle cx="1458.9" cy="1020.8" r="2.3"/><circle cx="1469.3" cy="820.9" r="2.3"/><circle cx="1468.1" cy="1035.7" r="2.3"/><circle cx="1446.8" cy="1034" r="2.3"/><circle cx="1457.3" cy="999.2" r="2.3"/><circle cx="1461.3" cy="1039" r="2.3"/><circle cx="1469.3" cy="827.5" r="2.3"/><circle cx="1467.8" cy="905.5" r="2.3"/><circle cx="1469.2" cy="1070.5" r="2.3"/><circle cx="1449.1" cy="1007.5" r="2.3"/><circle cx="1438.4" cy="1026.6" r="2.3"/><circle cx="1453.8" cy="1034" r="2.3"/><circle cx="1424.6" cy="1018.3" r="2.3"/><circle cx="1465.4" cy="987.6" r="2.3"/><circle cx="1461.3" cy="1016.6" r="2.3"/><circle cx="1462.7" cy="973.5" r="2.3"/><circle cx="1438.5" cy="1024.9" r="2.3"/><circle cx="1463.1" cy="1011.7" r="2.3"/><circle cx="1452.4" cy="1001.7" r="2.3"/><circle cx="1453.7" cy="1000" r="2.3"/><circle cx="1469.4" cy="1136.1" r="2.3"/><circle cx="1464.9" cy="1052.3" r="2.3"/><circle cx="1457.2" cy="986.8" r="2.3"/><circle cx="1466.7" cy="1024.9" r="2.3"/><circle cx="1455.5" cy="986.8" r="2.3"/><circle cx="1455.8" cy="1036.5" r="2.3"/><circle cx="1451.7" cy="1038.2" r="2.3"/><circle cx="1465.6" cy="1000.9" r="2.3"/><circle cx="1443.9" cy="1017.5" r="2.3"/><circle cx="1427.2" cy="1026.6" r="2.3"/><circle cx="1459.3" cy="1019.9" r="2.3"/><circle cx="1436.8" cy="1015" r="2.3"/><circle cx="1455" cy="1029.1" r="2.3"/><circle cx="1469.2" cy="831.7" r="2.3"/><circle cx="1444.9" cy="1019.1" r="2.3"/><circle cx="1460.8" cy="1033.2" r="2.3"/><circle cx="1441" cy="1023.3" r="2.3"/><circle cx="1459" cy="1028.2" r="2.3"/><circle cx="1453.3" cy="1037.4" r="2.3"/><circle cx="1426.4" cy="1028.2" r="2.3"/><circle cx="1468.2" cy="990.1" r="2.3"/><circle cx="1437.2" cy="1027.4" r="2.3"/><circle cx="1463.4" cy="1029.1" r="2.3"/><circle cx="1467.2" cy="953.6" r="2.3"/><circle cx="1433" cy="1017.5" r="2.3"/><circle cx="1464.4" cy="997.6" r="2.3"/><circle cx="1455" cy="1034.9" r="2.3"/><circle cx="1447.1" cy="1019.9" r="2.3"/><circle cx="1446.2" cy="1004.2" r="2.3"/><circle cx="1469.4" cy="870.7" r="2.3"/><circle cx="1453.1" cy="1020.8" r="2.3"/><circle cx="1465" cy="990.1" r="2.3"/><circle cx="1449.3" cy="1029.9" r="2.3"/><circle cx="1456.1" cy="1019.9" r="2.3"/><circle cx="1424.9" cy="1027.4" r="2.3"/><circle cx="1428.5" cy="1019.1" r="2.3"/><circle cx="1467.3" cy="1014.1" r="2.3"/><circle cx="1469.1" cy="812.6" r="2.3"/><circle cx="1467.3" cy="909.6" r="2.3"/><circle cx="1466" cy="992.6" r="2.3"/><circle cx="1459.6" cy="1017.5" r="2.3"/><circle cx="1466.7" cy="1020.8" r="2.3"/><circle cx="1421.7" cy="1021.6" r="2.3"/><circle cx="1431.5" cy="1026.6" r="2.3"/><circle cx="1449.6" cy="1018.3" r="2.3"/><circle cx="1465.8" cy="927.9" r="2.3"/><circle cx="1437.7" cy="1014.1" r="2.3"/><circle cx="1457" cy="1031.6" r="2.3"/></g>
<g fill="#a8bdda" fill-opacity="0.8"><circle cx="1472.4" cy="887.3" r="2.3"/><circle cx="1489" cy="1004.2" r="2.3"/><circle cx="1473.9" cy="946.1" r="2.3"/><circle cx="1473.3" cy="969.4" r="2.3"/><circle cx="1472.5" cy="833.3" r="2.3"/><circle cx="1487.9" cy="1029.9" r="2.3"/><circle cx="1473.7" cy="1010" r="2.3"/><circle cx="1472.8" cy="1021.6" r="2.3"/><circle cx="1476.3" cy="1038.2" r="2.3"/><circle cx="1485.3" cy="1028.2" r="2.3"/><circle cx="1484.7" cy="1000" r="2.3"/><circle cx="1489.4" cy="990.9" r="2.3"/><circle cx="1482.3" cy="981.8" r="2.3"/><circle cx="1501.6" cy="1013.3" r="2.3"/><circle cx="1479.9" cy="985.9" r="2.3"/><circle cx="1493.4" cy="1032.4" r="2.3"/><circle cx="1480.3" cy="1015" r="2.3"/><circle cx="1478" cy="1035.7" r="2.3"/><circle cx="1501.9" cy="1005.8" r="2.3"/><circle cx="1488.9" cy="1008.3" r="2.3"/><circle cx="1472.3" cy="1046.5" r="2.3"/><circle cx="1492.9" cy="1008.3" r="2.3"/><circle cx="1480.4" cy="1018.3" r="2.3"/><circle cx="1479.2" cy="1033.2" r="2.3"/><circle cx="1495.4" cy="1033.2" r="2.3"/><circle cx="1499.2" cy="1024.9" r="2.3"/><circle cx="1498.6" cy="1019.9" r="2.3"/><circle cx="1497.8" cy="1002.5" r="2.3"/><circle cx="1512.7" cy="1031.6" r="2.3"/><circle cx="1488.7" cy="991.7" r="2.3"/><circle cx="1517.1" cy="1018.3" r="2.3"/><circle cx="1478.5" cy="996.7" r="2.3"/><circle cx="1503.9" cy="1006.7" r="2.3"/><circle cx="1501.7" cy="1002.5" r="2.3"/><circle cx="1502.4" cy="1015" r="2.3"/><circle cx="1489.3" cy="1037.4" r="2.3"/><circle cx="1501.7" cy="1032.4" r="2.3"/><circle cx="1475.8" cy="978.5" r="2.3"/><circle cx="1473.3" cy="1038.2" r="2.3"/><circle cx="1479.4" cy="1015.8" r="2.3"/><circle cx="1492.8" cy="1003.4" r="2.3"/><circle cx="1503.1" cy="1016.6" r="2.3"/><circle cx="1491.6" cy="1031.6" r="2.3"/><circle cx="1481.3" cy="1041.5" r="2.3"/><circle cx="1476.6" cy="998.4" r="2.3"/><circle cx="1509.3" cy="1006.7" r="2.3"/><circle cx="1482.4" cy="1024.1" r="2.3"/><circle cx="1512.5" cy="1027.4" r="2.3"/><circle cx="1494.2" cy="1036.5" r="2.3"/><circle cx="1508.9" cy="1026.6" r="2.3"/><circle cx="1482.7" cy="984.3" r="2.3"/><circle cx="1496.9" cy="1029.9" r="2.3"/><circle cx="1514.7" cy="1024.1" r="2.3"/><circle cx="1480.5" cy="1025.8" r="2.3"/><circle cx="1476.5" cy="1020.8" r="2.3"/><circle cx="1505.7" cy="1028.2" r="2.3"/><circle cx="1481.2" cy="1024.1" r="2.3"/><circle cx="1473.3" cy="954.4" r="2.3"/><circle cx="1491.4" cy="998.4" r="2.3"/><circle cx="1501" cy="1014.1" r="2.3"/><circle cx="1508.5" cy="1012.5" r="2.3"/><circle cx="1482.3" cy="1006.7" r="2.3"/><circle cx="1492" cy="1008.3" r="2.3"/><circle cx="1472.9" cy="966.9" r="2.3"/><circle cx="1518.3" cy="1019.1" r="2.3"/><circle cx="1489.3" cy="1038.2" r="2.3"/><circle cx="1478.2" cy="979.3" r="2.3"/><circle cx="1487.6" cy="1039.9" r="2.3"/><circle cx="1497.4" cy="1026.6" r="2.3"/><circle cx="1480.4" cy="996.7" r="2.3"/><circle cx="1477.9" cy="1027.4" r="2.3"/><circle cx="1477.2" cy="1023.3" r="2.3"/><circle cx="1503.2" cy="1006.7" r="2.3"/><circle cx="1482.7" cy="1039.9" r="2.3"/><circle cx="1494.7" cy="999.2" r="2.3"/><circle cx="1498" cy="1026.6" r="2.3"/><circle cx="1491.7" cy="1006.7" r="2.3"/><circle cx="1472.7" cy="813.4" r="2.3"/><circle cx="1472.6" cy="915.5" r="2.3"/><circle cx="1476.7" cy="1049" r="2.3"/><circle cx="1483.7" cy="1012.5" r="2.3"/><circle cx="1510.2" cy="1027.4" r="2.3"/><circle cx="1472.7" cy="998.4" r="2.3"/><circle cx="1500.1" cy="1033.2" r="2.3"/><circle cx="1479.7" cy="1019.9" r="2.3"/><circle cx="1473.6" cy="937" r="2.3"/><circle cx="1482.8" cy="1037.4" r="2.3"/><circle cx="1503.6" cy="1020.8" r="2.3"/><circle cx="1474.8" cy="1000.9" r="2.3"/><circle cx="1514.2" cy="1017.5" r="2.3"/><circle cx="1513.6" cy="1017.5" r="2.3"/><circle cx="1480.1" cy="979.3" r="2.3"/><circle cx="1476.7" cy="1009.2" r="2.3"/><circle cx="1472.7" cy="874" r="2.3"/><circle cx="1496.7" cy="1024.9" r="2.3"/><circle cx="1506.9" cy="1015" r="2.3"/><circle cx="1513.6" cy="1015" r="2.3"/><circle cx="1490.9" cy="999.2" r="2.3"/><circle cx="1503.1" cy="1026.6" r="2.3"/><circle cx="1507.1" cy="1016.6" r="2.3"/><circle cx="1510.7" cy="1026.6" r="2.3"/><circle cx="1478.6" cy="1005" r="2.3"/><circle cx="1474.2" cy="950.3" r="2.3"/><circle cx="1488.3" cy="1019.1" r="2.3"/><circle cx="1511.1" cy="1021.6" r="2.3"/><circle cx="1475" cy="966.9" r="2.3"/><circle cx="1493.3" cy="1015" r="2.3"/><circle cx="1506.6" cy="1033.2" r="2.3"/><circle cx="1473.6" cy="1019.9" r="2.3"/><circle cx="1486.5" cy="1028.2" r="2.3"/></g>
<path d="M1600.9,1140.2 L1598.2,1140.2 L1598.2,1138.3 L1598.2,1136.5 L1598.2,1134.6 L1598.1,1132.7 L1598.1,1130.9 L1598.1,1129 L1598.1,1127.1 L1598.1,1125.3 L1598.1,1123.4 L1598,1121.5 L1598,1119.7 L1598,1117.8 L1598,1116 L1598,1114.1 L1598,1112.2 L1598,1110.4 L1597.9,1108.5 L1597.9,1106.6 L1597.9,1104.8 L1597.9,1102.9 L1597.9,1101 L1597.9,1099.2 L1597.8,1097.3 L1597.8,1095.4 L1597.8,1093.6 L1597.8,1091.7 L1597.8,1089.8 L1597.8,1088 L1597.8,1086.1 L1597.7,1084.2 L1597.7,1082.4 L1597.7,1080.5 L1597.7,1078.6 L1597.6,1076.8 L1597.6,1074.9 L1597.5,1073 L1597.5,1071.2 L1597.4,1069.3 L1597.4,1067.5 L1597.3,1065.6 L1597.3,1063.7 L1597.2,1061.9 L1597.1,1060 L1596.9,1058.1 L1596.7,1056.3 L1596.5,1054.4 L1595.8,1052.5 L1594.7,1050.7 L1592.9,1048.8 L1590.4,1046.9 L1587.3,1045.1 L1583.9,1043.2 L1580.2,1041.3 L1576.3,1039.5 L1572.2,1037.6 L1568.5,1035.7 L1565.2,1033.9 L1562.4,1032 L1559.7,1030.1 L1557.2,1028.3 L1555,1026.4 L1553.2,1024.5 L1551.5,1022.7 L1550.3,1020.8 L1549.7,1019 L1549.9,1017.1 L1551,1015.2 L1553.1,1013.4 L1555.9,1011.5 L1558.7,1009.6 L1561.3,1007.8 L1563.7,1005.9 L1565.9,1004 L1568,1002.2 L1570.4,1000.3 L1573,998.4 L1575.8,996.6 L1578.6,994.7 L1580.7,992.8 L1582.3,991 L1583.3,989.1 L1584.2,987.2 L1585,985.4 L1585.8,983.5 L1586.4,981.6 L1586.9,979.8 L1587.6,977.9 L1588.2,976 L1588.8,974.2 L1589.5,972.3 L1590.1,970.5 L1590.8,968.6 L1591.4,966.7 L1592.1,964.9 L1592.7,963 L1593.4,961.1 L1594,959.3 L1594.4,957.4 L1594.6,955.5 L1594.6,953.7 L1594.6,951.8 L1594.6,949.9 L1594.6,948.1 L1594.6,946.2 L1594.4,944.3 L1594.1,942.5 L1593.8,940.6 L1593.4,938.7 L1593.1,936.9 L1592.9,935 L1593,933.1 L1593.3,931.3 L1593.6,929.4 L1593.9,927.5 L1594.3,925.7 L1594.6,923.8 L1594.9,922 L1595.1,920.1 L1595.3,918.2 L1595.5,916.4 L1595.7,914.5 L1595.8,912.6 L1596,910.8 L1596.1,908.9 L1596.3,907 L1596.5,905.2 L1596.6,903.3 L1596.7,901.4 L1596.7,899.6 L1596.8,897.7 L1596.8,895.8 L1596.8,894 L1596.9,892.1 L1596.9,890.2 L1596.9,888.4 L1597,886.5 L1597,884.6 L1597,882.8 L1597.1,880.9 L1597.1,879 L1597.1,877.2 L1597.2,875.3 L1597.2,873.5 L1597.2,871.6 L1597.3,869.7 L1597.3,867.9 L1597.3,866 L1597.4,864.1 L1597.4,862.3 L1597.4,860.4 L1597.4,858.5 L1597.5,856.7 L1597.5,854.8 L1597.5,852.9 L1597.6,851.1 L1597.6,849.2 L1597.6,847.3 L1597.7,845.5 L1597.7,843.6 L1600.9,843.6 Z" fill="#b6c8e1" />
<path d="M1599.5,1140.2 L1602.2,1140.2 L1602.2,1138.3 L1602.2,1136.5 L1602.2,1134.6 L1602.3,1132.7 L1602.3,1130.9 L1602.3,1129 L1602.3,1127.1 L1602.3,1125.3 L1602.3,1123.4 L1602.4,1121.5 L1602.4,1119.7 L1602.4,1117.8 L1602.4,1116 L1602.4,1114.1 L1602.4,1112.2 L1602.4,1110.4 L1602.5,1108.5 L1602.5,1106.6 L1602.5,1104.8 L1602.5,1102.9 L1602.5,1101 L1602.5,1099.2 L1602.6,1097.3 L1602.6,1095.4 L1602.6,1093.6 L1602.6,1091.7 L1602.6,1089.8 L1602.6,1088 L1602.6,1086.1 L1602.7,1084.2 L1602.7,1082.4 L1602.7,1080.5 L1602.7,1078.6 L1602.8,1076.8 L1602.8,1074.9 L1602.9,1073 L1602.9,1071.2 L1603,1069.3 L1603,1067.5 L1603.1,1065.6 L1603.1,1063.7 L1603.2,1061.9 L1603.3,1060 L1603.5,1058.1 L1603.7,1056.3 L1603.9,1054.4 L1604.6,1052.5 L1605.7,1050.7 L1607.5,1048.8 L1610,1046.9 L1613.1,1045.1 L1616.5,1043.2 L1620.2,1041.3 L1624.1,1039.5 L1628.2,1037.6 L1631.9,1035.7 L1635.2,1033.9 L1638,1032 L1640.7,1030.1 L1643.2,1028.3 L1645.4,1026.4 L1647.2,1024.5 L1648.9,1022.7 L1650.1,1020.8 L1650.7,1019 L1650.5,1017.1 L1649.4,1015.2 L1647.3,1013.4 L1644.5,1011.5 L1641.7,1009.6 L1639.1,1007.8 L1636.7,1005.9 L1634.5,1004 L1632.4,1002.2 L1630,1000.3 L1627.4,998.4 L1624.6,996.6 L1621.8,994.7 L1619.7,992.8 L1618.1,991 L1617.1,989.1 L1616.2,987.2 L1615.4,985.4 L1614.6,983.5 L1614,981.6 L1613.5,979.8 L1612.8,977.9 L1612.2,976 L1611.6,974.2 L1610.9,972.3 L1610.3,970.5 L1609.6,968.6 L1609,966.7 L1608.3,964.9 L1607.7,963 L1607,961.1 L1606.4,959.3 L1606,957.4 L1605.8,955.5 L1605.8,953.7 L1605.8,951.8 L1605.8,949.9 L1605.8,948.1 L1605.8,946.2 L1606,944.3 L1606.3,942.5 L1606.6,940.6 L1607,938.7 L1607.3,936.9 L1607.5,935 L1607.4,933.1 L1607.1,931.3 L1606.8,929.4 L1606.5,927.5 L1606.1,925.7 L1605.8,923.8 L1605.5,922 L1605.3,920.1 L1605.1,918.2 L1604.9,916.4 L1604.7,914.5 L1604.6,912.6 L1604.4,910.8 L1604.3,908.9 L1604.1,907 L1603.9,905.2 L1603.8,903.3 L1603.7,901.4 L1603.7,899.6 L1603.6,897.7 L1603.6,895.8 L1603.6,894 L1603.5,892.1 L1603.5,890.2 L1603.5,888.4 L1603.4,886.5 L1603.4,884.6 L1603.4,882.8 L1603.3,880.9 L1603.3,879 L1603.3,877.2 L1603.2,875.3 L1603.2,873.5 L1603.2,871.6 L1603.1,869.7 L1603.1,867.9 L1603.1,866 L1603,864.1 L1603,862.3 L1603,860.4 L1603,858.5 L1602.9,856.7 L1602.9,854.8 L1602.9,852.9 L1602.8,851.1 L1602.8,849.2 L1602.8,847.3 L1602.7,845.5 L1602.7,843.6 L1599.5,843.6 Z" fill="#b6c8e1" />
<g fill="#a8bdda" fill-opacity="0.8"><circle cx="1587.6" cy="1042.1" r="2.3"/><circle cx="1582.7" cy="1032.4" r="2.3"/><circle cx="1569" cy="1008.6" r="2.3"/><circle cx="1574.8" cy="1018.3" r="2.3"/><circle cx="1597.5" cy="1051" r="2.3"/><circle cx="1558.1" cy="1021.3" r="2.3"/><circle cx="1563.5" cy="1014.6" r="2.3"/><circle cx="1590.3" cy="1019" r="2.3"/><circle cx="1585.4" cy="992.3" r="2.3"/><circle cx="1594.2" cy="1021.3" r="2.3"/><circle cx="1575" cy="1016.1" r="2.3"/><circle cx="1581.1" cy="1001.9" r="2.3"/><circle cx="1571.2" cy="1016.1" r="2.3"/><circle cx="1596.5" cy="1021.3" r="2.3"/><circle cx="1577.7" cy="1039.1" r="2.3"/><circle cx="1593.2" cy="994.5" r="2.3"/><circle cx="1592.5" cy="983.4" r="2.3"/><circle cx="1571.8" cy="1034.6" r="2.3"/><circle cx="1557.4" cy="1013.1" r="2.3"/><circle cx="1595.4" cy="1007.9" r="2.3"/><circle cx="1566.5" cy="1010.9" r="2.3"/><circle cx="1595.1" cy="980.4" r="2.3"/><circle cx="1565.5" cy="1015.3" r="2.3"/><circle cx="1567.4" cy="1030.9" r="2.3"/><circle cx="1597.4" cy="1001.2" r="2.3"/><circle cx="1582.9" cy="1012.3" r="2.3"/><circle cx="1575.1" cy="1029.4" r="2.3"/><circle cx="1596.7" cy="926.9" r="2.3"/><circle cx="1582.6" cy="1033.9" r="2.3"/><circle cx="1571.4" cy="1001.2" r="2.3"/><circle cx="1597.4" cy="1005.7" r="2.3"/><circle cx="1596.2" cy="929.8" r="2.3"/><circle cx="1595.3" cy="1036.9" r="2.3"/><circle cx="1579.6" cy="1036.1" r="2.3"/><circle cx="1569.8" cy="1031.7" r="2.3"/><circle cx="1581.9" cy="1034.6" r="2.3"/><circle cx="1597" cy="1018.3" r="2.3"/><circle cx="1598.4" cy="1124.6" r="2.3"/><circle cx="1598.5" cy="916.5" r="2.3"/><circle cx="1566.1" cy="1004.9" r="2.3"/><circle cx="1589.4" cy="978.9" r="2.3"/><circle cx="1565.6" cy="1022.8" r="2.3"/><circle cx="1553.8" cy="1016.8" r="2.3"/><circle cx="1569.5" cy="1006.4" r="2.3"/><circle cx="1592.7" cy="991.5" r="2.3"/><circle cx="1595.6" cy="1006.4" r="2.3"/><circle cx="1561" cy="1028.7" r="2.3"/><circle cx="1565.7" cy="1019.8" r="2.3"/><circle cx="1587.3" cy="1013.1" r="2.3"/><circle cx="1558.3" cy="1013.1" r="2.3"/><circle cx="1583" cy="1023.5" r="2.3"/><circle cx="1591.8" cy="1029.4" r="2.3"/><circle cx="1583.8" cy="996" r="2.3"/><circle cx="1595.7" cy="931.3" r="2.3"/><circle cx="1597.7" cy="936.5" r="2.3"/><circle cx="1590.3" cy="1029.4" r="2.3"/><circle cx="1551.1" cy="1020.5" r="2.3"/><circle cx="1579.9" cy="1028" r="2.3"/><circle cx="1598.2" cy="1039.1" r="2.3"/><circle cx="1570.2" cy="1014.6" r="2.3"/><circle cx="1555" cy="1016.1" r="2.3"/><circle cx="1584.1" cy="990.8" r="2.3"/><circle cx="1587.1" cy="1013.1" r="2.3"/><circle cx="1573" cy="1033.2" r="2.3"/><circle cx="1598.6" cy="1031.7" r="2.3"/><circle cx="1594.4" cy="1007.1" r="2.3"/><circle cx="1590.6" cy="1010.9" r="2.3"/><circle cx="1598.1" cy="1019" r="2.3"/><circle cx="1583.1" cy="1021.3" r="2.3"/><circle cx="1593" cy="1025.7" r="2.3"/><circle cx="1568" cy="1013.1" r="2.3"/><circle cx="1597" cy="1028.7" r="2.3"/><circle cx="1568.3" cy="1025.7" r="2.3"/><circle cx="1570.6" cy="1025.7" r="2.3"/><circle cx="1580.8" cy="1037.6" r="2.3"/><circle cx="1591" cy="1032.4" r="2.3"/><circle cx="1583.1" cy="1004.9" r="2.3"/><circle cx="1587.4" cy="1010.1" r="2.3"/><circle cx="1587.6" cy="1008.6" r="2.3"/><circle cx="1577.5" cy="1016.8" r="2.3"/><circle cx="1591.5" cy="975.9" r="2.3"/><circle cx="1559.3" cy="1014.6" r="2.3"/><circle cx="1568.3" cy="1011.6" r="2.3"/><circle cx="1571.5" cy="1015.3" r="2.3"/><circle cx="1560.3" cy="1028" r="2.3"/><circle cx="1566.1" cy="1010.1" r="2.3"/><circle cx="1597.8" cy="1011.6" r="2.3"/><circle cx="1571" cy="1034.6" r="2.3"/><circle cx="1566.6" cy="1007.1" r="2.3"/><circle cx="1596.1" cy="982.6" r="2.3"/><circle cx="1598.1" cy="897.1" r="2.3"/><circle cx="1581.7" cy="1004.9" r="2.3"/><circle cx="1578" cy="1026.5" r="2.3"/><circle cx="1584.5" cy="1017.5" r="2.3"/><circle cx="1578.3" cy="1022.8" r="2.3"/><circle cx="1592.7" cy="1025.7" r="2.3"/><circle cx="1589.6" cy="999" r="2.3"/><circle cx="1561.4" cy="1021.3" r="2.3"/><circle cx="1582.9" cy="1007.1" r="2.3"/><circle cx="1563" cy="1024.2" r="2.3"/><circle cx="1579.3" cy="1027.2" r="2.3"/><circle cx="1551.3" cy="1021.3" r="2.3"/><circle cx="1573.8" cy="1027.2" r="2.3"/><circle cx="1596.5" cy="1015.3" r="2.3"/><circle cx="1565" cy="1030.2" r="2.3"/><circle cx="1592.9" cy="1000.5" r="2.3"/><circle cx="1563" cy="1030.2" r="2.3"/><circle cx="1567.8" cy="1012.3" r="2.3"/><circle cx="1596.1" cy="978.2" r="2.3"/><circle cx="1555" cy="1016.1" r="2.3"/></g>
<g fill="#a8bdda" fill-opacity="0.8"><circle cx="1639.1" cy="1011.6" r="2.3"/><circle cx="1635.9" cy="1018.3" r="2.3"/><circle cx="1604.2" cy="962.5" r="2.3"/><circle cx="1625.6" cy="1004.9" r="2.3"/><circle cx="1602.1" cy="990.8" r="2.3"/><circle cx="1638.5" cy="1030.9" r="2.3"/><circle cx="1609.8" cy="1003.4" r="2.3"/><circle cx="1607" cy="1004.2" r="2.3"/><circle cx="1622.3" cy="1022" r="2.3"/><circle cx="1607.4" cy="1027.2" r="2.3"/><circle cx="1632.6" cy="1016.1" r="2.3"/><circle cx="1631.7" cy="1023.5" r="2.3"/><circle cx="1601.7" cy="906" r="2.3"/><circle cx="1605.6" cy="1025" r="2.3"/><circle cx="1616.7" cy="1007.9" r="2.3"/><circle cx="1613.5" cy="1019" r="2.3"/><circle cx="1623.4" cy="1001.2" r="2.3"/><circle cx="1641.4" cy="1018.3" r="2.3"/><circle cx="1616.1" cy="1027.2" r="2.3"/><circle cx="1602.6" cy="938" r="2.3"/><circle cx="1602.7" cy="1032.4" r="2.3"/><circle cx="1632.5" cy="1008.6" r="2.3"/><circle cx="1611.5" cy="1039.8" r="2.3"/><circle cx="1617.4" cy="1020.5" r="2.3"/><circle cx="1617.8" cy="1027.2" r="2.3"/><circle cx="1633.7" cy="1032.4" r="2.3"/><circle cx="1623.2" cy="1028.7" r="2.3"/><circle cx="1627.8" cy="1010.1" r="2.3"/><circle cx="1626.8" cy="1017.5" r="2.3"/><circle cx="1602.4" cy="962.5" r="2.3"/><circle cx="1613.8" cy="1028.7" r="2.3"/><circle cx="1615.2" cy="1004.2" r="2.3"/><circle cx="1605.3" cy="1020.5" r="2.3"/><circle cx="1623.6" cy="1033.2" r="2.3"/><circle cx="1621" cy="1027.2" r="2.3"/><circle cx="1614.7" cy="1027.2" r="2.3"/><circle cx="1637.2" cy="1029.4" r="2.3"/><circle cx="1621.5" cy="1010.9" r="2.3"/><circle cx="1636.9" cy="1027.2" r="2.3"/><circle cx="1607.7" cy="1013.8" r="2.3"/><circle cx="1637.8" cy="1030.2" r="2.3"/><circle cx="1620.3" cy="1023.5" r="2.3"/><circle cx="1628.1" cy="1035.4" r="2.3"/><circle cx="1625.8" cy="1026.5" r="2.3"/><circle cx="1619.8" cy="1005.7" r="2.3"/><circle cx="1614" cy="1021.3" r="2.3"/><circle cx="1610.8" cy="1007.1" r="2.3"/><circle cx="1641.9" cy="1011.6" r="2.3"/><circle cx="1607" cy="971.5" r="2.3"/><circle cx="1608.4" cy="1012.3" r="2.3"/><circle cx="1624" cy="998.2" r="2.3"/><circle cx="1604.5" cy="1022.8" r="2.3"/><circle cx="1622.1" cy="1015.3" r="2.3"/><circle cx="1614.4" cy="993" r="2.3"/><circle cx="1627.3" cy="1019" r="2.3"/><circle cx="1633.4" cy="1016.8" r="2.3"/><circle cx="1627.9" cy="1010.1" r="2.3"/><circle cx="1634.8" cy="1028" r="2.3"/><circle cx="1607" cy="1039.8" r="2.3"/><circle cx="1602.7" cy="1013.8" r="2.3"/><circle cx="1615.5" cy="1012.3" r="2.3"/><circle cx="1605.3" cy="1022.8" r="2.3"/><circle cx="1629.1" cy="1021.3" r="2.3"/><circle cx="1617.6" cy="1040.6" r="2.3"/><circle cx="1602.3" cy="903.8" r="2.3"/><circle cx="1639.8" cy="1014.6" r="2.3"/><circle cx="1627.4" cy="1009.4" r="2.3"/><circle cx="1626.7" cy="1017.5" r="2.3"/><circle cx="1606.5" cy="1022" r="2.3"/><circle cx="1620.7" cy="1001.2" r="2.3"/><circle cx="1602" cy="1114.9" r="2.3"/><circle cx="1602" cy="895.6" r="2.3"/><circle cx="1603.5" cy="972.9" r="2.3"/><circle cx="1634.4" cy="1010.9" r="2.3"/><circle cx="1615.6" cy="1019.8" r="2.3"/><circle cx="1620.6" cy="1032.4" r="2.3"/><circle cx="1623" cy="1024.2" r="2.3"/><circle cx="1611.5" cy="1011.6" r="2.3"/><circle cx="1603.6" cy="1019.8" r="2.3"/><circle cx="1630" cy="1009.4" r="2.3"/><circle cx="1611" cy="1024.2" r="2.3"/><circle cx="1619.7" cy="1010.1" r="2.3"/><circle cx="1619.2" cy="997.5" r="2.3"/><circle cx="1622.2" cy="1018.3" r="2.3"/><circle cx="1628.2" cy="1013.1" r="2.3"/><circle cx="1627.8" cy="1017.5" r="2.3"/><circle cx="1634.6" cy="1021.3" r="2.3"/><circle cx="1607.9" cy="1016.8" r="2.3"/><circle cx="1614.9" cy="1010.9" r="2.3"/><circle cx="1628.7" cy="1022.8" r="2.3"/><circle cx="1607.4" cy="988.6" r="2.3"/><circle cx="1632.4" cy="1020.5" r="2.3"/><circle cx="1614.6" cy="992.3" r="2.3"/><circle cx="1601.6" cy="886.7" r="2.3"/><circle cx="1618.8" cy="1015.3" r="2.3"/><circle cx="1616.4" cy="1021.3" r="2.3"/><circle cx="1634.4" cy="1012.3" r="2.3"/><circle cx="1604.4" cy="1009.4" r="2.3"/><circle cx="1641.4" cy="1017.5" r="2.3"/><circle cx="1615" cy="1020.5" r="2.3"/><circle cx="1630.4" cy="1022" r="2.3"/><circle cx="1609.4" cy="1024.2" r="2.3"/><circle cx="1601.6" cy="1073.3" r="2.3"/><circle cx="1604" cy="1007.9" r="2.3"/><circle cx="1614.4" cy="1022.8" r="2.3"/><circle cx="1622" cy="998.2" r="2.3"/><circle cx="1604" cy="1041.3" r="2.3"/><circle cx="1608.2" cy="1026.5" r="2.3"/><circle cx="1647" cy="1017.5" r="2.3"/><circle cx="1634.4" cy="1020.5" r="2.3"/></g>
<path d="M1730.3,1140.2 L1727.6,1140.2 L1727.6,1138.4 L1727.6,1136.5 L1727.6,1134.7 L1727.5,1132.9 L1727.5,1131 L1727.5,1129.2 L1727.5,1127.4 L1727.5,1125.6 L1727.5,1123.7 L1727.5,1121.9 L1727.4,1120.1 L1727.4,1118.2 L1727.4,1116.4 L1727.4,1114.6 L1727.4,1112.7 L1727.4,1110.9 L1727.4,1109.1 L1727.4,1107.2 L1727.3,1105.4 L1727.3,1103.6 L1727.3,1101.8 L1727.3,1099.9 L1727.3,1098.1 L1727.3,1096.3 L1727.3,1094.4 L1727.2,1092.6 L1727.2,1090.8 L1727.2,1088.9 L1727.2,1087.1 L1727.2,1085.3 L1727.2,1083.5 L1727.2,1081.6 L1727.1,1079.8 L1727.1,1078 L1727.1,1076.1 L1727.1,1074.3 L1727.1,1072.5 L1727,1070.6 L1726.9,1068.8 L1726.9,1067 L1726.8,1065.1 L1726.7,1063.3 L1726.7,1061.5 L1726.5,1059.7 L1726,1057.8 L1725.3,1056 L1724.5,1054.2 L1723.6,1052.3 L1722.7,1050.5 L1721.8,1048.7 L1720.6,1046.8 L1718.6,1045 L1715.6,1043.2 L1712,1041.3 L1707.8,1039.5 L1703,1037.7 L1697.7,1035.9 L1693,1034 L1689,1032.2 L1685.8,1030.4 L1683.1,1028.5 L1681.2,1026.7 L1680.3,1024.9 L1679.7,1023 L1679.2,1021.2 L1679,1019.4 L1679.1,1017.6 L1680.1,1015.7 L1681.9,1013.9 L1684.7,1012.1 L1687.6,1010.2 L1690.7,1008.4 L1693.8,1006.6 L1697.1,1004.7 L1700.2,1002.9 L1702.7,1001.1 L1704.6,999.2 L1706.2,997.4 L1707.7,995.6 L1709.3,993.8 L1710.8,991.9 L1712.4,990.1 L1713.9,988.3 L1715.3,986.4 L1716.5,984.6 L1717.3,982.8 L1718,980.9 L1718.7,979.1 L1719.2,977.3 L1719.5,975.4 L1719.6,973.6 L1719.6,971.8 L1719.6,970 L1719.8,968.1 L1720.3,966.3 L1721,964.5 L1721.8,962.6 L1722.6,960.8 L1723.3,959 L1723.8,957.1 L1724,955.3 L1724,953.5 L1724,951.7 L1724,949.8 L1724,948 L1724,946.2 L1724,944.3 L1724,942.5 L1724,940.7 L1724,938.8 L1724,937 L1724,935.2 L1724,933.3 L1724,931.5 L1724,929.7 L1724.1,927.9 L1724.2,926 L1724.4,924.2 L1724.6,922.4 L1724.8,920.5 L1725,918.7 L1725.2,916.9 L1725.4,915 L1725.6,913.2 L1725.7,911.4 L1725.8,909.5 L1725.9,907.7 L1726,905.9 L1726,904.1 L1726.1,902.2 L1726.2,900.4 L1726.3,898.6 L1726.4,896.7 L1726.5,894.9 L1726.6,893.1 L1726.6,891.2 L1726.6,889.4 L1726.7,887.6 L1726.7,885.7 L1726.7,883.9 L1726.7,882.1 L1726.7,880.3 L1726.8,878.4 L1726.8,876.6 L1726.8,874.8 L1726.8,872.9 L1726.8,871.1 L1726.9,869.3 L1726.9,867.4 L1726.9,865.6 L1726.9,863.8 L1727,862 L1727,860.1 L1727,858.3 L1727,856.5 L1727,854.6 L1727.1,852.8 L1727.1,851 L1727.1,849.1 L1730.3,849.1 Z" fill="#b6c8e1" />
<path d="M1728.9,1140.2 L1731.6,1140.2 L1731.6,1138.4 L1731.6,1136.5 L1731.6,1134.7 L1731.7,1132.9 L1731.7,1131 L1731.7,1129.2 L1731.7,1127.4 L1731.7,1125.6 L1731.7,1123.7 L1731.7,1121.9 L1731.8,1120.1 L1731.8,1118.2 L1731.8,1116.4 L1731.8,1114.6 L1731.8,1112.7 L1731.8,1110.9 L1731.8,1109.1 L1731.8,1107.2 L1731.9,1105.4 L1731.9,1103.6 L1731.9,1101.8 L1731.9,1099.9 L1731.9,1098.1 L1731.9,1096.3 L1731.9,1094.4 L1732,1092.6 L1732,1090.8 L1732,1088.9 L1732,1087.1 L1732,1085.3 L1732,1083.5 L1732,1081.6 L1732.1,1079.8 L1732.1,1078 L1732.1,1076.1 L1732.1,1074.3 L1732.1,1072.5 L1732.2,1070.6 L1732.3,1068.8 L1732.3,1067 L1732.4,1065.1 L1732.5,1063.3 L1732.5,1061.5 L1732.7,1059.7 L1733.2,1057.8 L1733.9,1056 L1734.7,1054.2 L1735.6,1052.3 L1736.5,1050.5 L1737.4,1048.7 L1738.6,1046.8 L1740.6,1045 L1743.6,1043.2 L1747.2,1041.3 L1751.4,1039.5 L1756.2,1037.7 L1761.5,1035.9 L1766.2,1034 L1770.2,1032.2 L1773.4,1030.4 L1776.1,1028.5 L1778,1026.7 L1778.9,1024.9 L1779.5,1023 L1780,1021.2 L1780.2,1019.4 L1780.1,1017.6 L1779.1,1015.7 L1777.3,1013.9 L1774.5,1012.1 L1771.6,1010.2 L1768.5,1008.4 L1765.4,1006.6 L1762.1,1004.7 L1759,1002.9 L1756.5,1001.1 L1754.6,999.2 L1753,997.4 L1751.5,995.6 L1749.9,993.8 L1748.4,991.9 L1746.8,990.1 L1745.3,988.3 L1743.9,986.4 L1742.7,984.6 L1741.9,982.8 L1741.2,980.9 L1740.5,979.1 L1740,977.3 L1739.7,975.4 L1739.6,973.6 L1739.6,971.8 L1739.6,970 L1739.4,968.1 L1738.9,966.3 L1738.2,964.5 L1737.4,962.6 L1736.6,960.8 L1735.9,959 L1735.4,957.1 L1735.2,955.3 L1735.2,953.5 L1735.2,951.7 L1735.2,949.8 L1735.2,948 L1735.2,946.2 L1735.2,944.3 L1735.2,942.5 L1735.2,940.7 L1735.2,938.8 L1735.2,937 L1735.2,935.2 L1735.2,933.3 L1735.2,931.5 L1735.2,929.7 L1735.1,927.9 L1735,926 L1734.8,924.2 L1734.6,922.4 L1734.4,920.5 L1734.2,918.7 L1734,916.9 L1733.8,915 L1733.6,913.2 L1733.5,911.4 L1733.4,909.5 L1733.3,907.7 L1733.2,905.9 L1733.2,904.1 L1733.1,902.2 L1733,900.4 L1732.9,898.6 L1732.8,896.7 L1732.7,894.9 L1732.6,893.1 L1732.6,891.2 L1732.6,889.4 L1732.5,887.6 L1732.5,885.7 L1732.5,883.9 L1732.5,882.1 L1732.5,880.3 L1732.4,878.4 L1732.4,876.6 L1732.4,874.8 L1732.4,872.9 L1732.4,871.1 L1732.3,869.3 L1732.3,867.4 L1732.3,865.6 L1732.3,863.8 L1732.2,862 L1732.2,860.1 L1732.2,858.3 L1732.2,856.5 L1732.2,854.6 L1732.1,852.8 L1732.1,851 L1732.1,849.1 L1728.9,849.1 Z" fill="#b6c8e1" />
<g fill="#a8bdda" fill-opacity="0.8"><circle cx="1702.1" cy="1021.3" r="2.3"/><circle cx="1725.2" cy="992.8" r="2.3"/><circle cx="1726.9" cy="1028.6" r="2.3"/><circle cx="1727.9" cy="1033.7" r="2.3"/><circle cx="1707.9" cy="1031.5" r="2.3"/><circle cx="1727.7" cy="891.4" r="2.3"/><circle cx="1708.8" cy="1022" r="2.3"/><circle cx="1715.6" cy="1009.6" r="2.3"/><circle cx="1705.2" cy="1036.6" r="2.3"/><circle cx="1723.4" cy="1012.5" r="2.3"/><circle cx="1725.8" cy="1037.3" r="2.3"/><circle cx="1727.9" cy="945.4" r="2.3"/><circle cx="1686.2" cy="1012.5" r="2.3"/><circle cx="1723.7" cy="1043.2" r="2.3"/><circle cx="1684" cy="1018.4" r="2.3"/><circle cx="1717.3" cy="1030" r="2.3"/><circle cx="1725.9" cy="1027.1" r="2.3"/><circle cx="1695.7" cy="1010.4" r="2.3"/><circle cx="1726.4" cy="1019.8" r="2.3"/><circle cx="1701.5" cy="1008.2" r="2.3"/><circle cx="1714.7" cy="1011.1" r="2.3"/><circle cx="1714.6" cy="998" r="2.3"/><circle cx="1703.5" cy="1014" r="2.3"/><circle cx="1707.4" cy="1027.9" r="2.3"/><circle cx="1711.2" cy="1001.6" r="2.3"/><circle cx="1689.3" cy="1023.5" r="2.3"/><circle cx="1727.3" cy="996.5" r="2.3"/><circle cx="1719.4" cy="1031.5" r="2.3"/><circle cx="1727.8" cy="1062.9" r="2.3"/><circle cx="1705.3" cy="1011.8" r="2.3"/><circle cx="1728" cy="871.8" r="2.3"/><circle cx="1723.4" cy="1029.3" r="2.3"/><circle cx="1688.4" cy="1023.5" r="2.3"/><circle cx="1725.6" cy="1013.3" r="2.3"/><circle cx="1725.9" cy="1019.8" r="2.3"/><circle cx="1722.9" cy="1012.5" r="2.3"/><circle cx="1701.2" cy="1030" r="2.3"/><circle cx="1715.2" cy="997.2" r="2.3"/><circle cx="1698.1" cy="1025.7" r="2.3"/><circle cx="1727.9" cy="1026.4" r="2.3"/><circle cx="1696.2" cy="1026.4" r="2.3"/><circle cx="1719.9" cy="1012.5" r="2.3"/><circle cx="1711.3" cy="996.5" r="2.3"/><circle cx="1683.5" cy="1026.4" r="2.3"/><circle cx="1725.2" cy="1027.1" r="2.3"/><circle cx="1686.6" cy="1016.9" r="2.3"/><circle cx="1703.2" cy="1014" r="2.3"/><circle cx="1714.5" cy="1018.4" r="2.3"/><circle cx="1709.3" cy="1024.9" r="2.3"/><circle cx="1683.3" cy="1015.5" r="2.3"/><circle cx="1721.9" cy="1037.3" r="2.3"/><circle cx="1724.5" cy="962.9" r="2.3"/><circle cx="1716.1" cy="1036.6" r="2.3"/><circle cx="1690.8" cy="1011.1" r="2.3"/><circle cx="1701.5" cy="1035.9" r="2.3"/><circle cx="1720.3" cy="1003.8" r="2.3"/><circle cx="1688.6" cy="1016.2" r="2.3"/><circle cx="1696.2" cy="1027.9" r="2.3"/><circle cx="1724.7" cy="1015.5" r="2.3"/><circle cx="1709" cy="1026.4" r="2.3"/><circle cx="1692.2" cy="1032.2" r="2.3"/><circle cx="1717.5" cy="1027.1" r="2.3"/><circle cx="1704.1" cy="1014" r="2.3"/><circle cx="1712.8" cy="1024.2" r="2.3"/><circle cx="1684.4" cy="1017.6" r="2.3"/><circle cx="1703.3" cy="1036.6" r="2.3"/><circle cx="1723.3" cy="966.6" r="2.3"/><circle cx="1719" cy="1000.9" r="2.3"/><circle cx="1725.8" cy="941.1" r="2.3"/><circle cx="1710.9" cy="1009.6" r="2.3"/><circle cx="1697.3" cy="1028.6" r="2.3"/><circle cx="1728" cy="1006.7" r="2.3"/><circle cx="1703" cy="1024.9" r="2.3"/><circle cx="1722.4" cy="1028.6" r="2.3"/><circle cx="1727.6" cy="1030" r="2.3"/><circle cx="1714.3" cy="1033.7" r="2.3"/><circle cx="1697.5" cy="1017.6" r="2.3"/><circle cx="1722.2" cy="1024.9" r="2.3"/><circle cx="1723.3" cy="976.1" r="2.3"/><circle cx="1701.6" cy="1009.6" r="2.3"/><circle cx="1700.2" cy="1024.2" r="2.3"/><circle cx="1697.4" cy="1024.2" r="2.3"/><circle cx="1727.8" cy="999.4" r="2.3"/><circle cx="1725.3" cy="1001.6" r="2.3"/><circle cx="1728.1" cy="1057.8" r="2.3"/><circle cx="1687.4" cy="1015.5" r="2.3"/><circle cx="1727" cy="973.1" r="2.3"/><circle cx="1682.7" cy="1020.6" r="2.3"/><circle cx="1717.5" cy="987.7" r="2.3"/><circle cx="1715.5" cy="1027.1" r="2.3"/><circle cx="1718.2" cy="1032.2" r="2.3"/><circle cx="1689.8" cy="1021.3" r="2.3"/><circle cx="1721.2" cy="1011.1" r="2.3"/><circle cx="1709.8" cy="1030.8" r="2.3"/><circle cx="1722.4" cy="987" r="2.3"/><circle cx="1710.4" cy="1002.3" r="2.3"/><circle cx="1720.9" cy="989.9" r="2.3"/><circle cx="1706.3" cy="1022" r="2.3"/><circle cx="1721.5" cy="1000.9" r="2.3"/><circle cx="1693" cy="1030" r="2.3"/><circle cx="1697.3" cy="1018.4" r="2.3"/><circle cx="1726.5" cy="1030.8" r="2.3"/><circle cx="1709" cy="1028.6" r="2.3"/><circle cx="1725" cy="1043.2" r="2.3"/><circle cx="1725.6" cy="963.7" r="2.3"/><circle cx="1727.8" cy="1112.5" r="2.3"/><circle cx="1720.1" cy="1024.9" r="2.3"/><circle cx="1700.2" cy="1011.8" r="2.3"/><circle cx="1694.7" cy="1024.2" r="2.3"/><circle cx="1723" cy="990.7" r="2.3"/></g>
<g fill="#a8bdda" fill-opacity="0.8"><circle cx="1732.2" cy="979" r="2.3"/><circle cx="1754" cy="1015.5" r="2.3"/><circle cx="1732.2" cy="945.4" r="2.3"/><circle cx="1758.9" cy="1019.8" r="2.3"/><circle cx="1774.7" cy="1022" r="2.3"/><circle cx="1741.7" cy="989.9" r="2.3"/><circle cx="1751.7" cy="1038.8" r="2.3"/><circle cx="1759.4" cy="1015.5" r="2.3"/><circle cx="1755.7" cy="1016.2" r="2.3"/><circle cx="1733.1" cy="970.2" r="2.3"/><circle cx="1769.1" cy="1032.2" r="2.3"/><circle cx="1743.8" cy="1027.1" r="2.3"/><circle cx="1774.4" cy="1019.8" r="2.3"/><circle cx="1731.6" cy="1022" r="2.3"/><circle cx="1741.6" cy="1026.4" r="2.3"/><circle cx="1734.8" cy="1051.2" r="2.3"/><circle cx="1735.6" cy="1006.7" r="2.3"/><circle cx="1775.8" cy="1027.9" r="2.3"/><circle cx="1747.7" cy="1008.9" r="2.3"/><circle cx="1777" cy="1014.7" r="2.3"/><circle cx="1759.8" cy="1027.9" r="2.3"/><circle cx="1731.5" cy="1057.8" r="2.3"/><circle cx="1746.5" cy="1027.9" r="2.3"/><circle cx="1751.6" cy="1021.3" r="2.3"/><circle cx="1735.3" cy="986.3" r="2.3"/><circle cx="1734" cy="1052.7" r="2.3"/><circle cx="1737.5" cy="974.6" r="2.3"/><circle cx="1747.6" cy="1025.7" r="2.3"/><circle cx="1733.4" cy="1004.5" r="2.3"/><circle cx="1741.5" cy="1038.8" r="2.3"/><circle cx="1752.1" cy="1027.9" r="2.3"/><circle cx="1768.9" cy="1031.5" r="2.3"/><circle cx="1747.7" cy="1017.6" r="2.3"/><circle cx="1743.9" cy="1024.9" r="2.3"/><circle cx="1752.7" cy="1003.1" r="2.3"/><circle cx="1755.1" cy="1002.3" r="2.3"/><circle cx="1748.1" cy="1013.3" r="2.3"/><circle cx="1737.4" cy="1020.6" r="2.3"/><circle cx="1754.1" cy="1022.8" r="2.3"/><circle cx="1740.9" cy="992.8" r="2.3"/><circle cx="1748" cy="1035.2" r="2.3"/><circle cx="1769.2" cy="1023.5" r="2.3"/><circle cx="1743.5" cy="997.2" r="2.3"/><circle cx="1748.2" cy="1011.1" r="2.3"/><circle cx="1768.3" cy="1026.4" r="2.3"/><circle cx="1746.9" cy="1003.8" r="2.3"/><circle cx="1737.3" cy="971" r="2.3"/><circle cx="1734.9" cy="1008.9" r="2.3"/><circle cx="1731.3" cy="943.2" r="2.3"/><circle cx="1736.3" cy="1029.3" r="2.3"/><circle cx="1759.5" cy="1030.8" r="2.3"/><circle cx="1737.1" cy="1015.5" r="2.3"/><circle cx="1763.3" cy="1029.3" r="2.3"/><circle cx="1741.1" cy="1024.9" r="2.3"/><circle cx="1737.2" cy="1000.9" r="2.3"/><circle cx="1746.3" cy="1035.9" r="2.3"/><circle cx="1731.1" cy="1006.7" r="2.3"/><circle cx="1739" cy="1012.5" r="2.3"/><circle cx="1738.8" cy="992.1" r="2.3"/><circle cx="1746.9" cy="1023.5" r="2.3"/><circle cx="1732" cy="1036.6" r="2.3"/><circle cx="1754.8" cy="1017.6" r="2.3"/><circle cx="1735.5" cy="1031.5" r="2.3"/><circle cx="1775.5" cy="1019.8" r="2.3"/><circle cx="1745" cy="1038.8" r="2.3"/><circle cx="1733.3" cy="969.5" r="2.3"/><circle cx="1757.3" cy="1022.8" r="2.3"/><circle cx="1732.3" cy="1027.9" r="2.3"/><circle cx="1765" cy="1032.2" r="2.3"/><circle cx="1773.5" cy="1020.6" r="2.3"/><circle cx="1761.6" cy="1030.8" r="2.3"/><circle cx="1747.3" cy="1028.6" r="2.3"/><circle cx="1763.4" cy="1006" r="2.3"/><circle cx="1732.1" cy="906.8" r="2.3"/><circle cx="1753.6" cy="1033.7" r="2.3"/><circle cx="1740.6" cy="1007.4" r="2.3"/><circle cx="1746.6" cy="1015.5" r="2.3"/><circle cx="1760.4" cy="1009.6" r="2.3"/><circle cx="1739" cy="1009.6" r="2.3"/><circle cx="1731.1" cy="1075.3" r="2.3"/><circle cx="1733.9" cy="1018.4" r="2.3"/><circle cx="1757.8" cy="1007.4" r="2.3"/><circle cx="1750.2" cy="1008.9" r="2.3"/><circle cx="1732.5" cy="933.8" r="2.3"/><circle cx="1771.1" cy="1022.8" r="2.3"/><circle cx="1755.7" cy="1014" r="2.3"/><circle cx="1740.9" cy="1019.8" r="2.3"/><circle cx="1749.2" cy="1026.4" r="2.3"/><circle cx="1741.5" cy="1001.6" r="2.3"/><circle cx="1737.8" cy="1024.9" r="2.3"/><circle cx="1738.8" cy="999.4" r="2.3"/><circle cx="1733.2" cy="1022" r="2.3"/><circle cx="1743.8" cy="1008.2" r="2.3"/><circle cx="1748.2" cy="1024.9" r="2.3"/><circle cx="1747.8" cy="1026.4" r="2.3"/><circle cx="1745.1" cy="1024.2" r="2.3"/><circle cx="1755.5" cy="1002.3" r="2.3"/><circle cx="1738.8" cy="1016.2" r="2.3"/><circle cx="1744.3" cy="1031.5" r="2.3"/><circle cx="1741" cy="984.1" r="2.3"/><circle cx="1734.5" cy="1034.4" r="2.3"/><circle cx="1737" cy="978.3" r="2.3"/><circle cx="1763.6" cy="1018.4" r="2.3"/><circle cx="1738.4" cy="1015.5" r="2.3"/><circle cx="1731.3" cy="977.5" r="2.3"/><circle cx="1732.7" cy="1023.5" r="2.3"/><circle cx="1734.6" cy="1039.5" r="2.3"/><circle cx="1768.9" cy="1030.8" r="2.3"/><circle cx="1760.8" cy="1015.5" r="2.3"/><circle cx="1742.9" cy="996.5" r="2.3"/></g>
<line x1="1130.7" y1="1018.5" x2="1804" y2="1018.5" stroke="#000" stroke-width="3.8" stroke-dasharray="18.5 18.5"/>
<rect x="1193.6" y="1015.2" width="26.8" height="6.6" fill="#fff" stroke="none" stroke-width="0" />
<text x="1205.7" y="1004.9" font-size="18.4" text-anchor="middle" fill="#000" >110</text>
<rect x="1323.6" y="1009.6" width="26.8" height="6.6" fill="#fff" stroke="none" stroke-width="0" />
<text x="1335" y="998.6" font-size="18.4" text-anchor="middle" fill="#000" >115</text>
<rect x="1452.9" y="1011.8" width="26.8" height="6.6" fill="#fff" stroke="none" stroke-width="0" />
<text x="1468.8" y="1000.6" font-size="18.4" text-anchor="middle" fill="#000" >113</text>
<rect x="1582" y="1011.8" width="26.8" height="6.6" fill="#fff" stroke="none" stroke-width="0" />
<text x="1596" y="998.3" font-size="18.4" text-anchor="middle" fill="#000" >113</text>
<rect x="1711.4" y="1012.9" width="26.8" height="6.6" fill="#fff" stroke="none" stroke-width="0" />
<text x="1726.7" y="1002" font-size="18.4" text-anchor="middle" fill="#000" >112</text>
<line x1="1130.7" y1="791.6" x2="1130.7" y2="1157.8" stroke="#000" stroke-width="2.2" />
<line x1="1129.7" y1="1156.8" x2="1804" y2="1156.8" stroke="#000" stroke-width="2.2" />
<line x1="1120.2" y1="1140.2" x2="1130.7" y2="1140.2" stroke="#000" stroke-width="1.5" />
<text x="1108.5" y="1147.5" font-size="20" text-anchor="end" fill="#000" >0</text>
<line x1="1120.2" y1="1029.5" x2="1130.7" y2="1029.5" stroke="#000" stroke-width="1.5" />
<text x="1108.5" y="1036.8" font-size="20" text-anchor="end" fill="#000" >100</text>
<line x1="1120.2" y1="918.9" x2="1130.7" y2="918.9" stroke="#000" stroke-width="1.5" />
<text x="1108.5" y="926.2" font-size="20" text-anchor="end" fill="#000" >200</text>
<line x1="1120.2" y1="808.2" x2="1130.7" y2="808.2" stroke="#000" stroke-width="1.5" />
<text x="1108.5" y="815.5" font-size="20" text-anchor="end" fill="#000" >300</text>
<text x="0" y="0" font-size="20.5" text-anchor="middle" fill="#000" transform="translate(1049,974.6) rotate(-90)">Poly(A) length</text>
<text x="1204" y="782.4" font-size="20" text-anchor="middle" fill="#000" >0 h</text>
<text x="1331.5" y="782.4" font-size="20" text-anchor="middle" fill="#000" >12 h</text>
<text x="1462.4" y="782.4" font-size="20" text-anchor="middle" fill="#000" >24 h</text>
<text x="1592.2" y="782.4" font-size="20" text-anchor="middle" fill="#000" >48 h</text>
<text x="1721.2" y="782.4" font-size="20" text-anchor="middle" fill="#000" >72 h</text>
<text x="1340.5" y="814.6" font-size="20.5" text-anchor="middle"><tspan font-style="italic">P</tspan> =</text>
<text x="1340.5" y="837" font-size="20.5" text-anchor="middle">7.2 &#215; 10<tspan dy="-8" font-size="14.3">&#8722;11</tspan></text>
<text x="1478.3" y="814.6" font-size="20.5" text-anchor="middle"><tspan font-style="italic">P</tspan> =</text>
<text x="1478.3" y="837" font-size="20.5" text-anchor="middle">2.87 &#215; 10<tspan dy="-8" font-size="14.3">&#8722;6</tspan></text>
<text x="1611.5" y="814.6" font-size="20.5" text-anchor="middle"><tspan font-style="italic">P</tspan> =</text>
<text x="1611.5" y="837" font-size="20.5" text-anchor="middle">5.52 &#215; 10<tspan dy="-8" font-size="14.3">&#8722;9</tspan></text>
<text x="1730.7" y="830.3" font-size="20.5" text-anchor="middle"><tspan font-style="italic">P</tspan> = 0.005</text>
<rect x="1212.7" y="906.4" width="75.5" height="20" fill="#fff" stroke="#2f51a0" stroke-width="1.3" rx="4"/>
<text x="1252.4" y="922.5" font-size="17.2" text-anchor="middle" fill="#2f51a0"  textLength="63.6" lengthAdjust="spacingAndGlyphs">15.59%</text>
<rect x="1342.2" y="906.4" width="75.5" height="20" fill="#fff" stroke="#2f51a0" stroke-width="1.3" rx="4"/>
<text x="1381.9" y="922.5" font-size="17.2" text-anchor="middle" fill="#2f51a0"  textLength="63.6" lengthAdjust="spacingAndGlyphs">25.31%</text>
<rect x="1471.1" y="906.4" width="75.6" height="20" fill="#fff" stroke="#2f51a0" stroke-width="1.3" rx="4"/>
<text x="1510.8" y="922.5" font-size="17.2" text-anchor="middle" fill="#2f51a0"  textLength="63.6" lengthAdjust="spacingAndGlyphs">24.17%</text>
<rect x="1601" y="906.4" width="75.5" height="20" fill="#fff" stroke="#2f51a0" stroke-width="1.3" rx="4"/>
<text x="1640.7" y="922.5" font-size="17.2" text-anchor="middle" fill="#2f51a0"  textLength="63.6" lengthAdjust="spacingAndGlyphs">25.10%</text>
<rect x="1726.7" y="906.4" width="73.1" height="20" fill="#fff" stroke="#2f51a0" stroke-width="1.3" rx="4"/>
<text x="1765.2" y="922.5" font-size="17.2" text-anchor="middle" fill="#2f51a0"  textLength="63.6" lengthAdjust="spacingAndGlyphs">24.31%</text>
<rect x="1212.7" y="1093.7" width="75.5" height="20" fill="#fff" stroke="#e0262a" stroke-width="1.3" rx="4"/>
<text x="1252.4" y="1109.8" font-size="17.2" text-anchor="middle" fill="#e0262a"  textLength="53.2" lengthAdjust="spacingAndGlyphs">7.78%</text>
<rect x="1342.2" y="1093.7" width="75.5" height="20" fill="#fff" stroke="#e0262a" stroke-width="1.3" rx="4"/>
<text x="1381.9" y="1109.8" font-size="17.2" text-anchor="middle" fill="#e0262a"  textLength="53.2" lengthAdjust="spacingAndGlyphs">7.66%</text>
<rect x="1471.1" y="1093.7" width="75.6" height="20" fill="#fff" stroke="#e0262a" stroke-width="1.3" rx="4"/>
<text x="1510.8" y="1109.8" font-size="17.2" text-anchor="middle" fill="#e0262a"  textLength="53.2" lengthAdjust="spacingAndGlyphs">7.92%</text>
<rect x="1601" y="1093.7" width="75.5" height="20" fill="#fff" stroke="#e0262a" stroke-width="1.3" rx="4"/>
<text x="1640.7" y="1109.8" font-size="17.2" text-anchor="middle" fill="#e0262a"  textLength="53.2" lengthAdjust="spacingAndGlyphs">5.91%</text>
<rect x="1730" y="1093.7" width="68.9" height="20" fill="#fff" stroke="#e0262a" stroke-width="1.3" rx="4"/>
<text x="1766.4" y="1109.8" font-size="17.2" text-anchor="middle" fill="#e0262a"  textLength="53.2" lengthAdjust="spacingAndGlyphs">7.61%</text>
<text font-size="20.8" text-anchor="middle" transform="translate(1827,934.4) rotate(-90)">Re-adenylation</text>
<text font-size="20.8" text-anchor="middle" transform="translate(1827,1088.3) rotate(-90)">Deadenylation</text>
<line x1="1839.8" y1="884" x2="1839.8" y2="1011.4" stroke="#2d4d9c" stroke-width="2.8" />
<path d="M1839.8,874.8 L1833.6,889 L1839.8,886.1 L1846,889 Z" fill="#2d4d9c"/>
<line x1="1839.8" y1="1017.6" x2="1839.8" y2="1144" stroke="#e0262a" stroke-width="2.8" />
<path d="M1839.8,1153.6 L1833.6,1139.4 L1839.8,1142.3 L1846,1139.4 Z" fill="#e0262a"/>
<text x="1033" y="727" font-size="33" font-weight="bold">d</text>
<line x1="1133.8" y1="1168" x2="1133.8" y2="1196.3" stroke="#c4c4c4" stroke-width="2.2" />
<line x1="1227.7" y1="1168" x2="1227.7" y2="1196.3" stroke="#c4c4c4" stroke-width="2.2" />
<line x1="1363.8" y1="1168" x2="1363.8" y2="1196.3" stroke="#c4c4c4" stroke-width="2.2" />
<line x1="1496.5" y1="1168" x2="1496.5" y2="1196.3" stroke="#c4c4c4" stroke-width="2.2" />
<line x1="1632" y1="1168" x2="1632" y2="1196.3" stroke="#c4c4c4" stroke-width="2.2" />
<line x1="1766.3" y1="1168" x2="1766.3" y2="1196.3" stroke="#c4c4c4" stroke-width="2.2" />
<text x="1138.5" y="1187.8" font-size="16.8"><tspan font-style="italic">n</tspan> = 17,206</text>
<rect x="1268.5" y="1173.6" width="96.7" height="18" fill="#afc3de" stroke="none" stroke-width="0" />
<line x1="1268.5" y1="1168" x2="1268.5" y2="1196.3" stroke="#c4c4c4" stroke-width="2.2" />
<text x="1273.5" y="1187.8" font-size="16.8"><tspan font-style="italic">n</tspan> = 901</text>
<rect x="1403" y="1173.6" width="73.1" height="18" fill="#afc3de" stroke="none" stroke-width="0" />
<line x1="1403" y1="1168" x2="1403" y2="1196.3" stroke="#c4c4c4" stroke-width="2.2" />
<text x="1408" y="1187.8" font-size="16.8"><tspan font-style="italic">n</tspan> = 720</text>
<rect x="1537.8" y="1173.6" width="93.2" height="18" fill="#afc3de" stroke="none" stroke-width="0" />
<line x1="1537.8" y1="1168" x2="1537.8" y2="1196.3" stroke="#c4c4c4" stroke-width="2.2" />
<text x="1542.8" y="1187.8" font-size="16.8"><tspan font-style="italic">n</tspan> = 745</text>
<rect x="1672.4" y="1173.6" width="66.8" height="18" fill="#afc3de" stroke="none" stroke-width="0" />
<line x1="1672.4" y1="1168" x2="1672.4" y2="1196.3" stroke="#c4c4c4" stroke-width="2.2" />
<text x="1677.4" y="1187.8" font-size="16.8"><tspan font-style="italic">n</tspan> = 473</text>
<text x="1133.8" y="1222.4" font-size="19" text-anchor="middle" fill="#000"  textLength="30.6" lengthAdjust="spacingAndGlyphs">0%</text>
<text x="1228" y="1222.4" font-size="19" text-anchor="middle" fill="#000"  textLength="58" lengthAdjust="spacingAndGlyphs">0.08%</text>
<text x="1280.8" y="1222.4" font-size="19" text-anchor="middle" fill="#000"  textLength="30.6" lengthAdjust="spacingAndGlyphs">0%</text>
<text x="1362.6" y="1222.4" font-size="19" text-anchor="middle" fill="#000"  textLength="58" lengthAdjust="spacingAndGlyphs">0.08%</text>
<text x="1416" y="1222.4" font-size="19" text-anchor="middle" fill="#000"  textLength="30.6" lengthAdjust="spacingAndGlyphs">0%</text>
<text x="1496.8" y="1222.4" font-size="19" text-anchor="middle" fill="#000"  textLength="58" lengthAdjust="spacingAndGlyphs">0.08%</text>
<text x="1550.6" y="1222.4" font-size="19" text-anchor="middle" fill="#000"  textLength="30.6" lengthAdjust="spacingAndGlyphs">0%</text>
<text x="1631" y="1222.4" font-size="19" text-anchor="middle" fill="#000"  textLength="58" lengthAdjust="spacingAndGlyphs">0.08%</text>
<text x="1684.5" y="1222.4" font-size="19" text-anchor="middle" fill="#000"  textLength="30.6" lengthAdjust="spacingAndGlyphs">0%</text>
<text x="1765" y="1222.4" font-size="19" text-anchor="middle" fill="#000"  textLength="58" lengthAdjust="spacingAndGlyphs">0.08%</text>
<text x="1471.3" y="1258" font-size="20.8" text-anchor="middle" fill="#000"  textLength="523.3" lengthAdjust="spacingAndGlyphs">Abundance of BNT162b2 reads (relative to endogenous)</text>
<text x="1874" y="727" font-size="33" font-weight="bold">e</text>
<line x1="1971.6" y1="727.8" x2="1971.6" y2="1153.7" stroke="#000" stroke-width="2" />
<line x1="1970.6" y1="1152.7" x2="2167" y2="1152.7" stroke="#000" stroke-width="2" />
<line x1="1962" y1="1133.7" x2="1971.6" y2="1133.7" stroke="#000" stroke-width="1.8" />
<text x="1950" y="1140.7" font-size="20" text-anchor="end" fill="#000" >0</text>
<line x1="1962" y1="1047.9" x2="1971.6" y2="1047.9" stroke="#000" stroke-width="1.8" />
<text x="1950" y="1054.9" font-size="20" text-anchor="end" fill="#000" >100</text>
<line x1="1962" y1="962.2" x2="1971.6" y2="962.2" stroke="#000" stroke-width="1.8" />
<text x="1950" y="969.2" font-size="20" text-anchor="end" fill="#000" >200</text>
<line x1="1962" y1="876.4" x2="1971.6" y2="876.4" stroke="#000" stroke-width="1.8" />
<text x="1950" y="883.4" font-size="20" text-anchor="end" fill="#000" >300</text>
<line x1="1962" y1="790.6" x2="1971.6" y2="790.6" stroke="#000" stroke-width="1.8" />
<text x="1950" y="797.6" font-size="20" text-anchor="end" fill="#000" >400</text>
<line x1="2025.6" y1="1152.7" x2="2025.6" y2="1163" stroke="#000" stroke-width="1.8" />
<line x1="2112.4" y1="1152.7" x2="2112.4" y2="1163" stroke="#000" stroke-width="1.8" />
<text font-size="20.5" text-anchor="middle" transform="translate(1894,941.5) rotate(-90)">Spike protein (pg ml<tspan dy="-8" font-size="13.6">&#8722;1</tspan><tspan dy="8">)</tspan></text>
<text x="2076.8" y="750.6" font-size="20.5" text-anchor="middle"><tspan font-style="italic">P</tspan> = 0.000261</text>
<line x1="2017.6" y1="758.7" x2="2137.5" y2="758.7" stroke="#000" stroke-width="1.8" />
<text font-size="20.5" text-anchor="end" transform="translate(2037,1183) rotate(-45)">mRNA-1273</text>
<text font-size="20.5" text-anchor="end" transform="translate(2125,1183) rotate(-45)">BNT162b2</text>
<circle cx="2017.4" cy="777.6" r="6" fill="#000"/>
<circle cx="2035.6" cy="783.7" r="6" fill="#000"/>
<circle cx="2022.9" cy="802.4" r="6" fill="#000"/>
<circle cx="2035.2" cy="803.1" r="6" fill="#000"/>
<circle cx="2124.2" cy="922.6" r="6" fill="#000"/>
<circle cx="2123.5" cy="969.5" r="6" fill="#000"/>
<circle cx="2120.5" cy="968.5" r="6" fill="#000"/>
<circle cx="2109.2" cy="988.1" r="6" fill="#000"/>
<line x1="1995.3" y1="791.3" x2="2055.5" y2="791.3" stroke="#e8262b" stroke-width="3" />
<line x1="2025.6" y1="784.7" x2="2025.6" y2="798" stroke="#e8262b" stroke-width="2.2" />
<line x1="2020" y1="784.7" x2="2031.8" y2="784.7" stroke="#e8262b" stroke-width="2.2" />
<line x1="2020" y1="798" x2="2031.8" y2="798" stroke="#e8262b" stroke-width="2.2" />
<line x1="2082.5" y1="962.6" x2="2143.2" y2="962.6" stroke="#e8262b" stroke-width="3" />
<line x1="2112.4" y1="948.3" x2="2112.4" y2="976.8" stroke="#e8262b" stroke-width="2.2" />
<line x1="2106.7" y1="948.3" x2="2118.6" y2="948.3" stroke="#e8262b" stroke-width="2.2" />
<line x1="2106.7" y1="976.8" x2="2118.6" y2="976.8" stroke="#e8262b" stroke-width="2.2" />
</svg>
</body></html>
